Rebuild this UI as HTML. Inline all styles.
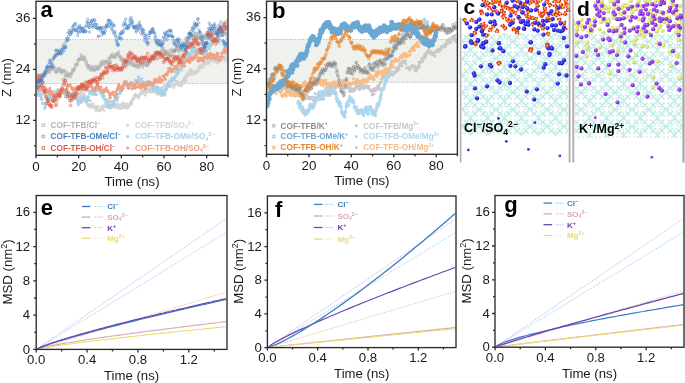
<!DOCTYPE html>
<html><head><meta charset="utf-8"><style>
html,body{margin:0;padding:0;background:#fff;}
svg{display:block;font-family:"Liberation Sans", sans-serif;will-change:transform;}
</style></head><body>
<svg width="685" height="383" viewBox="0 0 685 383">
<rect width="685" height="383" fill="#fff"/>
<defs>
<clipPath id="clip_a"><rect x="36.7" y="2.0" width="190.6" height="152.6"/></clipPath>
<clipPath id="clip_b"><rect x="267.2" y="1.9" width="189.5" height="151.7"/></clipPath>
</defs>
<rect x="36.0" y="39.6" width="192.0" height="43.9" fill="#eff1ec"/>
<path d="M36.0 39.6H228.0M36.0 83.5H228.0" stroke="#9a9a9a" stroke-width="0.8" stroke-dasharray="1 1.6" fill="none"/>
<g clip-path="url(#clip_a)">
<path d="M35.0 92.7a1.4 1.4 0 1 0 2.9 0a1.4 1.4 0 1 0 -2.9 0M35.5 91.8a1.4 1.4 0 1 0 2.9 0a1.4 1.4 0 1 0 -2.9 0M36.0 91.9a1.4 1.4 0 1 0 2.9 0a1.4 1.4 0 1 0 -2.9 0M36.5 92.5a1.4 1.4 0 1 0 2.9 0a1.4 1.4 0 1 0 -2.9 0M37.0 93.0a1.4 1.4 0 1 0 2.9 0a1.4 1.4 0 1 0 -2.9 0M37.5 91.3a1.4 1.4 0 1 0 2.9 0a1.4 1.4 0 1 0 -2.9 0M38.0 91.4a1.4 1.4 0 1 0 2.9 0a1.4 1.4 0 1 0 -2.9 0M38.5 92.6a1.4 1.4 0 1 0 2.9 0a1.4 1.4 0 1 0 -2.9 0M39.0 93.9a1.4 1.4 0 1 0 2.9 0a1.4 1.4 0 1 0 -2.9 0M39.5 92.6a1.4 1.4 0 1 0 2.9 0a1.4 1.4 0 1 0 -2.9 0M40.0 97.6a1.4 1.4 0 1 0 2.9 0a1.4 1.4 0 1 0 -2.9 0M40.5 94.5a1.4 1.4 0 1 0 2.9 0a1.4 1.4 0 1 0 -2.9 0M41.0 92.6a1.4 1.4 0 1 0 2.9 0a1.4 1.4 0 1 0 -2.9 0M41.5 94.2a1.4 1.4 0 1 0 2.9 0a1.4 1.4 0 1 0 -2.9 0M42.0 92.4a1.4 1.4 0 1 0 2.9 0a1.4 1.4 0 1 0 -2.9 0M42.5 92.8a1.4 1.4 0 1 0 2.9 0a1.4 1.4 0 1 0 -2.9 0M43.0 93.2a1.4 1.4 0 1 0 2.9 0a1.4 1.4 0 1 0 -2.9 0M43.5 93.1a1.4 1.4 0 1 0 2.9 0a1.4 1.4 0 1 0 -2.9 0M44.0 96.3a1.4 1.4 0 1 0 2.9 0a1.4 1.4 0 1 0 -2.9 0M44.5 92.6a1.4 1.4 0 1 0 2.9 0a1.4 1.4 0 1 0 -2.9 0M45.0 94.6a1.4 1.4 0 1 0 2.9 0a1.4 1.4 0 1 0 -2.9 0M45.5 95.0a1.4 1.4 0 1 0 2.9 0a1.4 1.4 0 1 0 -2.9 0M46.0 97.2a1.4 1.4 0 1 0 2.9 0a1.4 1.4 0 1 0 -2.9 0M46.5 93.0a1.4 1.4 0 1 0 2.9 0a1.4 1.4 0 1 0 -2.9 0M47.0 93.7a1.4 1.4 0 1 0 2.9 0a1.4 1.4 0 1 0 -2.9 0M47.5 93.7a1.4 1.4 0 1 0 2.9 0a1.4 1.4 0 1 0 -2.9 0M48.0 95.4a1.4 1.4 0 1 0 2.9 0a1.4 1.4 0 1 0 -2.9 0M48.5 94.4a1.4 1.4 0 1 0 2.9 0a1.4 1.4 0 1 0 -2.9 0M49.0 96.3a1.4 1.4 0 1 0 2.9 0a1.4 1.4 0 1 0 -2.9 0M49.5 94.5a1.4 1.4 0 1 0 2.9 0a1.4 1.4 0 1 0 -2.9 0M50.0 96.3a1.4 1.4 0 1 0 2.9 0a1.4 1.4 0 1 0 -2.9 0M50.5 97.1a1.4 1.4 0 1 0 2.9 0a1.4 1.4 0 1 0 -2.9 0M51.0 94.8a1.4 1.4 0 1 0 2.9 0a1.4 1.4 0 1 0 -2.9 0M51.5 96.6a1.4 1.4 0 1 0 2.9 0a1.4 1.4 0 1 0 -2.9 0M52.0 93.7a1.4 1.4 0 1 0 2.9 0a1.4 1.4 0 1 0 -2.9 0M52.5 91.4a1.4 1.4 0 1 0 2.9 0a1.4 1.4 0 1 0 -2.9 0M53.0 97.4a1.4 1.4 0 1 0 2.9 0a1.4 1.4 0 1 0 -2.9 0M53.5 95.5a1.4 1.4 0 1 0 2.9 0a1.4 1.4 0 1 0 -2.9 0M54.0 94.0a1.4 1.4 0 1 0 2.9 0a1.4 1.4 0 1 0 -2.9 0M54.5 96.3a1.4 1.4 0 1 0 2.9 0a1.4 1.4 0 1 0 -2.9 0M55.0 95.6a1.4 1.4 0 1 0 2.9 0a1.4 1.4 0 1 0 -2.9 0M55.5 90.9a1.4 1.4 0 1 0 2.9 0a1.4 1.4 0 1 0 -2.9 0M56.0 89.8a1.4 1.4 0 1 0 2.9 0a1.4 1.4 0 1 0 -2.9 0M56.5 89.7a1.4 1.4 0 1 0 2.9 0a1.4 1.4 0 1 0 -2.9 0M57.0 92.3a1.4 1.4 0 1 0 2.9 0a1.4 1.4 0 1 0 -2.9 0M57.5 89.8a1.4 1.4 0 1 0 2.9 0a1.4 1.4 0 1 0 -2.9 0M58.0 94.2a1.4 1.4 0 1 0 2.9 0a1.4 1.4 0 1 0 -2.9 0M58.5 91.3a1.4 1.4 0 1 0 2.9 0a1.4 1.4 0 1 0 -2.9 0M59.0 91.4a1.4 1.4 0 1 0 2.9 0a1.4 1.4 0 1 0 -2.9 0M59.5 89.8a1.4 1.4 0 1 0 2.9 0a1.4 1.4 0 1 0 -2.9 0M60.0 93.1a1.4 1.4 0 1 0 2.9 0a1.4 1.4 0 1 0 -2.9 0M60.5 92.1a1.4 1.4 0 1 0 2.9 0a1.4 1.4 0 1 0 -2.9 0M61.0 91.3a1.4 1.4 0 1 0 2.9 0a1.4 1.4 0 1 0 -2.9 0M61.5 91.3a1.4 1.4 0 1 0 2.9 0a1.4 1.4 0 1 0 -2.9 0M62.0 91.1a1.4 1.4 0 1 0 2.9 0a1.4 1.4 0 1 0 -2.9 0M62.5 90.5a1.4 1.4 0 1 0 2.9 0a1.4 1.4 0 1 0 -2.9 0M63.0 90.5a1.4 1.4 0 1 0 2.9 0a1.4 1.4 0 1 0 -2.9 0M63.5 92.7a1.4 1.4 0 1 0 2.9 0a1.4 1.4 0 1 0 -2.9 0M64.0 95.1a1.4 1.4 0 1 0 2.9 0a1.4 1.4 0 1 0 -2.9 0M64.5 93.4a1.4 1.4 0 1 0 2.9 0a1.4 1.4 0 1 0 -2.9 0M65.0 92.9a1.4 1.4 0 1 0 2.9 0a1.4 1.4 0 1 0 -2.9 0M65.5 92.5a1.4 1.4 0 1 0 2.9 0a1.4 1.4 0 1 0 -2.9 0M66.0 95.4a1.4 1.4 0 1 0 2.9 0a1.4 1.4 0 1 0 -2.9 0M66.5 92.8a1.4 1.4 0 1 0 2.9 0a1.4 1.4 0 1 0 -2.9 0M67.0 94.2a1.4 1.4 0 1 0 2.9 0a1.4 1.4 0 1 0 -2.9 0M67.5 93.5a1.4 1.4 0 1 0 2.9 0a1.4 1.4 0 1 0 -2.9 0M68.0 94.1a1.4 1.4 0 1 0 2.9 0a1.4 1.4 0 1 0 -2.9 0M68.5 95.1a1.4 1.4 0 1 0 2.9 0a1.4 1.4 0 1 0 -2.9 0M69.0 94.3a1.4 1.4 0 1 0 2.9 0a1.4 1.4 0 1 0 -2.9 0M69.5 93.4a1.4 1.4 0 1 0 2.9 0a1.4 1.4 0 1 0 -2.9 0M70.0 94.2a1.4 1.4 0 1 0 2.9 0a1.4 1.4 0 1 0 -2.9 0M70.5 93.1a1.4 1.4 0 1 0 2.9 0a1.4 1.4 0 1 0 -2.9 0M71.0 96.2a1.4 1.4 0 1 0 2.9 0a1.4 1.4 0 1 0 -2.9 0M71.5 95.7a1.4 1.4 0 1 0 2.9 0a1.4 1.4 0 1 0 -2.9 0M72.0 92.4a1.4 1.4 0 1 0 2.9 0a1.4 1.4 0 1 0 -2.9 0M72.5 90.9a1.4 1.4 0 1 0 2.9 0a1.4 1.4 0 1 0 -2.9 0M73.0 92.9a1.4 1.4 0 1 0 2.9 0a1.4 1.4 0 1 0 -2.9 0M73.5 96.7a1.4 1.4 0 1 0 2.9 0a1.4 1.4 0 1 0 -2.9 0M74.0 93.4a1.4 1.4 0 1 0 2.9 0a1.4 1.4 0 1 0 -2.9 0M74.5 95.5a1.4 1.4 0 1 0 2.9 0a1.4 1.4 0 1 0 -2.9 0M75.0 92.7a1.4 1.4 0 1 0 2.9 0a1.4 1.4 0 1 0 -2.9 0M75.5 93.4a1.4 1.4 0 1 0 2.9 0a1.4 1.4 0 1 0 -2.9 0M76.0 91.2a1.4 1.4 0 1 0 2.9 0a1.4 1.4 0 1 0 -2.9 0M76.5 94.1a1.4 1.4 0 1 0 2.9 0a1.4 1.4 0 1 0 -2.9 0M77.0 96.8a1.4 1.4 0 1 0 2.9 0a1.4 1.4 0 1 0 -2.9 0M77.5 96.7a1.4 1.4 0 1 0 2.9 0a1.4 1.4 0 1 0 -2.9 0M78.0 93.3a1.4 1.4 0 1 0 2.9 0a1.4 1.4 0 1 0 -2.9 0M78.5 98.4a1.4 1.4 0 1 0 2.9 0a1.4 1.4 0 1 0 -2.9 0M79.0 94.8a1.4 1.4 0 1 0 2.9 0a1.4 1.4 0 1 0 -2.9 0M79.5 92.3a1.4 1.4 0 1 0 2.9 0a1.4 1.4 0 1 0 -2.9 0M80.0 96.4a1.4 1.4 0 1 0 2.9 0a1.4 1.4 0 1 0 -2.9 0M80.5 96.9a1.4 1.4 0 1 0 2.9 0a1.4 1.4 0 1 0 -2.9 0M81.0 95.9a1.4 1.4 0 1 0 2.9 0a1.4 1.4 0 1 0 -2.9 0M81.5 96.6a1.4 1.4 0 1 0 2.9 0a1.4 1.4 0 1 0 -2.9 0M82.0 94.3a1.4 1.4 0 1 0 2.9 0a1.4 1.4 0 1 0 -2.9 0M82.5 93.7a1.4 1.4 0 1 0 2.9 0a1.4 1.4 0 1 0 -2.9 0M83.0 95.6a1.4 1.4 0 1 0 2.9 0a1.4 1.4 0 1 0 -2.9 0M83.5 97.0a1.4 1.4 0 1 0 2.9 0a1.4 1.4 0 1 0 -2.9 0M84.0 99.2a1.4 1.4 0 1 0 2.9 0a1.4 1.4 0 1 0 -2.9 0M84.5 101.3a1.4 1.4 0 1 0 2.9 0a1.4 1.4 0 1 0 -2.9 0M85.0 102.1a1.4 1.4 0 1 0 2.9 0a1.4 1.4 0 1 0 -2.9 0M85.5 100.4a1.4 1.4 0 1 0 2.9 0a1.4 1.4 0 1 0 -2.9 0M86.0 105.1a1.4 1.4 0 1 0 2.9 0a1.4 1.4 0 1 0 -2.9 0M86.5 105.2a1.4 1.4 0 1 0 2.9 0a1.4 1.4 0 1 0 -2.9 0M87.0 104.2a1.4 1.4 0 1 0 2.9 0a1.4 1.4 0 1 0 -2.9 0M87.5 105.8a1.4 1.4 0 1 0 2.9 0a1.4 1.4 0 1 0 -2.9 0M88.0 107.1a1.4 1.4 0 1 0 2.9 0a1.4 1.4 0 1 0 -2.9 0M88.5 105.7a1.4 1.4 0 1 0 2.9 0a1.4 1.4 0 1 0 -2.9 0M89.0 100.7a1.4 1.4 0 1 0 2.9 0a1.4 1.4 0 1 0 -2.9 0M89.5 104.4a1.4 1.4 0 1 0 2.9 0a1.4 1.4 0 1 0 -2.9 0M90.0 106.6a1.4 1.4 0 1 0 2.9 0a1.4 1.4 0 1 0 -2.9 0M90.5 104.2a1.4 1.4 0 1 0 2.9 0a1.4 1.4 0 1 0 -2.9 0M91.0 107.4a1.4 1.4 0 1 0 2.9 0a1.4 1.4 0 1 0 -2.9 0M91.5 104.0a1.4 1.4 0 1 0 2.9 0a1.4 1.4 0 1 0 -2.9 0M92.0 106.5a1.4 1.4 0 1 0 2.9 0a1.4 1.4 0 1 0 -2.9 0M92.5 106.8a1.4 1.4 0 1 0 2.9 0a1.4 1.4 0 1 0 -2.9 0M93.0 107.3a1.4 1.4 0 1 0 2.9 0a1.4 1.4 0 1 0 -2.9 0M93.5 108.3a1.4 1.4 0 1 0 2.9 0a1.4 1.4 0 1 0 -2.9 0M94.0 106.5a1.4 1.4 0 1 0 2.9 0a1.4 1.4 0 1 0 -2.9 0M94.5 110.4a1.4 1.4 0 1 0 2.9 0a1.4 1.4 0 1 0 -2.9 0M95.0 108.6a1.4 1.4 0 1 0 2.9 0a1.4 1.4 0 1 0 -2.9 0M95.5 107.8a1.4 1.4 0 1 0 2.9 0a1.4 1.4 0 1 0 -2.9 0M96.0 108.4a1.4 1.4 0 1 0 2.9 0a1.4 1.4 0 1 0 -2.9 0M96.5 106.2a1.4 1.4 0 1 0 2.9 0a1.4 1.4 0 1 0 -2.9 0M97.0 110.8a1.4 1.4 0 1 0 2.9 0a1.4 1.4 0 1 0 -2.9 0M97.5 110.1a1.4 1.4 0 1 0 2.9 0a1.4 1.4 0 1 0 -2.9 0M98.0 110.2a1.4 1.4 0 1 0 2.9 0a1.4 1.4 0 1 0 -2.9 0M98.5 111.1a1.4 1.4 0 1 0 2.9 0a1.4 1.4 0 1 0 -2.9 0M99.0 110.1a1.4 1.4 0 1 0 2.9 0a1.4 1.4 0 1 0 -2.9 0M99.5 106.6a1.4 1.4 0 1 0 2.9 0a1.4 1.4 0 1 0 -2.9 0M100.0 107.6a1.4 1.4 0 1 0 2.9 0a1.4 1.4 0 1 0 -2.9 0M100.5 109.0a1.4 1.4 0 1 0 2.9 0a1.4 1.4 0 1 0 -2.9 0M101.0 108.4a1.4 1.4 0 1 0 2.9 0a1.4 1.4 0 1 0 -2.9 0M101.5 107.2a1.4 1.4 0 1 0 2.9 0a1.4 1.4 0 1 0 -2.9 0M102.0 105.8a1.4 1.4 0 1 0 2.9 0a1.4 1.4 0 1 0 -2.9 0M102.5 110.4a1.4 1.4 0 1 0 2.9 0a1.4 1.4 0 1 0 -2.9 0M103.0 106.9a1.4 1.4 0 1 0 2.9 0a1.4 1.4 0 1 0 -2.9 0M103.5 105.5a1.4 1.4 0 1 0 2.9 0a1.4 1.4 0 1 0 -2.9 0M104.0 103.5a1.4 1.4 0 1 0 2.9 0a1.4 1.4 0 1 0 -2.9 0M104.5 106.3a1.4 1.4 0 1 0 2.9 0a1.4 1.4 0 1 0 -2.9 0M105.0 106.8a1.4 1.4 0 1 0 2.9 0a1.4 1.4 0 1 0 -2.9 0M105.5 102.7a1.4 1.4 0 1 0 2.9 0a1.4 1.4 0 1 0 -2.9 0M106.0 101.6a1.4 1.4 0 1 0 2.9 0a1.4 1.4 0 1 0 -2.9 0M106.5 99.9a1.4 1.4 0 1 0 2.9 0a1.4 1.4 0 1 0 -2.9 0M107.0 107.0a1.4 1.4 0 1 0 2.9 0a1.4 1.4 0 1 0 -2.9 0M107.5 101.3a1.4 1.4 0 1 0 2.9 0a1.4 1.4 0 1 0 -2.9 0M108.0 105.8a1.4 1.4 0 1 0 2.9 0a1.4 1.4 0 1 0 -2.9 0M108.5 105.5a1.4 1.4 0 1 0 2.9 0a1.4 1.4 0 1 0 -2.9 0M109.0 103.4a1.4 1.4 0 1 0 2.9 0a1.4 1.4 0 1 0 -2.9 0M109.5 103.2a1.4 1.4 0 1 0 2.9 0a1.4 1.4 0 1 0 -2.9 0M110.0 101.3a1.4 1.4 0 1 0 2.9 0a1.4 1.4 0 1 0 -2.9 0M110.5 103.5a1.4 1.4 0 1 0 2.9 0a1.4 1.4 0 1 0 -2.9 0M111.0 106.7a1.4 1.4 0 1 0 2.9 0a1.4 1.4 0 1 0 -2.9 0M111.5 106.5a1.4 1.4 0 1 0 2.9 0a1.4 1.4 0 1 0 -2.9 0M112.0 106.0a1.4 1.4 0 1 0 2.9 0a1.4 1.4 0 1 0 -2.9 0M112.5 105.5a1.4 1.4 0 1 0 2.9 0a1.4 1.4 0 1 0 -2.9 0M113.0 107.3a1.4 1.4 0 1 0 2.9 0a1.4 1.4 0 1 0 -2.9 0M113.5 106.9a1.4 1.4 0 1 0 2.9 0a1.4 1.4 0 1 0 -2.9 0M114.0 106.9a1.4 1.4 0 1 0 2.9 0a1.4 1.4 0 1 0 -2.9 0M114.5 107.9a1.4 1.4 0 1 0 2.9 0a1.4 1.4 0 1 0 -2.9 0M115.0 105.7a1.4 1.4 0 1 0 2.9 0a1.4 1.4 0 1 0 -2.9 0M115.5 104.7a1.4 1.4 0 1 0 2.9 0a1.4 1.4 0 1 0 -2.9 0M116.0 103.9a1.4 1.4 0 1 0 2.9 0a1.4 1.4 0 1 0 -2.9 0M116.5 106.1a1.4 1.4 0 1 0 2.9 0a1.4 1.4 0 1 0 -2.9 0M117.0 104.8a1.4 1.4 0 1 0 2.9 0a1.4 1.4 0 1 0 -2.9 0M117.5 108.4a1.4 1.4 0 1 0 2.9 0a1.4 1.4 0 1 0 -2.9 0M118.0 108.3a1.4 1.4 0 1 0 2.9 0a1.4 1.4 0 1 0 -2.9 0M118.5 105.5a1.4 1.4 0 1 0 2.9 0a1.4 1.4 0 1 0 -2.9 0M119.0 108.6a1.4 1.4 0 1 0 2.9 0a1.4 1.4 0 1 0 -2.9 0M119.5 108.5a1.4 1.4 0 1 0 2.9 0a1.4 1.4 0 1 0 -2.9 0M120.0 104.4a1.4 1.4 0 1 0 2.9 0a1.4 1.4 0 1 0 -2.9 0M120.5 104.8a1.4 1.4 0 1 0 2.9 0a1.4 1.4 0 1 0 -2.9 0M121.0 107.2a1.4 1.4 0 1 0 2.9 0a1.4 1.4 0 1 0 -2.9 0M121.5 102.8a1.4 1.4 0 1 0 2.9 0a1.4 1.4 0 1 0 -2.9 0M122.0 103.8a1.4 1.4 0 1 0 2.9 0a1.4 1.4 0 1 0 -2.9 0M122.5 106.9a1.4 1.4 0 1 0 2.9 0a1.4 1.4 0 1 0 -2.9 0M123.0 108.1a1.4 1.4 0 1 0 2.9 0a1.4 1.4 0 1 0 -2.9 0M123.5 105.8a1.4 1.4 0 1 0 2.9 0a1.4 1.4 0 1 0 -2.9 0M124.0 105.2a1.4 1.4 0 1 0 2.9 0a1.4 1.4 0 1 0 -2.9 0M124.5 104.3a1.4 1.4 0 1 0 2.9 0a1.4 1.4 0 1 0 -2.9 0M125.0 105.5a1.4 1.4 0 1 0 2.9 0a1.4 1.4 0 1 0 -2.9 0M125.5 104.1a1.4 1.4 0 1 0 2.9 0a1.4 1.4 0 1 0 -2.9 0M126.0 108.3a1.4 1.4 0 1 0 2.9 0a1.4 1.4 0 1 0 -2.9 0M126.5 107.2a1.4 1.4 0 1 0 2.9 0a1.4 1.4 0 1 0 -2.9 0M127.0 106.7a1.4 1.4 0 1 0 2.9 0a1.4 1.4 0 1 0 -2.9 0M127.5 104.6a1.4 1.4 0 1 0 2.9 0a1.4 1.4 0 1 0 -2.9 0M128.1 105.5a1.4 1.4 0 1 0 2.9 0a1.4 1.4 0 1 0 -2.9 0M128.6 104.1a1.4 1.4 0 1 0 2.9 0a1.4 1.4 0 1 0 -2.9 0M129.1 102.8a1.4 1.4 0 1 0 2.9 0a1.4 1.4 0 1 0 -2.9 0M129.6 101.1a1.4 1.4 0 1 0 2.9 0a1.4 1.4 0 1 0 -2.9 0M130.1 104.3a1.4 1.4 0 1 0 2.9 0a1.4 1.4 0 1 0 -2.9 0M130.6 102.1a1.4 1.4 0 1 0 2.9 0a1.4 1.4 0 1 0 -2.9 0M131.1 99.2a1.4 1.4 0 1 0 2.9 0a1.4 1.4 0 1 0 -2.9 0M131.6 98.5a1.4 1.4 0 1 0 2.9 0a1.4 1.4 0 1 0 -2.9 0M132.1 99.4a1.4 1.4 0 1 0 2.9 0a1.4 1.4 0 1 0 -2.9 0M132.6 97.7a1.4 1.4 0 1 0 2.9 0a1.4 1.4 0 1 0 -2.9 0M133.1 95.7a1.4 1.4 0 1 0 2.9 0a1.4 1.4 0 1 0 -2.9 0M133.6 95.2a1.4 1.4 0 1 0 2.9 0a1.4 1.4 0 1 0 -2.9 0M134.1 94.3a1.4 1.4 0 1 0 2.9 0a1.4 1.4 0 1 0 -2.9 0M134.6 95.4a1.4 1.4 0 1 0 2.9 0a1.4 1.4 0 1 0 -2.9 0M135.1 96.4a1.4 1.4 0 1 0 2.9 0a1.4 1.4 0 1 0 -2.9 0M135.6 96.2a1.4 1.4 0 1 0 2.9 0a1.4 1.4 0 1 0 -2.9 0M136.1 95.8a1.4 1.4 0 1 0 2.9 0a1.4 1.4 0 1 0 -2.9 0M136.6 97.4a1.4 1.4 0 1 0 2.9 0a1.4 1.4 0 1 0 -2.9 0M137.1 98.1a1.4 1.4 0 1 0 2.9 0a1.4 1.4 0 1 0 -2.9 0M137.6 96.5a1.4 1.4 0 1 0 2.9 0a1.4 1.4 0 1 0 -2.9 0M138.1 95.0a1.4 1.4 0 1 0 2.9 0a1.4 1.4 0 1 0 -2.9 0M138.6 93.9a1.4 1.4 0 1 0 2.9 0a1.4 1.4 0 1 0 -2.9 0M139.1 94.4a1.4 1.4 0 1 0 2.9 0a1.4 1.4 0 1 0 -2.9 0M139.6 93.0a1.4 1.4 0 1 0 2.9 0a1.4 1.4 0 1 0 -2.9 0M140.1 91.3a1.4 1.4 0 1 0 2.9 0a1.4 1.4 0 1 0 -2.9 0M140.6 91.1a1.4 1.4 0 1 0 2.9 0a1.4 1.4 0 1 0 -2.9 0M141.1 93.7a1.4 1.4 0 1 0 2.9 0a1.4 1.4 0 1 0 -2.9 0M141.6 91.7a1.4 1.4 0 1 0 2.9 0a1.4 1.4 0 1 0 -2.9 0M142.1 91.7a1.4 1.4 0 1 0 2.9 0a1.4 1.4 0 1 0 -2.9 0M142.6 90.6a1.4 1.4 0 1 0 2.9 0a1.4 1.4 0 1 0 -2.9 0M143.1 89.5a1.4 1.4 0 1 0 2.9 0a1.4 1.4 0 1 0 -2.9 0M143.6 95.2a1.4 1.4 0 1 0 2.9 0a1.4 1.4 0 1 0 -2.9 0M144.1 91.9a1.4 1.4 0 1 0 2.9 0a1.4 1.4 0 1 0 -2.9 0M144.6 92.8a1.4 1.4 0 1 0 2.9 0a1.4 1.4 0 1 0 -2.9 0M145.1 92.6a1.4 1.4 0 1 0 2.9 0a1.4 1.4 0 1 0 -2.9 0M145.6 92.4a1.4 1.4 0 1 0 2.9 0a1.4 1.4 0 1 0 -2.9 0M146.1 89.4a1.4 1.4 0 1 0 2.9 0a1.4 1.4 0 1 0 -2.9 0M146.6 90.1a1.4 1.4 0 1 0 2.9 0a1.4 1.4 0 1 0 -2.9 0M147.1 90.9a1.4 1.4 0 1 0 2.9 0a1.4 1.4 0 1 0 -2.9 0M147.6 88.9a1.4 1.4 0 1 0 2.9 0a1.4 1.4 0 1 0 -2.9 0M148.1 87.9a1.4 1.4 0 1 0 2.9 0a1.4 1.4 0 1 0 -2.9 0M148.6 92.2a1.4 1.4 0 1 0 2.9 0a1.4 1.4 0 1 0 -2.9 0M149.1 90.8a1.4 1.4 0 1 0 2.9 0a1.4 1.4 0 1 0 -2.9 0M149.6 89.4a1.4 1.4 0 1 0 2.9 0a1.4 1.4 0 1 0 -2.9 0M150.1 89.3a1.4 1.4 0 1 0 2.9 0a1.4 1.4 0 1 0 -2.9 0M150.6 92.0a1.4 1.4 0 1 0 2.9 0a1.4 1.4 0 1 0 -2.9 0M151.1 91.0a1.4 1.4 0 1 0 2.9 0a1.4 1.4 0 1 0 -2.9 0M151.6 88.7a1.4 1.4 0 1 0 2.9 0a1.4 1.4 0 1 0 -2.9 0M152.1 91.2a1.4 1.4 0 1 0 2.9 0a1.4 1.4 0 1 0 -2.9 0M152.6 87.3a1.4 1.4 0 1 0 2.9 0a1.4 1.4 0 1 0 -2.9 0M153.1 87.7a1.4 1.4 0 1 0 2.9 0a1.4 1.4 0 1 0 -2.9 0M153.6 90.8a1.4 1.4 0 1 0 2.9 0a1.4 1.4 0 1 0 -2.9 0M154.1 91.8a1.4 1.4 0 1 0 2.9 0a1.4 1.4 0 1 0 -2.9 0M154.6 93.5a1.4 1.4 0 1 0 2.9 0a1.4 1.4 0 1 0 -2.9 0M155.1 93.1a1.4 1.4 0 1 0 2.9 0a1.4 1.4 0 1 0 -2.9 0M155.6 93.9a1.4 1.4 0 1 0 2.9 0a1.4 1.4 0 1 0 -2.9 0M156.1 91.5a1.4 1.4 0 1 0 2.9 0a1.4 1.4 0 1 0 -2.9 0M156.6 89.3a1.4 1.4 0 1 0 2.9 0a1.4 1.4 0 1 0 -2.9 0M157.1 90.3a1.4 1.4 0 1 0 2.9 0a1.4 1.4 0 1 0 -2.9 0M157.6 94.3a1.4 1.4 0 1 0 2.9 0a1.4 1.4 0 1 0 -2.9 0M158.1 91.1a1.4 1.4 0 1 0 2.9 0a1.4 1.4 0 1 0 -2.9 0M158.6 91.6a1.4 1.4 0 1 0 2.9 0a1.4 1.4 0 1 0 -2.9 0M159.1 90.8a1.4 1.4 0 1 0 2.9 0a1.4 1.4 0 1 0 -2.9 0M159.6 90.5a1.4 1.4 0 1 0 2.9 0a1.4 1.4 0 1 0 -2.9 0M160.1 90.1a1.4 1.4 0 1 0 2.9 0a1.4 1.4 0 1 0 -2.9 0M160.6 87.6a1.4 1.4 0 1 0 2.9 0a1.4 1.4 0 1 0 -2.9 0M161.1 87.8a1.4 1.4 0 1 0 2.9 0a1.4 1.4 0 1 0 -2.9 0M161.6 88.8a1.4 1.4 0 1 0 2.9 0a1.4 1.4 0 1 0 -2.9 0M162.1 89.6a1.4 1.4 0 1 0 2.9 0a1.4 1.4 0 1 0 -2.9 0M162.6 88.5a1.4 1.4 0 1 0 2.9 0a1.4 1.4 0 1 0 -2.9 0M163.1 85.2a1.4 1.4 0 1 0 2.9 0a1.4 1.4 0 1 0 -2.9 0M163.6 87.3a1.4 1.4 0 1 0 2.9 0a1.4 1.4 0 1 0 -2.9 0M164.1 88.0a1.4 1.4 0 1 0 2.9 0a1.4 1.4 0 1 0 -2.9 0M164.6 85.6a1.4 1.4 0 1 0 2.9 0a1.4 1.4 0 1 0 -2.9 0M165.1 89.0a1.4 1.4 0 1 0 2.9 0a1.4 1.4 0 1 0 -2.9 0M165.6 87.1a1.4 1.4 0 1 0 2.9 0a1.4 1.4 0 1 0 -2.9 0M166.1 86.5a1.4 1.4 0 1 0 2.9 0a1.4 1.4 0 1 0 -2.9 0M166.6 82.6a1.4 1.4 0 1 0 2.9 0a1.4 1.4 0 1 0 -2.9 0M167.1 83.3a1.4 1.4 0 1 0 2.9 0a1.4 1.4 0 1 0 -2.9 0M167.6 81.5a1.4 1.4 0 1 0 2.9 0a1.4 1.4 0 1 0 -2.9 0M168.1 83.3a1.4 1.4 0 1 0 2.9 0a1.4 1.4 0 1 0 -2.9 0M168.6 86.9a1.4 1.4 0 1 0 2.9 0a1.4 1.4 0 1 0 -2.9 0M169.1 86.0a1.4 1.4 0 1 0 2.9 0a1.4 1.4 0 1 0 -2.9 0M169.6 85.1a1.4 1.4 0 1 0 2.9 0a1.4 1.4 0 1 0 -2.9 0M170.1 83.4a1.4 1.4 0 1 0 2.9 0a1.4 1.4 0 1 0 -2.9 0M170.6 84.6a1.4 1.4 0 1 0 2.9 0a1.4 1.4 0 1 0 -2.9 0M171.1 84.4a1.4 1.4 0 1 0 2.9 0a1.4 1.4 0 1 0 -2.9 0M171.6 84.3a1.4 1.4 0 1 0 2.9 0a1.4 1.4 0 1 0 -2.9 0M172.1 87.8a1.4 1.4 0 1 0 2.9 0a1.4 1.4 0 1 0 -2.9 0M172.6 86.7a1.4 1.4 0 1 0 2.9 0a1.4 1.4 0 1 0 -2.9 0M173.1 85.6a1.4 1.4 0 1 0 2.9 0a1.4 1.4 0 1 0 -2.9 0M173.6 83.8a1.4 1.4 0 1 0 2.9 0a1.4 1.4 0 1 0 -2.9 0M174.1 84.8a1.4 1.4 0 1 0 2.9 0a1.4 1.4 0 1 0 -2.9 0M174.6 81.2a1.4 1.4 0 1 0 2.9 0a1.4 1.4 0 1 0 -2.9 0M175.1 84.1a1.4 1.4 0 1 0 2.9 0a1.4 1.4 0 1 0 -2.9 0M175.6 81.4a1.4 1.4 0 1 0 2.9 0a1.4 1.4 0 1 0 -2.9 0M176.1 81.9a1.4 1.4 0 1 0 2.9 0a1.4 1.4 0 1 0 -2.9 0M176.6 82.3a1.4 1.4 0 1 0 2.9 0a1.4 1.4 0 1 0 -2.9 0M177.1 83.5a1.4 1.4 0 1 0 2.9 0a1.4 1.4 0 1 0 -2.9 0M177.6 85.9a1.4 1.4 0 1 0 2.9 0a1.4 1.4 0 1 0 -2.9 0M178.1 84.7a1.4 1.4 0 1 0 2.9 0a1.4 1.4 0 1 0 -2.9 0M178.6 83.6a1.4 1.4 0 1 0 2.9 0a1.4 1.4 0 1 0 -2.9 0M179.1 85.2a1.4 1.4 0 1 0 2.9 0a1.4 1.4 0 1 0 -2.9 0M179.6 82.9a1.4 1.4 0 1 0 2.9 0a1.4 1.4 0 1 0 -2.9 0M180.1 85.5a1.4 1.4 0 1 0 2.9 0a1.4 1.4 0 1 0 -2.9 0M180.6 84.8a1.4 1.4 0 1 0 2.9 0a1.4 1.4 0 1 0 -2.9 0M181.1 81.0a1.4 1.4 0 1 0 2.9 0a1.4 1.4 0 1 0 -2.9 0M181.6 82.6a1.4 1.4 0 1 0 2.9 0a1.4 1.4 0 1 0 -2.9 0M182.1 79.9a1.4 1.4 0 1 0 2.9 0a1.4 1.4 0 1 0 -2.9 0M182.6 79.1a1.4 1.4 0 1 0 2.9 0a1.4 1.4 0 1 0 -2.9 0M183.1 77.3a1.4 1.4 0 1 0 2.9 0a1.4 1.4 0 1 0 -2.9 0M183.6 81.5a1.4 1.4 0 1 0 2.9 0a1.4 1.4 0 1 0 -2.9 0M184.1 78.8a1.4 1.4 0 1 0 2.9 0a1.4 1.4 0 1 0 -2.9 0M184.6 80.5a1.4 1.4 0 1 0 2.9 0a1.4 1.4 0 1 0 -2.9 0M185.1 75.0a1.4 1.4 0 1 0 2.9 0a1.4 1.4 0 1 0 -2.9 0M185.6 76.3a1.4 1.4 0 1 0 2.9 0a1.4 1.4 0 1 0 -2.9 0M186.1 73.4a1.4 1.4 0 1 0 2.9 0a1.4 1.4 0 1 0 -2.9 0M186.6 74.2a1.4 1.4 0 1 0 2.9 0a1.4 1.4 0 1 0 -2.9 0M187.1 73.7a1.4 1.4 0 1 0 2.9 0a1.4 1.4 0 1 0 -2.9 0M187.6 70.6a1.4 1.4 0 1 0 2.9 0a1.4 1.4 0 1 0 -2.9 0M188.1 75.0a1.4 1.4 0 1 0 2.9 0a1.4 1.4 0 1 0 -2.9 0M188.6 73.4a1.4 1.4 0 1 0 2.9 0a1.4 1.4 0 1 0 -2.9 0M189.1 71.6a1.4 1.4 0 1 0 2.9 0a1.4 1.4 0 1 0 -2.9 0M189.6 69.3a1.4 1.4 0 1 0 2.9 0a1.4 1.4 0 1 0 -2.9 0M190.1 71.5a1.4 1.4 0 1 0 2.9 0a1.4 1.4 0 1 0 -2.9 0M190.6 74.3a1.4 1.4 0 1 0 2.9 0a1.4 1.4 0 1 0 -2.9 0M191.1 73.6a1.4 1.4 0 1 0 2.9 0a1.4 1.4 0 1 0 -2.9 0M191.6 72.9a1.4 1.4 0 1 0 2.9 0a1.4 1.4 0 1 0 -2.9 0M192.1 73.7a1.4 1.4 0 1 0 2.9 0a1.4 1.4 0 1 0 -2.9 0M192.6 71.6a1.4 1.4 0 1 0 2.9 0a1.4 1.4 0 1 0 -2.9 0M193.1 73.1a1.4 1.4 0 1 0 2.9 0a1.4 1.4 0 1 0 -2.9 0M193.6 73.9a1.4 1.4 0 1 0 2.9 0a1.4 1.4 0 1 0 -2.9 0M194.1 72.3a1.4 1.4 0 1 0 2.9 0a1.4 1.4 0 1 0 -2.9 0M194.6 72.5a1.4 1.4 0 1 0 2.9 0a1.4 1.4 0 1 0 -2.9 0M195.1 71.1a1.4 1.4 0 1 0 2.9 0a1.4 1.4 0 1 0 -2.9 0M195.6 72.1a1.4 1.4 0 1 0 2.9 0a1.4 1.4 0 1 0 -2.9 0M196.1 69.3a1.4 1.4 0 1 0 2.9 0a1.4 1.4 0 1 0 -2.9 0M196.6 71.0a1.4 1.4 0 1 0 2.9 0a1.4 1.4 0 1 0 -2.9 0M197.1 67.8a1.4 1.4 0 1 0 2.9 0a1.4 1.4 0 1 0 -2.9 0M197.6 67.5a1.4 1.4 0 1 0 2.9 0a1.4 1.4 0 1 0 -2.9 0M198.1 69.2a1.4 1.4 0 1 0 2.9 0a1.4 1.4 0 1 0 -2.9 0M198.6 65.8a1.4 1.4 0 1 0 2.9 0a1.4 1.4 0 1 0 -2.9 0M199.1 67.0a1.4 1.4 0 1 0 2.9 0a1.4 1.4 0 1 0 -2.9 0M199.6 67.2a1.4 1.4 0 1 0 2.9 0a1.4 1.4 0 1 0 -2.9 0M200.1 67.0a1.4 1.4 0 1 0 2.9 0a1.4 1.4 0 1 0 -2.9 0M200.6 67.0a1.4 1.4 0 1 0 2.9 0a1.4 1.4 0 1 0 -2.9 0M201.1 65.1a1.4 1.4 0 1 0 2.9 0a1.4 1.4 0 1 0 -2.9 0M201.6 67.5a1.4 1.4 0 1 0 2.9 0a1.4 1.4 0 1 0 -2.9 0M202.1 64.4a1.4 1.4 0 1 0 2.9 0a1.4 1.4 0 1 0 -2.9 0M202.6 63.0a1.4 1.4 0 1 0 2.9 0a1.4 1.4 0 1 0 -2.9 0M203.1 62.7a1.4 1.4 0 1 0 2.9 0a1.4 1.4 0 1 0 -2.9 0M203.6 64.6a1.4 1.4 0 1 0 2.9 0a1.4 1.4 0 1 0 -2.9 0M204.1 62.9a1.4 1.4 0 1 0 2.9 0a1.4 1.4 0 1 0 -2.9 0M204.6 64.4a1.4 1.4 0 1 0 2.9 0a1.4 1.4 0 1 0 -2.9 0M205.1 63.2a1.4 1.4 0 1 0 2.9 0a1.4 1.4 0 1 0 -2.9 0M205.6 60.5a1.4 1.4 0 1 0 2.9 0a1.4 1.4 0 1 0 -2.9 0M206.1 61.6a1.4 1.4 0 1 0 2.9 0a1.4 1.4 0 1 0 -2.9 0M206.6 60.5a1.4 1.4 0 1 0 2.9 0a1.4 1.4 0 1 0 -2.9 0M207.1 63.0a1.4 1.4 0 1 0 2.9 0a1.4 1.4 0 1 0 -2.9 0M207.6 63.5a1.4 1.4 0 1 0 2.9 0a1.4 1.4 0 1 0 -2.9 0M208.1 62.0a1.4 1.4 0 1 0 2.9 0a1.4 1.4 0 1 0 -2.9 0M208.6 58.8a1.4 1.4 0 1 0 2.9 0a1.4 1.4 0 1 0 -2.9 0M209.1 58.4a1.4 1.4 0 1 0 2.9 0a1.4 1.4 0 1 0 -2.9 0M209.6 55.2a1.4 1.4 0 1 0 2.9 0a1.4 1.4 0 1 0 -2.9 0M210.1 60.3a1.4 1.4 0 1 0 2.9 0a1.4 1.4 0 1 0 -2.9 0M210.6 60.3a1.4 1.4 0 1 0 2.9 0a1.4 1.4 0 1 0 -2.9 0M211.1 59.8a1.4 1.4 0 1 0 2.9 0a1.4 1.4 0 1 0 -2.9 0M211.6 56.9a1.4 1.4 0 1 0 2.9 0a1.4 1.4 0 1 0 -2.9 0M212.1 57.1a1.4 1.4 0 1 0 2.9 0a1.4 1.4 0 1 0 -2.9 0M212.6 61.5a1.4 1.4 0 1 0 2.9 0a1.4 1.4 0 1 0 -2.9 0M213.1 59.2a1.4 1.4 0 1 0 2.9 0a1.4 1.4 0 1 0 -2.9 0M213.6 60.4a1.4 1.4 0 1 0 2.9 0a1.4 1.4 0 1 0 -2.9 0M214.1 58.0a1.4 1.4 0 1 0 2.9 0a1.4 1.4 0 1 0 -2.9 0M214.6 59.7a1.4 1.4 0 1 0 2.9 0a1.4 1.4 0 1 0 -2.9 0M215.1 61.2a1.4 1.4 0 1 0 2.9 0a1.4 1.4 0 1 0 -2.9 0M215.6 63.3a1.4 1.4 0 1 0 2.9 0a1.4 1.4 0 1 0 -2.9 0M216.1 63.1a1.4 1.4 0 1 0 2.9 0a1.4 1.4 0 1 0 -2.9 0M216.6 61.2a1.4 1.4 0 1 0 2.9 0a1.4 1.4 0 1 0 -2.9 0M217.1 56.6a1.4 1.4 0 1 0 2.9 0a1.4 1.4 0 1 0 -2.9 0M217.6 61.5a1.4 1.4 0 1 0 2.9 0a1.4 1.4 0 1 0 -2.9 0M218.1 59.9a1.4 1.4 0 1 0 2.9 0a1.4 1.4 0 1 0 -2.9 0M218.6 61.4a1.4 1.4 0 1 0 2.9 0a1.4 1.4 0 1 0 -2.9 0M219.1 60.5a1.4 1.4 0 1 0 2.9 0a1.4 1.4 0 1 0 -2.9 0M219.6 58.2a1.4 1.4 0 1 0 2.9 0a1.4 1.4 0 1 0 -2.9 0M220.1 57.9a1.4 1.4 0 1 0 2.9 0a1.4 1.4 0 1 0 -2.9 0M220.6 59.0a1.4 1.4 0 1 0 2.9 0a1.4 1.4 0 1 0 -2.9 0M221.1 57.7a1.4 1.4 0 1 0 2.9 0a1.4 1.4 0 1 0 -2.9 0M221.6 59.8a1.4 1.4 0 1 0 2.9 0a1.4 1.4 0 1 0 -2.9 0M222.1 58.6a1.4 1.4 0 1 0 2.9 0a1.4 1.4 0 1 0 -2.9 0M222.6 57.1a1.4 1.4 0 1 0 2.9 0a1.4 1.4 0 1 0 -2.9 0M223.1 57.2a1.4 1.4 0 1 0 2.9 0a1.4 1.4 0 1 0 -2.9 0M223.6 59.0a1.4 1.4 0 1 0 2.9 0a1.4 1.4 0 1 0 -2.9 0M224.1 60.7a1.4 1.4 0 1 0 2.9 0a1.4 1.4 0 1 0 -2.9 0M224.6 55.5a1.4 1.4 0 1 0 2.9 0a1.4 1.4 0 1 0 -2.9 0M225.1 59.4a1.4 1.4 0 1 0 2.9 0a1.4 1.4 0 1 0 -2.9 0M225.6 57.7a1.4 1.4 0 1 0 2.9 0a1.4 1.4 0 1 0 -2.9 0" fill="#d4d4d4"/>
<path d="M35.0 92.6a1.5 1.5 0 1 0 3.0 0a1.5 1.5 0 1 0 -3.0 0M35.5 91.4a1.5 1.5 0 1 0 3.0 0a1.5 1.5 0 1 0 -3.0 0M35.9 95.3a1.5 1.5 0 1 0 3.0 0a1.5 1.5 0 1 0 -3.0 0M36.4 91.5a1.5 1.5 0 1 0 3.0 0a1.5 1.5 0 1 0 -3.0 0M36.8 91.9a1.5 1.5 0 1 0 3.0 0a1.5 1.5 0 1 0 -3.0 0M37.3 89.3a1.5 1.5 0 1 0 3.0 0a1.5 1.5 0 1 0 -3.0 0M37.7 91.8a1.5 1.5 0 1 0 3.0 0a1.5 1.5 0 1 0 -3.0 0M38.2 95.4a1.5 1.5 0 1 0 3.0 0a1.5 1.5 0 1 0 -3.0 0M38.6 95.8a1.5 1.5 0 1 0 3.0 0a1.5 1.5 0 1 0 -3.0 0M39.1 95.7a1.5 1.5 0 1 0 3.0 0a1.5 1.5 0 1 0 -3.0 0M39.5 98.4a1.5 1.5 0 1 0 3.0 0a1.5 1.5 0 1 0 -3.0 0M40.0 99.0a1.5 1.5 0 1 0 3.0 0a1.5 1.5 0 1 0 -3.0 0M40.4 99.5a1.5 1.5 0 1 0 3.0 0a1.5 1.5 0 1 0 -3.0 0M40.9 103.2a1.5 1.5 0 1 0 3.0 0a1.5 1.5 0 1 0 -3.0 0M41.3 103.2a1.5 1.5 0 1 0 3.0 0a1.5 1.5 0 1 0 -3.0 0M41.8 103.8a1.5 1.5 0 1 0 3.0 0a1.5 1.5 0 1 0 -3.0 0M42.2 103.4a1.5 1.5 0 1 0 3.0 0a1.5 1.5 0 1 0 -3.0 0M42.7 102.9a1.5 1.5 0 1 0 3.0 0a1.5 1.5 0 1 0 -3.0 0M43.1 108.4a1.5 1.5 0 1 0 3.0 0a1.5 1.5 0 1 0 -3.0 0M43.6 107.1a1.5 1.5 0 1 0 3.0 0a1.5 1.5 0 1 0 -3.0 0M44.0 104.0a1.5 1.5 0 1 0 3.0 0a1.5 1.5 0 1 0 -3.0 0M44.5 104.3a1.5 1.5 0 1 0 3.0 0a1.5 1.5 0 1 0 -3.0 0M44.9 103.5a1.5 1.5 0 1 0 3.0 0a1.5 1.5 0 1 0 -3.0 0M45.4 102.5a1.5 1.5 0 1 0 3.0 0a1.5 1.5 0 1 0 -3.0 0M45.8 99.2a1.5 1.5 0 1 0 3.0 0a1.5 1.5 0 1 0 -3.0 0M46.3 101.3a1.5 1.5 0 1 0 3.0 0a1.5 1.5 0 1 0 -3.0 0M46.7 95.5a1.5 1.5 0 1 0 3.0 0a1.5 1.5 0 1 0 -3.0 0M47.2 97.9a1.5 1.5 0 1 0 3.0 0a1.5 1.5 0 1 0 -3.0 0M47.6 97.0a1.5 1.5 0 1 0 3.0 0a1.5 1.5 0 1 0 -3.0 0M48.1 97.6a1.5 1.5 0 1 0 3.0 0a1.5 1.5 0 1 0 -3.0 0M48.5 94.6a1.5 1.5 0 1 0 3.0 0a1.5 1.5 0 1 0 -3.0 0M49.0 94.3a1.5 1.5 0 1 0 3.0 0a1.5 1.5 0 1 0 -3.0 0M49.4 97.9a1.5 1.5 0 1 0 3.0 0a1.5 1.5 0 1 0 -3.0 0M49.9 94.9a1.5 1.5 0 1 0 3.0 0a1.5 1.5 0 1 0 -3.0 0M50.3 100.0a1.5 1.5 0 1 0 3.0 0a1.5 1.5 0 1 0 -3.0 0M50.8 98.7a1.5 1.5 0 1 0 3.0 0a1.5 1.5 0 1 0 -3.0 0M51.2 97.6a1.5 1.5 0 1 0 3.0 0a1.5 1.5 0 1 0 -3.0 0M51.7 98.1a1.5 1.5 0 1 0 3.0 0a1.5 1.5 0 1 0 -3.0 0M52.1 98.2a1.5 1.5 0 1 0 3.0 0a1.5 1.5 0 1 0 -3.0 0M52.6 101.6a1.5 1.5 0 1 0 3.0 0a1.5 1.5 0 1 0 -3.0 0M53.0 99.7a1.5 1.5 0 1 0 3.0 0a1.5 1.5 0 1 0 -3.0 0M53.5 98.0a1.5 1.5 0 1 0 3.0 0a1.5 1.5 0 1 0 -3.0 0M53.9 97.8a1.5 1.5 0 1 0 3.0 0a1.5 1.5 0 1 0 -3.0 0M54.4 92.9a1.5 1.5 0 1 0 3.0 0a1.5 1.5 0 1 0 -3.0 0M54.8 92.2a1.5 1.5 0 1 0 3.0 0a1.5 1.5 0 1 0 -3.0 0M55.3 93.7a1.5 1.5 0 1 0 3.0 0a1.5 1.5 0 1 0 -3.0 0M55.7 94.0a1.5 1.5 0 1 0 3.0 0a1.5 1.5 0 1 0 -3.0 0M56.2 90.8a1.5 1.5 0 1 0 3.0 0a1.5 1.5 0 1 0 -3.0 0M56.6 90.9a1.5 1.5 0 1 0 3.0 0a1.5 1.5 0 1 0 -3.0 0M57.1 93.3a1.5 1.5 0 1 0 3.0 0a1.5 1.5 0 1 0 -3.0 0M57.5 89.8a1.5 1.5 0 1 0 3.0 0a1.5 1.5 0 1 0 -3.0 0M58.0 90.7a1.5 1.5 0 1 0 3.0 0a1.5 1.5 0 1 0 -3.0 0M58.4 89.7a1.5 1.5 0 1 0 3.0 0a1.5 1.5 0 1 0 -3.0 0M58.9 93.9a1.5 1.5 0 1 0 3.0 0a1.5 1.5 0 1 0 -3.0 0M59.3 94.5a1.5 1.5 0 1 0 3.0 0a1.5 1.5 0 1 0 -3.0 0M59.8 90.6a1.5 1.5 0 1 0 3.0 0a1.5 1.5 0 1 0 -3.0 0M60.2 92.0a1.5 1.5 0 1 0 3.0 0a1.5 1.5 0 1 0 -3.0 0M60.7 91.5a1.5 1.5 0 1 0 3.0 0a1.5 1.5 0 1 0 -3.0 0M61.1 91.6a1.5 1.5 0 1 0 3.0 0a1.5 1.5 0 1 0 -3.0 0M61.6 92.5a1.5 1.5 0 1 0 3.0 0a1.5 1.5 0 1 0 -3.0 0M62.0 89.6a1.5 1.5 0 1 0 3.0 0a1.5 1.5 0 1 0 -3.0 0M62.5 89.8a1.5 1.5 0 1 0 3.0 0a1.5 1.5 0 1 0 -3.0 0M62.9 93.8a1.5 1.5 0 1 0 3.0 0a1.5 1.5 0 1 0 -3.0 0M63.4 94.2a1.5 1.5 0 1 0 3.0 0a1.5 1.5 0 1 0 -3.0 0M63.8 96.7a1.5 1.5 0 1 0 3.0 0a1.5 1.5 0 1 0 -3.0 0M64.3 94.7a1.5 1.5 0 1 0 3.0 0a1.5 1.5 0 1 0 -3.0 0M64.7 93.9a1.5 1.5 0 1 0 3.0 0a1.5 1.5 0 1 0 -3.0 0M65.2 92.8a1.5 1.5 0 1 0 3.0 0a1.5 1.5 0 1 0 -3.0 0M65.6 97.0a1.5 1.5 0 1 0 3.0 0a1.5 1.5 0 1 0 -3.0 0M66.1 94.2a1.5 1.5 0 1 0 3.0 0a1.5 1.5 0 1 0 -3.0 0M66.5 95.1a1.5 1.5 0 1 0 3.0 0a1.5 1.5 0 1 0 -3.0 0M67.0 92.9a1.5 1.5 0 1 0 3.0 0a1.5 1.5 0 1 0 -3.0 0M67.4 96.6a1.5 1.5 0 1 0 3.0 0a1.5 1.5 0 1 0 -3.0 0M67.9 95.7a1.5 1.5 0 1 0 3.0 0a1.5 1.5 0 1 0 -3.0 0M68.3 96.1a1.5 1.5 0 1 0 3.0 0a1.5 1.5 0 1 0 -3.0 0M68.8 95.8a1.5 1.5 0 1 0 3.0 0a1.5 1.5 0 1 0 -3.0 0M69.2 96.7a1.5 1.5 0 1 0 3.0 0a1.5 1.5 0 1 0 -3.0 0M69.7 99.5a1.5 1.5 0 1 0 3.0 0a1.5 1.5 0 1 0 -3.0 0M70.1 97.5a1.5 1.5 0 1 0 3.0 0a1.5 1.5 0 1 0 -3.0 0M70.6 98.6a1.5 1.5 0 1 0 3.0 0a1.5 1.5 0 1 0 -3.0 0M71.0 95.7a1.5 1.5 0 1 0 3.0 0a1.5 1.5 0 1 0 -3.0 0M71.5 99.2a1.5 1.5 0 1 0 3.0 0a1.5 1.5 0 1 0 -3.0 0M71.9 98.5a1.5 1.5 0 1 0 3.0 0a1.5 1.5 0 1 0 -3.0 0M72.4 95.3a1.5 1.5 0 1 0 3.0 0a1.5 1.5 0 1 0 -3.0 0M72.8 93.6a1.5 1.5 0 1 0 3.0 0a1.5 1.5 0 1 0 -3.0 0M73.3 95.4a1.5 1.5 0 1 0 3.0 0a1.5 1.5 0 1 0 -3.0 0M73.7 99.0a1.5 1.5 0 1 0 3.0 0a1.5 1.5 0 1 0 -3.0 0M74.2 97.6a1.5 1.5 0 1 0 3.0 0a1.5 1.5 0 1 0 -3.0 0M74.6 98.6a1.5 1.5 0 1 0 3.0 0a1.5 1.5 0 1 0 -3.0 0M75.1 99.2a1.5 1.5 0 1 0 3.0 0a1.5 1.5 0 1 0 -3.0 0M75.5 98.5a1.5 1.5 0 1 0 3.0 0a1.5 1.5 0 1 0 -3.0 0M76.0 100.5a1.5 1.5 0 1 0 3.0 0a1.5 1.5 0 1 0 -3.0 0M76.4 103.2a1.5 1.5 0 1 0 3.0 0a1.5 1.5 0 1 0 -3.0 0M76.9 104.8a1.5 1.5 0 1 0 3.0 0a1.5 1.5 0 1 0 -3.0 0M77.3 102.4a1.5 1.5 0 1 0 3.0 0a1.5 1.5 0 1 0 -3.0 0M77.8 100.4a1.5 1.5 0 1 0 3.0 0a1.5 1.5 0 1 0 -3.0 0M78.2 99.6a1.5 1.5 0 1 0 3.0 0a1.5 1.5 0 1 0 -3.0 0M78.7 99.8a1.5 1.5 0 1 0 3.0 0a1.5 1.5 0 1 0 -3.0 0M79.1 102.0a1.5 1.5 0 1 0 3.0 0a1.5 1.5 0 1 0 -3.0 0M79.6 102.5a1.5 1.5 0 1 0 3.0 0a1.5 1.5 0 1 0 -3.0 0M80.0 102.0a1.5 1.5 0 1 0 3.0 0a1.5 1.5 0 1 0 -3.0 0M80.5 98.4a1.5 1.5 0 1 0 3.0 0a1.5 1.5 0 1 0 -3.0 0M80.9 99.0a1.5 1.5 0 1 0 3.0 0a1.5 1.5 0 1 0 -3.0 0M81.4 99.9a1.5 1.5 0 1 0 3.0 0a1.5 1.5 0 1 0 -3.0 0M81.8 99.0a1.5 1.5 0 1 0 3.0 0a1.5 1.5 0 1 0 -3.0 0M82.3 99.1a1.5 1.5 0 1 0 3.0 0a1.5 1.5 0 1 0 -3.0 0M82.7 96.6a1.5 1.5 0 1 0 3.0 0a1.5 1.5 0 1 0 -3.0 0M83.2 99.3a1.5 1.5 0 1 0 3.0 0a1.5 1.5 0 1 0 -3.0 0M83.6 99.0a1.5 1.5 0 1 0 3.0 0a1.5 1.5 0 1 0 -3.0 0M84.1 101.9a1.5 1.5 0 1 0 3.0 0a1.5 1.5 0 1 0 -3.0 0M84.5 99.5a1.5 1.5 0 1 0 3.0 0a1.5 1.5 0 1 0 -3.0 0M85.0 101.4a1.5 1.5 0 1 0 3.0 0a1.5 1.5 0 1 0 -3.0 0M85.4 100.3a1.5 1.5 0 1 0 3.0 0a1.5 1.5 0 1 0 -3.0 0M85.9 98.7a1.5 1.5 0 1 0 3.0 0a1.5 1.5 0 1 0 -3.0 0M86.3 96.8a1.5 1.5 0 1 0 3.0 0a1.5 1.5 0 1 0 -3.0 0M86.8 100.3a1.5 1.5 0 1 0 3.0 0a1.5 1.5 0 1 0 -3.0 0M87.2 96.9a1.5 1.5 0 1 0 3.0 0a1.5 1.5 0 1 0 -3.0 0M87.7 91.0a1.5 1.5 0 1 0 3.0 0a1.5 1.5 0 1 0 -3.0 0M88.1 93.8a1.5 1.5 0 1 0 3.0 0a1.5 1.5 0 1 0 -3.0 0M88.6 91.4a1.5 1.5 0 1 0 3.0 0a1.5 1.5 0 1 0 -3.0 0M89.0 92.8a1.5 1.5 0 1 0 3.0 0a1.5 1.5 0 1 0 -3.0 0M89.5 91.8a1.5 1.5 0 1 0 3.0 0a1.5 1.5 0 1 0 -3.0 0M89.9 94.0a1.5 1.5 0 1 0 3.0 0a1.5 1.5 0 1 0 -3.0 0M90.4 93.4a1.5 1.5 0 1 0 3.0 0a1.5 1.5 0 1 0 -3.0 0M90.8 93.2a1.5 1.5 0 1 0 3.0 0a1.5 1.5 0 1 0 -3.0 0M91.3 91.5a1.5 1.5 0 1 0 3.0 0a1.5 1.5 0 1 0 -3.0 0M91.7 91.4a1.5 1.5 0 1 0 3.0 0a1.5 1.5 0 1 0 -3.0 0M92.2 92.7a1.5 1.5 0 1 0 3.0 0a1.5 1.5 0 1 0 -3.0 0M92.6 94.7a1.5 1.5 0 1 0 3.0 0a1.5 1.5 0 1 0 -3.0 0M93.1 89.8a1.5 1.5 0 1 0 3.0 0a1.5 1.5 0 1 0 -3.0 0M93.5 87.2a1.5 1.5 0 1 0 3.0 0a1.5 1.5 0 1 0 -3.0 0M94.0 92.2a1.5 1.5 0 1 0 3.0 0a1.5 1.5 0 1 0 -3.0 0M94.4 94.4a1.5 1.5 0 1 0 3.0 0a1.5 1.5 0 1 0 -3.0 0M94.9 94.4a1.5 1.5 0 1 0 3.0 0a1.5 1.5 0 1 0 -3.0 0M95.3 90.0a1.5 1.5 0 1 0 3.0 0a1.5 1.5 0 1 0 -3.0 0M95.8 88.7a1.5 1.5 0 1 0 3.0 0a1.5 1.5 0 1 0 -3.0 0M96.2 88.5a1.5 1.5 0 1 0 3.0 0a1.5 1.5 0 1 0 -3.0 0M96.7 87.3a1.5 1.5 0 1 0 3.0 0a1.5 1.5 0 1 0 -3.0 0M97.1 90.8a1.5 1.5 0 1 0 3.0 0a1.5 1.5 0 1 0 -3.0 0M97.6 90.5a1.5 1.5 0 1 0 3.0 0a1.5 1.5 0 1 0 -3.0 0M98.0 91.0a1.5 1.5 0 1 0 3.0 0a1.5 1.5 0 1 0 -3.0 0M98.5 89.8a1.5 1.5 0 1 0 3.0 0a1.5 1.5 0 1 0 -3.0 0M98.9 93.1a1.5 1.5 0 1 0 3.0 0a1.5 1.5 0 1 0 -3.0 0M99.4 90.8a1.5 1.5 0 1 0 3.0 0a1.5 1.5 0 1 0 -3.0 0M99.8 94.0a1.5 1.5 0 1 0 3.0 0a1.5 1.5 0 1 0 -3.0 0M100.3 91.9a1.5 1.5 0 1 0 3.0 0a1.5 1.5 0 1 0 -3.0 0M100.7 94.4a1.5 1.5 0 1 0 3.0 0a1.5 1.5 0 1 0 -3.0 0M101.2 96.7a1.5 1.5 0 1 0 3.0 0a1.5 1.5 0 1 0 -3.0 0M101.6 96.1a1.5 1.5 0 1 0 3.0 0a1.5 1.5 0 1 0 -3.0 0M102.1 97.7a1.5 1.5 0 1 0 3.0 0a1.5 1.5 0 1 0 -3.0 0M102.5 99.0a1.5 1.5 0 1 0 3.0 0a1.5 1.5 0 1 0 -3.0 0M103.0 95.9a1.5 1.5 0 1 0 3.0 0a1.5 1.5 0 1 0 -3.0 0M103.4 99.9a1.5 1.5 0 1 0 3.0 0a1.5 1.5 0 1 0 -3.0 0M103.9 100.3a1.5 1.5 0 1 0 3.0 0a1.5 1.5 0 1 0 -3.0 0M104.3 99.5a1.5 1.5 0 1 0 3.0 0a1.5 1.5 0 1 0 -3.0 0M104.8 100.3a1.5 1.5 0 1 0 3.0 0a1.5 1.5 0 1 0 -3.0 0M105.2 102.4a1.5 1.5 0 1 0 3.0 0a1.5 1.5 0 1 0 -3.0 0M105.7 103.3a1.5 1.5 0 1 0 3.0 0a1.5 1.5 0 1 0 -3.0 0M106.1 105.9a1.5 1.5 0 1 0 3.0 0a1.5 1.5 0 1 0 -3.0 0M106.6 107.2a1.5 1.5 0 1 0 3.0 0a1.5 1.5 0 1 0 -3.0 0M107.0 102.0a1.5 1.5 0 1 0 3.0 0a1.5 1.5 0 1 0 -3.0 0M107.5 105.5a1.5 1.5 0 1 0 3.0 0a1.5 1.5 0 1 0 -3.0 0M107.9 106.2a1.5 1.5 0 1 0 3.0 0a1.5 1.5 0 1 0 -3.0 0M108.4 105.5a1.5 1.5 0 1 0 3.0 0a1.5 1.5 0 1 0 -3.0 0M108.8 107.9a1.5 1.5 0 1 0 3.0 0a1.5 1.5 0 1 0 -3.0 0M109.3 106.6a1.5 1.5 0 1 0 3.0 0a1.5 1.5 0 1 0 -3.0 0M109.7 105.6a1.5 1.5 0 1 0 3.0 0a1.5 1.5 0 1 0 -3.0 0M110.2 106.2a1.5 1.5 0 1 0 3.0 0a1.5 1.5 0 1 0 -3.0 0M110.6 105.0a1.5 1.5 0 1 0 3.0 0a1.5 1.5 0 1 0 -3.0 0M111.1 104.6a1.5 1.5 0 1 0 3.0 0a1.5 1.5 0 1 0 -3.0 0M111.5 102.1a1.5 1.5 0 1 0 3.0 0a1.5 1.5 0 1 0 -3.0 0M112.0 104.7a1.5 1.5 0 1 0 3.0 0a1.5 1.5 0 1 0 -3.0 0M112.4 101.8a1.5 1.5 0 1 0 3.0 0a1.5 1.5 0 1 0 -3.0 0M112.9 103.0a1.5 1.5 0 1 0 3.0 0a1.5 1.5 0 1 0 -3.0 0M113.3 99.5a1.5 1.5 0 1 0 3.0 0a1.5 1.5 0 1 0 -3.0 0M113.8 98.4a1.5 1.5 0 1 0 3.0 0a1.5 1.5 0 1 0 -3.0 0M114.2 97.0a1.5 1.5 0 1 0 3.0 0a1.5 1.5 0 1 0 -3.0 0M114.7 95.4a1.5 1.5 0 1 0 3.0 0a1.5 1.5 0 1 0 -3.0 0M115.1 97.4a1.5 1.5 0 1 0 3.0 0a1.5 1.5 0 1 0 -3.0 0M115.6 100.3a1.5 1.5 0 1 0 3.0 0a1.5 1.5 0 1 0 -3.0 0M116.0 99.0a1.5 1.5 0 1 0 3.0 0a1.5 1.5 0 1 0 -3.0 0M116.5 97.3a1.5 1.5 0 1 0 3.0 0a1.5 1.5 0 1 0 -3.0 0M116.9 93.9a1.5 1.5 0 1 0 3.0 0a1.5 1.5 0 1 0 -3.0 0M117.4 93.7a1.5 1.5 0 1 0 3.0 0a1.5 1.5 0 1 0 -3.0 0M117.8 90.2a1.5 1.5 0 1 0 3.0 0a1.5 1.5 0 1 0 -3.0 0M118.3 92.8a1.5 1.5 0 1 0 3.0 0a1.5 1.5 0 1 0 -3.0 0M118.7 93.3a1.5 1.5 0 1 0 3.0 0a1.5 1.5 0 1 0 -3.0 0M119.2 91.5a1.5 1.5 0 1 0 3.0 0a1.5 1.5 0 1 0 -3.0 0M119.6 88.2a1.5 1.5 0 1 0 3.0 0a1.5 1.5 0 1 0 -3.0 0M120.1 90.7a1.5 1.5 0 1 0 3.0 0a1.5 1.5 0 1 0 -3.0 0M120.5 90.1a1.5 1.5 0 1 0 3.0 0a1.5 1.5 0 1 0 -3.0 0M121.0 86.0a1.5 1.5 0 1 0 3.0 0a1.5 1.5 0 1 0 -3.0 0M121.4 89.0a1.5 1.5 0 1 0 3.0 0a1.5 1.5 0 1 0 -3.0 0M121.9 88.4a1.5 1.5 0 1 0 3.0 0a1.5 1.5 0 1 0 -3.0 0M122.3 87.7a1.5 1.5 0 1 0 3.0 0a1.5 1.5 0 1 0 -3.0 0M122.8 82.8a1.5 1.5 0 1 0 3.0 0a1.5 1.5 0 1 0 -3.0 0M123.2 84.1a1.5 1.5 0 1 0 3.0 0a1.5 1.5 0 1 0 -3.0 0M123.7 84.8a1.5 1.5 0 1 0 3.0 0a1.5 1.5 0 1 0 -3.0 0M124.1 83.0a1.5 1.5 0 1 0 3.0 0a1.5 1.5 0 1 0 -3.0 0M124.6 81.3a1.5 1.5 0 1 0 3.0 0a1.5 1.5 0 1 0 -3.0 0M125.0 81.3a1.5 1.5 0 1 0 3.0 0a1.5 1.5 0 1 0 -3.0 0M125.5 85.5a1.5 1.5 0 1 0 3.0 0a1.5 1.5 0 1 0 -3.0 0M125.9 84.7a1.5 1.5 0 1 0 3.0 0a1.5 1.5 0 1 0 -3.0 0M126.4 85.9a1.5 1.5 0 1 0 3.0 0a1.5 1.5 0 1 0 -3.0 0M126.8 85.6a1.5 1.5 0 1 0 3.0 0a1.5 1.5 0 1 0 -3.0 0M127.3 84.3a1.5 1.5 0 1 0 3.0 0a1.5 1.5 0 1 0 -3.0 0M127.7 86.6a1.5 1.5 0 1 0 3.0 0a1.5 1.5 0 1 0 -3.0 0M128.2 87.0a1.5 1.5 0 1 0 3.0 0a1.5 1.5 0 1 0 -3.0 0M128.6 85.2a1.5 1.5 0 1 0 3.0 0a1.5 1.5 0 1 0 -3.0 0M129.1 83.0a1.5 1.5 0 1 0 3.0 0a1.5 1.5 0 1 0 -3.0 0M129.5 83.0a1.5 1.5 0 1 0 3.0 0a1.5 1.5 0 1 0 -3.0 0M130.0 85.8a1.5 1.5 0 1 0 3.0 0a1.5 1.5 0 1 0 -3.0 0M130.4 85.3a1.5 1.5 0 1 0 3.0 0a1.5 1.5 0 1 0 -3.0 0M130.9 83.2a1.5 1.5 0 1 0 3.0 0a1.5 1.5 0 1 0 -3.0 0M131.3 84.3a1.5 1.5 0 1 0 3.0 0a1.5 1.5 0 1 0 -3.0 0M131.8 84.3a1.5 1.5 0 1 0 3.0 0a1.5 1.5 0 1 0 -3.0 0M132.2 83.5a1.5 1.5 0 1 0 3.0 0a1.5 1.5 0 1 0 -3.0 0M132.7 83.6a1.5 1.5 0 1 0 3.0 0a1.5 1.5 0 1 0 -3.0 0M133.1 83.4a1.5 1.5 0 1 0 3.0 0a1.5 1.5 0 1 0 -3.0 0M133.6 80.6a1.5 1.5 0 1 0 3.0 0a1.5 1.5 0 1 0 -3.0 0M134.0 83.1a1.5 1.5 0 1 0 3.0 0a1.5 1.5 0 1 0 -3.0 0M134.5 82.1a1.5 1.5 0 1 0 3.0 0a1.5 1.5 0 1 0 -3.0 0M134.9 80.5a1.5 1.5 0 1 0 3.0 0a1.5 1.5 0 1 0 -3.0 0M135.4 80.9a1.5 1.5 0 1 0 3.0 0a1.5 1.5 0 1 0 -3.0 0M135.8 83.0a1.5 1.5 0 1 0 3.0 0a1.5 1.5 0 1 0 -3.0 0M136.3 80.4a1.5 1.5 0 1 0 3.0 0a1.5 1.5 0 1 0 -3.0 0M136.7 76.8a1.5 1.5 0 1 0 3.0 0a1.5 1.5 0 1 0 -3.0 0M137.2 81.4a1.5 1.5 0 1 0 3.0 0a1.5 1.5 0 1 0 -3.0 0M137.6 78.7a1.5 1.5 0 1 0 3.0 0a1.5 1.5 0 1 0 -3.0 0M138.1 79.0a1.5 1.5 0 1 0 3.0 0a1.5 1.5 0 1 0 -3.0 0M138.5 83.2a1.5 1.5 0 1 0 3.0 0a1.5 1.5 0 1 0 -3.0 0M139.0 80.2a1.5 1.5 0 1 0 3.0 0a1.5 1.5 0 1 0 -3.0 0M139.4 81.7a1.5 1.5 0 1 0 3.0 0a1.5 1.5 0 1 0 -3.0 0M139.9 79.8a1.5 1.5 0 1 0 3.0 0a1.5 1.5 0 1 0 -3.0 0M140.3 78.8a1.5 1.5 0 1 0 3.0 0a1.5 1.5 0 1 0 -3.0 0M140.8 81.9a1.5 1.5 0 1 0 3.0 0a1.5 1.5 0 1 0 -3.0 0M141.2 81.6a1.5 1.5 0 1 0 3.0 0a1.5 1.5 0 1 0 -3.0 0M141.7 81.7a1.5 1.5 0 1 0 3.0 0a1.5 1.5 0 1 0 -3.0 0M142.1 82.1a1.5 1.5 0 1 0 3.0 0a1.5 1.5 0 1 0 -3.0 0M142.6 84.1a1.5 1.5 0 1 0 3.0 0a1.5 1.5 0 1 0 -3.0 0M143.0 85.4a1.5 1.5 0 1 0 3.0 0a1.5 1.5 0 1 0 -3.0 0M143.5 85.0a1.5 1.5 0 1 0 3.0 0a1.5 1.5 0 1 0 -3.0 0M143.9 82.1a1.5 1.5 0 1 0 3.0 0a1.5 1.5 0 1 0 -3.0 0M144.4 84.3a1.5 1.5 0 1 0 3.0 0a1.5 1.5 0 1 0 -3.0 0M144.8 88.2a1.5 1.5 0 1 0 3.0 0a1.5 1.5 0 1 0 -3.0 0M145.3 83.9a1.5 1.5 0 1 0 3.0 0a1.5 1.5 0 1 0 -3.0 0M145.7 82.8a1.5 1.5 0 1 0 3.0 0a1.5 1.5 0 1 0 -3.0 0M146.2 85.1a1.5 1.5 0 1 0 3.0 0a1.5 1.5 0 1 0 -3.0 0M146.6 85.8a1.5 1.5 0 1 0 3.0 0a1.5 1.5 0 1 0 -3.0 0M147.1 82.6a1.5 1.5 0 1 0 3.0 0a1.5 1.5 0 1 0 -3.0 0M147.5 81.2a1.5 1.5 0 1 0 3.0 0a1.5 1.5 0 1 0 -3.0 0M148.0 84.9a1.5 1.5 0 1 0 3.0 0a1.5 1.5 0 1 0 -3.0 0M148.4 82.7a1.5 1.5 0 1 0 3.0 0a1.5 1.5 0 1 0 -3.0 0M148.9 84.8a1.5 1.5 0 1 0 3.0 0a1.5 1.5 0 1 0 -3.0 0M149.3 85.2a1.5 1.5 0 1 0 3.0 0a1.5 1.5 0 1 0 -3.0 0M149.8 84.9a1.5 1.5 0 1 0 3.0 0a1.5 1.5 0 1 0 -3.0 0M150.2 83.1a1.5 1.5 0 1 0 3.0 0a1.5 1.5 0 1 0 -3.0 0M150.6 87.6a1.5 1.5 0 1 0 3.0 0a1.5 1.5 0 1 0 -3.0 0M151.1 88.1a1.5 1.5 0 1 0 3.0 0a1.5 1.5 0 1 0 -3.0 0M151.5 90.9a1.5 1.5 0 1 0 3.0 0a1.5 1.5 0 1 0 -3.0 0M152.0 90.4a1.5 1.5 0 1 0 3.0 0a1.5 1.5 0 1 0 -3.0 0M152.4 86.1a1.5 1.5 0 1 0 3.0 0a1.5 1.5 0 1 0 -3.0 0M152.9 87.0a1.5 1.5 0 1 0 3.0 0a1.5 1.5 0 1 0 -3.0 0M153.3 86.8a1.5 1.5 0 1 0 3.0 0a1.5 1.5 0 1 0 -3.0 0M153.8 89.9a1.5 1.5 0 1 0 3.0 0a1.5 1.5 0 1 0 -3.0 0M154.2 87.4a1.5 1.5 0 1 0 3.0 0a1.5 1.5 0 1 0 -3.0 0M154.7 87.8a1.5 1.5 0 1 0 3.0 0a1.5 1.5 0 1 0 -3.0 0M155.1 89.6a1.5 1.5 0 1 0 3.0 0a1.5 1.5 0 1 0 -3.0 0M155.6 88.9a1.5 1.5 0 1 0 3.0 0a1.5 1.5 0 1 0 -3.0 0M156.0 86.6a1.5 1.5 0 1 0 3.0 0a1.5 1.5 0 1 0 -3.0 0M156.5 91.6a1.5 1.5 0 1 0 3.0 0a1.5 1.5 0 1 0 -3.0 0M156.9 92.8a1.5 1.5 0 1 0 3.0 0a1.5 1.5 0 1 0 -3.0 0M157.4 89.5a1.5 1.5 0 1 0 3.0 0a1.5 1.5 0 1 0 -3.0 0M157.8 89.2a1.5 1.5 0 1 0 3.0 0a1.5 1.5 0 1 0 -3.0 0M158.3 88.5a1.5 1.5 0 1 0 3.0 0a1.5 1.5 0 1 0 -3.0 0M158.7 90.0a1.5 1.5 0 1 0 3.0 0a1.5 1.5 0 1 0 -3.0 0M159.2 91.9a1.5 1.5 0 1 0 3.0 0a1.5 1.5 0 1 0 -3.0 0M159.6 93.5a1.5 1.5 0 1 0 3.0 0a1.5 1.5 0 1 0 -3.0 0M160.1 95.6a1.5 1.5 0 1 0 3.0 0a1.5 1.5 0 1 0 -3.0 0M160.5 92.3a1.5 1.5 0 1 0 3.0 0a1.5 1.5 0 1 0 -3.0 0M161.0 91.3a1.5 1.5 0 1 0 3.0 0a1.5 1.5 0 1 0 -3.0 0M161.4 94.8a1.5 1.5 0 1 0 3.0 0a1.5 1.5 0 1 0 -3.0 0M161.9 92.3a1.5 1.5 0 1 0 3.0 0a1.5 1.5 0 1 0 -3.0 0M162.3 91.8a1.5 1.5 0 1 0 3.0 0a1.5 1.5 0 1 0 -3.0 0M162.8 91.8a1.5 1.5 0 1 0 3.0 0a1.5 1.5 0 1 0 -3.0 0M163.2 95.1a1.5 1.5 0 1 0 3.0 0a1.5 1.5 0 1 0 -3.0 0M163.7 94.0a1.5 1.5 0 1 0 3.0 0a1.5 1.5 0 1 0 -3.0 0M164.1 90.7a1.5 1.5 0 1 0 3.0 0a1.5 1.5 0 1 0 -3.0 0M164.6 90.2a1.5 1.5 0 1 0 3.0 0a1.5 1.5 0 1 0 -3.0 0M165.0 88.3a1.5 1.5 0 1 0 3.0 0a1.5 1.5 0 1 0 -3.0 0M165.5 84.4a1.5 1.5 0 1 0 3.0 0a1.5 1.5 0 1 0 -3.0 0M165.9 85.3a1.5 1.5 0 1 0 3.0 0a1.5 1.5 0 1 0 -3.0 0M166.4 85.7a1.5 1.5 0 1 0 3.0 0a1.5 1.5 0 1 0 -3.0 0M166.8 86.6a1.5 1.5 0 1 0 3.0 0a1.5 1.5 0 1 0 -3.0 0M167.3 84.9a1.5 1.5 0 1 0 3.0 0a1.5 1.5 0 1 0 -3.0 0M167.7 82.0a1.5 1.5 0 1 0 3.0 0a1.5 1.5 0 1 0 -3.0 0M168.2 85.6a1.5 1.5 0 1 0 3.0 0a1.5 1.5 0 1 0 -3.0 0M168.6 85.4a1.5 1.5 0 1 0 3.0 0a1.5 1.5 0 1 0 -3.0 0M169.1 81.1a1.5 1.5 0 1 0 3.0 0a1.5 1.5 0 1 0 -3.0 0M169.5 79.7a1.5 1.5 0 1 0 3.0 0a1.5 1.5 0 1 0 -3.0 0M170.0 78.4a1.5 1.5 0 1 0 3.0 0a1.5 1.5 0 1 0 -3.0 0M170.4 80.6a1.5 1.5 0 1 0 3.0 0a1.5 1.5 0 1 0 -3.0 0M170.9 80.4a1.5 1.5 0 1 0 3.0 0a1.5 1.5 0 1 0 -3.0 0M171.3 78.2a1.5 1.5 0 1 0 3.0 0a1.5 1.5 0 1 0 -3.0 0M171.8 79.9a1.5 1.5 0 1 0 3.0 0a1.5 1.5 0 1 0 -3.0 0M172.2 78.9a1.5 1.5 0 1 0 3.0 0a1.5 1.5 0 1 0 -3.0 0M172.7 79.3a1.5 1.5 0 1 0 3.0 0a1.5 1.5 0 1 0 -3.0 0M173.1 76.8a1.5 1.5 0 1 0 3.0 0a1.5 1.5 0 1 0 -3.0 0M173.6 76.7a1.5 1.5 0 1 0 3.0 0a1.5 1.5 0 1 0 -3.0 0M174.0 72.0a1.5 1.5 0 1 0 3.0 0a1.5 1.5 0 1 0 -3.0 0M174.5 75.4a1.5 1.5 0 1 0 3.0 0a1.5 1.5 0 1 0 -3.0 0M174.9 70.7a1.5 1.5 0 1 0 3.0 0a1.5 1.5 0 1 0 -3.0 0M175.4 70.8a1.5 1.5 0 1 0 3.0 0a1.5 1.5 0 1 0 -3.0 0M175.8 72.7a1.5 1.5 0 1 0 3.0 0a1.5 1.5 0 1 0 -3.0 0M176.3 74.2a1.5 1.5 0 1 0 3.0 0a1.5 1.5 0 1 0 -3.0 0M176.7 72.8a1.5 1.5 0 1 0 3.0 0a1.5 1.5 0 1 0 -3.0 0M177.2 71.5a1.5 1.5 0 1 0 3.0 0a1.5 1.5 0 1 0 -3.0 0M177.6 69.1a1.5 1.5 0 1 0 3.0 0a1.5 1.5 0 1 0 -3.0 0M178.1 67.2a1.5 1.5 0 1 0 3.0 0a1.5 1.5 0 1 0 -3.0 0M178.5 68.7a1.5 1.5 0 1 0 3.0 0a1.5 1.5 0 1 0 -3.0 0M179.0 68.9a1.5 1.5 0 1 0 3.0 0a1.5 1.5 0 1 0 -3.0 0M179.4 67.8a1.5 1.5 0 1 0 3.0 0a1.5 1.5 0 1 0 -3.0 0M179.9 70.1a1.5 1.5 0 1 0 3.0 0a1.5 1.5 0 1 0 -3.0 0M180.3 66.9a1.5 1.5 0 1 0 3.0 0a1.5 1.5 0 1 0 -3.0 0M180.8 67.2a1.5 1.5 0 1 0 3.0 0a1.5 1.5 0 1 0 -3.0 0M181.2 63.8a1.5 1.5 0 1 0 3.0 0a1.5 1.5 0 1 0 -3.0 0M181.7 63.4a1.5 1.5 0 1 0 3.0 0a1.5 1.5 0 1 0 -3.0 0M182.1 60.6a1.5 1.5 0 1 0 3.0 0a1.5 1.5 0 1 0 -3.0 0M182.6 61.4a1.5 1.5 0 1 0 3.0 0a1.5 1.5 0 1 0 -3.0 0M183.0 60.5a1.5 1.5 0 1 0 3.0 0a1.5 1.5 0 1 0 -3.0 0M183.5 60.6a1.5 1.5 0 1 0 3.0 0a1.5 1.5 0 1 0 -3.0 0M183.9 58.2a1.5 1.5 0 1 0 3.0 0a1.5 1.5 0 1 0 -3.0 0M184.4 58.0a1.5 1.5 0 1 0 3.0 0a1.5 1.5 0 1 0 -3.0 0M184.8 53.8a1.5 1.5 0 1 0 3.0 0a1.5 1.5 0 1 0 -3.0 0M185.3 53.3a1.5 1.5 0 1 0 3.0 0a1.5 1.5 0 1 0 -3.0 0M185.7 54.9a1.5 1.5 0 1 0 3.0 0a1.5 1.5 0 1 0 -3.0 0M186.2 54.1a1.5 1.5 0 1 0 3.0 0a1.5 1.5 0 1 0 -3.0 0M186.6 55.8a1.5 1.5 0 1 0 3.0 0a1.5 1.5 0 1 0 -3.0 0M187.1 53.9a1.5 1.5 0 1 0 3.0 0a1.5 1.5 0 1 0 -3.0 0M187.5 53.2a1.5 1.5 0 1 0 3.0 0a1.5 1.5 0 1 0 -3.0 0M188.0 54.0a1.5 1.5 0 1 0 3.0 0a1.5 1.5 0 1 0 -3.0 0M188.4 54.4a1.5 1.5 0 1 0 3.0 0a1.5 1.5 0 1 0 -3.0 0M188.9 54.2a1.5 1.5 0 1 0 3.0 0a1.5 1.5 0 1 0 -3.0 0M189.3 53.9a1.5 1.5 0 1 0 3.0 0a1.5 1.5 0 1 0 -3.0 0M189.8 50.7a1.5 1.5 0 1 0 3.0 0a1.5 1.5 0 1 0 -3.0 0M190.2 48.4a1.5 1.5 0 1 0 3.0 0a1.5 1.5 0 1 0 -3.0 0M190.7 49.6a1.5 1.5 0 1 0 3.0 0a1.5 1.5 0 1 0 -3.0 0M191.1 52.4a1.5 1.5 0 1 0 3.0 0a1.5 1.5 0 1 0 -3.0 0M191.6 52.9a1.5 1.5 0 1 0 3.0 0a1.5 1.5 0 1 0 -3.0 0M192.0 50.8a1.5 1.5 0 1 0 3.0 0a1.5 1.5 0 1 0 -3.0 0M192.5 48.7a1.5 1.5 0 1 0 3.0 0a1.5 1.5 0 1 0 -3.0 0M192.9 49.1a1.5 1.5 0 1 0 3.0 0a1.5 1.5 0 1 0 -3.0 0M193.4 46.4a1.5 1.5 0 1 0 3.0 0a1.5 1.5 0 1 0 -3.0 0M193.8 50.9a1.5 1.5 0 1 0 3.0 0a1.5 1.5 0 1 0 -3.0 0M194.3 50.2a1.5 1.5 0 1 0 3.0 0a1.5 1.5 0 1 0 -3.0 0M194.7 48.9a1.5 1.5 0 1 0 3.0 0a1.5 1.5 0 1 0 -3.0 0M195.2 49.4a1.5 1.5 0 1 0 3.0 0a1.5 1.5 0 1 0 -3.0 0M195.6 50.0a1.5 1.5 0 1 0 3.0 0a1.5 1.5 0 1 0 -3.0 0M196.1 51.7a1.5 1.5 0 1 0 3.0 0a1.5 1.5 0 1 0 -3.0 0M196.5 50.6a1.5 1.5 0 1 0 3.0 0a1.5 1.5 0 1 0 -3.0 0M197.0 50.0a1.5 1.5 0 1 0 3.0 0a1.5 1.5 0 1 0 -3.0 0M197.4 49.0a1.5 1.5 0 1 0 3.0 0a1.5 1.5 0 1 0 -3.0 0M197.9 52.0a1.5 1.5 0 1 0 3.0 0a1.5 1.5 0 1 0 -3.0 0M198.3 53.4a1.5 1.5 0 1 0 3.0 0a1.5 1.5 0 1 0 -3.0 0M198.8 48.7a1.5 1.5 0 1 0 3.0 0a1.5 1.5 0 1 0 -3.0 0M199.2 48.7a1.5 1.5 0 1 0 3.0 0a1.5 1.5 0 1 0 -3.0 0M199.7 50.1a1.5 1.5 0 1 0 3.0 0a1.5 1.5 0 1 0 -3.0 0M200.1 49.4a1.5 1.5 0 1 0 3.0 0a1.5 1.5 0 1 0 -3.0 0M200.6 50.1a1.5 1.5 0 1 0 3.0 0a1.5 1.5 0 1 0 -3.0 0M201.0 53.8a1.5 1.5 0 1 0 3.0 0a1.5 1.5 0 1 0 -3.0 0M201.5 52.4a1.5 1.5 0 1 0 3.0 0a1.5 1.5 0 1 0 -3.0 0M201.9 51.3a1.5 1.5 0 1 0 3.0 0a1.5 1.5 0 1 0 -3.0 0M202.4 51.2a1.5 1.5 0 1 0 3.0 0a1.5 1.5 0 1 0 -3.0 0M202.8 54.5a1.5 1.5 0 1 0 3.0 0a1.5 1.5 0 1 0 -3.0 0M203.3 51.7a1.5 1.5 0 1 0 3.0 0a1.5 1.5 0 1 0 -3.0 0M203.7 47.6a1.5 1.5 0 1 0 3.0 0a1.5 1.5 0 1 0 -3.0 0M204.2 47.0a1.5 1.5 0 1 0 3.0 0a1.5 1.5 0 1 0 -3.0 0M204.6 49.2a1.5 1.5 0 1 0 3.0 0a1.5 1.5 0 1 0 -3.0 0M205.1 51.4a1.5 1.5 0 1 0 3.0 0a1.5 1.5 0 1 0 -3.0 0M205.5 49.2a1.5 1.5 0 1 0 3.0 0a1.5 1.5 0 1 0 -3.0 0M206.0 47.9a1.5 1.5 0 1 0 3.0 0a1.5 1.5 0 1 0 -3.0 0M206.4 47.1a1.5 1.5 0 1 0 3.0 0a1.5 1.5 0 1 0 -3.0 0M206.9 46.3a1.5 1.5 0 1 0 3.0 0a1.5 1.5 0 1 0 -3.0 0M207.3 43.4a1.5 1.5 0 1 0 3.0 0a1.5 1.5 0 1 0 -3.0 0M207.8 48.5a1.5 1.5 0 1 0 3.0 0a1.5 1.5 0 1 0 -3.0 0M208.2 47.4a1.5 1.5 0 1 0 3.0 0a1.5 1.5 0 1 0 -3.0 0M208.7 46.5a1.5 1.5 0 1 0 3.0 0a1.5 1.5 0 1 0 -3.0 0M209.1 40.7a1.5 1.5 0 1 0 3.0 0a1.5 1.5 0 1 0 -3.0 0M209.6 44.7a1.5 1.5 0 1 0 3.0 0a1.5 1.5 0 1 0 -3.0 0M210.0 43.9a1.5 1.5 0 1 0 3.0 0a1.5 1.5 0 1 0 -3.0 0M210.5 44.4a1.5 1.5 0 1 0 3.0 0a1.5 1.5 0 1 0 -3.0 0M210.9 40.7a1.5 1.5 0 1 0 3.0 0a1.5 1.5 0 1 0 -3.0 0M211.4 39.9a1.5 1.5 0 1 0 3.0 0a1.5 1.5 0 1 0 -3.0 0M211.8 42.1a1.5 1.5 0 1 0 3.0 0a1.5 1.5 0 1 0 -3.0 0M212.3 41.7a1.5 1.5 0 1 0 3.0 0a1.5 1.5 0 1 0 -3.0 0M212.7 38.4a1.5 1.5 0 1 0 3.0 0a1.5 1.5 0 1 0 -3.0 0M213.2 38.3a1.5 1.5 0 1 0 3.0 0a1.5 1.5 0 1 0 -3.0 0M213.6 40.8a1.5 1.5 0 1 0 3.0 0a1.5 1.5 0 1 0 -3.0 0M214.1 39.4a1.5 1.5 0 1 0 3.0 0a1.5 1.5 0 1 0 -3.0 0M214.5 39.5a1.5 1.5 0 1 0 3.0 0a1.5 1.5 0 1 0 -3.0 0M215.0 41.3a1.5 1.5 0 1 0 3.0 0a1.5 1.5 0 1 0 -3.0 0M215.4 39.8a1.5 1.5 0 1 0 3.0 0a1.5 1.5 0 1 0 -3.0 0M215.9 38.2a1.5 1.5 0 1 0 3.0 0a1.5 1.5 0 1 0 -3.0 0M216.3 38.7a1.5 1.5 0 1 0 3.0 0a1.5 1.5 0 1 0 -3.0 0M216.8 36.5a1.5 1.5 0 1 0 3.0 0a1.5 1.5 0 1 0 -3.0 0M217.2 38.2a1.5 1.5 0 1 0 3.0 0a1.5 1.5 0 1 0 -3.0 0M217.7 42.1a1.5 1.5 0 1 0 3.0 0a1.5 1.5 0 1 0 -3.0 0M218.1 39.2a1.5 1.5 0 1 0 3.0 0a1.5 1.5 0 1 0 -3.0 0M218.6 36.1a1.5 1.5 0 1 0 3.0 0a1.5 1.5 0 1 0 -3.0 0M219.0 35.0a1.5 1.5 0 1 0 3.0 0a1.5 1.5 0 1 0 -3.0 0M219.5 32.2a1.5 1.5 0 1 0 3.0 0a1.5 1.5 0 1 0 -3.0 0M219.9 34.8a1.5 1.5 0 1 0 3.0 0a1.5 1.5 0 1 0 -3.0 0M220.4 35.6a1.5 1.5 0 1 0 3.0 0a1.5 1.5 0 1 0 -3.0 0M220.8 30.8a1.5 1.5 0 1 0 3.0 0a1.5 1.5 0 1 0 -3.0 0M221.3 34.0a1.5 1.5 0 1 0 3.0 0a1.5 1.5 0 1 0 -3.0 0M221.7 33.4a1.5 1.5 0 1 0 3.0 0a1.5 1.5 0 1 0 -3.0 0M222.2 29.1a1.5 1.5 0 1 0 3.0 0a1.5 1.5 0 1 0 -3.0 0M222.6 30.1a1.5 1.5 0 1 0 3.0 0a1.5 1.5 0 1 0 -3.0 0M223.1 26.9a1.5 1.5 0 1 0 3.0 0a1.5 1.5 0 1 0 -3.0 0M223.5 29.5a1.5 1.5 0 1 0 3.0 0a1.5 1.5 0 1 0 -3.0 0M224.0 26.5a1.5 1.5 0 1 0 3.0 0a1.5 1.5 0 1 0 -3.0 0M224.4 28.2a1.5 1.5 0 1 0 3.0 0a1.5 1.5 0 1 0 -3.0 0M224.9 25.7a1.5 1.5 0 1 0 3.0 0a1.5 1.5 0 1 0 -3.0 0M225.3 26.1a1.5 1.5 0 1 0 3.0 0a1.5 1.5 0 1 0 -3.0 0M225.8 26.3a1.5 1.5 0 1 0 3.0 0a1.5 1.5 0 1 0 -3.0 0M226.2 20.1a1.5 1.5 0 1 0 3.0 0a1.5 1.5 0 1 0 -3.0 0" fill="#a8d2e8"/>
<path d="M35.0 84.5a1.4 1.4 0 1 0 2.9 0a1.4 1.4 0 1 0 -2.9 0M35.5 87.4a1.4 1.4 0 1 0 2.9 0a1.4 1.4 0 1 0 -2.9 0M36.0 84.5a1.4 1.4 0 1 0 2.9 0a1.4 1.4 0 1 0 -2.9 0M36.5 88.2a1.4 1.4 0 1 0 2.9 0a1.4 1.4 0 1 0 -2.9 0M37.0 89.3a1.4 1.4 0 1 0 2.9 0a1.4 1.4 0 1 0 -2.9 0M37.5 88.1a1.4 1.4 0 1 0 2.9 0a1.4 1.4 0 1 0 -2.9 0M38.0 89.7a1.4 1.4 0 1 0 2.9 0a1.4 1.4 0 1 0 -2.9 0M38.5 86.5a1.4 1.4 0 1 0 2.9 0a1.4 1.4 0 1 0 -2.9 0M39.0 87.2a1.4 1.4 0 1 0 2.9 0a1.4 1.4 0 1 0 -2.9 0M39.5 87.4a1.4 1.4 0 1 0 2.9 0a1.4 1.4 0 1 0 -2.9 0M40.0 88.4a1.4 1.4 0 1 0 2.9 0a1.4 1.4 0 1 0 -2.9 0M40.5 88.3a1.4 1.4 0 1 0 2.9 0a1.4 1.4 0 1 0 -2.9 0M41.0 90.2a1.4 1.4 0 1 0 2.9 0a1.4 1.4 0 1 0 -2.9 0M41.5 89.2a1.4 1.4 0 1 0 2.9 0a1.4 1.4 0 1 0 -2.9 0M42.0 90.3a1.4 1.4 0 1 0 2.9 0a1.4 1.4 0 1 0 -2.9 0M42.5 89.5a1.4 1.4 0 1 0 2.9 0a1.4 1.4 0 1 0 -2.9 0M43.0 86.6a1.4 1.4 0 1 0 2.9 0a1.4 1.4 0 1 0 -2.9 0M43.5 91.3a1.4 1.4 0 1 0 2.9 0a1.4 1.4 0 1 0 -2.9 0M44.0 88.6a1.4 1.4 0 1 0 2.9 0a1.4 1.4 0 1 0 -2.9 0M44.5 89.0a1.4 1.4 0 1 0 2.9 0a1.4 1.4 0 1 0 -2.9 0M45.0 92.5a1.4 1.4 0 1 0 2.9 0a1.4 1.4 0 1 0 -2.9 0M45.5 90.8a1.4 1.4 0 1 0 2.9 0a1.4 1.4 0 1 0 -2.9 0M46.0 90.1a1.4 1.4 0 1 0 2.9 0a1.4 1.4 0 1 0 -2.9 0M46.5 91.5a1.4 1.4 0 1 0 2.9 0a1.4 1.4 0 1 0 -2.9 0M47.0 90.3a1.4 1.4 0 1 0 2.9 0a1.4 1.4 0 1 0 -2.9 0M47.5 91.1a1.4 1.4 0 1 0 2.9 0a1.4 1.4 0 1 0 -2.9 0M48.0 93.1a1.4 1.4 0 1 0 2.9 0a1.4 1.4 0 1 0 -2.9 0M48.5 88.4a1.4 1.4 0 1 0 2.9 0a1.4 1.4 0 1 0 -2.9 0M49.0 94.6a1.4 1.4 0 1 0 2.9 0a1.4 1.4 0 1 0 -2.9 0M49.5 91.1a1.4 1.4 0 1 0 2.9 0a1.4 1.4 0 1 0 -2.9 0M50.0 93.0a1.4 1.4 0 1 0 2.9 0a1.4 1.4 0 1 0 -2.9 0M50.5 91.8a1.4 1.4 0 1 0 2.9 0a1.4 1.4 0 1 0 -2.9 0M51.0 93.8a1.4 1.4 0 1 0 2.9 0a1.4 1.4 0 1 0 -2.9 0M51.5 95.4a1.4 1.4 0 1 0 2.9 0a1.4 1.4 0 1 0 -2.9 0M52.0 94.9a1.4 1.4 0 1 0 2.9 0a1.4 1.4 0 1 0 -2.9 0M52.5 94.8a1.4 1.4 0 1 0 2.9 0a1.4 1.4 0 1 0 -2.9 0M53.0 97.3a1.4 1.4 0 1 0 2.9 0a1.4 1.4 0 1 0 -2.9 0M53.5 95.4a1.4 1.4 0 1 0 2.9 0a1.4 1.4 0 1 0 -2.9 0M54.0 97.2a1.4 1.4 0 1 0 2.9 0a1.4 1.4 0 1 0 -2.9 0M54.5 94.5a1.4 1.4 0 1 0 2.9 0a1.4 1.4 0 1 0 -2.9 0M55.0 97.0a1.4 1.4 0 1 0 2.9 0a1.4 1.4 0 1 0 -2.9 0M55.5 96.0a1.4 1.4 0 1 0 2.9 0a1.4 1.4 0 1 0 -2.9 0M56.0 93.6a1.4 1.4 0 1 0 2.9 0a1.4 1.4 0 1 0 -2.9 0M56.5 91.1a1.4 1.4 0 1 0 2.9 0a1.4 1.4 0 1 0 -2.9 0M57.0 93.7a1.4 1.4 0 1 0 2.9 0a1.4 1.4 0 1 0 -2.9 0M57.5 92.1a1.4 1.4 0 1 0 2.9 0a1.4 1.4 0 1 0 -2.9 0M58.0 94.3a1.4 1.4 0 1 0 2.9 0a1.4 1.4 0 1 0 -2.9 0M58.5 96.7a1.4 1.4 0 1 0 2.9 0a1.4 1.4 0 1 0 -2.9 0M59.0 94.1a1.4 1.4 0 1 0 2.9 0a1.4 1.4 0 1 0 -2.9 0M59.5 92.6a1.4 1.4 0 1 0 2.9 0a1.4 1.4 0 1 0 -2.9 0M60.0 91.0a1.4 1.4 0 1 0 2.9 0a1.4 1.4 0 1 0 -2.9 0M60.5 89.6a1.4 1.4 0 1 0 2.9 0a1.4 1.4 0 1 0 -2.9 0M61.0 90.2a1.4 1.4 0 1 0 2.9 0a1.4 1.4 0 1 0 -2.9 0M61.5 90.9a1.4 1.4 0 1 0 2.9 0a1.4 1.4 0 1 0 -2.9 0M62.0 92.2a1.4 1.4 0 1 0 2.9 0a1.4 1.4 0 1 0 -2.9 0M62.5 91.1a1.4 1.4 0 1 0 2.9 0a1.4 1.4 0 1 0 -2.9 0M63.0 90.2a1.4 1.4 0 1 0 2.9 0a1.4 1.4 0 1 0 -2.9 0M63.5 90.7a1.4 1.4 0 1 0 2.9 0a1.4 1.4 0 1 0 -2.9 0M64.0 92.4a1.4 1.4 0 1 0 2.9 0a1.4 1.4 0 1 0 -2.9 0M64.5 89.5a1.4 1.4 0 1 0 2.9 0a1.4 1.4 0 1 0 -2.9 0M65.0 91.1a1.4 1.4 0 1 0 2.9 0a1.4 1.4 0 1 0 -2.9 0M65.5 88.6a1.4 1.4 0 1 0 2.9 0a1.4 1.4 0 1 0 -2.9 0M66.0 86.8a1.4 1.4 0 1 0 2.9 0a1.4 1.4 0 1 0 -2.9 0M66.5 85.5a1.4 1.4 0 1 0 2.9 0a1.4 1.4 0 1 0 -2.9 0M67.0 85.7a1.4 1.4 0 1 0 2.9 0a1.4 1.4 0 1 0 -2.9 0M67.5 84.8a1.4 1.4 0 1 0 2.9 0a1.4 1.4 0 1 0 -2.9 0M68.0 84.8a1.4 1.4 0 1 0 2.9 0a1.4 1.4 0 1 0 -2.9 0M68.5 85.2a1.4 1.4 0 1 0 2.9 0a1.4 1.4 0 1 0 -2.9 0M69.0 85.0a1.4 1.4 0 1 0 2.9 0a1.4 1.4 0 1 0 -2.9 0M69.5 87.3a1.4 1.4 0 1 0 2.9 0a1.4 1.4 0 1 0 -2.9 0M70.0 88.6a1.4 1.4 0 1 0 2.9 0a1.4 1.4 0 1 0 -2.9 0M70.5 89.3a1.4 1.4 0 1 0 2.9 0a1.4 1.4 0 1 0 -2.9 0M71.0 89.5a1.4 1.4 0 1 0 2.9 0a1.4 1.4 0 1 0 -2.9 0M71.5 87.8a1.4 1.4 0 1 0 2.9 0a1.4 1.4 0 1 0 -2.9 0M72.0 90.3a1.4 1.4 0 1 0 2.9 0a1.4 1.4 0 1 0 -2.9 0M72.5 88.5a1.4 1.4 0 1 0 2.9 0a1.4 1.4 0 1 0 -2.9 0M73.0 91.0a1.4 1.4 0 1 0 2.9 0a1.4 1.4 0 1 0 -2.9 0M73.5 89.8a1.4 1.4 0 1 0 2.9 0a1.4 1.4 0 1 0 -2.9 0M74.0 89.3a1.4 1.4 0 1 0 2.9 0a1.4 1.4 0 1 0 -2.9 0M74.5 89.7a1.4 1.4 0 1 0 2.9 0a1.4 1.4 0 1 0 -2.9 0M75.0 88.4a1.4 1.4 0 1 0 2.9 0a1.4 1.4 0 1 0 -2.9 0M75.5 86.7a1.4 1.4 0 1 0 2.9 0a1.4 1.4 0 1 0 -2.9 0M76.0 88.9a1.4 1.4 0 1 0 2.9 0a1.4 1.4 0 1 0 -2.9 0M76.5 89.0a1.4 1.4 0 1 0 2.9 0a1.4 1.4 0 1 0 -2.9 0M77.0 89.1a1.4 1.4 0 1 0 2.9 0a1.4 1.4 0 1 0 -2.9 0M77.5 89.0a1.4 1.4 0 1 0 2.9 0a1.4 1.4 0 1 0 -2.9 0M78.0 86.6a1.4 1.4 0 1 0 2.9 0a1.4 1.4 0 1 0 -2.9 0M78.5 85.9a1.4 1.4 0 1 0 2.9 0a1.4 1.4 0 1 0 -2.9 0M79.0 86.3a1.4 1.4 0 1 0 2.9 0a1.4 1.4 0 1 0 -2.9 0M79.5 85.5a1.4 1.4 0 1 0 2.9 0a1.4 1.4 0 1 0 -2.9 0M80.0 86.8a1.4 1.4 0 1 0 2.9 0a1.4 1.4 0 1 0 -2.9 0M80.5 84.0a1.4 1.4 0 1 0 2.9 0a1.4 1.4 0 1 0 -2.9 0M81.0 90.0a1.4 1.4 0 1 0 2.9 0a1.4 1.4 0 1 0 -2.9 0M81.5 89.8a1.4 1.4 0 1 0 2.9 0a1.4 1.4 0 1 0 -2.9 0M82.0 86.4a1.4 1.4 0 1 0 2.9 0a1.4 1.4 0 1 0 -2.9 0M82.5 84.3a1.4 1.4 0 1 0 2.9 0a1.4 1.4 0 1 0 -2.9 0M83.0 86.0a1.4 1.4 0 1 0 2.9 0a1.4 1.4 0 1 0 -2.9 0M83.5 83.0a1.4 1.4 0 1 0 2.9 0a1.4 1.4 0 1 0 -2.9 0M84.0 82.0a1.4 1.4 0 1 0 2.9 0a1.4 1.4 0 1 0 -2.9 0M84.5 82.8a1.4 1.4 0 1 0 2.9 0a1.4 1.4 0 1 0 -2.9 0M85.0 85.6a1.4 1.4 0 1 0 2.9 0a1.4 1.4 0 1 0 -2.9 0M85.5 81.9a1.4 1.4 0 1 0 2.9 0a1.4 1.4 0 1 0 -2.9 0M86.0 87.8a1.4 1.4 0 1 0 2.9 0a1.4 1.4 0 1 0 -2.9 0M86.5 86.6a1.4 1.4 0 1 0 2.9 0a1.4 1.4 0 1 0 -2.9 0M87.0 84.0a1.4 1.4 0 1 0 2.9 0a1.4 1.4 0 1 0 -2.9 0M87.5 86.4a1.4 1.4 0 1 0 2.9 0a1.4 1.4 0 1 0 -2.9 0M88.0 86.6a1.4 1.4 0 1 0 2.9 0a1.4 1.4 0 1 0 -2.9 0M88.5 86.8a1.4 1.4 0 1 0 2.9 0a1.4 1.4 0 1 0 -2.9 0M89.0 84.8a1.4 1.4 0 1 0 2.9 0a1.4 1.4 0 1 0 -2.9 0M89.5 85.3a1.4 1.4 0 1 0 2.9 0a1.4 1.4 0 1 0 -2.9 0M90.0 86.0a1.4 1.4 0 1 0 2.9 0a1.4 1.4 0 1 0 -2.9 0M90.5 89.6a1.4 1.4 0 1 0 2.9 0a1.4 1.4 0 1 0 -2.9 0M91.0 87.6a1.4 1.4 0 1 0 2.9 0a1.4 1.4 0 1 0 -2.9 0M91.5 89.2a1.4 1.4 0 1 0 2.9 0a1.4 1.4 0 1 0 -2.9 0M92.0 90.3a1.4 1.4 0 1 0 2.9 0a1.4 1.4 0 1 0 -2.9 0M92.5 91.1a1.4 1.4 0 1 0 2.9 0a1.4 1.4 0 1 0 -2.9 0M93.0 89.6a1.4 1.4 0 1 0 2.9 0a1.4 1.4 0 1 0 -2.9 0M93.5 90.0a1.4 1.4 0 1 0 2.9 0a1.4 1.4 0 1 0 -2.9 0M94.0 87.8a1.4 1.4 0 1 0 2.9 0a1.4 1.4 0 1 0 -2.9 0M94.5 88.8a1.4 1.4 0 1 0 2.9 0a1.4 1.4 0 1 0 -2.9 0M95.0 88.4a1.4 1.4 0 1 0 2.9 0a1.4 1.4 0 1 0 -2.9 0M95.5 85.4a1.4 1.4 0 1 0 2.9 0a1.4 1.4 0 1 0 -2.9 0M96.0 86.4a1.4 1.4 0 1 0 2.9 0a1.4 1.4 0 1 0 -2.9 0M96.5 86.2a1.4 1.4 0 1 0 2.9 0a1.4 1.4 0 1 0 -2.9 0M97.0 88.3a1.4 1.4 0 1 0 2.9 0a1.4 1.4 0 1 0 -2.9 0M97.5 89.2a1.4 1.4 0 1 0 2.9 0a1.4 1.4 0 1 0 -2.9 0M98.0 87.7a1.4 1.4 0 1 0 2.9 0a1.4 1.4 0 1 0 -2.9 0M98.5 89.9a1.4 1.4 0 1 0 2.9 0a1.4 1.4 0 1 0 -2.9 0M99.0 86.9a1.4 1.4 0 1 0 2.9 0a1.4 1.4 0 1 0 -2.9 0M99.5 87.2a1.4 1.4 0 1 0 2.9 0a1.4 1.4 0 1 0 -2.9 0M100.0 90.4a1.4 1.4 0 1 0 2.9 0a1.4 1.4 0 1 0 -2.9 0M100.5 90.0a1.4 1.4 0 1 0 2.9 0a1.4 1.4 0 1 0 -2.9 0M101.0 90.5a1.4 1.4 0 1 0 2.9 0a1.4 1.4 0 1 0 -2.9 0M101.5 91.8a1.4 1.4 0 1 0 2.9 0a1.4 1.4 0 1 0 -2.9 0M102.0 92.8a1.4 1.4 0 1 0 2.9 0a1.4 1.4 0 1 0 -2.9 0M102.5 90.9a1.4 1.4 0 1 0 2.9 0a1.4 1.4 0 1 0 -2.9 0M103.0 89.6a1.4 1.4 0 1 0 2.9 0a1.4 1.4 0 1 0 -2.9 0M103.5 91.6a1.4 1.4 0 1 0 2.9 0a1.4 1.4 0 1 0 -2.9 0M104.0 89.4a1.4 1.4 0 1 0 2.9 0a1.4 1.4 0 1 0 -2.9 0M104.5 90.0a1.4 1.4 0 1 0 2.9 0a1.4 1.4 0 1 0 -2.9 0M105.0 88.0a1.4 1.4 0 1 0 2.9 0a1.4 1.4 0 1 0 -2.9 0M105.5 90.0a1.4 1.4 0 1 0 2.9 0a1.4 1.4 0 1 0 -2.9 0M106.0 91.1a1.4 1.4 0 1 0 2.9 0a1.4 1.4 0 1 0 -2.9 0M106.5 90.8a1.4 1.4 0 1 0 2.9 0a1.4 1.4 0 1 0 -2.9 0M107.0 92.6a1.4 1.4 0 1 0 2.9 0a1.4 1.4 0 1 0 -2.9 0M107.5 92.6a1.4 1.4 0 1 0 2.9 0a1.4 1.4 0 1 0 -2.9 0M108.0 95.5a1.4 1.4 0 1 0 2.9 0a1.4 1.4 0 1 0 -2.9 0M108.5 98.1a1.4 1.4 0 1 0 2.9 0a1.4 1.4 0 1 0 -2.9 0M109.0 97.7a1.4 1.4 0 1 0 2.9 0a1.4 1.4 0 1 0 -2.9 0M109.5 94.7a1.4 1.4 0 1 0 2.9 0a1.4 1.4 0 1 0 -2.9 0M110.0 93.1a1.4 1.4 0 1 0 2.9 0a1.4 1.4 0 1 0 -2.9 0M110.5 94.1a1.4 1.4 0 1 0 2.9 0a1.4 1.4 0 1 0 -2.9 0M111.0 93.2a1.4 1.4 0 1 0 2.9 0a1.4 1.4 0 1 0 -2.9 0M111.5 92.3a1.4 1.4 0 1 0 2.9 0a1.4 1.4 0 1 0 -2.9 0M112.0 92.1a1.4 1.4 0 1 0 2.9 0a1.4 1.4 0 1 0 -2.9 0M112.5 94.9a1.4 1.4 0 1 0 2.9 0a1.4 1.4 0 1 0 -2.9 0M113.0 95.3a1.4 1.4 0 1 0 2.9 0a1.4 1.4 0 1 0 -2.9 0M113.5 96.9a1.4 1.4 0 1 0 2.9 0a1.4 1.4 0 1 0 -2.9 0M114.0 97.2a1.4 1.4 0 1 0 2.9 0a1.4 1.4 0 1 0 -2.9 0M114.5 92.1a1.4 1.4 0 1 0 2.9 0a1.4 1.4 0 1 0 -2.9 0M115.0 94.5a1.4 1.4 0 1 0 2.9 0a1.4 1.4 0 1 0 -2.9 0M115.5 89.7a1.4 1.4 0 1 0 2.9 0a1.4 1.4 0 1 0 -2.9 0M116.0 89.2a1.4 1.4 0 1 0 2.9 0a1.4 1.4 0 1 0 -2.9 0M116.5 87.6a1.4 1.4 0 1 0 2.9 0a1.4 1.4 0 1 0 -2.9 0M117.0 85.4a1.4 1.4 0 1 0 2.9 0a1.4 1.4 0 1 0 -2.9 0M117.5 84.7a1.4 1.4 0 1 0 2.9 0a1.4 1.4 0 1 0 -2.9 0M118.0 87.8a1.4 1.4 0 1 0 2.9 0a1.4 1.4 0 1 0 -2.9 0M118.5 87.9a1.4 1.4 0 1 0 2.9 0a1.4 1.4 0 1 0 -2.9 0M119.0 86.6a1.4 1.4 0 1 0 2.9 0a1.4 1.4 0 1 0 -2.9 0M119.5 87.5a1.4 1.4 0 1 0 2.9 0a1.4 1.4 0 1 0 -2.9 0M120.0 90.7a1.4 1.4 0 1 0 2.9 0a1.4 1.4 0 1 0 -2.9 0M120.5 88.0a1.4 1.4 0 1 0 2.9 0a1.4 1.4 0 1 0 -2.9 0M121.0 88.4a1.4 1.4 0 1 0 2.9 0a1.4 1.4 0 1 0 -2.9 0M121.5 87.2a1.4 1.4 0 1 0 2.9 0a1.4 1.4 0 1 0 -2.9 0M122.0 84.8a1.4 1.4 0 1 0 2.9 0a1.4 1.4 0 1 0 -2.9 0M122.5 83.9a1.4 1.4 0 1 0 2.9 0a1.4 1.4 0 1 0 -2.9 0M123.0 81.8a1.4 1.4 0 1 0 2.9 0a1.4 1.4 0 1 0 -2.9 0M123.5 84.1a1.4 1.4 0 1 0 2.9 0a1.4 1.4 0 1 0 -2.9 0M124.0 84.2a1.4 1.4 0 1 0 2.9 0a1.4 1.4 0 1 0 -2.9 0M124.5 84.8a1.4 1.4 0 1 0 2.9 0a1.4 1.4 0 1 0 -2.9 0M125.0 83.0a1.4 1.4 0 1 0 2.9 0a1.4 1.4 0 1 0 -2.9 0M125.5 85.8a1.4 1.4 0 1 0 2.9 0a1.4 1.4 0 1 0 -2.9 0M126.0 85.9a1.4 1.4 0 1 0 2.9 0a1.4 1.4 0 1 0 -2.9 0M126.5 87.9a1.4 1.4 0 1 0 2.9 0a1.4 1.4 0 1 0 -2.9 0M127.0 84.8a1.4 1.4 0 1 0 2.9 0a1.4 1.4 0 1 0 -2.9 0M127.5 88.6a1.4 1.4 0 1 0 2.9 0a1.4 1.4 0 1 0 -2.9 0M128.1 84.6a1.4 1.4 0 1 0 2.9 0a1.4 1.4 0 1 0 -2.9 0M128.6 83.3a1.4 1.4 0 1 0 2.9 0a1.4 1.4 0 1 0 -2.9 0M129.1 83.0a1.4 1.4 0 1 0 2.9 0a1.4 1.4 0 1 0 -2.9 0M129.6 84.5a1.4 1.4 0 1 0 2.9 0a1.4 1.4 0 1 0 -2.9 0M130.1 82.9a1.4 1.4 0 1 0 2.9 0a1.4 1.4 0 1 0 -2.9 0M130.6 89.1a1.4 1.4 0 1 0 2.9 0a1.4 1.4 0 1 0 -2.9 0M131.1 85.2a1.4 1.4 0 1 0 2.9 0a1.4 1.4 0 1 0 -2.9 0M131.6 87.4a1.4 1.4 0 1 0 2.9 0a1.4 1.4 0 1 0 -2.9 0M132.1 86.7a1.4 1.4 0 1 0 2.9 0a1.4 1.4 0 1 0 -2.9 0M132.6 86.6a1.4 1.4 0 1 0 2.9 0a1.4 1.4 0 1 0 -2.9 0M133.1 87.9a1.4 1.4 0 1 0 2.9 0a1.4 1.4 0 1 0 -2.9 0M133.6 88.2a1.4 1.4 0 1 0 2.9 0a1.4 1.4 0 1 0 -2.9 0M134.1 84.5a1.4 1.4 0 1 0 2.9 0a1.4 1.4 0 1 0 -2.9 0M134.6 87.4a1.4 1.4 0 1 0 2.9 0a1.4 1.4 0 1 0 -2.9 0M135.1 86.9a1.4 1.4 0 1 0 2.9 0a1.4 1.4 0 1 0 -2.9 0M135.6 82.0a1.4 1.4 0 1 0 2.9 0a1.4 1.4 0 1 0 -2.9 0M136.1 83.0a1.4 1.4 0 1 0 2.9 0a1.4 1.4 0 1 0 -2.9 0M136.6 86.8a1.4 1.4 0 1 0 2.9 0a1.4 1.4 0 1 0 -2.9 0M137.1 86.5a1.4 1.4 0 1 0 2.9 0a1.4 1.4 0 1 0 -2.9 0M137.6 87.2a1.4 1.4 0 1 0 2.9 0a1.4 1.4 0 1 0 -2.9 0M138.1 86.4a1.4 1.4 0 1 0 2.9 0a1.4 1.4 0 1 0 -2.9 0M138.6 84.8a1.4 1.4 0 1 0 2.9 0a1.4 1.4 0 1 0 -2.9 0M139.1 87.4a1.4 1.4 0 1 0 2.9 0a1.4 1.4 0 1 0 -2.9 0M139.6 88.4a1.4 1.4 0 1 0 2.9 0a1.4 1.4 0 1 0 -2.9 0M140.1 84.6a1.4 1.4 0 1 0 2.9 0a1.4 1.4 0 1 0 -2.9 0M140.6 85.1a1.4 1.4 0 1 0 2.9 0a1.4 1.4 0 1 0 -2.9 0M141.1 83.4a1.4 1.4 0 1 0 2.9 0a1.4 1.4 0 1 0 -2.9 0M141.6 86.0a1.4 1.4 0 1 0 2.9 0a1.4 1.4 0 1 0 -2.9 0M142.1 86.9a1.4 1.4 0 1 0 2.9 0a1.4 1.4 0 1 0 -2.9 0M142.6 84.4a1.4 1.4 0 1 0 2.9 0a1.4 1.4 0 1 0 -2.9 0M143.1 84.1a1.4 1.4 0 1 0 2.9 0a1.4 1.4 0 1 0 -2.9 0M143.6 89.2a1.4 1.4 0 1 0 2.9 0a1.4 1.4 0 1 0 -2.9 0M144.1 89.4a1.4 1.4 0 1 0 2.9 0a1.4 1.4 0 1 0 -2.9 0M144.6 86.1a1.4 1.4 0 1 0 2.9 0a1.4 1.4 0 1 0 -2.9 0M145.1 85.7a1.4 1.4 0 1 0 2.9 0a1.4 1.4 0 1 0 -2.9 0M145.6 85.2a1.4 1.4 0 1 0 2.9 0a1.4 1.4 0 1 0 -2.9 0M146.1 82.3a1.4 1.4 0 1 0 2.9 0a1.4 1.4 0 1 0 -2.9 0M146.6 83.1a1.4 1.4 0 1 0 2.9 0a1.4 1.4 0 1 0 -2.9 0M147.1 84.4a1.4 1.4 0 1 0 2.9 0a1.4 1.4 0 1 0 -2.9 0M147.6 82.0a1.4 1.4 0 1 0 2.9 0a1.4 1.4 0 1 0 -2.9 0M148.1 83.7a1.4 1.4 0 1 0 2.9 0a1.4 1.4 0 1 0 -2.9 0M148.6 83.8a1.4 1.4 0 1 0 2.9 0a1.4 1.4 0 1 0 -2.9 0M149.1 83.1a1.4 1.4 0 1 0 2.9 0a1.4 1.4 0 1 0 -2.9 0M149.6 83.0a1.4 1.4 0 1 0 2.9 0a1.4 1.4 0 1 0 -2.9 0M150.1 84.3a1.4 1.4 0 1 0 2.9 0a1.4 1.4 0 1 0 -2.9 0M150.6 83.8a1.4 1.4 0 1 0 2.9 0a1.4 1.4 0 1 0 -2.9 0M151.1 84.6a1.4 1.4 0 1 0 2.9 0a1.4 1.4 0 1 0 -2.9 0M151.6 85.3a1.4 1.4 0 1 0 2.9 0a1.4 1.4 0 1 0 -2.9 0M152.1 83.3a1.4 1.4 0 1 0 2.9 0a1.4 1.4 0 1 0 -2.9 0M152.6 81.4a1.4 1.4 0 1 0 2.9 0a1.4 1.4 0 1 0 -2.9 0M153.1 79.4a1.4 1.4 0 1 0 2.9 0a1.4 1.4 0 1 0 -2.9 0M153.6 83.1a1.4 1.4 0 1 0 2.9 0a1.4 1.4 0 1 0 -2.9 0M154.1 83.0a1.4 1.4 0 1 0 2.9 0a1.4 1.4 0 1 0 -2.9 0M154.6 79.6a1.4 1.4 0 1 0 2.9 0a1.4 1.4 0 1 0 -2.9 0M155.1 82.0a1.4 1.4 0 1 0 2.9 0a1.4 1.4 0 1 0 -2.9 0M155.6 79.4a1.4 1.4 0 1 0 2.9 0a1.4 1.4 0 1 0 -2.9 0M156.1 81.6a1.4 1.4 0 1 0 2.9 0a1.4 1.4 0 1 0 -2.9 0M156.6 79.7a1.4 1.4 0 1 0 2.9 0a1.4 1.4 0 1 0 -2.9 0M157.1 79.9a1.4 1.4 0 1 0 2.9 0a1.4 1.4 0 1 0 -2.9 0M157.6 81.9a1.4 1.4 0 1 0 2.9 0a1.4 1.4 0 1 0 -2.9 0M158.1 77.3a1.4 1.4 0 1 0 2.9 0a1.4 1.4 0 1 0 -2.9 0M158.6 79.8a1.4 1.4 0 1 0 2.9 0a1.4 1.4 0 1 0 -2.9 0M159.1 82.0a1.4 1.4 0 1 0 2.9 0a1.4 1.4 0 1 0 -2.9 0M159.6 81.5a1.4 1.4 0 1 0 2.9 0a1.4 1.4 0 1 0 -2.9 0M160.1 79.7a1.4 1.4 0 1 0 2.9 0a1.4 1.4 0 1 0 -2.9 0M160.6 81.2a1.4 1.4 0 1 0 2.9 0a1.4 1.4 0 1 0 -2.9 0M161.1 80.5a1.4 1.4 0 1 0 2.9 0a1.4 1.4 0 1 0 -2.9 0M161.6 75.9a1.4 1.4 0 1 0 2.9 0a1.4 1.4 0 1 0 -2.9 0M162.1 76.8a1.4 1.4 0 1 0 2.9 0a1.4 1.4 0 1 0 -2.9 0M162.6 77.3a1.4 1.4 0 1 0 2.9 0a1.4 1.4 0 1 0 -2.9 0M163.1 78.2a1.4 1.4 0 1 0 2.9 0a1.4 1.4 0 1 0 -2.9 0M163.6 75.1a1.4 1.4 0 1 0 2.9 0a1.4 1.4 0 1 0 -2.9 0M164.1 79.6a1.4 1.4 0 1 0 2.9 0a1.4 1.4 0 1 0 -2.9 0M164.6 74.0a1.4 1.4 0 1 0 2.9 0a1.4 1.4 0 1 0 -2.9 0M165.1 73.7a1.4 1.4 0 1 0 2.9 0a1.4 1.4 0 1 0 -2.9 0M165.6 75.0a1.4 1.4 0 1 0 2.9 0a1.4 1.4 0 1 0 -2.9 0M166.1 74.3a1.4 1.4 0 1 0 2.9 0a1.4 1.4 0 1 0 -2.9 0M166.6 71.8a1.4 1.4 0 1 0 2.9 0a1.4 1.4 0 1 0 -2.9 0M167.1 68.4a1.4 1.4 0 1 0 2.9 0a1.4 1.4 0 1 0 -2.9 0M167.6 71.3a1.4 1.4 0 1 0 2.9 0a1.4 1.4 0 1 0 -2.9 0M168.1 70.0a1.4 1.4 0 1 0 2.9 0a1.4 1.4 0 1 0 -2.9 0M168.6 69.0a1.4 1.4 0 1 0 2.9 0a1.4 1.4 0 1 0 -2.9 0M169.1 68.1a1.4 1.4 0 1 0 2.9 0a1.4 1.4 0 1 0 -2.9 0M169.6 71.7a1.4 1.4 0 1 0 2.9 0a1.4 1.4 0 1 0 -2.9 0M170.1 70.9a1.4 1.4 0 1 0 2.9 0a1.4 1.4 0 1 0 -2.9 0M170.6 71.6a1.4 1.4 0 1 0 2.9 0a1.4 1.4 0 1 0 -2.9 0M171.1 71.4a1.4 1.4 0 1 0 2.9 0a1.4 1.4 0 1 0 -2.9 0M171.6 70.0a1.4 1.4 0 1 0 2.9 0a1.4 1.4 0 1 0 -2.9 0M172.1 69.1a1.4 1.4 0 1 0 2.9 0a1.4 1.4 0 1 0 -2.9 0M172.6 68.3a1.4 1.4 0 1 0 2.9 0a1.4 1.4 0 1 0 -2.9 0M173.1 66.4a1.4 1.4 0 1 0 2.9 0a1.4 1.4 0 1 0 -2.9 0M173.6 68.4a1.4 1.4 0 1 0 2.9 0a1.4 1.4 0 1 0 -2.9 0M174.1 68.3a1.4 1.4 0 1 0 2.9 0a1.4 1.4 0 1 0 -2.9 0M174.6 66.6a1.4 1.4 0 1 0 2.9 0a1.4 1.4 0 1 0 -2.9 0M175.1 69.0a1.4 1.4 0 1 0 2.9 0a1.4 1.4 0 1 0 -2.9 0M175.6 65.9a1.4 1.4 0 1 0 2.9 0a1.4 1.4 0 1 0 -2.9 0M176.1 69.0a1.4 1.4 0 1 0 2.9 0a1.4 1.4 0 1 0 -2.9 0M176.6 64.1a1.4 1.4 0 1 0 2.9 0a1.4 1.4 0 1 0 -2.9 0M177.1 62.8a1.4 1.4 0 1 0 2.9 0a1.4 1.4 0 1 0 -2.9 0M177.6 61.2a1.4 1.4 0 1 0 2.9 0a1.4 1.4 0 1 0 -2.9 0M178.1 62.6a1.4 1.4 0 1 0 2.9 0a1.4 1.4 0 1 0 -2.9 0M178.6 64.5a1.4 1.4 0 1 0 2.9 0a1.4 1.4 0 1 0 -2.9 0M179.1 63.6a1.4 1.4 0 1 0 2.9 0a1.4 1.4 0 1 0 -2.9 0M179.6 63.2a1.4 1.4 0 1 0 2.9 0a1.4 1.4 0 1 0 -2.9 0M180.1 63.5a1.4 1.4 0 1 0 2.9 0a1.4 1.4 0 1 0 -2.9 0M180.6 63.3a1.4 1.4 0 1 0 2.9 0a1.4 1.4 0 1 0 -2.9 0M181.1 65.6a1.4 1.4 0 1 0 2.9 0a1.4 1.4 0 1 0 -2.9 0M181.6 65.7a1.4 1.4 0 1 0 2.9 0a1.4 1.4 0 1 0 -2.9 0M182.1 64.9a1.4 1.4 0 1 0 2.9 0a1.4 1.4 0 1 0 -2.9 0M182.6 63.6a1.4 1.4 0 1 0 2.9 0a1.4 1.4 0 1 0 -2.9 0M183.1 66.2a1.4 1.4 0 1 0 2.9 0a1.4 1.4 0 1 0 -2.9 0M183.6 62.5a1.4 1.4 0 1 0 2.9 0a1.4 1.4 0 1 0 -2.9 0M184.1 61.4a1.4 1.4 0 1 0 2.9 0a1.4 1.4 0 1 0 -2.9 0M184.6 61.1a1.4 1.4 0 1 0 2.9 0a1.4 1.4 0 1 0 -2.9 0M185.1 59.4a1.4 1.4 0 1 0 2.9 0a1.4 1.4 0 1 0 -2.9 0M185.6 60.0a1.4 1.4 0 1 0 2.9 0a1.4 1.4 0 1 0 -2.9 0M186.1 60.1a1.4 1.4 0 1 0 2.9 0a1.4 1.4 0 1 0 -2.9 0M186.6 60.6a1.4 1.4 0 1 0 2.9 0a1.4 1.4 0 1 0 -2.9 0M187.1 61.9a1.4 1.4 0 1 0 2.9 0a1.4 1.4 0 1 0 -2.9 0M187.6 59.0a1.4 1.4 0 1 0 2.9 0a1.4 1.4 0 1 0 -2.9 0M188.1 57.6a1.4 1.4 0 1 0 2.9 0a1.4 1.4 0 1 0 -2.9 0M188.6 62.4a1.4 1.4 0 1 0 2.9 0a1.4 1.4 0 1 0 -2.9 0M189.1 60.1a1.4 1.4 0 1 0 2.9 0a1.4 1.4 0 1 0 -2.9 0M189.6 59.0a1.4 1.4 0 1 0 2.9 0a1.4 1.4 0 1 0 -2.9 0M190.1 57.8a1.4 1.4 0 1 0 2.9 0a1.4 1.4 0 1 0 -2.9 0M190.6 56.7a1.4 1.4 0 1 0 2.9 0a1.4 1.4 0 1 0 -2.9 0M191.1 60.0a1.4 1.4 0 1 0 2.9 0a1.4 1.4 0 1 0 -2.9 0M191.6 57.8a1.4 1.4 0 1 0 2.9 0a1.4 1.4 0 1 0 -2.9 0M192.1 57.9a1.4 1.4 0 1 0 2.9 0a1.4 1.4 0 1 0 -2.9 0M192.6 57.6a1.4 1.4 0 1 0 2.9 0a1.4 1.4 0 1 0 -2.9 0M193.1 58.6a1.4 1.4 0 1 0 2.9 0a1.4 1.4 0 1 0 -2.9 0M193.6 55.8a1.4 1.4 0 1 0 2.9 0a1.4 1.4 0 1 0 -2.9 0M194.1 57.1a1.4 1.4 0 1 0 2.9 0a1.4 1.4 0 1 0 -2.9 0M194.6 52.2a1.4 1.4 0 1 0 2.9 0a1.4 1.4 0 1 0 -2.9 0M195.1 54.4a1.4 1.4 0 1 0 2.9 0a1.4 1.4 0 1 0 -2.9 0M195.6 54.5a1.4 1.4 0 1 0 2.9 0a1.4 1.4 0 1 0 -2.9 0M196.1 60.4a1.4 1.4 0 1 0 2.9 0a1.4 1.4 0 1 0 -2.9 0M196.6 57.6a1.4 1.4 0 1 0 2.9 0a1.4 1.4 0 1 0 -2.9 0M197.1 61.4a1.4 1.4 0 1 0 2.9 0a1.4 1.4 0 1 0 -2.9 0M197.6 61.2a1.4 1.4 0 1 0 2.9 0a1.4 1.4 0 1 0 -2.9 0M198.1 58.3a1.4 1.4 0 1 0 2.9 0a1.4 1.4 0 1 0 -2.9 0M198.6 59.2a1.4 1.4 0 1 0 2.9 0a1.4 1.4 0 1 0 -2.9 0M199.1 58.0a1.4 1.4 0 1 0 2.9 0a1.4 1.4 0 1 0 -2.9 0M199.6 60.1a1.4 1.4 0 1 0 2.9 0a1.4 1.4 0 1 0 -2.9 0M200.1 58.4a1.4 1.4 0 1 0 2.9 0a1.4 1.4 0 1 0 -2.9 0M200.6 60.3a1.4 1.4 0 1 0 2.9 0a1.4 1.4 0 1 0 -2.9 0M201.1 60.7a1.4 1.4 0 1 0 2.9 0a1.4 1.4 0 1 0 -2.9 0M201.6 59.9a1.4 1.4 0 1 0 2.9 0a1.4 1.4 0 1 0 -2.9 0M202.1 61.2a1.4 1.4 0 1 0 2.9 0a1.4 1.4 0 1 0 -2.9 0M202.6 56.9a1.4 1.4 0 1 0 2.9 0a1.4 1.4 0 1 0 -2.9 0M203.1 58.1a1.4 1.4 0 1 0 2.9 0a1.4 1.4 0 1 0 -2.9 0M203.6 57.3a1.4 1.4 0 1 0 2.9 0a1.4 1.4 0 1 0 -2.9 0M204.1 58.3a1.4 1.4 0 1 0 2.9 0a1.4 1.4 0 1 0 -2.9 0M204.6 58.4a1.4 1.4 0 1 0 2.9 0a1.4 1.4 0 1 0 -2.9 0M205.1 57.4a1.4 1.4 0 1 0 2.9 0a1.4 1.4 0 1 0 -2.9 0M205.6 54.7a1.4 1.4 0 1 0 2.9 0a1.4 1.4 0 1 0 -2.9 0M206.1 56.3a1.4 1.4 0 1 0 2.9 0a1.4 1.4 0 1 0 -2.9 0M206.6 57.6a1.4 1.4 0 1 0 2.9 0a1.4 1.4 0 1 0 -2.9 0M207.1 55.1a1.4 1.4 0 1 0 2.9 0a1.4 1.4 0 1 0 -2.9 0M207.6 57.6a1.4 1.4 0 1 0 2.9 0a1.4 1.4 0 1 0 -2.9 0M208.1 56.5a1.4 1.4 0 1 0 2.9 0a1.4 1.4 0 1 0 -2.9 0M208.6 53.3a1.4 1.4 0 1 0 2.9 0a1.4 1.4 0 1 0 -2.9 0M209.1 55.0a1.4 1.4 0 1 0 2.9 0a1.4 1.4 0 1 0 -2.9 0M209.6 54.3a1.4 1.4 0 1 0 2.9 0a1.4 1.4 0 1 0 -2.9 0M210.1 58.5a1.4 1.4 0 1 0 2.9 0a1.4 1.4 0 1 0 -2.9 0M210.6 55.1a1.4 1.4 0 1 0 2.9 0a1.4 1.4 0 1 0 -2.9 0M211.1 54.4a1.4 1.4 0 1 0 2.9 0a1.4 1.4 0 1 0 -2.9 0M211.6 56.9a1.4 1.4 0 1 0 2.9 0a1.4 1.4 0 1 0 -2.9 0M212.1 54.7a1.4 1.4 0 1 0 2.9 0a1.4 1.4 0 1 0 -2.9 0M212.6 57.3a1.4 1.4 0 1 0 2.9 0a1.4 1.4 0 1 0 -2.9 0M213.1 55.2a1.4 1.4 0 1 0 2.9 0a1.4 1.4 0 1 0 -2.9 0M213.6 58.5a1.4 1.4 0 1 0 2.9 0a1.4 1.4 0 1 0 -2.9 0M214.1 56.2a1.4 1.4 0 1 0 2.9 0a1.4 1.4 0 1 0 -2.9 0M214.6 59.2a1.4 1.4 0 1 0 2.9 0a1.4 1.4 0 1 0 -2.9 0M215.1 56.1a1.4 1.4 0 1 0 2.9 0a1.4 1.4 0 1 0 -2.9 0M215.6 53.3a1.4 1.4 0 1 0 2.9 0a1.4 1.4 0 1 0 -2.9 0M216.1 56.8a1.4 1.4 0 1 0 2.9 0a1.4 1.4 0 1 0 -2.9 0M216.6 54.1a1.4 1.4 0 1 0 2.9 0a1.4 1.4 0 1 0 -2.9 0M217.1 57.4a1.4 1.4 0 1 0 2.9 0a1.4 1.4 0 1 0 -2.9 0M217.6 60.3a1.4 1.4 0 1 0 2.9 0a1.4 1.4 0 1 0 -2.9 0M218.1 57.7a1.4 1.4 0 1 0 2.9 0a1.4 1.4 0 1 0 -2.9 0M218.6 60.3a1.4 1.4 0 1 0 2.9 0a1.4 1.4 0 1 0 -2.9 0M219.1 57.7a1.4 1.4 0 1 0 2.9 0a1.4 1.4 0 1 0 -2.9 0M219.6 56.6a1.4 1.4 0 1 0 2.9 0a1.4 1.4 0 1 0 -2.9 0M220.1 53.5a1.4 1.4 0 1 0 2.9 0a1.4 1.4 0 1 0 -2.9 0M220.6 53.1a1.4 1.4 0 1 0 2.9 0a1.4 1.4 0 1 0 -2.9 0M221.1 56.6a1.4 1.4 0 1 0 2.9 0a1.4 1.4 0 1 0 -2.9 0M221.6 51.9a1.4 1.4 0 1 0 2.9 0a1.4 1.4 0 1 0 -2.9 0M222.1 52.8a1.4 1.4 0 1 0 2.9 0a1.4 1.4 0 1 0 -2.9 0M222.6 49.6a1.4 1.4 0 1 0 2.9 0a1.4 1.4 0 1 0 -2.9 0M223.1 48.8a1.4 1.4 0 1 0 2.9 0a1.4 1.4 0 1 0 -2.9 0M223.6 52.2a1.4 1.4 0 1 0 2.9 0a1.4 1.4 0 1 0 -2.9 0M224.1 52.2a1.4 1.4 0 1 0 2.9 0a1.4 1.4 0 1 0 -2.9 0M224.6 50.5a1.4 1.4 0 1 0 2.9 0a1.4 1.4 0 1 0 -2.9 0M225.1 52.6a1.4 1.4 0 1 0 2.9 0a1.4 1.4 0 1 0 -2.9 0M225.6 50.4a1.4 1.4 0 1 0 2.9 0a1.4 1.4 0 1 0 -2.9 0M226.1 48.9a1.4 1.4 0 1 0 2.9 0a1.4 1.4 0 1 0 -2.9 0M226.6 48.6a1.4 1.4 0 1 0 2.9 0a1.4 1.4 0 1 0 -2.9 0" fill="#f0a183"/>
<path d="M35.5 78.7h2.1v2.1h-2.1zM36.0 77.8h2.1v2.1h-2.1zM36.5 80.5h2.1v2.1h-2.1zM37.0 79.8h2.1v2.1h-2.1zM37.5 78.3h2.1v2.1h-2.1zM38.0 76.2h2.1v2.1h-2.1zM38.5 75.7h2.1v2.1h-2.1zM39.0 77.9h2.1v2.1h-2.1zM39.5 77.6h2.1v2.1h-2.1zM40.0 73.6h2.1v2.1h-2.1zM40.5 74.6h2.1v2.1h-2.1zM41.0 75.9h2.1v2.1h-2.1zM41.5 74.8h2.1v2.1h-2.1zM42.0 74.3h2.1v2.1h-2.1zM42.5 72.7h2.1v2.1h-2.1zM43.0 71.2h2.1v2.1h-2.1zM43.5 74.0h2.1v2.1h-2.1zM44.0 71.8h2.1v2.1h-2.1zM44.5 74.2h2.1v2.1h-2.1zM45.0 72.8h2.1v2.1h-2.1zM45.5 70.7h2.1v2.1h-2.1zM46.0 70.0h2.1v2.1h-2.1zM46.5 71.4h2.1v2.1h-2.1zM47.0 69.2h2.1v2.1h-2.1zM47.5 70.6h2.1v2.1h-2.1zM48.0 71.0h2.1v2.1h-2.1zM48.5 71.0h2.1v2.1h-2.1zM49.0 68.2h2.1v2.1h-2.1zM49.5 68.6h2.1v2.1h-2.1zM50.0 67.5h2.1v2.1h-2.1zM50.5 66.4h2.1v2.1h-2.1zM51.0 68.4h2.1v2.1h-2.1zM51.5 67.0h2.1v2.1h-2.1zM52.0 67.3h2.1v2.1h-2.1zM52.5 67.4h2.1v2.1h-2.1zM53.0 66.5h2.1v2.1h-2.1zM53.5 66.3h2.1v2.1h-2.1zM54.0 69.4h2.1v2.1h-2.1zM54.5 71.2h2.1v2.1h-2.1zM55.0 70.1h2.1v2.1h-2.1zM55.5 70.9h2.1v2.1h-2.1zM56.0 70.2h2.1v2.1h-2.1zM56.5 67.8h2.1v2.1h-2.1zM57.0 69.9h2.1v2.1h-2.1zM57.5 68.6h2.1v2.1h-2.1zM58.0 68.3h2.1v2.1h-2.1zM58.5 67.2h2.1v2.1h-2.1zM59.0 68.2h2.1v2.1h-2.1zM59.5 71.2h2.1v2.1h-2.1zM60.0 70.0h2.1v2.1h-2.1zM60.5 71.9h2.1v2.1h-2.1zM61.0 70.6h2.1v2.1h-2.1zM61.5 69.5h2.1v2.1h-2.1zM62.0 70.2h2.1v2.1h-2.1zM62.5 69.6h2.1v2.1h-2.1zM63.0 70.7h2.1v2.1h-2.1zM63.5 69.8h2.1v2.1h-2.1zM64.0 74.3h2.1v2.1h-2.1zM64.5 75.4h2.1v2.1h-2.1zM65.0 72.5h2.1v2.1h-2.1zM65.5 71.1h2.1v2.1h-2.1zM66.0 73.3h2.1v2.1h-2.1zM66.5 74.5h2.1v2.1h-2.1zM67.0 75.2h2.1v2.1h-2.1zM67.5 74.5h2.1v2.1h-2.1zM68.0 74.0h2.1v2.1h-2.1zM68.5 72.9h2.1v2.1h-2.1zM69.0 73.3h2.1v2.1h-2.1zM69.5 76.0h2.1v2.1h-2.1zM70.0 72.3h2.1v2.1h-2.1zM70.5 73.5h2.1v2.1h-2.1zM71.0 71.4h2.1v2.1h-2.1zM71.5 68.5h2.1v2.1h-2.1zM72.0 70.0h2.1v2.1h-2.1zM72.5 69.2h2.1v2.1h-2.1zM73.0 68.0h2.1v2.1h-2.1zM73.5 68.3h2.1v2.1h-2.1zM74.0 65.5h2.1v2.1h-2.1zM74.5 63.4h2.1v2.1h-2.1zM75.0 63.9h2.1v2.1h-2.1zM75.5 64.0h2.1v2.1h-2.1zM76.0 63.3h2.1v2.1h-2.1zM76.5 62.3h2.1v2.1h-2.1zM77.0 59.0h2.1v2.1h-2.1zM77.5 59.4h2.1v2.1h-2.1zM78.0 58.4h2.1v2.1h-2.1zM78.5 58.6h2.1v2.1h-2.1zM79.0 57.7h2.1v2.1h-2.1zM79.5 57.1h2.1v2.1h-2.1zM80.0 53.6h2.1v2.1h-2.1zM80.5 55.8h2.1v2.1h-2.1zM81.0 56.2h2.1v2.1h-2.1zM81.5 58.2h2.1v2.1h-2.1zM82.0 55.9h2.1v2.1h-2.1zM82.5 58.6h2.1v2.1h-2.1zM83.0 58.5h2.1v2.1h-2.1zM83.5 56.1h2.1v2.1h-2.1zM84.0 57.6h2.1v2.1h-2.1zM84.5 60.5h2.1v2.1h-2.1zM85.0 60.3h2.1v2.1h-2.1zM85.5 62.6h2.1v2.1h-2.1zM86.0 63.4h2.1v2.1h-2.1zM86.5 66.8h2.1v2.1h-2.1zM87.0 64.6h2.1v2.1h-2.1zM87.5 66.0h2.1v2.1h-2.1zM88.0 64.5h2.1v2.1h-2.1zM88.5 67.0h2.1v2.1h-2.1zM89.0 65.5h2.1v2.1h-2.1zM89.5 69.0h2.1v2.1h-2.1zM90.0 68.4h2.1v2.1h-2.1zM90.5 67.5h2.1v2.1h-2.1zM91.0 66.2h2.1v2.1h-2.1zM91.5 67.5h2.1v2.1h-2.1zM92.0 68.9h2.1v2.1h-2.1zM92.5 65.6h2.1v2.1h-2.1zM93.0 69.2h2.1v2.1h-2.1zM93.5 68.5h2.1v2.1h-2.1zM94.0 68.7h2.1v2.1h-2.1zM94.5 68.2h2.1v2.1h-2.1zM95.0 65.4h2.1v2.1h-2.1zM95.5 66.6h2.1v2.1h-2.1zM96.0 68.3h2.1v2.1h-2.1zM96.5 66.1h2.1v2.1h-2.1zM97.0 67.8h2.1v2.1h-2.1zM97.5 67.0h2.1v2.1h-2.1zM98.0 66.9h2.1v2.1h-2.1zM98.5 64.9h2.1v2.1h-2.1zM99.0 65.5h2.1v2.1h-2.1zM99.5 61.6h2.1v2.1h-2.1zM100.0 64.1h2.1v2.1h-2.1zM100.5 63.0h2.1v2.1h-2.1zM101.0 60.8h2.1v2.1h-2.1zM101.5 62.7h2.1v2.1h-2.1zM102.0 60.1h2.1v2.1h-2.1zM102.5 62.7h2.1v2.1h-2.1zM103.0 60.8h2.1v2.1h-2.1zM103.5 62.5h2.1v2.1h-2.1zM104.0 60.8h2.1v2.1h-2.1zM104.5 60.4h2.1v2.1h-2.1zM105.0 61.5h2.1v2.1h-2.1zM105.5 59.9h2.1v2.1h-2.1zM106.0 60.5h2.1v2.1h-2.1zM106.5 62.1h2.1v2.1h-2.1zM107.0 61.2h2.1v2.1h-2.1zM107.5 61.6h2.1v2.1h-2.1zM108.0 56.9h2.1v2.1h-2.1zM108.5 57.2h2.1v2.1h-2.1zM109.0 57.9h2.1v2.1h-2.1zM109.5 55.5h2.1v2.1h-2.1zM110.0 54.9h2.1v2.1h-2.1zM110.5 54.6h2.1v2.1h-2.1zM111.0 54.4h2.1v2.1h-2.1zM111.5 52.9h2.1v2.1h-2.1zM112.0 55.9h2.1v2.1h-2.1zM112.5 55.9h2.1v2.1h-2.1zM113.0 54.3h2.1v2.1h-2.1zM113.5 56.0h2.1v2.1h-2.1zM114.0 56.6h2.1v2.1h-2.1zM114.5 55.2h2.1v2.1h-2.1zM115.0 53.8h2.1v2.1h-2.1zM115.5 53.0h2.1v2.1h-2.1zM116.0 53.8h2.1v2.1h-2.1zM116.5 52.5h2.1v2.1h-2.1zM117.0 53.0h2.1v2.1h-2.1zM117.5 50.8h2.1v2.1h-2.1zM118.0 54.4h2.1v2.1h-2.1zM118.5 56.1h2.1v2.1h-2.1zM119.0 55.4h2.1v2.1h-2.1zM119.5 56.2h2.1v2.1h-2.1zM120.0 59.2h2.1v2.1h-2.1zM120.5 58.3h2.1v2.1h-2.1zM121.0 57.8h2.1v2.1h-2.1zM121.5 57.4h2.1v2.1h-2.1zM122.0 62.1h2.1v2.1h-2.1zM122.5 62.4h2.1v2.1h-2.1zM123.0 59.6h2.1v2.1h-2.1zM123.5 59.3h2.1v2.1h-2.1zM124.0 59.8h2.1v2.1h-2.1zM124.5 60.0h2.1v2.1h-2.1zM125.0 63.6h2.1v2.1h-2.1zM125.5 62.3h2.1v2.1h-2.1zM126.0 64.3h2.1v2.1h-2.1zM126.5 63.3h2.1v2.1h-2.1zM127.0 61.2h2.1v2.1h-2.1zM127.5 60.5h2.1v2.1h-2.1zM128.0 60.2h2.1v2.1h-2.1zM128.4 61.3h2.1v2.1h-2.1zM128.9 60.8h2.1v2.1h-2.1zM129.4 63.1h2.1v2.1h-2.1zM129.9 61.6h2.1v2.1h-2.1zM130.4 62.7h2.1v2.1h-2.1zM130.9 62.2h2.1v2.1h-2.1zM131.4 60.7h2.1v2.1h-2.1zM131.9 64.2h2.1v2.1h-2.1zM132.4 64.2h2.1v2.1h-2.1zM132.9 64.0h2.1v2.1h-2.1zM133.4 64.7h2.1v2.1h-2.1zM133.9 64.0h2.1v2.1h-2.1zM134.4 61.4h2.1v2.1h-2.1zM134.9 64.0h2.1v2.1h-2.1zM135.4 65.8h2.1v2.1h-2.1zM135.9 65.7h2.1v2.1h-2.1zM136.4 64.0h2.1v2.1h-2.1zM136.9 64.6h2.1v2.1h-2.1zM137.4 66.5h2.1v2.1h-2.1zM137.9 64.9h2.1v2.1h-2.1zM138.4 64.3h2.1v2.1h-2.1zM138.9 61.0h2.1v2.1h-2.1zM139.4 63.5h2.1v2.1h-2.1zM139.9 62.7h2.1v2.1h-2.1zM140.4 62.3h2.1v2.1h-2.1zM140.9 63.6h2.1v2.1h-2.1zM141.4 66.2h2.1v2.1h-2.1zM141.9 64.3h2.1v2.1h-2.1zM142.4 62.9h2.1v2.1h-2.1zM142.9 61.8h2.1v2.1h-2.1zM143.4 61.7h2.1v2.1h-2.1zM143.9 63.8h2.1v2.1h-2.1zM144.4 62.5h2.1v2.1h-2.1zM144.9 61.8h2.1v2.1h-2.1zM145.4 63.9h2.1v2.1h-2.1zM145.9 64.8h2.1v2.1h-2.1zM146.4 64.4h2.1v2.1h-2.1zM146.9 63.1h2.1v2.1h-2.1zM147.4 62.7h2.1v2.1h-2.1zM147.9 61.6h2.1v2.1h-2.1zM148.4 61.4h2.1v2.1h-2.1zM148.9 58.6h2.1v2.1h-2.1zM149.4 58.8h2.1v2.1h-2.1zM149.9 60.2h2.1v2.1h-2.1zM150.4 57.9h2.1v2.1h-2.1zM150.9 56.1h2.1v2.1h-2.1zM151.4 56.0h2.1v2.1h-2.1zM151.9 57.5h2.1v2.1h-2.1zM152.4 55.2h2.1v2.1h-2.1zM152.9 54.4h2.1v2.1h-2.1zM153.4 54.0h2.1v2.1h-2.1zM153.9 51.7h2.1v2.1h-2.1zM154.4 56.0h2.1v2.1h-2.1zM154.9 53.6h2.1v2.1h-2.1zM155.4 54.1h2.1v2.1h-2.1zM155.9 53.4h2.1v2.1h-2.1zM156.4 50.6h2.1v2.1h-2.1zM156.9 52.2h2.1v2.1h-2.1zM157.4 51.8h2.1v2.1h-2.1zM157.9 53.5h2.1v2.1h-2.1zM158.4 51.3h2.1v2.1h-2.1zM158.9 54.6h2.1v2.1h-2.1zM159.4 51.5h2.1v2.1h-2.1zM159.9 53.3h2.1v2.1h-2.1zM160.4 50.4h2.1v2.1h-2.1zM160.9 47.2h2.1v2.1h-2.1zM161.4 49.5h2.1v2.1h-2.1zM161.9 47.7h2.1v2.1h-2.1zM162.4 47.4h2.1v2.1h-2.1zM162.9 51.6h2.1v2.1h-2.1zM163.4 49.6h2.1v2.1h-2.1zM163.9 50.9h2.1v2.1h-2.1zM164.4 50.0h2.1v2.1h-2.1zM164.9 52.1h2.1v2.1h-2.1zM165.4 51.4h2.1v2.1h-2.1zM165.9 51.1h2.1v2.1h-2.1zM166.4 51.8h2.1v2.1h-2.1zM166.9 53.7h2.1v2.1h-2.1zM167.4 52.7h2.1v2.1h-2.1zM167.9 49.6h2.1v2.1h-2.1zM168.4 52.8h2.1v2.1h-2.1zM168.9 54.2h2.1v2.1h-2.1zM169.4 54.3h2.1v2.1h-2.1zM169.9 52.9h2.1v2.1h-2.1zM170.4 49.5h2.1v2.1h-2.1zM170.9 48.1h2.1v2.1h-2.1zM171.4 49.9h2.1v2.1h-2.1zM171.9 50.5h2.1v2.1h-2.1zM172.4 50.2h2.1v2.1h-2.1zM172.9 50.9h2.1v2.1h-2.1zM173.4 49.3h2.1v2.1h-2.1zM173.9 49.0h2.1v2.1h-2.1zM174.4 49.3h2.1v2.1h-2.1zM174.9 47.9h2.1v2.1h-2.1zM175.4 48.8h2.1v2.1h-2.1zM175.9 47.4h2.1v2.1h-2.1zM176.4 45.8h2.1v2.1h-2.1zM176.9 47.3h2.1v2.1h-2.1zM177.4 49.7h2.1v2.1h-2.1zM177.9 51.3h2.1v2.1h-2.1zM178.4 48.2h2.1v2.1h-2.1zM178.9 48.9h2.1v2.1h-2.1zM179.4 46.6h2.1v2.1h-2.1zM179.9 46.5h2.1v2.1h-2.1zM180.4 44.2h2.1v2.1h-2.1zM180.9 44.0h2.1v2.1h-2.1zM181.4 44.9h2.1v2.1h-2.1zM181.9 41.8h2.1v2.1h-2.1zM182.4 43.6h2.1v2.1h-2.1zM182.9 43.1h2.1v2.1h-2.1zM183.4 42.5h2.1v2.1h-2.1zM183.9 42.8h2.1v2.1h-2.1zM184.4 41.5h2.1v2.1h-2.1zM184.9 38.1h2.1v2.1h-2.1zM185.4 36.8h2.1v2.1h-2.1zM185.9 37.1h2.1v2.1h-2.1zM186.4 38.3h2.1v2.1h-2.1zM186.9 38.2h2.1v2.1h-2.1zM187.4 37.3h2.1v2.1h-2.1zM187.9 37.5h2.1v2.1h-2.1zM188.4 35.8h2.1v2.1h-2.1zM188.9 33.1h2.1v2.1h-2.1zM189.4 34.1h2.1v2.1h-2.1zM189.9 35.0h2.1v2.1h-2.1zM190.4 35.9h2.1v2.1h-2.1zM190.9 34.4h2.1v2.1h-2.1zM191.4 38.2h2.1v2.1h-2.1zM191.9 34.6h2.1v2.1h-2.1zM192.4 34.1h2.1v2.1h-2.1zM192.9 35.6h2.1v2.1h-2.1zM193.4 36.6h2.1v2.1h-2.1zM193.9 36.1h2.1v2.1h-2.1zM194.4 33.8h2.1v2.1h-2.1zM194.9 32.9h2.1v2.1h-2.1zM195.4 32.1h2.1v2.1h-2.1zM195.9 33.9h2.1v2.1h-2.1zM196.4 35.7h2.1v2.1h-2.1zM196.9 37.2h2.1v2.1h-2.1zM197.4 34.2h2.1v2.1h-2.1zM197.9 36.8h2.1v2.1h-2.1zM198.4 36.1h2.1v2.1h-2.1zM198.9 35.6h2.1v2.1h-2.1zM199.4 37.8h2.1v2.1h-2.1zM199.9 36.0h2.1v2.1h-2.1zM200.4 38.6h2.1v2.1h-2.1zM200.9 34.2h2.1v2.1h-2.1zM201.4 38.5h2.1v2.1h-2.1zM201.9 33.9h2.1v2.1h-2.1zM202.4 36.1h2.1v2.1h-2.1zM202.9 35.5h2.1v2.1h-2.1zM203.4 37.0h2.1v2.1h-2.1zM203.9 37.1h2.1v2.1h-2.1zM204.4 35.6h2.1v2.1h-2.1zM204.9 33.4h2.1v2.1h-2.1zM205.4 33.0h2.1v2.1h-2.1zM205.9 35.2h2.1v2.1h-2.1zM206.4 33.2h2.1v2.1h-2.1zM206.9 34.9h2.1v2.1h-2.1zM207.4 34.0h2.1v2.1h-2.1zM207.9 37.2h2.1v2.1h-2.1zM208.4 36.2h2.1v2.1h-2.1zM208.9 36.4h2.1v2.1h-2.1zM209.4 36.4h2.1v2.1h-2.1zM209.9 35.8h2.1v2.1h-2.1zM210.4 34.9h2.1v2.1h-2.1zM210.9 32.9h2.1v2.1h-2.1zM211.4 32.6h2.1v2.1h-2.1zM211.9 33.0h2.1v2.1h-2.1zM212.4 33.7h2.1v2.1h-2.1zM212.9 32.7h2.1v2.1h-2.1zM213.4 31.7h2.1v2.1h-2.1zM213.9 29.4h2.1v2.1h-2.1zM214.4 29.6h2.1v2.1h-2.1zM214.9 30.9h2.1v2.1h-2.1zM215.4 31.3h2.1v2.1h-2.1zM215.9 32.6h2.1v2.1h-2.1zM216.4 33.6h2.1v2.1h-2.1zM216.9 32.6h2.1v2.1h-2.1zM217.4 29.9h2.1v2.1h-2.1zM217.9 31.4h2.1v2.1h-2.1zM218.4 31.1h2.1v2.1h-2.1zM218.9 33.6h2.1v2.1h-2.1zM219.4 33.7h2.1v2.1h-2.1zM219.9 32.2h2.1v2.1h-2.1zM220.4 32.4h2.1v2.1h-2.1zM220.9 33.8h2.1v2.1h-2.1zM221.4 31.9h2.1v2.1h-2.1zM221.9 31.4h2.1v2.1h-2.1zM222.4 31.0h2.1v2.1h-2.1zM222.9 30.2h2.1v2.1h-2.1zM223.4 33.3h2.1v2.1h-2.1zM223.9 32.3h2.1v2.1h-2.1zM224.4 32.1h2.1v2.1h-2.1zM224.9 32.6h2.1v2.1h-2.1zM225.4 33.4h2.1v2.1h-2.1zM225.9 32.3h2.1v2.1h-2.1z" fill="none" stroke="#b2b2b2" stroke-width="0.60"/>
<path d="M35.4 78.8h2.3v2.3h-2.3zM35.9 78.6h2.3v2.3h-2.3zM36.4 74.3h2.3v2.3h-2.3zM37.0 74.3h2.3v2.3h-2.3zM37.5 80.2h2.3v2.3h-2.3zM38.1 75.8h2.3v2.3h-2.3zM38.6 77.9h2.3v2.3h-2.3zM39.2 79.2h2.3v2.3h-2.3zM39.7 79.2h2.3v2.3h-2.3zM40.3 84.0h2.3v2.3h-2.3zM40.8 84.7h2.3v2.3h-2.3zM41.4 81.4h2.3v2.3h-2.3zM41.9 81.5h2.3v2.3h-2.3zM42.5 87.3h2.3v2.3h-2.3zM43.0 89.8h2.3v2.3h-2.3zM43.6 91.6h2.3v2.3h-2.3zM44.1 89.9h2.3v2.3h-2.3zM44.7 95.6h2.3v2.3h-2.3zM45.2 97.2h2.3v2.3h-2.3zM45.8 102.5h2.3v2.3h-2.3zM46.3 100.0h2.3v2.3h-2.3zM46.9 98.1h2.3v2.3h-2.3zM47.4 99.7h2.3v2.3h-2.3zM48.0 102.5h2.3v2.3h-2.3zM48.5 103.9h2.3v2.3h-2.3zM49.1 104.1h2.3v2.3h-2.3zM49.6 105.3h2.3v2.3h-2.3zM50.2 104.2h2.3v2.3h-2.3zM50.7 106.1h2.3v2.3h-2.3zM51.3 99.7h2.3v2.3h-2.3zM51.8 99.3h2.3v2.3h-2.3zM52.4 100.3h2.3v2.3h-2.3zM52.9 94.9h2.3v2.3h-2.3zM53.5 96.8h2.3v2.3h-2.3zM54.0 98.7h2.3v2.3h-2.3zM54.6 104.2h2.3v2.3h-2.3zM55.1 103.3h2.3v2.3h-2.3zM55.7 99.6h2.3v2.3h-2.3zM56.2 94.2h2.3v2.3h-2.3zM56.8 96.7h2.3v2.3h-2.3zM57.3 92.9h2.3v2.3h-2.3zM57.9 94.4h2.3v2.3h-2.3zM58.4 93.4h2.3v2.3h-2.3zM59.0 95.0h2.3v2.3h-2.3zM59.5 90.0h2.3v2.3h-2.3zM60.1 90.9h2.3v2.3h-2.3zM60.6 87.8h2.3v2.3h-2.3zM61.2 87.8h2.3v2.3h-2.3zM61.7 84.7h2.3v2.3h-2.3zM62.3 78.6h2.3v2.3h-2.3zM62.8 82.7h2.3v2.3h-2.3zM63.4 81.1h2.3v2.3h-2.3zM63.9 79.4h2.3v2.3h-2.3zM64.5 79.6h2.3v2.3h-2.3zM65.0 83.7h2.3v2.3h-2.3zM65.6 89.5h2.3v2.3h-2.3zM66.1 93.1h2.3v2.3h-2.3zM66.7 95.6h2.3v2.3h-2.3zM67.2 91.2h2.3v2.3h-2.3zM67.8 93.7h2.3v2.3h-2.3zM68.3 97.0h2.3v2.3h-2.3zM68.9 99.6h2.3v2.3h-2.3zM69.4 104.2h2.3v2.3h-2.3zM70.0 99.6h2.3v2.3h-2.3zM70.5 95.9h2.3v2.3h-2.3zM71.1 94.4h2.3v2.3h-2.3zM71.6 93.5h2.3v2.3h-2.3zM72.2 96.9h2.3v2.3h-2.3zM72.7 95.4h2.3v2.3h-2.3zM73.3 92.8h2.3v2.3h-2.3zM73.8 95.4h2.3v2.3h-2.3zM74.4 95.4h2.3v2.3h-2.3zM74.9 92.0h2.3v2.3h-2.3zM75.5 92.7h2.3v2.3h-2.3zM76.0 88.3h2.3v2.3h-2.3zM76.6 87.2h2.3v2.3h-2.3zM77.1 86.8h2.3v2.3h-2.3zM77.7 87.6h2.3v2.3h-2.3zM78.2 85.5h2.3v2.3h-2.3zM78.8 87.8h2.3v2.3h-2.3zM79.3 86.2h2.3v2.3h-2.3zM79.9 86.9h2.3v2.3h-2.3zM80.4 83.4h2.3v2.3h-2.3zM81.0 84.9h2.3v2.3h-2.3zM81.5 83.3h2.3v2.3h-2.3zM82.1 85.7h2.3v2.3h-2.3zM82.6 84.0h2.3v2.3h-2.3zM83.2 85.5h2.3v2.3h-2.3zM83.7 87.7h2.3v2.3h-2.3zM84.3 86.1h2.3v2.3h-2.3zM84.8 89.0h2.3v2.3h-2.3zM85.4 87.9h2.3v2.3h-2.3zM85.9 87.2h2.3v2.3h-2.3zM86.5 81.1h2.3v2.3h-2.3zM87.0 84.2h2.3v2.3h-2.3zM87.6 80.9h2.3v2.3h-2.3zM88.1 80.7h2.3v2.3h-2.3zM88.7 79.9h2.3v2.3h-2.3zM89.2 79.9h2.3v2.3h-2.3zM89.8 81.4h2.3v2.3h-2.3zM90.3 81.7h2.3v2.3h-2.3zM90.9 80.4h2.3v2.3h-2.3zM91.4 78.7h2.3v2.3h-2.3zM92.0 79.0h2.3v2.3h-2.3zM92.5 78.5h2.3v2.3h-2.3zM93.1 78.2h2.3v2.3h-2.3zM93.6 79.5h2.3v2.3h-2.3zM94.2 79.6h2.3v2.3h-2.3zM94.7 76.3h2.3v2.3h-2.3zM95.3 81.3h2.3v2.3h-2.3zM95.8 78.3h2.3v2.3h-2.3zM96.4 82.9h2.3v2.3h-2.3zM96.9 80.3h2.3v2.3h-2.3zM97.5 76.5h2.3v2.3h-2.3zM98.0 76.9h2.3v2.3h-2.3zM98.6 78.1h2.3v2.3h-2.3zM99.1 77.3h2.3v2.3h-2.3zM99.7 74.3h2.3v2.3h-2.3zM100.2 73.2h2.3v2.3h-2.3zM100.8 73.3h2.3v2.3h-2.3zM101.3 76.7h2.3v2.3h-2.3zM101.9 72.8h2.3v2.3h-2.3zM102.4 70.5h2.3v2.3h-2.3zM103.0 72.2h2.3v2.3h-2.3zM103.5 71.1h2.3v2.3h-2.3zM104.1 71.4h2.3v2.3h-2.3zM104.6 66.1h2.3v2.3h-2.3zM105.2 67.3h2.3v2.3h-2.3zM105.7 71.9h2.3v2.3h-2.3zM106.3 70.4h2.3v2.3h-2.3zM106.8 69.1h2.3v2.3h-2.3zM107.4 65.2h2.3v2.3h-2.3zM107.9 66.5h2.3v2.3h-2.3zM108.5 64.2h2.3v2.3h-2.3zM109.0 61.3h2.3v2.3h-2.3zM109.6 65.6h2.3v2.3h-2.3zM110.1 65.5h2.3v2.3h-2.3zM110.7 66.7h2.3v2.3h-2.3zM111.2 65.8h2.3v2.3h-2.3zM111.8 69.6h2.3v2.3h-2.3zM112.3 66.1h2.3v2.3h-2.3zM112.9 64.5h2.3v2.3h-2.3zM113.4 68.7h2.3v2.3h-2.3zM114.0 68.0h2.3v2.3h-2.3zM114.5 68.5h2.3v2.3h-2.3zM115.1 64.0h2.3v2.3h-2.3zM115.6 67.3h2.3v2.3h-2.3zM116.2 65.8h2.3v2.3h-2.3zM116.7 67.0h2.3v2.3h-2.3zM117.3 69.1h2.3v2.3h-2.3zM117.8 67.6h2.3v2.3h-2.3zM118.4 67.3h2.3v2.3h-2.3zM118.9 67.9h2.3v2.3h-2.3zM119.5 67.2h2.3v2.3h-2.3zM120.0 68.7h2.3v2.3h-2.3zM120.6 68.7h2.3v2.3h-2.3zM121.1 66.6h2.3v2.3h-2.3zM121.7 66.1h2.3v2.3h-2.3zM122.2 64.3h2.3v2.3h-2.3zM122.8 61.3h2.3v2.3h-2.3zM123.3 59.1h2.3v2.3h-2.3zM123.9 65.5h2.3v2.3h-2.3zM124.4 60.7h2.3v2.3h-2.3zM125.0 60.9h2.3v2.3h-2.3zM125.5 59.3h2.3v2.3h-2.3zM126.1 58.3h2.3v2.3h-2.3zM126.6 54.0h2.3v2.3h-2.3zM127.2 56.0h2.3v2.3h-2.3zM127.7 53.6h2.3v2.3h-2.3zM128.3 55.7h2.3v2.3h-2.3zM128.8 51.1h2.3v2.3h-2.3zM129.4 52.1h2.3v2.3h-2.3zM129.9 57.7h2.3v2.3h-2.3zM130.5 52.9h2.3v2.3h-2.3zM131.0 56.8h2.3v2.3h-2.3zM131.6 57.6h2.3v2.3h-2.3zM132.1 53.9h2.3v2.3h-2.3zM132.7 57.0h2.3v2.3h-2.3zM133.2 55.9h2.3v2.3h-2.3zM133.8 56.3h2.3v2.3h-2.3zM134.3 55.6h2.3v2.3h-2.3zM134.9 56.9h2.3v2.3h-2.3zM135.4 58.7h2.3v2.3h-2.3zM136.0 60.0h2.3v2.3h-2.3zM136.5 59.0h2.3v2.3h-2.3zM137.1 57.9h2.3v2.3h-2.3zM137.6 60.4h2.3v2.3h-2.3zM138.2 56.9h2.3v2.3h-2.3zM138.7 58.6h2.3v2.3h-2.3zM139.3 61.7h2.3v2.3h-2.3zM139.8 57.5h2.3v2.3h-2.3zM140.4 58.0h2.3v2.3h-2.3zM140.9 56.0h2.3v2.3h-2.3zM141.5 60.7h2.3v2.3h-2.3zM142.0 56.5h2.3v2.3h-2.3zM142.6 57.0h2.3v2.3h-2.3zM143.1 58.6h2.3v2.3h-2.3zM143.7 57.2h2.3v2.3h-2.3zM144.2 55.9h2.3v2.3h-2.3zM144.8 56.6h2.3v2.3h-2.3zM145.3 59.2h2.3v2.3h-2.3zM145.9 56.0h2.3v2.3h-2.3zM146.4 52.3h2.3v2.3h-2.3zM147.0 58.7h2.3v2.3h-2.3zM147.5 60.3h2.3v2.3h-2.3zM148.1 58.4h2.3v2.3h-2.3zM148.6 59.7h2.3v2.3h-2.3zM149.2 58.2h2.3v2.3h-2.3zM149.8 57.7h2.3v2.3h-2.3zM150.3 55.0h2.3v2.3h-2.3zM150.9 56.3h2.3v2.3h-2.3zM151.4 55.8h2.3v2.3h-2.3zM152.0 57.4h2.3v2.3h-2.3zM152.5 56.6h2.3v2.3h-2.3zM153.1 57.9h2.3v2.3h-2.3zM153.6 54.2h2.3v2.3h-2.3zM154.2 54.1h2.3v2.3h-2.3zM154.7 51.7h2.3v2.3h-2.3zM155.3 51.7h2.3v2.3h-2.3zM155.8 51.5h2.3v2.3h-2.3zM156.4 57.2h2.3v2.3h-2.3zM156.9 51.8h2.3v2.3h-2.3zM157.5 52.5h2.3v2.3h-2.3zM158.0 53.0h2.3v2.3h-2.3zM158.6 51.5h2.3v2.3h-2.3zM159.1 52.3h2.3v2.3h-2.3zM159.7 55.8h2.3v2.3h-2.3zM160.2 53.4h2.3v2.3h-2.3zM160.8 53.7h2.3v2.3h-2.3zM161.3 55.7h2.3v2.3h-2.3zM161.9 54.4h2.3v2.3h-2.3zM162.4 61.0h2.3v2.3h-2.3zM163.0 57.0h2.3v2.3h-2.3zM163.5 59.9h2.3v2.3h-2.3zM164.1 53.2h2.3v2.3h-2.3zM164.6 57.6h2.3v2.3h-2.3zM165.2 57.9h2.3v2.3h-2.3zM165.7 57.5h2.3v2.3h-2.3zM166.3 57.9h2.3v2.3h-2.3zM166.8 57.4h2.3v2.3h-2.3zM167.4 55.9h2.3v2.3h-2.3zM167.9 58.8h2.3v2.3h-2.3zM168.5 60.1h2.3v2.3h-2.3zM169.0 60.7h2.3v2.3h-2.3zM169.6 61.0h2.3v2.3h-2.3zM170.1 63.3h2.3v2.3h-2.3zM170.7 62.1h2.3v2.3h-2.3zM171.2 55.4h2.3v2.3h-2.3zM171.8 60.3h2.3v2.3h-2.3zM172.3 58.7h2.3v2.3h-2.3zM172.9 56.6h2.3v2.3h-2.3zM173.4 54.9h2.3v2.3h-2.3zM174.0 59.2h2.3v2.3h-2.3zM174.5 57.7h2.3v2.3h-2.3zM175.1 56.9h2.3v2.3h-2.3zM175.6 55.7h2.3v2.3h-2.3zM176.2 56.5h2.3v2.3h-2.3zM176.7 57.8h2.3v2.3h-2.3zM177.3 55.5h2.3v2.3h-2.3zM177.8 61.2h2.3v2.3h-2.3zM178.4 58.6h2.3v2.3h-2.3zM178.9 60.5h2.3v2.3h-2.3zM179.5 57.8h2.3v2.3h-2.3zM180.0 59.2h2.3v2.3h-2.3zM180.6 61.1h2.3v2.3h-2.3zM181.1 54.6h2.3v2.3h-2.3zM181.7 56.5h2.3v2.3h-2.3zM182.2 55.5h2.3v2.3h-2.3zM182.8 53.3h2.3v2.3h-2.3zM183.3 54.7h2.3v2.3h-2.3zM183.9 52.2h2.3v2.3h-2.3zM184.4 49.2h2.3v2.3h-2.3zM185.0 47.9h2.3v2.3h-2.3zM185.5 51.0h2.3v2.3h-2.3zM186.1 46.3h2.3v2.3h-2.3zM186.6 43.6h2.3v2.3h-2.3zM187.2 45.0h2.3v2.3h-2.3zM187.7 45.8h2.3v2.3h-2.3zM188.3 45.9h2.3v2.3h-2.3zM188.8 42.1h2.3v2.3h-2.3zM189.4 43.6h2.3v2.3h-2.3zM189.9 42.4h2.3v2.3h-2.3zM190.5 44.1h2.3v2.3h-2.3zM191.0 43.0h2.3v2.3h-2.3zM191.6 45.2h2.3v2.3h-2.3zM192.1 41.9h2.3v2.3h-2.3zM192.7 39.3h2.3v2.3h-2.3zM193.2 42.0h2.3v2.3h-2.3zM193.8 38.1h2.3v2.3h-2.3zM194.3 39.9h2.3v2.3h-2.3zM194.9 36.7h2.3v2.3h-2.3zM195.4 39.3h2.3v2.3h-2.3zM196.0 41.0h2.3v2.3h-2.3zM196.5 43.0h2.3v2.3h-2.3zM197.1 43.5h2.3v2.3h-2.3zM197.6 42.4h2.3v2.3h-2.3zM198.2 48.9h2.3v2.3h-2.3zM198.7 51.2h2.3v2.3h-2.3zM199.3 48.1h2.3v2.3h-2.3zM199.8 47.8h2.3v2.3h-2.3zM200.4 50.0h2.3v2.3h-2.3zM200.9 52.3h2.3v2.3h-2.3zM201.5 49.3h2.3v2.3h-2.3zM202.0 45.3h2.3v2.3h-2.3zM202.6 48.1h2.3v2.3h-2.3zM203.1 44.7h2.3v2.3h-2.3zM203.7 45.5h2.3v2.3h-2.3zM204.2 42.7h2.3v2.3h-2.3zM204.8 41.5h2.3v2.3h-2.3zM205.3 42.0h2.3v2.3h-2.3zM205.9 35.1h2.3v2.3h-2.3zM206.4 31.2h2.3v2.3h-2.3zM207.0 31.1h2.3v2.3h-2.3zM207.5 34.1h2.3v2.3h-2.3zM208.1 32.6h2.3v2.3h-2.3zM208.6 35.4h2.3v2.3h-2.3zM209.2 32.2h2.3v2.3h-2.3zM209.7 33.5h2.3v2.3h-2.3zM210.3 36.3h2.3v2.3h-2.3zM210.8 34.1h2.3v2.3h-2.3zM211.4 38.9h2.3v2.3h-2.3zM211.9 40.4h2.3v2.3h-2.3zM212.5 40.1h2.3v2.3h-2.3zM213.0 37.8h2.3v2.3h-2.3zM213.6 39.2h2.3v2.3h-2.3zM214.1 37.7h2.3v2.3h-2.3zM214.7 42.9h2.3v2.3h-2.3zM215.2 39.0h2.3v2.3h-2.3zM215.8 40.5h2.3v2.3h-2.3zM216.3 38.7h2.3v2.3h-2.3zM216.9 33.0h2.3v2.3h-2.3zM217.4 28.5h2.3v2.3h-2.3zM218.0 27.2h2.3v2.3h-2.3zM218.5 28.2h2.3v2.3h-2.3zM219.1 27.3h2.3v2.3h-2.3zM219.6 28.2h2.3v2.3h-2.3zM220.2 26.2h2.3v2.3h-2.3zM220.7 30.3h2.3v2.3h-2.3zM221.3 30.3h2.3v2.3h-2.3zM221.8 26.9h2.3v2.3h-2.3zM222.4 23.2h2.3v2.3h-2.3zM222.9 24.8h2.3v2.3h-2.3zM223.5 23.0h2.3v2.3h-2.3zM224.0 21.0h2.3v2.3h-2.3zM224.6 25.8h2.3v2.3h-2.3zM225.1 27.7h2.3v2.3h-2.3zM225.7 28.3h2.3v2.3h-2.3z" fill="none" stroke="#dc5a45" stroke-width="0.55"/>
<path d="M35.4 88.7a1.1 1.1 0 1 0 2.3 0a1.1 1.1 0 1 0 -2.3 0M35.8 82.9a1.1 1.1 0 1 0 2.3 0a1.1 1.1 0 1 0 -2.3 0M36.2 86.6a1.1 1.1 0 1 0 2.3 0a1.1 1.1 0 1 0 -2.3 0M36.6 87.5a1.1 1.1 0 1 0 2.3 0a1.1 1.1 0 1 0 -2.3 0M37.0 80.9a1.1 1.1 0 1 0 2.3 0a1.1 1.1 0 1 0 -2.3 0M37.5 86.2a1.1 1.1 0 1 0 2.3 0a1.1 1.1 0 1 0 -2.3 0M37.9 82.9a1.1 1.1 0 1 0 2.3 0a1.1 1.1 0 1 0 -2.3 0M38.3 81.1a1.1 1.1 0 1 0 2.3 0a1.1 1.1 0 1 0 -2.3 0M38.7 82.2a1.1 1.1 0 1 0 2.3 0a1.1 1.1 0 1 0 -2.3 0M39.1 79.6a1.1 1.1 0 1 0 2.3 0a1.1 1.1 0 1 0 -2.3 0M39.6 83.3a1.1 1.1 0 1 0 2.3 0a1.1 1.1 0 1 0 -2.3 0M40.0 75.8a1.1 1.1 0 1 0 2.3 0a1.1 1.1 0 1 0 -2.3 0M40.4 81.1a1.1 1.1 0 1 0 2.3 0a1.1 1.1 0 1 0 -2.3 0M40.8 78.9a1.1 1.1 0 1 0 2.3 0a1.1 1.1 0 1 0 -2.3 0M41.2 79.5a1.1 1.1 0 1 0 2.3 0a1.1 1.1 0 1 0 -2.3 0M41.7 76.0a1.1 1.1 0 1 0 2.3 0a1.1 1.1 0 1 0 -2.3 0M42.1 75.9a1.1 1.1 0 1 0 2.3 0a1.1 1.1 0 1 0 -2.3 0M42.5 76.5a1.1 1.1 0 1 0 2.3 0a1.1 1.1 0 1 0 -2.3 0M42.9 74.3a1.1 1.1 0 1 0 2.3 0a1.1 1.1 0 1 0 -2.3 0M43.3 74.1a1.1 1.1 0 1 0 2.3 0a1.1 1.1 0 1 0 -2.3 0M43.8 73.2a1.1 1.1 0 1 0 2.3 0a1.1 1.1 0 1 0 -2.3 0M44.2 71.6a1.1 1.1 0 1 0 2.3 0a1.1 1.1 0 1 0 -2.3 0M44.6 70.4a1.1 1.1 0 1 0 2.3 0a1.1 1.1 0 1 0 -2.3 0M45.0 67.8a1.1 1.1 0 1 0 2.3 0a1.1 1.1 0 1 0 -2.3 0M45.4 70.6a1.1 1.1 0 1 0 2.3 0a1.1 1.1 0 1 0 -2.3 0M45.9 67.1a1.1 1.1 0 1 0 2.3 0a1.1 1.1 0 1 0 -2.3 0M46.3 66.9a1.1 1.1 0 1 0 2.3 0a1.1 1.1 0 1 0 -2.3 0M46.7 66.8a1.1 1.1 0 1 0 2.3 0a1.1 1.1 0 1 0 -2.3 0M47.1 64.7a1.1 1.1 0 1 0 2.3 0a1.1 1.1 0 1 0 -2.3 0M47.5 68.6a1.1 1.1 0 1 0 2.3 0a1.1 1.1 0 1 0 -2.3 0M48.0 67.0a1.1 1.1 0 1 0 2.3 0a1.1 1.1 0 1 0 -2.3 0M48.4 60.5a1.1 1.1 0 1 0 2.3 0a1.1 1.1 0 1 0 -2.3 0M48.8 62.3a1.1 1.1 0 1 0 2.3 0a1.1 1.1 0 1 0 -2.3 0M49.2 63.2a1.1 1.1 0 1 0 2.3 0a1.1 1.1 0 1 0 -2.3 0M49.6 59.8a1.1 1.1 0 1 0 2.3 0a1.1 1.1 0 1 0 -2.3 0M50.1 66.8a1.1 1.1 0 1 0 2.3 0a1.1 1.1 0 1 0 -2.3 0M50.5 65.9a1.1 1.1 0 1 0 2.3 0a1.1 1.1 0 1 0 -2.3 0M50.9 62.9a1.1 1.1 0 1 0 2.3 0a1.1 1.1 0 1 0 -2.3 0M51.3 67.2a1.1 1.1 0 1 0 2.3 0a1.1 1.1 0 1 0 -2.3 0M51.7 65.2a1.1 1.1 0 1 0 2.3 0a1.1 1.1 0 1 0 -2.3 0M52.2 59.3a1.1 1.1 0 1 0 2.3 0a1.1 1.1 0 1 0 -2.3 0M52.6 58.5a1.1 1.1 0 1 0 2.3 0a1.1 1.1 0 1 0 -2.3 0M53.0 56.9a1.1 1.1 0 1 0 2.3 0a1.1 1.1 0 1 0 -2.3 0M53.4 56.6a1.1 1.1 0 1 0 2.3 0a1.1 1.1 0 1 0 -2.3 0M53.8 56.7a1.1 1.1 0 1 0 2.3 0a1.1 1.1 0 1 0 -2.3 0M54.3 54.0a1.1 1.1 0 1 0 2.3 0a1.1 1.1 0 1 0 -2.3 0M54.7 50.4a1.1 1.1 0 1 0 2.3 0a1.1 1.1 0 1 0 -2.3 0M55.1 50.2a1.1 1.1 0 1 0 2.3 0a1.1 1.1 0 1 0 -2.3 0M55.5 54.6a1.1 1.1 0 1 0 2.3 0a1.1 1.1 0 1 0 -2.3 0M55.9 55.2a1.1 1.1 0 1 0 2.3 0a1.1 1.1 0 1 0 -2.3 0M56.4 50.7a1.1 1.1 0 1 0 2.3 0a1.1 1.1 0 1 0 -2.3 0M56.8 53.3a1.1 1.1 0 1 0 2.3 0a1.1 1.1 0 1 0 -2.3 0M57.2 53.8a1.1 1.1 0 1 0 2.3 0a1.1 1.1 0 1 0 -2.3 0M57.6 53.0a1.1 1.1 0 1 0 2.3 0a1.1 1.1 0 1 0 -2.3 0M58.0 51.1a1.1 1.1 0 1 0 2.3 0a1.1 1.1 0 1 0 -2.3 0M58.5 50.7a1.1 1.1 0 1 0 2.3 0a1.1 1.1 0 1 0 -2.3 0M58.9 53.6a1.1 1.1 0 1 0 2.3 0a1.1 1.1 0 1 0 -2.3 0M59.3 54.0a1.1 1.1 0 1 0 2.3 0a1.1 1.1 0 1 0 -2.3 0M59.7 52.8a1.1 1.1 0 1 0 2.3 0a1.1 1.1 0 1 0 -2.3 0M60.1 49.5a1.1 1.1 0 1 0 2.3 0a1.1 1.1 0 1 0 -2.3 0M60.6 51.0a1.1 1.1 0 1 0 2.3 0a1.1 1.1 0 1 0 -2.3 0M61.0 53.3a1.1 1.1 0 1 0 2.3 0a1.1 1.1 0 1 0 -2.3 0M61.4 49.4a1.1 1.1 0 1 0 2.3 0a1.1 1.1 0 1 0 -2.3 0M61.8 45.8a1.1 1.1 0 1 0 2.3 0a1.1 1.1 0 1 0 -2.3 0M62.2 47.9a1.1 1.1 0 1 0 2.3 0a1.1 1.1 0 1 0 -2.3 0M62.7 51.0a1.1 1.1 0 1 0 2.3 0a1.1 1.1 0 1 0 -2.3 0M63.1 47.5a1.1 1.1 0 1 0 2.3 0a1.1 1.1 0 1 0 -2.3 0M63.5 43.9a1.1 1.1 0 1 0 2.3 0a1.1 1.1 0 1 0 -2.3 0M63.9 47.6a1.1 1.1 0 1 0 2.3 0a1.1 1.1 0 1 0 -2.3 0M64.3 48.1a1.1 1.1 0 1 0 2.3 0a1.1 1.1 0 1 0 -2.3 0M64.8 46.4a1.1 1.1 0 1 0 2.3 0a1.1 1.1 0 1 0 -2.3 0M65.2 40.7a1.1 1.1 0 1 0 2.3 0a1.1 1.1 0 1 0 -2.3 0M65.6 38.3a1.1 1.1 0 1 0 2.3 0a1.1 1.1 0 1 0 -2.3 0M66.0 41.0a1.1 1.1 0 1 0 2.3 0a1.1 1.1 0 1 0 -2.3 0M66.4 38.7a1.1 1.1 0 1 0 2.3 0a1.1 1.1 0 1 0 -2.3 0M66.9 32.9a1.1 1.1 0 1 0 2.3 0a1.1 1.1 0 1 0 -2.3 0M67.3 36.4a1.1 1.1 0 1 0 2.3 0a1.1 1.1 0 1 0 -2.3 0M67.7 39.5a1.1 1.1 0 1 0 2.3 0a1.1 1.1 0 1 0 -2.3 0M68.1 30.3a1.1 1.1 0 1 0 2.3 0a1.1 1.1 0 1 0 -2.3 0M68.5 32.3a1.1 1.1 0 1 0 2.3 0a1.1 1.1 0 1 0 -2.3 0M69.0 34.3a1.1 1.1 0 1 0 2.3 0a1.1 1.1 0 1 0 -2.3 0M69.4 34.3a1.1 1.1 0 1 0 2.3 0a1.1 1.1 0 1 0 -2.3 0M69.8 32.7a1.1 1.1 0 1 0 2.3 0a1.1 1.1 0 1 0 -2.3 0M70.2 30.5a1.1 1.1 0 1 0 2.3 0a1.1 1.1 0 1 0 -2.3 0M70.6 32.8a1.1 1.1 0 1 0 2.3 0a1.1 1.1 0 1 0 -2.3 0M71.1 30.7a1.1 1.1 0 1 0 2.3 0a1.1 1.1 0 1 0 -2.3 0M71.5 27.4a1.1 1.1 0 1 0 2.3 0a1.1 1.1 0 1 0 -2.3 0M71.9 26.5a1.1 1.1 0 1 0 2.3 0a1.1 1.1 0 1 0 -2.3 0M72.3 29.8a1.1 1.1 0 1 0 2.3 0a1.1 1.1 0 1 0 -2.3 0M72.7 25.0a1.1 1.1 0 1 0 2.3 0a1.1 1.1 0 1 0 -2.3 0M73.2 29.2a1.1 1.1 0 1 0 2.3 0a1.1 1.1 0 1 0 -2.3 0M73.6 24.3a1.1 1.1 0 1 0 2.3 0a1.1 1.1 0 1 0 -2.3 0M74.0 30.5a1.1 1.1 0 1 0 2.3 0a1.1 1.1 0 1 0 -2.3 0M74.4 23.2a1.1 1.1 0 1 0 2.3 0a1.1 1.1 0 1 0 -2.3 0M74.8 30.2a1.1 1.1 0 1 0 2.3 0a1.1 1.1 0 1 0 -2.3 0M75.3 30.4a1.1 1.1 0 1 0 2.3 0a1.1 1.1 0 1 0 -2.3 0M75.7 29.4a1.1 1.1 0 1 0 2.3 0a1.1 1.1 0 1 0 -2.3 0M76.1 26.6a1.1 1.1 0 1 0 2.3 0a1.1 1.1 0 1 0 -2.3 0M76.5 35.5a1.1 1.1 0 1 0 2.3 0a1.1 1.1 0 1 0 -2.3 0M76.9 32.6a1.1 1.1 0 1 0 2.3 0a1.1 1.1 0 1 0 -2.3 0M77.4 31.9a1.1 1.1 0 1 0 2.3 0a1.1 1.1 0 1 0 -2.3 0M77.8 27.8a1.1 1.1 0 1 0 2.3 0a1.1 1.1 0 1 0 -2.3 0M78.2 28.5a1.1 1.1 0 1 0 2.3 0a1.1 1.1 0 1 0 -2.3 0M78.6 25.3a1.1 1.1 0 1 0 2.3 0a1.1 1.1 0 1 0 -2.3 0M79.0 27.1a1.1 1.1 0 1 0 2.3 0a1.1 1.1 0 1 0 -2.3 0M79.5 31.2a1.1 1.1 0 1 0 2.3 0a1.1 1.1 0 1 0 -2.3 0M79.9 28.7a1.1 1.1 0 1 0 2.3 0a1.1 1.1 0 1 0 -2.3 0M80.3 32.2a1.1 1.1 0 1 0 2.3 0a1.1 1.1 0 1 0 -2.3 0M80.7 28.0a1.1 1.1 0 1 0 2.3 0a1.1 1.1 0 1 0 -2.3 0M81.1 30.9a1.1 1.1 0 1 0 2.3 0a1.1 1.1 0 1 0 -2.3 0M81.6 29.0a1.1 1.1 0 1 0 2.3 0a1.1 1.1 0 1 0 -2.3 0M82.0 28.4a1.1 1.1 0 1 0 2.3 0a1.1 1.1 0 1 0 -2.3 0M82.4 31.6a1.1 1.1 0 1 0 2.3 0a1.1 1.1 0 1 0 -2.3 0M82.8 32.0a1.1 1.1 0 1 0 2.3 0a1.1 1.1 0 1 0 -2.3 0M83.2 30.4a1.1 1.1 0 1 0 2.3 0a1.1 1.1 0 1 0 -2.3 0M83.7 31.5a1.1 1.1 0 1 0 2.3 0a1.1 1.1 0 1 0 -2.3 0M84.1 26.6a1.1 1.1 0 1 0 2.3 0a1.1 1.1 0 1 0 -2.3 0M84.5 31.4a1.1 1.1 0 1 0 2.3 0a1.1 1.1 0 1 0 -2.3 0M84.9 31.4a1.1 1.1 0 1 0 2.3 0a1.1 1.1 0 1 0 -2.3 0M85.3 25.5a1.1 1.1 0 1 0 2.3 0a1.1 1.1 0 1 0 -2.3 0M85.8 22.1a1.1 1.1 0 1 0 2.3 0a1.1 1.1 0 1 0 -2.3 0M86.2 22.3a1.1 1.1 0 1 0 2.3 0a1.1 1.1 0 1 0 -2.3 0M86.6 19.2a1.1 1.1 0 1 0 2.3 0a1.1 1.1 0 1 0 -2.3 0M87.0 25.9a1.1 1.1 0 1 0 2.3 0a1.1 1.1 0 1 0 -2.3 0M87.4 23.8a1.1 1.1 0 1 0 2.3 0a1.1 1.1 0 1 0 -2.3 0M87.9 27.5a1.1 1.1 0 1 0 2.3 0a1.1 1.1 0 1 0 -2.3 0M88.3 32.0a1.1 1.1 0 1 0 2.3 0a1.1 1.1 0 1 0 -2.3 0M88.7 27.4a1.1 1.1 0 1 0 2.3 0a1.1 1.1 0 1 0 -2.3 0M89.1 23.4a1.1 1.1 0 1 0 2.3 0a1.1 1.1 0 1 0 -2.3 0M89.5 23.2a1.1 1.1 0 1 0 2.3 0a1.1 1.1 0 1 0 -2.3 0M90.0 20.9a1.1 1.1 0 1 0 2.3 0a1.1 1.1 0 1 0 -2.3 0M90.4 21.4a1.1 1.1 0 1 0 2.3 0a1.1 1.1 0 1 0 -2.3 0M90.8 25.4a1.1 1.1 0 1 0 2.3 0a1.1 1.1 0 1 0 -2.3 0M91.2 19.8a1.1 1.1 0 1 0 2.3 0a1.1 1.1 0 1 0 -2.3 0M91.6 27.1a1.1 1.1 0 1 0 2.3 0a1.1 1.1 0 1 0 -2.3 0M92.1 25.6a1.1 1.1 0 1 0 2.3 0a1.1 1.1 0 1 0 -2.3 0M92.5 22.6a1.1 1.1 0 1 0 2.3 0a1.1 1.1 0 1 0 -2.3 0M92.9 19.8a1.1 1.1 0 1 0 2.3 0a1.1 1.1 0 1 0 -2.3 0M93.3 26.7a1.1 1.1 0 1 0 2.3 0a1.1 1.1 0 1 0 -2.3 0M93.7 20.4a1.1 1.1 0 1 0 2.3 0a1.1 1.1 0 1 0 -2.3 0M94.2 24.3a1.1 1.1 0 1 0 2.3 0a1.1 1.1 0 1 0 -2.3 0M94.6 24.2a1.1 1.1 0 1 0 2.3 0a1.1 1.1 0 1 0 -2.3 0M95.0 27.4a1.1 1.1 0 1 0 2.3 0a1.1 1.1 0 1 0 -2.3 0M95.4 28.1a1.1 1.1 0 1 0 2.3 0a1.1 1.1 0 1 0 -2.3 0M95.8 24.8a1.1 1.1 0 1 0 2.3 0a1.1 1.1 0 1 0 -2.3 0M96.3 28.2a1.1 1.1 0 1 0 2.3 0a1.1 1.1 0 1 0 -2.3 0M96.7 28.4a1.1 1.1 0 1 0 2.3 0a1.1 1.1 0 1 0 -2.3 0M97.1 36.6a1.1 1.1 0 1 0 2.3 0a1.1 1.1 0 1 0 -2.3 0M97.5 36.2a1.1 1.1 0 1 0 2.3 0a1.1 1.1 0 1 0 -2.3 0M97.9 28.6a1.1 1.1 0 1 0 2.3 0a1.1 1.1 0 1 0 -2.3 0M98.4 28.0a1.1 1.1 0 1 0 2.3 0a1.1 1.1 0 1 0 -2.3 0M98.8 27.1a1.1 1.1 0 1 0 2.3 0a1.1 1.1 0 1 0 -2.3 0M99.2 31.2a1.1 1.1 0 1 0 2.3 0a1.1 1.1 0 1 0 -2.3 0M99.6 27.9a1.1 1.1 0 1 0 2.3 0a1.1 1.1 0 1 0 -2.3 0M100.0 28.5a1.1 1.1 0 1 0 2.3 0a1.1 1.1 0 1 0 -2.3 0M100.5 35.2a1.1 1.1 0 1 0 2.3 0a1.1 1.1 0 1 0 -2.3 0M100.9 30.1a1.1 1.1 0 1 0 2.3 0a1.1 1.1 0 1 0 -2.3 0M101.3 32.2a1.1 1.1 0 1 0 2.3 0a1.1 1.1 0 1 0 -2.3 0M101.7 27.2a1.1 1.1 0 1 0 2.3 0a1.1 1.1 0 1 0 -2.3 0M102.1 33.0a1.1 1.1 0 1 0 2.3 0a1.1 1.1 0 1 0 -2.3 0M102.6 32.7a1.1 1.1 0 1 0 2.3 0a1.1 1.1 0 1 0 -2.3 0M103.0 32.1a1.1 1.1 0 1 0 2.3 0a1.1 1.1 0 1 0 -2.3 0M103.4 33.6a1.1 1.1 0 1 0 2.3 0a1.1 1.1 0 1 0 -2.3 0M103.8 28.2a1.1 1.1 0 1 0 2.3 0a1.1 1.1 0 1 0 -2.3 0M104.2 30.9a1.1 1.1 0 1 0 2.3 0a1.1 1.1 0 1 0 -2.3 0M104.7 27.0a1.1 1.1 0 1 0 2.3 0a1.1 1.1 0 1 0 -2.3 0M105.1 25.3a1.1 1.1 0 1 0 2.3 0a1.1 1.1 0 1 0 -2.3 0M105.5 25.0a1.1 1.1 0 1 0 2.3 0a1.1 1.1 0 1 0 -2.3 0M105.9 27.0a1.1 1.1 0 1 0 2.3 0a1.1 1.1 0 1 0 -2.3 0M106.3 26.3a1.1 1.1 0 1 0 2.3 0a1.1 1.1 0 1 0 -2.3 0M106.8 23.0a1.1 1.1 0 1 0 2.3 0a1.1 1.1 0 1 0 -2.3 0M107.2 20.7a1.1 1.1 0 1 0 2.3 0a1.1 1.1 0 1 0 -2.3 0M107.6 20.1a1.1 1.1 0 1 0 2.3 0a1.1 1.1 0 1 0 -2.3 0M108.0 20.5a1.1 1.1 0 1 0 2.3 0a1.1 1.1 0 1 0 -2.3 0M108.4 24.4a1.1 1.1 0 1 0 2.3 0a1.1 1.1 0 1 0 -2.3 0M108.9 25.8a1.1 1.1 0 1 0 2.3 0a1.1 1.1 0 1 0 -2.3 0M109.3 23.2a1.1 1.1 0 1 0 2.3 0a1.1 1.1 0 1 0 -2.3 0M109.7 21.2a1.1 1.1 0 1 0 2.3 0a1.1 1.1 0 1 0 -2.3 0M110.1 27.7a1.1 1.1 0 1 0 2.3 0a1.1 1.1 0 1 0 -2.3 0M110.5 29.3a1.1 1.1 0 1 0 2.3 0a1.1 1.1 0 1 0 -2.3 0M111.0 23.8a1.1 1.1 0 1 0 2.3 0a1.1 1.1 0 1 0 -2.3 0M111.4 24.1a1.1 1.1 0 1 0 2.3 0a1.1 1.1 0 1 0 -2.3 0M111.8 30.6a1.1 1.1 0 1 0 2.3 0a1.1 1.1 0 1 0 -2.3 0M112.2 33.0a1.1 1.1 0 1 0 2.3 0a1.1 1.1 0 1 0 -2.3 0M112.6 26.2a1.1 1.1 0 1 0 2.3 0a1.1 1.1 0 1 0 -2.3 0M113.1 25.4a1.1 1.1 0 1 0 2.3 0a1.1 1.1 0 1 0 -2.3 0M113.5 33.2a1.1 1.1 0 1 0 2.3 0a1.1 1.1 0 1 0 -2.3 0M113.9 31.7a1.1 1.1 0 1 0 2.3 0a1.1 1.1 0 1 0 -2.3 0M114.3 35.4a1.1 1.1 0 1 0 2.3 0a1.1 1.1 0 1 0 -2.3 0M114.7 37.0a1.1 1.1 0 1 0 2.3 0a1.1 1.1 0 1 0 -2.3 0M115.2 41.3a1.1 1.1 0 1 0 2.3 0a1.1 1.1 0 1 0 -2.3 0M115.6 39.9a1.1 1.1 0 1 0 2.3 0a1.1 1.1 0 1 0 -2.3 0M116.0 43.2a1.1 1.1 0 1 0 2.3 0a1.1 1.1 0 1 0 -2.3 0M116.4 45.5a1.1 1.1 0 1 0 2.3 0a1.1 1.1 0 1 0 -2.3 0M116.8 44.0a1.1 1.1 0 1 0 2.3 0a1.1 1.1 0 1 0 -2.3 0M117.3 45.0a1.1 1.1 0 1 0 2.3 0a1.1 1.1 0 1 0 -2.3 0M117.7 37.8a1.1 1.1 0 1 0 2.3 0a1.1 1.1 0 1 0 -2.3 0M118.1 38.0a1.1 1.1 0 1 0 2.3 0a1.1 1.1 0 1 0 -2.3 0M118.5 33.9a1.1 1.1 0 1 0 2.3 0a1.1 1.1 0 1 0 -2.3 0M118.9 35.8a1.1 1.1 0 1 0 2.3 0a1.1 1.1 0 1 0 -2.3 0M119.4 38.9a1.1 1.1 0 1 0 2.3 0a1.1 1.1 0 1 0 -2.3 0M119.8 32.7a1.1 1.1 0 1 0 2.3 0a1.1 1.1 0 1 0 -2.3 0M120.2 33.5a1.1 1.1 0 1 0 2.3 0a1.1 1.1 0 1 0 -2.3 0M120.6 38.6a1.1 1.1 0 1 0 2.3 0a1.1 1.1 0 1 0 -2.3 0M121.0 31.2a1.1 1.1 0 1 0 2.3 0a1.1 1.1 0 1 0 -2.3 0M121.5 33.2a1.1 1.1 0 1 0 2.3 0a1.1 1.1 0 1 0 -2.3 0M121.9 25.7a1.1 1.1 0 1 0 2.3 0a1.1 1.1 0 1 0 -2.3 0M122.3 31.9a1.1 1.1 0 1 0 2.3 0a1.1 1.1 0 1 0 -2.3 0M122.7 23.5a1.1 1.1 0 1 0 2.3 0a1.1 1.1 0 1 0 -2.3 0M123.1 29.1a1.1 1.1 0 1 0 2.3 0a1.1 1.1 0 1 0 -2.3 0M123.6 21.5a1.1 1.1 0 1 0 2.3 0a1.1 1.1 0 1 0 -2.3 0M124.0 24.8a1.1 1.1 0 1 0 2.3 0a1.1 1.1 0 1 0 -2.3 0M124.4 23.8a1.1 1.1 0 1 0 2.3 0a1.1 1.1 0 1 0 -2.3 0M124.8 19.1a1.1 1.1 0 1 0 2.3 0a1.1 1.1 0 1 0 -2.3 0M125.2 28.5a1.1 1.1 0 1 0 2.3 0a1.1 1.1 0 1 0 -2.3 0M125.7 26.0a1.1 1.1 0 1 0 2.3 0a1.1 1.1 0 1 0 -2.3 0M126.1 27.8a1.1 1.1 0 1 0 2.3 0a1.1 1.1 0 1 0 -2.3 0M126.5 28.2a1.1 1.1 0 1 0 2.3 0a1.1 1.1 0 1 0 -2.3 0M126.9 28.5a1.1 1.1 0 1 0 2.3 0a1.1 1.1 0 1 0 -2.3 0M127.3 25.8a1.1 1.1 0 1 0 2.3 0a1.1 1.1 0 1 0 -2.3 0M127.8 25.5a1.1 1.1 0 1 0 2.3 0a1.1 1.1 0 1 0 -2.3 0M128.2 27.3a1.1 1.1 0 1 0 2.3 0a1.1 1.1 0 1 0 -2.3 0M128.6 21.5a1.1 1.1 0 1 0 2.3 0a1.1 1.1 0 1 0 -2.3 0M129.0 19.2a1.1 1.1 0 1 0 2.3 0a1.1 1.1 0 1 0 -2.3 0M129.4 23.9a1.1 1.1 0 1 0 2.3 0a1.1 1.1 0 1 0 -2.3 0M129.9 17.4a1.1 1.1 0 1 0 2.3 0a1.1 1.1 0 1 0 -2.3 0M130.3 23.7a1.1 1.1 0 1 0 2.3 0a1.1 1.1 0 1 0 -2.3 0M130.7 20.1a1.1 1.1 0 1 0 2.3 0a1.1 1.1 0 1 0 -2.3 0M131.1 21.3a1.1 1.1 0 1 0 2.3 0a1.1 1.1 0 1 0 -2.3 0M131.5 22.6a1.1 1.1 0 1 0 2.3 0a1.1 1.1 0 1 0 -2.3 0M132.0 26.3a1.1 1.1 0 1 0 2.3 0a1.1 1.1 0 1 0 -2.3 0M132.4 26.9a1.1 1.1 0 1 0 2.3 0a1.1 1.1 0 1 0 -2.3 0M132.8 28.0a1.1 1.1 0 1 0 2.3 0a1.1 1.1 0 1 0 -2.3 0M133.2 26.1a1.1 1.1 0 1 0 2.3 0a1.1 1.1 0 1 0 -2.3 0M133.6 27.5a1.1 1.1 0 1 0 2.3 0a1.1 1.1 0 1 0 -2.3 0M134.1 27.4a1.1 1.1 0 1 0 2.3 0a1.1 1.1 0 1 0 -2.3 0M134.5 28.3a1.1 1.1 0 1 0 2.3 0a1.1 1.1 0 1 0 -2.3 0M134.9 32.0a1.1 1.1 0 1 0 2.3 0a1.1 1.1 0 1 0 -2.3 0M135.3 30.7a1.1 1.1 0 1 0 2.3 0a1.1 1.1 0 1 0 -2.3 0M135.7 25.3a1.1 1.1 0 1 0 2.3 0a1.1 1.1 0 1 0 -2.3 0M136.2 26.6a1.1 1.1 0 1 0 2.3 0a1.1 1.1 0 1 0 -2.3 0M136.6 27.6a1.1 1.1 0 1 0 2.3 0a1.1 1.1 0 1 0 -2.3 0M137.0 29.8a1.1 1.1 0 1 0 2.3 0a1.1 1.1 0 1 0 -2.3 0M137.4 28.7a1.1 1.1 0 1 0 2.3 0a1.1 1.1 0 1 0 -2.3 0M137.8 24.5a1.1 1.1 0 1 0 2.3 0a1.1 1.1 0 1 0 -2.3 0M138.3 22.1a1.1 1.1 0 1 0 2.3 0a1.1 1.1 0 1 0 -2.3 0M138.7 25.4a1.1 1.1 0 1 0 2.3 0a1.1 1.1 0 1 0 -2.3 0M139.1 25.4a1.1 1.1 0 1 0 2.3 0a1.1 1.1 0 1 0 -2.3 0M139.5 32.4a1.1 1.1 0 1 0 2.3 0a1.1 1.1 0 1 0 -2.3 0M139.9 27.5a1.1 1.1 0 1 0 2.3 0a1.1 1.1 0 1 0 -2.3 0M140.3 28.7a1.1 1.1 0 1 0 2.3 0a1.1 1.1 0 1 0 -2.3 0M140.8 34.4a1.1 1.1 0 1 0 2.3 0a1.1 1.1 0 1 0 -2.3 0M141.2 29.9a1.1 1.1 0 1 0 2.3 0a1.1 1.1 0 1 0 -2.3 0M141.6 32.8a1.1 1.1 0 1 0 2.3 0a1.1 1.1 0 1 0 -2.3 0M142.0 31.1a1.1 1.1 0 1 0 2.3 0a1.1 1.1 0 1 0 -2.3 0M142.4 29.9a1.1 1.1 0 1 0 2.3 0a1.1 1.1 0 1 0 -2.3 0M142.9 33.5a1.1 1.1 0 1 0 2.3 0a1.1 1.1 0 1 0 -2.3 0M143.3 37.5a1.1 1.1 0 1 0 2.3 0a1.1 1.1 0 1 0 -2.3 0M143.7 40.8a1.1 1.1 0 1 0 2.3 0a1.1 1.1 0 1 0 -2.3 0M144.1 35.5a1.1 1.1 0 1 0 2.3 0a1.1 1.1 0 1 0 -2.3 0M144.5 38.1a1.1 1.1 0 1 0 2.3 0a1.1 1.1 0 1 0 -2.3 0M145.0 35.1a1.1 1.1 0 1 0 2.3 0a1.1 1.1 0 1 0 -2.3 0M145.4 39.1a1.1 1.1 0 1 0 2.3 0a1.1 1.1 0 1 0 -2.3 0M145.8 42.8a1.1 1.1 0 1 0 2.3 0a1.1 1.1 0 1 0 -2.3 0M146.2 42.1a1.1 1.1 0 1 0 2.3 0a1.1 1.1 0 1 0 -2.3 0M146.6 44.6a1.1 1.1 0 1 0 2.3 0a1.1 1.1 0 1 0 -2.3 0M147.1 42.7a1.1 1.1 0 1 0 2.3 0a1.1 1.1 0 1 0 -2.3 0M147.5 35.5a1.1 1.1 0 1 0 2.3 0a1.1 1.1 0 1 0 -2.3 0M147.9 37.6a1.1 1.1 0 1 0 2.3 0a1.1 1.1 0 1 0 -2.3 0M148.3 33.9a1.1 1.1 0 1 0 2.3 0a1.1 1.1 0 1 0 -2.3 0M148.7 32.2a1.1 1.1 0 1 0 2.3 0a1.1 1.1 0 1 0 -2.3 0M149.2 31.2a1.1 1.1 0 1 0 2.3 0a1.1 1.1 0 1 0 -2.3 0M149.6 32.2a1.1 1.1 0 1 0 2.3 0a1.1 1.1 0 1 0 -2.3 0M150.0 32.7a1.1 1.1 0 1 0 2.3 0a1.1 1.1 0 1 0 -2.3 0M150.4 32.5a1.1 1.1 0 1 0 2.3 0a1.1 1.1 0 1 0 -2.3 0M150.8 29.5a1.1 1.1 0 1 0 2.3 0a1.1 1.1 0 1 0 -2.3 0M151.3 28.7a1.1 1.1 0 1 0 2.3 0a1.1 1.1 0 1 0 -2.3 0M151.7 28.8a1.1 1.1 0 1 0 2.3 0a1.1 1.1 0 1 0 -2.3 0M152.1 30.4a1.1 1.1 0 1 0 2.3 0a1.1 1.1 0 1 0 -2.3 0M152.5 31.8a1.1 1.1 0 1 0 2.3 0a1.1 1.1 0 1 0 -2.3 0M152.9 32.6a1.1 1.1 0 1 0 2.3 0a1.1 1.1 0 1 0 -2.3 0M153.4 33.4a1.1 1.1 0 1 0 2.3 0a1.1 1.1 0 1 0 -2.3 0M153.8 37.5a1.1 1.1 0 1 0 2.3 0a1.1 1.1 0 1 0 -2.3 0M154.2 39.9a1.1 1.1 0 1 0 2.3 0a1.1 1.1 0 1 0 -2.3 0M154.6 36.2a1.1 1.1 0 1 0 2.3 0a1.1 1.1 0 1 0 -2.3 0M155.0 42.1a1.1 1.1 0 1 0 2.3 0a1.1 1.1 0 1 0 -2.3 0M155.5 42.8a1.1 1.1 0 1 0 2.3 0a1.1 1.1 0 1 0 -2.3 0M155.9 40.3a1.1 1.1 0 1 0 2.3 0a1.1 1.1 0 1 0 -2.3 0M156.3 43.0a1.1 1.1 0 1 0 2.3 0a1.1 1.1 0 1 0 -2.3 0M156.7 44.9a1.1 1.1 0 1 0 2.3 0a1.1 1.1 0 1 0 -2.3 0M157.1 40.1a1.1 1.1 0 1 0 2.3 0a1.1 1.1 0 1 0 -2.3 0M157.6 44.5a1.1 1.1 0 1 0 2.3 0a1.1 1.1 0 1 0 -2.3 0M158.0 42.4a1.1 1.1 0 1 0 2.3 0a1.1 1.1 0 1 0 -2.3 0M158.4 41.8a1.1 1.1 0 1 0 2.3 0a1.1 1.1 0 1 0 -2.3 0M158.8 45.2a1.1 1.1 0 1 0 2.3 0a1.1 1.1 0 1 0 -2.3 0M159.2 44.6a1.1 1.1 0 1 0 2.3 0a1.1 1.1 0 1 0 -2.3 0M159.7 41.0a1.1 1.1 0 1 0 2.3 0a1.1 1.1 0 1 0 -2.3 0M160.1 45.3a1.1 1.1 0 1 0 2.3 0a1.1 1.1 0 1 0 -2.3 0M160.5 45.9a1.1 1.1 0 1 0 2.3 0a1.1 1.1 0 1 0 -2.3 0M160.9 44.2a1.1 1.1 0 1 0 2.3 0a1.1 1.1 0 1 0 -2.3 0M161.3 44.3a1.1 1.1 0 1 0 2.3 0a1.1 1.1 0 1 0 -2.3 0M161.8 43.2a1.1 1.1 0 1 0 2.3 0a1.1 1.1 0 1 0 -2.3 0M162.2 37.4a1.1 1.1 0 1 0 2.3 0a1.1 1.1 0 1 0 -2.3 0M162.6 41.2a1.1 1.1 0 1 0 2.3 0a1.1 1.1 0 1 0 -2.3 0M163.0 37.2a1.1 1.1 0 1 0 2.3 0a1.1 1.1 0 1 0 -2.3 0M163.4 32.9a1.1 1.1 0 1 0 2.3 0a1.1 1.1 0 1 0 -2.3 0M163.9 33.9a1.1 1.1 0 1 0 2.3 0a1.1 1.1 0 1 0 -2.3 0M164.3 34.5a1.1 1.1 0 1 0 2.3 0a1.1 1.1 0 1 0 -2.3 0M164.7 38.6a1.1 1.1 0 1 0 2.3 0a1.1 1.1 0 1 0 -2.3 0M165.1 35.2a1.1 1.1 0 1 0 2.3 0a1.1 1.1 0 1 0 -2.3 0M165.5 32.1a1.1 1.1 0 1 0 2.3 0a1.1 1.1 0 1 0 -2.3 0M166.0 39.6a1.1 1.1 0 1 0 2.3 0a1.1 1.1 0 1 0 -2.3 0M166.4 32.3a1.1 1.1 0 1 0 2.3 0a1.1 1.1 0 1 0 -2.3 0M166.8 35.9a1.1 1.1 0 1 0 2.3 0a1.1 1.1 0 1 0 -2.3 0M167.2 35.8a1.1 1.1 0 1 0 2.3 0a1.1 1.1 0 1 0 -2.3 0M167.6 30.6a1.1 1.1 0 1 0 2.3 0a1.1 1.1 0 1 0 -2.3 0M168.1 35.8a1.1 1.1 0 1 0 2.3 0a1.1 1.1 0 1 0 -2.3 0M168.5 35.4a1.1 1.1 0 1 0 2.3 0a1.1 1.1 0 1 0 -2.3 0M168.9 30.8a1.1 1.1 0 1 0 2.3 0a1.1 1.1 0 1 0 -2.3 0M169.3 30.3a1.1 1.1 0 1 0 2.3 0a1.1 1.1 0 1 0 -2.3 0M169.7 30.7a1.1 1.1 0 1 0 2.3 0a1.1 1.1 0 1 0 -2.3 0M170.2 32.6a1.1 1.1 0 1 0 2.3 0a1.1 1.1 0 1 0 -2.3 0M170.6 36.1a1.1 1.1 0 1 0 2.3 0a1.1 1.1 0 1 0 -2.3 0M171.0 36.2a1.1 1.1 0 1 0 2.3 0a1.1 1.1 0 1 0 -2.3 0M171.4 36.6a1.1 1.1 0 1 0 2.3 0a1.1 1.1 0 1 0 -2.3 0M171.8 37.0a1.1 1.1 0 1 0 2.3 0a1.1 1.1 0 1 0 -2.3 0M172.3 40.5a1.1 1.1 0 1 0 2.3 0a1.1 1.1 0 1 0 -2.3 0M172.7 43.1a1.1 1.1 0 1 0 2.3 0a1.1 1.1 0 1 0 -2.3 0M173.1 44.2a1.1 1.1 0 1 0 2.3 0a1.1 1.1 0 1 0 -2.3 0M173.5 50.9a1.1 1.1 0 1 0 2.3 0a1.1 1.1 0 1 0 -2.3 0M173.9 41.9a1.1 1.1 0 1 0 2.3 0a1.1 1.1 0 1 0 -2.3 0M174.4 45.5a1.1 1.1 0 1 0 2.3 0a1.1 1.1 0 1 0 -2.3 0M174.8 40.1a1.1 1.1 0 1 0 2.3 0a1.1 1.1 0 1 0 -2.3 0M175.2 44.0a1.1 1.1 0 1 0 2.3 0a1.1 1.1 0 1 0 -2.3 0M175.6 46.1a1.1 1.1 0 1 0 2.3 0a1.1 1.1 0 1 0 -2.3 0M176.0 39.3a1.1 1.1 0 1 0 2.3 0a1.1 1.1 0 1 0 -2.3 0M176.5 40.0a1.1 1.1 0 1 0 2.3 0a1.1 1.1 0 1 0 -2.3 0M176.9 42.8a1.1 1.1 0 1 0 2.3 0a1.1 1.1 0 1 0 -2.3 0M177.3 41.9a1.1 1.1 0 1 0 2.3 0a1.1 1.1 0 1 0 -2.3 0M177.7 38.8a1.1 1.1 0 1 0 2.3 0a1.1 1.1 0 1 0 -2.3 0M178.1 40.6a1.1 1.1 0 1 0 2.3 0a1.1 1.1 0 1 0 -2.3 0M178.6 45.5a1.1 1.1 0 1 0 2.3 0a1.1 1.1 0 1 0 -2.3 0M179.0 45.9a1.1 1.1 0 1 0 2.3 0a1.1 1.1 0 1 0 -2.3 0M179.4 43.8a1.1 1.1 0 1 0 2.3 0a1.1 1.1 0 1 0 -2.3 0M179.8 47.0a1.1 1.1 0 1 0 2.3 0a1.1 1.1 0 1 0 -2.3 0M180.2 49.0a1.1 1.1 0 1 0 2.3 0a1.1 1.1 0 1 0 -2.3 0M180.7 45.3a1.1 1.1 0 1 0 2.3 0a1.1 1.1 0 1 0 -2.3 0M181.1 47.3a1.1 1.1 0 1 0 2.3 0a1.1 1.1 0 1 0 -2.3 0M181.5 50.6a1.1 1.1 0 1 0 2.3 0a1.1 1.1 0 1 0 -2.3 0M181.9 45.6a1.1 1.1 0 1 0 2.3 0a1.1 1.1 0 1 0 -2.3 0M182.3 44.1a1.1 1.1 0 1 0 2.3 0a1.1 1.1 0 1 0 -2.3 0M182.8 47.0a1.1 1.1 0 1 0 2.3 0a1.1 1.1 0 1 0 -2.3 0M183.2 47.2a1.1 1.1 0 1 0 2.3 0a1.1 1.1 0 1 0 -2.3 0M183.6 45.5a1.1 1.1 0 1 0 2.3 0a1.1 1.1 0 1 0 -2.3 0M184.0 49.5a1.1 1.1 0 1 0 2.3 0a1.1 1.1 0 1 0 -2.3 0M184.4 50.4a1.1 1.1 0 1 0 2.3 0a1.1 1.1 0 1 0 -2.3 0M184.9 45.7a1.1 1.1 0 1 0 2.3 0a1.1 1.1 0 1 0 -2.3 0M185.3 46.6a1.1 1.1 0 1 0 2.3 0a1.1 1.1 0 1 0 -2.3 0M185.7 42.0a1.1 1.1 0 1 0 2.3 0a1.1 1.1 0 1 0 -2.3 0M186.1 47.2a1.1 1.1 0 1 0 2.3 0a1.1 1.1 0 1 0 -2.3 0M186.5 41.1a1.1 1.1 0 1 0 2.3 0a1.1 1.1 0 1 0 -2.3 0M187.0 37.9a1.1 1.1 0 1 0 2.3 0a1.1 1.1 0 1 0 -2.3 0M187.4 34.1a1.1 1.1 0 1 0 2.3 0a1.1 1.1 0 1 0 -2.3 0M187.8 36.6a1.1 1.1 0 1 0 2.3 0a1.1 1.1 0 1 0 -2.3 0M188.2 33.2a1.1 1.1 0 1 0 2.3 0a1.1 1.1 0 1 0 -2.3 0M188.6 33.2a1.1 1.1 0 1 0 2.3 0a1.1 1.1 0 1 0 -2.3 0M189.1 33.7a1.1 1.1 0 1 0 2.3 0a1.1 1.1 0 1 0 -2.3 0M189.5 34.0a1.1 1.1 0 1 0 2.3 0a1.1 1.1 0 1 0 -2.3 0M189.9 31.5a1.1 1.1 0 1 0 2.3 0a1.1 1.1 0 1 0 -2.3 0M190.3 36.2a1.1 1.1 0 1 0 2.3 0a1.1 1.1 0 1 0 -2.3 0M190.7 34.7a1.1 1.1 0 1 0 2.3 0a1.1 1.1 0 1 0 -2.3 0M191.2 27.9a1.1 1.1 0 1 0 2.3 0a1.1 1.1 0 1 0 -2.3 0M191.6 30.0a1.1 1.1 0 1 0 2.3 0a1.1 1.1 0 1 0 -2.3 0M192.0 28.1a1.1 1.1 0 1 0 2.3 0a1.1 1.1 0 1 0 -2.3 0M192.4 31.8a1.1 1.1 0 1 0 2.3 0a1.1 1.1 0 1 0 -2.3 0M192.8 25.5a1.1 1.1 0 1 0 2.3 0a1.1 1.1 0 1 0 -2.3 0M193.3 22.8a1.1 1.1 0 1 0 2.3 0a1.1 1.1 0 1 0 -2.3 0M193.7 28.1a1.1 1.1 0 1 0 2.3 0a1.1 1.1 0 1 0 -2.3 0M194.1 24.8a1.1 1.1 0 1 0 2.3 0a1.1 1.1 0 1 0 -2.3 0M194.5 23.7a1.1 1.1 0 1 0 2.3 0a1.1 1.1 0 1 0 -2.3 0M194.9 26.2a1.1 1.1 0 1 0 2.3 0a1.1 1.1 0 1 0 -2.3 0M195.4 24.2a1.1 1.1 0 1 0 2.3 0a1.1 1.1 0 1 0 -2.3 0M195.8 25.0a1.1 1.1 0 1 0 2.3 0a1.1 1.1 0 1 0 -2.3 0M196.2 25.5a1.1 1.1 0 1 0 2.3 0a1.1 1.1 0 1 0 -2.3 0M196.6 19.3a1.1 1.1 0 1 0 2.3 0a1.1 1.1 0 1 0 -2.3 0M197.0 18.7a1.1 1.1 0 1 0 2.3 0a1.1 1.1 0 1 0 -2.3 0M197.5 22.7a1.1 1.1 0 1 0 2.3 0a1.1 1.1 0 1 0 -2.3 0M197.9 29.8a1.1 1.1 0 1 0 2.3 0a1.1 1.1 0 1 0 -2.3 0M198.3 32.1a1.1 1.1 0 1 0 2.3 0a1.1 1.1 0 1 0 -2.3 0M198.7 32.0a1.1 1.1 0 1 0 2.3 0a1.1 1.1 0 1 0 -2.3 0M199.1 32.8a1.1 1.1 0 1 0 2.3 0a1.1 1.1 0 1 0 -2.3 0M199.6 38.3a1.1 1.1 0 1 0 2.3 0a1.1 1.1 0 1 0 -2.3 0M200.0 36.2a1.1 1.1 0 1 0 2.3 0a1.1 1.1 0 1 0 -2.3 0M200.4 43.7a1.1 1.1 0 1 0 2.3 0a1.1 1.1 0 1 0 -2.3 0M200.8 41.4a1.1 1.1 0 1 0 2.3 0a1.1 1.1 0 1 0 -2.3 0M201.2 39.6a1.1 1.1 0 1 0 2.3 0a1.1 1.1 0 1 0 -2.3 0M201.7 37.4a1.1 1.1 0 1 0 2.3 0a1.1 1.1 0 1 0 -2.3 0M202.1 42.5a1.1 1.1 0 1 0 2.3 0a1.1 1.1 0 1 0 -2.3 0M202.5 44.1a1.1 1.1 0 1 0 2.3 0a1.1 1.1 0 1 0 -2.3 0M202.9 47.4a1.1 1.1 0 1 0 2.3 0a1.1 1.1 0 1 0 -2.3 0M203.3 47.8a1.1 1.1 0 1 0 2.3 0a1.1 1.1 0 1 0 -2.3 0M203.8 50.9a1.1 1.1 0 1 0 2.3 0a1.1 1.1 0 1 0 -2.3 0M204.2 44.0a1.1 1.1 0 1 0 2.3 0a1.1 1.1 0 1 0 -2.3 0M204.6 46.3a1.1 1.1 0 1 0 2.3 0a1.1 1.1 0 1 0 -2.3 0M205.0 43.3a1.1 1.1 0 1 0 2.3 0a1.1 1.1 0 1 0 -2.3 0M205.4 43.5a1.1 1.1 0 1 0 2.3 0a1.1 1.1 0 1 0 -2.3 0M205.9 43.2a1.1 1.1 0 1 0 2.3 0a1.1 1.1 0 1 0 -2.3 0M206.3 33.9a1.1 1.1 0 1 0 2.3 0a1.1 1.1 0 1 0 -2.3 0M206.7 39.0a1.1 1.1 0 1 0 2.3 0a1.1 1.1 0 1 0 -2.3 0M207.1 35.4a1.1 1.1 0 1 0 2.3 0a1.1 1.1 0 1 0 -2.3 0M207.5 28.5a1.1 1.1 0 1 0 2.3 0a1.1 1.1 0 1 0 -2.3 0M208.0 23.2a1.1 1.1 0 1 0 2.3 0a1.1 1.1 0 1 0 -2.3 0M208.4 28.8a1.1 1.1 0 1 0 2.3 0a1.1 1.1 0 1 0 -2.3 0M208.8 30.4a1.1 1.1 0 1 0 2.3 0a1.1 1.1 0 1 0 -2.3 0M209.2 25.0a1.1 1.1 0 1 0 2.3 0a1.1 1.1 0 1 0 -2.3 0M209.6 29.2a1.1 1.1 0 1 0 2.3 0a1.1 1.1 0 1 0 -2.3 0M210.1 26.4a1.1 1.1 0 1 0 2.3 0a1.1 1.1 0 1 0 -2.3 0M210.5 30.1a1.1 1.1 0 1 0 2.3 0a1.1 1.1 0 1 0 -2.3 0M210.9 28.1a1.1 1.1 0 1 0 2.3 0a1.1 1.1 0 1 0 -2.3 0M211.3 30.8a1.1 1.1 0 1 0 2.3 0a1.1 1.1 0 1 0 -2.3 0M211.7 28.9a1.1 1.1 0 1 0 2.3 0a1.1 1.1 0 1 0 -2.3 0M212.2 26.2a1.1 1.1 0 1 0 2.3 0a1.1 1.1 0 1 0 -2.3 0M212.6 24.8a1.1 1.1 0 1 0 2.3 0a1.1 1.1 0 1 0 -2.3 0M213.0 27.4a1.1 1.1 0 1 0 2.3 0a1.1 1.1 0 1 0 -2.3 0M213.4 23.6a1.1 1.1 0 1 0 2.3 0a1.1 1.1 0 1 0 -2.3 0M213.8 28.3a1.1 1.1 0 1 0 2.3 0a1.1 1.1 0 1 0 -2.3 0M214.3 26.3a1.1 1.1 0 1 0 2.3 0a1.1 1.1 0 1 0 -2.3 0M214.7 33.1a1.1 1.1 0 1 0 2.3 0a1.1 1.1 0 1 0 -2.3 0M215.1 33.4a1.1 1.1 0 1 0 2.3 0a1.1 1.1 0 1 0 -2.3 0M215.5 31.5a1.1 1.1 0 1 0 2.3 0a1.1 1.1 0 1 0 -2.3 0M215.9 35.5a1.1 1.1 0 1 0 2.3 0a1.1 1.1 0 1 0 -2.3 0M216.4 36.2a1.1 1.1 0 1 0 2.3 0a1.1 1.1 0 1 0 -2.3 0M216.8 30.7a1.1 1.1 0 1 0 2.3 0a1.1 1.1 0 1 0 -2.3 0M217.2 32.9a1.1 1.1 0 1 0 2.3 0a1.1 1.1 0 1 0 -2.3 0M217.6 29.2a1.1 1.1 0 1 0 2.3 0a1.1 1.1 0 1 0 -2.3 0M218.0 25.0a1.1 1.1 0 1 0 2.3 0a1.1 1.1 0 1 0 -2.3 0M218.5 32.2a1.1 1.1 0 1 0 2.3 0a1.1 1.1 0 1 0 -2.3 0M218.9 26.4a1.1 1.1 0 1 0 2.3 0a1.1 1.1 0 1 0 -2.3 0M219.3 27.5a1.1 1.1 0 1 0 2.3 0a1.1 1.1 0 1 0 -2.3 0M219.7 21.9a1.1 1.1 0 1 0 2.3 0a1.1 1.1 0 1 0 -2.3 0M220.1 28.7a1.1 1.1 0 1 0 2.3 0a1.1 1.1 0 1 0 -2.3 0M220.6 31.3a1.1 1.1 0 1 0 2.3 0a1.1 1.1 0 1 0 -2.3 0M221.0 31.6a1.1 1.1 0 1 0 2.3 0a1.1 1.1 0 1 0 -2.3 0M221.4 35.8a1.1 1.1 0 1 0 2.3 0a1.1 1.1 0 1 0 -2.3 0M221.8 40.9a1.1 1.1 0 1 0 2.3 0a1.1 1.1 0 1 0 -2.3 0M222.2 41.1a1.1 1.1 0 1 0 2.3 0a1.1 1.1 0 1 0 -2.3 0M222.7 43.9a1.1 1.1 0 1 0 2.3 0a1.1 1.1 0 1 0 -2.3 0M223.1 42.4a1.1 1.1 0 1 0 2.3 0a1.1 1.1 0 1 0 -2.3 0M223.5 45.0a1.1 1.1 0 1 0 2.3 0a1.1 1.1 0 1 0 -2.3 0M223.9 42.8a1.1 1.1 0 1 0 2.3 0a1.1 1.1 0 1 0 -2.3 0M224.3 46.5a1.1 1.1 0 1 0 2.3 0a1.1 1.1 0 1 0 -2.3 0M224.8 44.2a1.1 1.1 0 1 0 2.3 0a1.1 1.1 0 1 0 -2.3 0M225.2 44.5a1.1 1.1 0 1 0 2.3 0a1.1 1.1 0 1 0 -2.3 0M225.6 37.9a1.1 1.1 0 1 0 2.3 0a1.1 1.1 0 1 0 -2.3 0M226.0 42.1a1.1 1.1 0 1 0 2.3 0a1.1 1.1 0 1 0 -2.3 0M226.4 45.8a1.1 1.1 0 1 0 2.3 0a1.1 1.1 0 1 0 -2.3 0" fill="none" stroke="#4683c6" stroke-width="0.55"/>
</g>
<rect x="36.0" y="1.3" width="192.0" height="154.0" fill="none" stroke="#2a2a2a" stroke-width="1.35"/>
<path d="M36.0 18.3h-3M36.0 69.3h-3M36.0 120.3h-3M36.0 43.8h-2M36.0 94.8h-2M36.0 145.8h-2" stroke="#2a2a2a" stroke-width="1.3" fill="none"/>
<text x="30.4" y="22.1" font-size="13.4" fill="#1a1a1a" text-anchor="end" font-weight="normal" >36</text>
<text x="30.4" y="73.1" font-size="13.4" fill="#1a1a1a" text-anchor="end" font-weight="normal" >24</text>
<text x="30.4" y="124.1" font-size="13.4" fill="#1a1a1a" text-anchor="end" font-weight="normal" >12</text>
<path d="M36.0 155.3v3M78.7 155.3v3M121.3 155.3v3M164.0 155.3v3M206.7 155.3v3M57.3 155.3v2M100.0 155.3v2M142.7 155.3v2M185.3 155.3v2M228.0 155.3v2" stroke="#2a2a2a" stroke-width="1.3" fill="none"/>
<text x="36.0" y="170.7" font-size="13.4" fill="#1a1a1a" text-anchor="middle" font-weight="normal" >0</text>
<text x="78.7" y="170.7" font-size="13.4" fill="#1a1a1a" text-anchor="middle" font-weight="normal" >20</text>
<text x="121.3" y="170.7" font-size="13.4" fill="#1a1a1a" text-anchor="middle" font-weight="normal" >40</text>
<text x="164.0" y="170.7" font-size="13.4" fill="#1a1a1a" text-anchor="middle" font-weight="normal" >60</text>
<text x="206.7" y="170.7" font-size="13.4" fill="#1a1a1a" text-anchor="middle" font-weight="normal" >80</text>
<text x="132.0" y="186.1" font-size="13.2" fill="#1a1a1a" text-anchor="middle" font-weight="normal" >Time (ns)</text>
<text x="10.6" y="77.5" font-size="13.2" fill="#1a1a1a" text-anchor="middle" font-weight="normal" transform="rotate(-90 10.6 77.5)">Z (nm)</text>
<text x="40.5" y="16.6" font-size="22.0" fill="#000" text-anchor="start" font-weight="bold" >a</text>
<rect x="42.0" y="123.9" width="2.6" height="2.6" fill="none" stroke="#b2b2b2" stroke-width="0.8"/>
<circle cx="127.7" cy="125.2" r="1.5" fill="#d4d4d4"/>
<text x="50.6" y="128.0" font-size="8.2" font-weight="bold" fill="#b2b2b2">COF-TFB/Cl<tspan dy="-3.3" font-size="5.2">&#8722;</tspan></text>
<text x="134.9" y="128.0" font-size="8.2" font-weight="bold" fill="#d4d4d4">COF-TFB/SO<tspan dy="1.2" font-size="5">4</tspan><tspan dy="-4.2" font-size="5.5">2&#8722;</tspan></text>
<circle cx="43.3" cy="136.5" r="1.4" fill="none" stroke="#4683c6" stroke-width="0.8"/>
<circle cx="127.7" cy="136.5" r="1.5" fill="#a8d2e8"/>
<text x="50.6" y="139.3" font-size="8.2" font-weight="bold" fill="#4683c6">COF-TFB-OMe/Cl<tspan dy="-3.3" font-size="5.2">&#8722;</tspan></text>
<text x="134.9" y="139.3" font-size="8.2" font-weight="bold" fill="#a8d2e8">COF-TFB-OMe/SO<tspan dy="1.2" font-size="5">4</tspan><tspan dy="-4.2" font-size="5.5">2&#8722;</tspan></text>
<rect x="42.0" y="146.7" width="2.6" height="2.6" fill="none" stroke="#dc5a45" stroke-width="0.8"/>
<circle cx="127.7" cy="148.0" r="1.5" fill="#f0a183"/>
<text x="50.6" y="150.8" font-size="8.2" font-weight="bold" fill="#dc5a45">COF-TFB-OH/Cl<tspan dy="-3.3" font-size="5.2">&#8722;</tspan></text>
<text x="134.9" y="150.8" font-size="8.2" font-weight="bold" fill="#f0a183">COF-TFB-OH/SO<tspan dy="1.2" font-size="5">4</tspan><tspan dy="-4.2" font-size="5.5">2&#8722;</tspan></text>
<rect x="266.5" y="39.5" width="190.9" height="42.8" fill="#eff1ec"/>
<path d="M266.5 39.5H457.4M266.5 82.3H457.4" stroke="#9a9a9a" stroke-width="0.8" stroke-dasharray="1 1.6" fill="none"/>
<g clip-path="url(#clip_b)">
<path d="M265.6 90.6a1.4 1.4 0 1 0 2.9 0a1.4 1.4 0 1 0 -2.9 0M266.1 89.1a1.4 1.4 0 1 0 2.9 0a1.4 1.4 0 1 0 -2.9 0M266.6 86.5a1.4 1.4 0 1 0 2.9 0a1.4 1.4 0 1 0 -2.9 0M267.1 88.1a1.4 1.4 0 1 0 2.9 0a1.4 1.4 0 1 0 -2.9 0M267.6 85.2a1.4 1.4 0 1 0 2.9 0a1.4 1.4 0 1 0 -2.9 0M268.1 85.2a1.4 1.4 0 1 0 2.9 0a1.4 1.4 0 1 0 -2.9 0M268.6 89.2a1.4 1.4 0 1 0 2.9 0a1.4 1.4 0 1 0 -2.9 0M269.1 87.4a1.4 1.4 0 1 0 2.9 0a1.4 1.4 0 1 0 -2.9 0M269.6 92.5a1.4 1.4 0 1 0 2.9 0a1.4 1.4 0 1 0 -2.9 0M270.1 91.1a1.4 1.4 0 1 0 2.9 0a1.4 1.4 0 1 0 -2.9 0M270.6 90.2a1.4 1.4 0 1 0 2.9 0a1.4 1.4 0 1 0 -2.9 0M271.1 87.7a1.4 1.4 0 1 0 2.9 0a1.4 1.4 0 1 0 -2.9 0M271.6 87.4a1.4 1.4 0 1 0 2.9 0a1.4 1.4 0 1 0 -2.9 0M272.1 89.6a1.4 1.4 0 1 0 2.9 0a1.4 1.4 0 1 0 -2.9 0M272.6 87.3a1.4 1.4 0 1 0 2.9 0a1.4 1.4 0 1 0 -2.9 0M273.1 88.6a1.4 1.4 0 1 0 2.9 0a1.4 1.4 0 1 0 -2.9 0M273.6 86.0a1.4 1.4 0 1 0 2.9 0a1.4 1.4 0 1 0 -2.9 0M274.1 85.4a1.4 1.4 0 1 0 2.9 0a1.4 1.4 0 1 0 -2.9 0M274.6 91.5a1.4 1.4 0 1 0 2.9 0a1.4 1.4 0 1 0 -2.9 0M275.1 90.0a1.4 1.4 0 1 0 2.9 0a1.4 1.4 0 1 0 -2.9 0M275.6 87.2a1.4 1.4 0 1 0 2.9 0a1.4 1.4 0 1 0 -2.9 0M276.1 86.5a1.4 1.4 0 1 0 2.9 0a1.4 1.4 0 1 0 -2.9 0M276.6 89.4a1.4 1.4 0 1 0 2.9 0a1.4 1.4 0 1 0 -2.9 0M277.1 85.9a1.4 1.4 0 1 0 2.9 0a1.4 1.4 0 1 0 -2.9 0M277.6 86.0a1.4 1.4 0 1 0 2.9 0a1.4 1.4 0 1 0 -2.9 0M278.1 85.8a1.4 1.4 0 1 0 2.9 0a1.4 1.4 0 1 0 -2.9 0M278.6 89.8a1.4 1.4 0 1 0 2.9 0a1.4 1.4 0 1 0 -2.9 0M279.1 86.2a1.4 1.4 0 1 0 2.9 0a1.4 1.4 0 1 0 -2.9 0M279.6 89.0a1.4 1.4 0 1 0 2.9 0a1.4 1.4 0 1 0 -2.9 0M280.1 86.9a1.4 1.4 0 1 0 2.9 0a1.4 1.4 0 1 0 -2.9 0M280.6 90.3a1.4 1.4 0 1 0 2.9 0a1.4 1.4 0 1 0 -2.9 0M281.1 89.3a1.4 1.4 0 1 0 2.9 0a1.4 1.4 0 1 0 -2.9 0M281.6 86.4a1.4 1.4 0 1 0 2.9 0a1.4 1.4 0 1 0 -2.9 0M282.1 86.2a1.4 1.4 0 1 0 2.9 0a1.4 1.4 0 1 0 -2.9 0M282.6 88.0a1.4 1.4 0 1 0 2.9 0a1.4 1.4 0 1 0 -2.9 0M283.1 86.4a1.4 1.4 0 1 0 2.9 0a1.4 1.4 0 1 0 -2.9 0M283.6 85.4a1.4 1.4 0 1 0 2.9 0a1.4 1.4 0 1 0 -2.9 0M284.1 88.9a1.4 1.4 0 1 0 2.9 0a1.4 1.4 0 1 0 -2.9 0M284.6 87.2a1.4 1.4 0 1 0 2.9 0a1.4 1.4 0 1 0 -2.9 0M285.1 87.5a1.4 1.4 0 1 0 2.9 0a1.4 1.4 0 1 0 -2.9 0M285.6 88.8a1.4 1.4 0 1 0 2.9 0a1.4 1.4 0 1 0 -2.9 0M286.1 90.0a1.4 1.4 0 1 0 2.9 0a1.4 1.4 0 1 0 -2.9 0M286.6 89.4a1.4 1.4 0 1 0 2.9 0a1.4 1.4 0 1 0 -2.9 0M287.1 89.0a1.4 1.4 0 1 0 2.9 0a1.4 1.4 0 1 0 -2.9 0M287.6 89.0a1.4 1.4 0 1 0 2.9 0a1.4 1.4 0 1 0 -2.9 0M288.1 89.9a1.4 1.4 0 1 0 2.9 0a1.4 1.4 0 1 0 -2.9 0M288.6 89.0a1.4 1.4 0 1 0 2.9 0a1.4 1.4 0 1 0 -2.9 0M289.1 86.6a1.4 1.4 0 1 0 2.9 0a1.4 1.4 0 1 0 -2.9 0M289.6 88.5a1.4 1.4 0 1 0 2.9 0a1.4 1.4 0 1 0 -2.9 0M290.1 90.6a1.4 1.4 0 1 0 2.9 0a1.4 1.4 0 1 0 -2.9 0M290.6 91.2a1.4 1.4 0 1 0 2.9 0a1.4 1.4 0 1 0 -2.9 0M291.1 90.1a1.4 1.4 0 1 0 2.9 0a1.4 1.4 0 1 0 -2.9 0M291.6 87.0a1.4 1.4 0 1 0 2.9 0a1.4 1.4 0 1 0 -2.9 0M292.1 86.5a1.4 1.4 0 1 0 2.9 0a1.4 1.4 0 1 0 -2.9 0M292.6 89.4a1.4 1.4 0 1 0 2.9 0a1.4 1.4 0 1 0 -2.9 0M293.1 88.5a1.4 1.4 0 1 0 2.9 0a1.4 1.4 0 1 0 -2.9 0M293.6 89.0a1.4 1.4 0 1 0 2.9 0a1.4 1.4 0 1 0 -2.9 0M294.1 90.5a1.4 1.4 0 1 0 2.9 0a1.4 1.4 0 1 0 -2.9 0M294.6 90.5a1.4 1.4 0 1 0 2.9 0a1.4 1.4 0 1 0 -2.9 0M295.1 88.9a1.4 1.4 0 1 0 2.9 0a1.4 1.4 0 1 0 -2.9 0M295.6 93.1a1.4 1.4 0 1 0 2.9 0a1.4 1.4 0 1 0 -2.9 0M296.1 95.7a1.4 1.4 0 1 0 2.9 0a1.4 1.4 0 1 0 -2.9 0M296.6 94.9a1.4 1.4 0 1 0 2.9 0a1.4 1.4 0 1 0 -2.9 0M297.1 95.5a1.4 1.4 0 1 0 2.9 0a1.4 1.4 0 1 0 -2.9 0M297.6 94.8a1.4 1.4 0 1 0 2.9 0a1.4 1.4 0 1 0 -2.9 0M298.1 96.5a1.4 1.4 0 1 0 2.9 0a1.4 1.4 0 1 0 -2.9 0M298.6 95.5a1.4 1.4 0 1 0 2.9 0a1.4 1.4 0 1 0 -2.9 0M299.1 93.3a1.4 1.4 0 1 0 2.9 0a1.4 1.4 0 1 0 -2.9 0M299.6 93.0a1.4 1.4 0 1 0 2.9 0a1.4 1.4 0 1 0 -2.9 0M300.1 93.8a1.4 1.4 0 1 0 2.9 0a1.4 1.4 0 1 0 -2.9 0M300.6 93.2a1.4 1.4 0 1 0 2.9 0a1.4 1.4 0 1 0 -2.9 0M301.1 94.5a1.4 1.4 0 1 0 2.9 0a1.4 1.4 0 1 0 -2.9 0M301.6 94.2a1.4 1.4 0 1 0 2.9 0a1.4 1.4 0 1 0 -2.9 0M302.1 96.6a1.4 1.4 0 1 0 2.9 0a1.4 1.4 0 1 0 -2.9 0M302.6 97.7a1.4 1.4 0 1 0 2.9 0a1.4 1.4 0 1 0 -2.9 0M303.1 96.9a1.4 1.4 0 1 0 2.9 0a1.4 1.4 0 1 0 -2.9 0M303.6 94.7a1.4 1.4 0 1 0 2.9 0a1.4 1.4 0 1 0 -2.9 0M304.1 98.9a1.4 1.4 0 1 0 2.9 0a1.4 1.4 0 1 0 -2.9 0M304.6 94.2a1.4 1.4 0 1 0 2.9 0a1.4 1.4 0 1 0 -2.9 0M305.1 94.5a1.4 1.4 0 1 0 2.9 0a1.4 1.4 0 1 0 -2.9 0M305.6 92.2a1.4 1.4 0 1 0 2.9 0a1.4 1.4 0 1 0 -2.9 0M306.1 96.5a1.4 1.4 0 1 0 2.9 0a1.4 1.4 0 1 0 -2.9 0M306.6 97.3a1.4 1.4 0 1 0 2.9 0a1.4 1.4 0 1 0 -2.9 0M307.1 98.9a1.4 1.4 0 1 0 2.9 0a1.4 1.4 0 1 0 -2.9 0M307.6 98.5a1.4 1.4 0 1 0 2.9 0a1.4 1.4 0 1 0 -2.9 0M308.1 97.5a1.4 1.4 0 1 0 2.9 0a1.4 1.4 0 1 0 -2.9 0M308.6 97.1a1.4 1.4 0 1 0 2.9 0a1.4 1.4 0 1 0 -2.9 0M309.1 98.9a1.4 1.4 0 1 0 2.9 0a1.4 1.4 0 1 0 -2.9 0M309.6 97.5a1.4 1.4 0 1 0 2.9 0a1.4 1.4 0 1 0 -2.9 0M310.1 97.7a1.4 1.4 0 1 0 2.9 0a1.4 1.4 0 1 0 -2.9 0M310.6 97.3a1.4 1.4 0 1 0 2.9 0a1.4 1.4 0 1 0 -2.9 0M311.1 97.1a1.4 1.4 0 1 0 2.9 0a1.4 1.4 0 1 0 -2.9 0M311.6 100.6a1.4 1.4 0 1 0 2.9 0a1.4 1.4 0 1 0 -2.9 0M312.1 100.9a1.4 1.4 0 1 0 2.9 0a1.4 1.4 0 1 0 -2.9 0M312.6 99.8a1.4 1.4 0 1 0 2.9 0a1.4 1.4 0 1 0 -2.9 0M313.1 97.8a1.4 1.4 0 1 0 2.9 0a1.4 1.4 0 1 0 -2.9 0M313.6 93.8a1.4 1.4 0 1 0 2.9 0a1.4 1.4 0 1 0 -2.9 0M314.1 98.0a1.4 1.4 0 1 0 2.9 0a1.4 1.4 0 1 0 -2.9 0M314.6 98.3a1.4 1.4 0 1 0 2.9 0a1.4 1.4 0 1 0 -2.9 0M315.1 97.2a1.4 1.4 0 1 0 2.9 0a1.4 1.4 0 1 0 -2.9 0M315.6 98.2a1.4 1.4 0 1 0 2.9 0a1.4 1.4 0 1 0 -2.9 0M316.1 98.2a1.4 1.4 0 1 0 2.9 0a1.4 1.4 0 1 0 -2.9 0M316.6 95.6a1.4 1.4 0 1 0 2.9 0a1.4 1.4 0 1 0 -2.9 0M317.1 97.5a1.4 1.4 0 1 0 2.9 0a1.4 1.4 0 1 0 -2.9 0M317.6 98.7a1.4 1.4 0 1 0 2.9 0a1.4 1.4 0 1 0 -2.9 0M318.1 98.1a1.4 1.4 0 1 0 2.9 0a1.4 1.4 0 1 0 -2.9 0M318.6 94.3a1.4 1.4 0 1 0 2.9 0a1.4 1.4 0 1 0 -2.9 0M319.1 96.9a1.4 1.4 0 1 0 2.9 0a1.4 1.4 0 1 0 -2.9 0M319.6 97.9a1.4 1.4 0 1 0 2.9 0a1.4 1.4 0 1 0 -2.9 0M320.1 99.3a1.4 1.4 0 1 0 2.9 0a1.4 1.4 0 1 0 -2.9 0M320.6 98.3a1.4 1.4 0 1 0 2.9 0a1.4 1.4 0 1 0 -2.9 0M321.1 95.9a1.4 1.4 0 1 0 2.9 0a1.4 1.4 0 1 0 -2.9 0M321.6 98.7a1.4 1.4 0 1 0 2.9 0a1.4 1.4 0 1 0 -2.9 0M322.1 99.3a1.4 1.4 0 1 0 2.9 0a1.4 1.4 0 1 0 -2.9 0M322.6 95.6a1.4 1.4 0 1 0 2.9 0a1.4 1.4 0 1 0 -2.9 0M323.1 92.4a1.4 1.4 0 1 0 2.9 0a1.4 1.4 0 1 0 -2.9 0M323.6 92.1a1.4 1.4 0 1 0 2.9 0a1.4 1.4 0 1 0 -2.9 0M324.1 93.7a1.4 1.4 0 1 0 2.9 0a1.4 1.4 0 1 0 -2.9 0M324.6 92.7a1.4 1.4 0 1 0 2.9 0a1.4 1.4 0 1 0 -2.9 0M325.1 94.5a1.4 1.4 0 1 0 2.9 0a1.4 1.4 0 1 0 -2.9 0M325.6 92.7a1.4 1.4 0 1 0 2.9 0a1.4 1.4 0 1 0 -2.9 0M326.1 92.5a1.4 1.4 0 1 0 2.9 0a1.4 1.4 0 1 0 -2.9 0M326.6 95.7a1.4 1.4 0 1 0 2.9 0a1.4 1.4 0 1 0 -2.9 0M327.1 94.5a1.4 1.4 0 1 0 2.9 0a1.4 1.4 0 1 0 -2.9 0M327.6 91.1a1.4 1.4 0 1 0 2.9 0a1.4 1.4 0 1 0 -2.9 0M328.1 93.1a1.4 1.4 0 1 0 2.9 0a1.4 1.4 0 1 0 -2.9 0M328.6 95.3a1.4 1.4 0 1 0 2.9 0a1.4 1.4 0 1 0 -2.9 0M329.1 92.2a1.4 1.4 0 1 0 2.9 0a1.4 1.4 0 1 0 -2.9 0M329.6 93.6a1.4 1.4 0 1 0 2.9 0a1.4 1.4 0 1 0 -2.9 0M330.1 92.5a1.4 1.4 0 1 0 2.9 0a1.4 1.4 0 1 0 -2.9 0M330.6 92.4a1.4 1.4 0 1 0 2.9 0a1.4 1.4 0 1 0 -2.9 0M331.1 91.4a1.4 1.4 0 1 0 2.9 0a1.4 1.4 0 1 0 -2.9 0M331.6 88.7a1.4 1.4 0 1 0 2.9 0a1.4 1.4 0 1 0 -2.9 0M332.1 86.4a1.4 1.4 0 1 0 2.9 0a1.4 1.4 0 1 0 -2.9 0M332.6 89.7a1.4 1.4 0 1 0 2.9 0a1.4 1.4 0 1 0 -2.9 0M333.1 86.8a1.4 1.4 0 1 0 2.9 0a1.4 1.4 0 1 0 -2.9 0M333.6 88.2a1.4 1.4 0 1 0 2.9 0a1.4 1.4 0 1 0 -2.9 0M334.1 87.7a1.4 1.4 0 1 0 2.9 0a1.4 1.4 0 1 0 -2.9 0M334.6 84.9a1.4 1.4 0 1 0 2.9 0a1.4 1.4 0 1 0 -2.9 0M335.1 85.0a1.4 1.4 0 1 0 2.9 0a1.4 1.4 0 1 0 -2.9 0M335.6 85.7a1.4 1.4 0 1 0 2.9 0a1.4 1.4 0 1 0 -2.9 0M336.1 84.1a1.4 1.4 0 1 0 2.9 0a1.4 1.4 0 1 0 -2.9 0M336.6 84.0a1.4 1.4 0 1 0 2.9 0a1.4 1.4 0 1 0 -2.9 0M337.1 85.4a1.4 1.4 0 1 0 2.9 0a1.4 1.4 0 1 0 -2.9 0M337.6 83.4a1.4 1.4 0 1 0 2.9 0a1.4 1.4 0 1 0 -2.9 0M338.1 83.3a1.4 1.4 0 1 0 2.9 0a1.4 1.4 0 1 0 -2.9 0M338.6 82.9a1.4 1.4 0 1 0 2.9 0a1.4 1.4 0 1 0 -2.9 0M339.1 80.6a1.4 1.4 0 1 0 2.9 0a1.4 1.4 0 1 0 -2.9 0M339.6 82.4a1.4 1.4 0 1 0 2.9 0a1.4 1.4 0 1 0 -2.9 0M340.1 81.2a1.4 1.4 0 1 0 2.9 0a1.4 1.4 0 1 0 -2.9 0M340.6 83.8a1.4 1.4 0 1 0 2.9 0a1.4 1.4 0 1 0 -2.9 0M341.1 86.6a1.4 1.4 0 1 0 2.9 0a1.4 1.4 0 1 0 -2.9 0M341.6 81.9a1.4 1.4 0 1 0 2.9 0a1.4 1.4 0 1 0 -2.9 0M342.1 84.7a1.4 1.4 0 1 0 2.9 0a1.4 1.4 0 1 0 -2.9 0M342.6 82.4a1.4 1.4 0 1 0 2.9 0a1.4 1.4 0 1 0 -2.9 0M343.1 83.6a1.4 1.4 0 1 0 2.9 0a1.4 1.4 0 1 0 -2.9 0M343.6 82.8a1.4 1.4 0 1 0 2.9 0a1.4 1.4 0 1 0 -2.9 0M344.1 81.2a1.4 1.4 0 1 0 2.9 0a1.4 1.4 0 1 0 -2.9 0M344.6 85.8a1.4 1.4 0 1 0 2.9 0a1.4 1.4 0 1 0 -2.9 0M345.1 83.5a1.4 1.4 0 1 0 2.9 0a1.4 1.4 0 1 0 -2.9 0M345.6 83.3a1.4 1.4 0 1 0 2.9 0a1.4 1.4 0 1 0 -2.9 0M346.1 85.9a1.4 1.4 0 1 0 2.9 0a1.4 1.4 0 1 0 -2.9 0M346.6 87.7a1.4 1.4 0 1 0 2.9 0a1.4 1.4 0 1 0 -2.9 0M347.1 87.7a1.4 1.4 0 1 0 2.9 0a1.4 1.4 0 1 0 -2.9 0M347.6 90.9a1.4 1.4 0 1 0 2.9 0a1.4 1.4 0 1 0 -2.9 0M348.1 87.1a1.4 1.4 0 1 0 2.9 0a1.4 1.4 0 1 0 -2.9 0M348.6 88.7a1.4 1.4 0 1 0 2.9 0a1.4 1.4 0 1 0 -2.9 0M349.1 91.8a1.4 1.4 0 1 0 2.9 0a1.4 1.4 0 1 0 -2.9 0M349.6 91.0a1.4 1.4 0 1 0 2.9 0a1.4 1.4 0 1 0 -2.9 0M350.1 88.5a1.4 1.4 0 1 0 2.9 0a1.4 1.4 0 1 0 -2.9 0M350.6 89.4a1.4 1.4 0 1 0 2.9 0a1.4 1.4 0 1 0 -2.9 0M351.1 90.7a1.4 1.4 0 1 0 2.9 0a1.4 1.4 0 1 0 -2.9 0M351.6 91.3a1.4 1.4 0 1 0 2.9 0a1.4 1.4 0 1 0 -2.9 0M352.1 91.0a1.4 1.4 0 1 0 2.9 0a1.4 1.4 0 1 0 -2.9 0M352.6 89.6a1.4 1.4 0 1 0 2.9 0a1.4 1.4 0 1 0 -2.9 0M353.1 88.7a1.4 1.4 0 1 0 2.9 0a1.4 1.4 0 1 0 -2.9 0M353.6 90.2a1.4 1.4 0 1 0 2.9 0a1.4 1.4 0 1 0 -2.9 0M354.1 87.8a1.4 1.4 0 1 0 2.9 0a1.4 1.4 0 1 0 -2.9 0M354.6 86.2a1.4 1.4 0 1 0 2.9 0a1.4 1.4 0 1 0 -2.9 0M355.1 87.2a1.4 1.4 0 1 0 2.9 0a1.4 1.4 0 1 0 -2.9 0M355.6 87.1a1.4 1.4 0 1 0 2.9 0a1.4 1.4 0 1 0 -2.9 0M356.1 86.1a1.4 1.4 0 1 0 2.9 0a1.4 1.4 0 1 0 -2.9 0M356.6 87.7a1.4 1.4 0 1 0 2.9 0a1.4 1.4 0 1 0 -2.9 0M357.1 87.3a1.4 1.4 0 1 0 2.9 0a1.4 1.4 0 1 0 -2.9 0M357.6 89.2a1.4 1.4 0 1 0 2.9 0a1.4 1.4 0 1 0 -2.9 0M358.1 89.8a1.4 1.4 0 1 0 2.9 0a1.4 1.4 0 1 0 -2.9 0M358.6 85.1a1.4 1.4 0 1 0 2.9 0a1.4 1.4 0 1 0 -2.9 0M359.1 87.1a1.4 1.4 0 1 0 2.9 0a1.4 1.4 0 1 0 -2.9 0M359.6 88.3a1.4 1.4 0 1 0 2.9 0a1.4 1.4 0 1 0 -2.9 0M360.1 84.6a1.4 1.4 0 1 0 2.9 0a1.4 1.4 0 1 0 -2.9 0M360.6 87.8a1.4 1.4 0 1 0 2.9 0a1.4 1.4 0 1 0 -2.9 0M361.1 86.8a1.4 1.4 0 1 0 2.9 0a1.4 1.4 0 1 0 -2.9 0M361.6 84.8a1.4 1.4 0 1 0 2.9 0a1.4 1.4 0 1 0 -2.9 0M362.1 88.8a1.4 1.4 0 1 0 2.9 0a1.4 1.4 0 1 0 -2.9 0M362.6 87.4a1.4 1.4 0 1 0 2.9 0a1.4 1.4 0 1 0 -2.9 0M363.1 87.8a1.4 1.4 0 1 0 2.9 0a1.4 1.4 0 1 0 -2.9 0M363.6 87.0a1.4 1.4 0 1 0 2.9 0a1.4 1.4 0 1 0 -2.9 0M364.1 86.9a1.4 1.4 0 1 0 2.9 0a1.4 1.4 0 1 0 -2.9 0M364.6 85.4a1.4 1.4 0 1 0 2.9 0a1.4 1.4 0 1 0 -2.9 0M365.1 87.4a1.4 1.4 0 1 0 2.9 0a1.4 1.4 0 1 0 -2.9 0M365.6 87.8a1.4 1.4 0 1 0 2.9 0a1.4 1.4 0 1 0 -2.9 0M366.1 86.1a1.4 1.4 0 1 0 2.9 0a1.4 1.4 0 1 0 -2.9 0M366.6 87.7a1.4 1.4 0 1 0 2.9 0a1.4 1.4 0 1 0 -2.9 0M367.1 87.8a1.4 1.4 0 1 0 2.9 0a1.4 1.4 0 1 0 -2.9 0M367.6 86.8a1.4 1.4 0 1 0 2.9 0a1.4 1.4 0 1 0 -2.9 0M368.1 89.1a1.4 1.4 0 1 0 2.9 0a1.4 1.4 0 1 0 -2.9 0M368.6 89.9a1.4 1.4 0 1 0 2.9 0a1.4 1.4 0 1 0 -2.9 0M369.1 90.8a1.4 1.4 0 1 0 2.9 0a1.4 1.4 0 1 0 -2.9 0M369.6 91.0a1.4 1.4 0 1 0 2.9 0a1.4 1.4 0 1 0 -2.9 0M370.1 91.8a1.4 1.4 0 1 0 2.9 0a1.4 1.4 0 1 0 -2.9 0M370.6 95.0a1.4 1.4 0 1 0 2.9 0a1.4 1.4 0 1 0 -2.9 0M371.1 90.7a1.4 1.4 0 1 0 2.9 0a1.4 1.4 0 1 0 -2.9 0M371.6 89.1a1.4 1.4 0 1 0 2.9 0a1.4 1.4 0 1 0 -2.9 0M372.1 91.3a1.4 1.4 0 1 0 2.9 0a1.4 1.4 0 1 0 -2.9 0M372.6 94.1a1.4 1.4 0 1 0 2.9 0a1.4 1.4 0 1 0 -2.9 0M373.1 88.8a1.4 1.4 0 1 0 2.9 0a1.4 1.4 0 1 0 -2.9 0M373.6 89.9a1.4 1.4 0 1 0 2.9 0a1.4 1.4 0 1 0 -2.9 0M374.1 90.7a1.4 1.4 0 1 0 2.9 0a1.4 1.4 0 1 0 -2.9 0M374.6 88.1a1.4 1.4 0 1 0 2.9 0a1.4 1.4 0 1 0 -2.9 0M375.1 87.9a1.4 1.4 0 1 0 2.9 0a1.4 1.4 0 1 0 -2.9 0M375.6 88.4a1.4 1.4 0 1 0 2.9 0a1.4 1.4 0 1 0 -2.9 0M376.1 85.9a1.4 1.4 0 1 0 2.9 0a1.4 1.4 0 1 0 -2.9 0M376.6 88.8a1.4 1.4 0 1 0 2.9 0a1.4 1.4 0 1 0 -2.9 0M377.1 89.6a1.4 1.4 0 1 0 2.9 0a1.4 1.4 0 1 0 -2.9 0M377.6 85.2a1.4 1.4 0 1 0 2.9 0a1.4 1.4 0 1 0 -2.9 0M378.1 88.0a1.4 1.4 0 1 0 2.9 0a1.4 1.4 0 1 0 -2.9 0M378.6 82.7a1.4 1.4 0 1 0 2.9 0a1.4 1.4 0 1 0 -2.9 0M379.1 83.3a1.4 1.4 0 1 0 2.9 0a1.4 1.4 0 1 0 -2.9 0M379.6 82.2a1.4 1.4 0 1 0 2.9 0a1.4 1.4 0 1 0 -2.9 0M380.1 79.2a1.4 1.4 0 1 0 2.9 0a1.4 1.4 0 1 0 -2.9 0M380.6 78.8a1.4 1.4 0 1 0 2.9 0a1.4 1.4 0 1 0 -2.9 0M381.1 77.7a1.4 1.4 0 1 0 2.9 0a1.4 1.4 0 1 0 -2.9 0M381.6 76.5a1.4 1.4 0 1 0 2.9 0a1.4 1.4 0 1 0 -2.9 0M382.1 75.0a1.4 1.4 0 1 0 2.9 0a1.4 1.4 0 1 0 -2.9 0M382.6 78.0a1.4 1.4 0 1 0 2.9 0a1.4 1.4 0 1 0 -2.9 0M383.1 77.3a1.4 1.4 0 1 0 2.9 0a1.4 1.4 0 1 0 -2.9 0M383.6 75.6a1.4 1.4 0 1 0 2.9 0a1.4 1.4 0 1 0 -2.9 0M384.1 72.9a1.4 1.4 0 1 0 2.9 0a1.4 1.4 0 1 0 -2.9 0M384.6 75.1a1.4 1.4 0 1 0 2.9 0a1.4 1.4 0 1 0 -2.9 0M385.1 74.2a1.4 1.4 0 1 0 2.9 0a1.4 1.4 0 1 0 -2.9 0M385.6 74.5a1.4 1.4 0 1 0 2.9 0a1.4 1.4 0 1 0 -2.9 0M386.1 77.4a1.4 1.4 0 1 0 2.9 0a1.4 1.4 0 1 0 -2.9 0M386.6 78.0a1.4 1.4 0 1 0 2.9 0a1.4 1.4 0 1 0 -2.9 0M387.1 76.6a1.4 1.4 0 1 0 2.9 0a1.4 1.4 0 1 0 -2.9 0M387.6 75.3a1.4 1.4 0 1 0 2.9 0a1.4 1.4 0 1 0 -2.9 0M388.1 72.1a1.4 1.4 0 1 0 2.9 0a1.4 1.4 0 1 0 -2.9 0M388.6 72.1a1.4 1.4 0 1 0 2.9 0a1.4 1.4 0 1 0 -2.9 0M389.1 72.5a1.4 1.4 0 1 0 2.9 0a1.4 1.4 0 1 0 -2.9 0M389.6 74.5a1.4 1.4 0 1 0 2.9 0a1.4 1.4 0 1 0 -2.9 0M390.1 74.4a1.4 1.4 0 1 0 2.9 0a1.4 1.4 0 1 0 -2.9 0M390.6 74.7a1.4 1.4 0 1 0 2.9 0a1.4 1.4 0 1 0 -2.9 0M391.1 75.2a1.4 1.4 0 1 0 2.9 0a1.4 1.4 0 1 0 -2.9 0M391.6 74.2a1.4 1.4 0 1 0 2.9 0a1.4 1.4 0 1 0 -2.9 0M392.1 71.6a1.4 1.4 0 1 0 2.9 0a1.4 1.4 0 1 0 -2.9 0M392.6 74.1a1.4 1.4 0 1 0 2.9 0a1.4 1.4 0 1 0 -2.9 0M393.1 73.5a1.4 1.4 0 1 0 2.9 0a1.4 1.4 0 1 0 -2.9 0M393.6 72.3a1.4 1.4 0 1 0 2.9 0a1.4 1.4 0 1 0 -2.9 0M394.1 72.1a1.4 1.4 0 1 0 2.9 0a1.4 1.4 0 1 0 -2.9 0M394.6 68.4a1.4 1.4 0 1 0 2.9 0a1.4 1.4 0 1 0 -2.9 0M395.1 69.5a1.4 1.4 0 1 0 2.9 0a1.4 1.4 0 1 0 -2.9 0M395.6 68.5a1.4 1.4 0 1 0 2.9 0a1.4 1.4 0 1 0 -2.9 0M396.1 71.1a1.4 1.4 0 1 0 2.9 0a1.4 1.4 0 1 0 -2.9 0M396.6 69.4a1.4 1.4 0 1 0 2.9 0a1.4 1.4 0 1 0 -2.9 0M397.1 66.9a1.4 1.4 0 1 0 2.9 0a1.4 1.4 0 1 0 -2.9 0M397.6 69.2a1.4 1.4 0 1 0 2.9 0a1.4 1.4 0 1 0 -2.9 0M398.1 65.2a1.4 1.4 0 1 0 2.9 0a1.4 1.4 0 1 0 -2.9 0M398.6 63.0a1.4 1.4 0 1 0 2.9 0a1.4 1.4 0 1 0 -2.9 0M399.1 65.6a1.4 1.4 0 1 0 2.9 0a1.4 1.4 0 1 0 -2.9 0M399.6 62.8a1.4 1.4 0 1 0 2.9 0a1.4 1.4 0 1 0 -2.9 0M400.1 65.0a1.4 1.4 0 1 0 2.9 0a1.4 1.4 0 1 0 -2.9 0M400.6 66.0a1.4 1.4 0 1 0 2.9 0a1.4 1.4 0 1 0 -2.9 0M401.1 63.0a1.4 1.4 0 1 0 2.9 0a1.4 1.4 0 1 0 -2.9 0M401.6 60.9a1.4 1.4 0 1 0 2.9 0a1.4 1.4 0 1 0 -2.9 0M402.1 60.9a1.4 1.4 0 1 0 2.9 0a1.4 1.4 0 1 0 -2.9 0M402.6 60.7a1.4 1.4 0 1 0 2.9 0a1.4 1.4 0 1 0 -2.9 0M403.1 62.2a1.4 1.4 0 1 0 2.9 0a1.4 1.4 0 1 0 -2.9 0M403.6 60.9a1.4 1.4 0 1 0 2.9 0a1.4 1.4 0 1 0 -2.9 0M404.1 60.9a1.4 1.4 0 1 0 2.9 0a1.4 1.4 0 1 0 -2.9 0M404.6 64.0a1.4 1.4 0 1 0 2.9 0a1.4 1.4 0 1 0 -2.9 0M405.1 67.9a1.4 1.4 0 1 0 2.9 0a1.4 1.4 0 1 0 -2.9 0M405.6 68.2a1.4 1.4 0 1 0 2.9 0a1.4 1.4 0 1 0 -2.9 0M406.1 67.6a1.4 1.4 0 1 0 2.9 0a1.4 1.4 0 1 0 -2.9 0M406.6 67.5a1.4 1.4 0 1 0 2.9 0a1.4 1.4 0 1 0 -2.9 0M407.1 68.4a1.4 1.4 0 1 0 2.9 0a1.4 1.4 0 1 0 -2.9 0M407.6 68.9a1.4 1.4 0 1 0 2.9 0a1.4 1.4 0 1 0 -2.9 0M408.1 70.1a1.4 1.4 0 1 0 2.9 0a1.4 1.4 0 1 0 -2.9 0M408.6 69.8a1.4 1.4 0 1 0 2.9 0a1.4 1.4 0 1 0 -2.9 0M409.1 67.8a1.4 1.4 0 1 0 2.9 0a1.4 1.4 0 1 0 -2.9 0M409.6 66.7a1.4 1.4 0 1 0 2.9 0a1.4 1.4 0 1 0 -2.9 0M410.1 65.9a1.4 1.4 0 1 0 2.9 0a1.4 1.4 0 1 0 -2.9 0M410.6 66.6a1.4 1.4 0 1 0 2.9 0a1.4 1.4 0 1 0 -2.9 0M411.1 65.4a1.4 1.4 0 1 0 2.9 0a1.4 1.4 0 1 0 -2.9 0M411.6 65.6a1.4 1.4 0 1 0 2.9 0a1.4 1.4 0 1 0 -2.9 0M412.1 65.8a1.4 1.4 0 1 0 2.9 0a1.4 1.4 0 1 0 -2.9 0M412.6 67.4a1.4 1.4 0 1 0 2.9 0a1.4 1.4 0 1 0 -2.9 0M413.1 66.2a1.4 1.4 0 1 0 2.9 0a1.4 1.4 0 1 0 -2.9 0M413.6 70.2a1.4 1.4 0 1 0 2.9 0a1.4 1.4 0 1 0 -2.9 0M414.1 67.8a1.4 1.4 0 1 0 2.9 0a1.4 1.4 0 1 0 -2.9 0M414.6 71.4a1.4 1.4 0 1 0 2.9 0a1.4 1.4 0 1 0 -2.9 0M415.1 70.8a1.4 1.4 0 1 0 2.9 0a1.4 1.4 0 1 0 -2.9 0M415.6 69.0a1.4 1.4 0 1 0 2.9 0a1.4 1.4 0 1 0 -2.9 0M416.1 67.9a1.4 1.4 0 1 0 2.9 0a1.4 1.4 0 1 0 -2.9 0M416.6 66.2a1.4 1.4 0 1 0 2.9 0a1.4 1.4 0 1 0 -2.9 0M417.1 62.1a1.4 1.4 0 1 0 2.9 0a1.4 1.4 0 1 0 -2.9 0M417.6 64.8a1.4 1.4 0 1 0 2.9 0a1.4 1.4 0 1 0 -2.9 0M418.1 66.9a1.4 1.4 0 1 0 2.9 0a1.4 1.4 0 1 0 -2.9 0M418.6 63.2a1.4 1.4 0 1 0 2.9 0a1.4 1.4 0 1 0 -2.9 0M419.1 62.7a1.4 1.4 0 1 0 2.9 0a1.4 1.4 0 1 0 -2.9 0M419.6 61.7a1.4 1.4 0 1 0 2.9 0a1.4 1.4 0 1 0 -2.9 0M420.1 58.4a1.4 1.4 0 1 0 2.9 0a1.4 1.4 0 1 0 -2.9 0M420.6 61.4a1.4 1.4 0 1 0 2.9 0a1.4 1.4 0 1 0 -2.9 0M421.1 61.7a1.4 1.4 0 1 0 2.9 0a1.4 1.4 0 1 0 -2.9 0M421.6 58.1a1.4 1.4 0 1 0 2.9 0a1.4 1.4 0 1 0 -2.9 0M422.1 59.0a1.4 1.4 0 1 0 2.9 0a1.4 1.4 0 1 0 -2.9 0M422.6 57.0a1.4 1.4 0 1 0 2.9 0a1.4 1.4 0 1 0 -2.9 0M423.1 54.5a1.4 1.4 0 1 0 2.9 0a1.4 1.4 0 1 0 -2.9 0M423.6 57.8a1.4 1.4 0 1 0 2.9 0a1.4 1.4 0 1 0 -2.9 0M424.1 53.7a1.4 1.4 0 1 0 2.9 0a1.4 1.4 0 1 0 -2.9 0M424.6 55.7a1.4 1.4 0 1 0 2.9 0a1.4 1.4 0 1 0 -2.9 0M425.1 54.2a1.4 1.4 0 1 0 2.9 0a1.4 1.4 0 1 0 -2.9 0M425.6 52.1a1.4 1.4 0 1 0 2.9 0a1.4 1.4 0 1 0 -2.9 0M426.1 50.9a1.4 1.4 0 1 0 2.9 0a1.4 1.4 0 1 0 -2.9 0M426.6 51.3a1.4 1.4 0 1 0 2.9 0a1.4 1.4 0 1 0 -2.9 0M427.1 49.4a1.4 1.4 0 1 0 2.9 0a1.4 1.4 0 1 0 -2.9 0M427.6 51.0a1.4 1.4 0 1 0 2.9 0a1.4 1.4 0 1 0 -2.9 0M428.1 52.5a1.4 1.4 0 1 0 2.9 0a1.4 1.4 0 1 0 -2.9 0M428.6 54.0a1.4 1.4 0 1 0 2.9 0a1.4 1.4 0 1 0 -2.9 0M429.1 51.9a1.4 1.4 0 1 0 2.9 0a1.4 1.4 0 1 0 -2.9 0M429.6 51.8a1.4 1.4 0 1 0 2.9 0a1.4 1.4 0 1 0 -2.9 0M430.1 53.5a1.4 1.4 0 1 0 2.9 0a1.4 1.4 0 1 0 -2.9 0M430.6 54.6a1.4 1.4 0 1 0 2.9 0a1.4 1.4 0 1 0 -2.9 0M431.1 54.8a1.4 1.4 0 1 0 2.9 0a1.4 1.4 0 1 0 -2.9 0M431.6 52.9a1.4 1.4 0 1 0 2.9 0a1.4 1.4 0 1 0 -2.9 0M432.1 54.7a1.4 1.4 0 1 0 2.9 0a1.4 1.4 0 1 0 -2.9 0M432.6 53.8a1.4 1.4 0 1 0 2.9 0a1.4 1.4 0 1 0 -2.9 0M433.1 53.2a1.4 1.4 0 1 0 2.9 0a1.4 1.4 0 1 0 -2.9 0M433.6 56.4a1.4 1.4 0 1 0 2.9 0a1.4 1.4 0 1 0 -2.9 0M434.1 52.1a1.4 1.4 0 1 0 2.9 0a1.4 1.4 0 1 0 -2.9 0M434.6 51.4a1.4 1.4 0 1 0 2.9 0a1.4 1.4 0 1 0 -2.9 0M435.1 50.4a1.4 1.4 0 1 0 2.9 0a1.4 1.4 0 1 0 -2.9 0M435.6 51.5a1.4 1.4 0 1 0 2.9 0a1.4 1.4 0 1 0 -2.9 0M436.1 50.3a1.4 1.4 0 1 0 2.9 0a1.4 1.4 0 1 0 -2.9 0M436.6 49.3a1.4 1.4 0 1 0 2.9 0a1.4 1.4 0 1 0 -2.9 0M437.1 49.7a1.4 1.4 0 1 0 2.9 0a1.4 1.4 0 1 0 -2.9 0M437.6 51.5a1.4 1.4 0 1 0 2.9 0a1.4 1.4 0 1 0 -2.9 0M438.1 51.1a1.4 1.4 0 1 0 2.9 0a1.4 1.4 0 1 0 -2.9 0M438.6 49.4a1.4 1.4 0 1 0 2.9 0a1.4 1.4 0 1 0 -2.9 0M439.1 49.9a1.4 1.4 0 1 0 2.9 0a1.4 1.4 0 1 0 -2.9 0M439.6 46.9a1.4 1.4 0 1 0 2.9 0a1.4 1.4 0 1 0 -2.9 0M440.1 47.8a1.4 1.4 0 1 0 2.9 0a1.4 1.4 0 1 0 -2.9 0M440.6 48.0a1.4 1.4 0 1 0 2.9 0a1.4 1.4 0 1 0 -2.9 0M441.1 46.2a1.4 1.4 0 1 0 2.9 0a1.4 1.4 0 1 0 -2.9 0M441.6 45.7a1.4 1.4 0 1 0 2.9 0a1.4 1.4 0 1 0 -2.9 0M442.1 46.2a1.4 1.4 0 1 0 2.9 0a1.4 1.4 0 1 0 -2.9 0M442.6 46.2a1.4 1.4 0 1 0 2.9 0a1.4 1.4 0 1 0 -2.9 0M443.1 46.8a1.4 1.4 0 1 0 2.9 0a1.4 1.4 0 1 0 -2.9 0M443.6 44.4a1.4 1.4 0 1 0 2.9 0a1.4 1.4 0 1 0 -2.9 0M444.1 47.1a1.4 1.4 0 1 0 2.9 0a1.4 1.4 0 1 0 -2.9 0M444.6 43.5a1.4 1.4 0 1 0 2.9 0a1.4 1.4 0 1 0 -2.9 0M445.1 44.6a1.4 1.4 0 1 0 2.9 0a1.4 1.4 0 1 0 -2.9 0M445.6 40.8a1.4 1.4 0 1 0 2.9 0a1.4 1.4 0 1 0 -2.9 0M446.1 40.4a1.4 1.4 0 1 0 2.9 0a1.4 1.4 0 1 0 -2.9 0M446.6 42.6a1.4 1.4 0 1 0 2.9 0a1.4 1.4 0 1 0 -2.9 0M447.1 42.0a1.4 1.4 0 1 0 2.9 0a1.4 1.4 0 1 0 -2.9 0M447.6 43.0a1.4 1.4 0 1 0 2.9 0a1.4 1.4 0 1 0 -2.9 0M448.1 39.0a1.4 1.4 0 1 0 2.9 0a1.4 1.4 0 1 0 -2.9 0M448.6 41.9a1.4 1.4 0 1 0 2.9 0a1.4 1.4 0 1 0 -2.9 0M449.1 40.2a1.4 1.4 0 1 0 2.9 0a1.4 1.4 0 1 0 -2.9 0M449.6 42.2a1.4 1.4 0 1 0 2.9 0a1.4 1.4 0 1 0 -2.9 0M450.1 38.8a1.4 1.4 0 1 0 2.9 0a1.4 1.4 0 1 0 -2.9 0M450.6 38.2a1.4 1.4 0 1 0 2.9 0a1.4 1.4 0 1 0 -2.9 0M451.1 36.8a1.4 1.4 0 1 0 2.9 0a1.4 1.4 0 1 0 -2.9 0M451.6 38.1a1.4 1.4 0 1 0 2.9 0a1.4 1.4 0 1 0 -2.9 0M452.1 39.9a1.4 1.4 0 1 0 2.9 0a1.4 1.4 0 1 0 -2.9 0M452.6 36.2a1.4 1.4 0 1 0 2.9 0a1.4 1.4 0 1 0 -2.9 0M453.1 37.8a1.4 1.4 0 1 0 2.9 0a1.4 1.4 0 1 0 -2.9 0M453.6 35.4a1.4 1.4 0 1 0 2.9 0a1.4 1.4 0 1 0 -2.9 0M454.1 39.3a1.4 1.4 0 1 0 2.9 0a1.4 1.4 0 1 0 -2.9 0M454.6 41.8a1.4 1.4 0 1 0 2.9 0a1.4 1.4 0 1 0 -2.9 0M455.1 39.4a1.4 1.4 0 1 0 2.9 0a1.4 1.4 0 1 0 -2.9 0M455.6 41.3a1.4 1.4 0 1 0 2.9 0a1.4 1.4 0 1 0 -2.9 0" fill="#c8c8c8"/>
<path d="M296.4 103.1a1.6 1.6 0 1 0 3.1 0a1.6 1.6 0 1 0 -3.1 0M296.9 101.5a1.6 1.6 0 1 0 3.1 0a1.6 1.6 0 1 0 -3.1 0M297.3 103.9a1.6 1.6 0 1 0 3.1 0a1.6 1.6 0 1 0 -3.1 0M297.8 106.9a1.6 1.6 0 1 0 3.1 0a1.6 1.6 0 1 0 -3.1 0M298.2 105.3a1.6 1.6 0 1 0 3.1 0a1.6 1.6 0 1 0 -3.1 0M298.7 104.7a1.6 1.6 0 1 0 3.1 0a1.6 1.6 0 1 0 -3.1 0M299.1 103.8a1.6 1.6 0 1 0 3.1 0a1.6 1.6 0 1 0 -3.1 0M299.6 109.1a1.6 1.6 0 1 0 3.1 0a1.6 1.6 0 1 0 -3.1 0M300.0 107.2a1.6 1.6 0 1 0 3.1 0a1.6 1.6 0 1 0 -3.1 0M300.5 110.9a1.6 1.6 0 1 0 3.1 0a1.6 1.6 0 1 0 -3.1 0M300.9 110.8a1.6 1.6 0 1 0 3.1 0a1.6 1.6 0 1 0 -3.1 0M301.4 107.8a1.6 1.6 0 1 0 3.1 0a1.6 1.6 0 1 0 -3.1 0M301.8 112.6a1.6 1.6 0 1 0 3.1 0a1.6 1.6 0 1 0 -3.1 0M302.3 110.9a1.6 1.6 0 1 0 3.1 0a1.6 1.6 0 1 0 -3.1 0M302.7 113.3a1.6 1.6 0 1 0 3.1 0a1.6 1.6 0 1 0 -3.1 0M303.2 113.6a1.6 1.6 0 1 0 3.1 0a1.6 1.6 0 1 0 -3.1 0M303.6 114.7a1.6 1.6 0 1 0 3.1 0a1.6 1.6 0 1 0 -3.1 0M304.1 112.6a1.6 1.6 0 1 0 3.1 0a1.6 1.6 0 1 0 -3.1 0M304.5 111.9a1.6 1.6 0 1 0 3.1 0a1.6 1.6 0 1 0 -3.1 0M305.0 113.7a1.6 1.6 0 1 0 3.1 0a1.6 1.6 0 1 0 -3.1 0M305.4 110.8a1.6 1.6 0 1 0 3.1 0a1.6 1.6 0 1 0 -3.1 0M305.9 110.5a1.6 1.6 0 1 0 3.1 0a1.6 1.6 0 1 0 -3.1 0M306.3 110.9a1.6 1.6 0 1 0 3.1 0a1.6 1.6 0 1 0 -3.1 0M306.8 111.8a1.6 1.6 0 1 0 3.1 0a1.6 1.6 0 1 0 -3.1 0M307.2 109.9a1.6 1.6 0 1 0 3.1 0a1.6 1.6 0 1 0 -3.1 0M307.7 108.8a1.6 1.6 0 1 0 3.1 0a1.6 1.6 0 1 0 -3.1 0M308.1 106.2a1.6 1.6 0 1 0 3.1 0a1.6 1.6 0 1 0 -3.1 0M308.6 104.6a1.6 1.6 0 1 0 3.1 0a1.6 1.6 0 1 0 -3.1 0M309.0 106.5a1.6 1.6 0 1 0 3.1 0a1.6 1.6 0 1 0 -3.1 0M309.5 106.2a1.6 1.6 0 1 0 3.1 0a1.6 1.6 0 1 0 -3.1 0M309.9 107.7a1.6 1.6 0 1 0 3.1 0a1.6 1.6 0 1 0 -3.1 0M310.4 107.5a1.6 1.6 0 1 0 3.1 0a1.6 1.6 0 1 0 -3.1 0M310.8 105.9a1.6 1.6 0 1 0 3.1 0a1.6 1.6 0 1 0 -3.1 0M311.3 107.9a1.6 1.6 0 1 0 3.1 0a1.6 1.6 0 1 0 -3.1 0M311.7 104.8a1.6 1.6 0 1 0 3.1 0a1.6 1.6 0 1 0 -3.1 0M312.2 106.8a1.6 1.6 0 1 0 3.1 0a1.6 1.6 0 1 0 -3.1 0M312.6 104.4a1.6 1.6 0 1 0 3.1 0a1.6 1.6 0 1 0 -3.1 0M313.1 104.5a1.6 1.6 0 1 0 3.1 0a1.6 1.6 0 1 0 -3.1 0M313.5 102.2a1.6 1.6 0 1 0 3.1 0a1.6 1.6 0 1 0 -3.1 0M314.0 101.5a1.6 1.6 0 1 0 3.1 0a1.6 1.6 0 1 0 -3.1 0M314.4 98.1a1.6 1.6 0 1 0 3.1 0a1.6 1.6 0 1 0 -3.1 0M314.9 100.3a1.6 1.6 0 1 0 3.1 0a1.6 1.6 0 1 0 -3.1 0M315.3 98.0a1.6 1.6 0 1 0 3.1 0a1.6 1.6 0 1 0 -3.1 0M315.8 98.6a1.6 1.6 0 1 0 3.1 0a1.6 1.6 0 1 0 -3.1 0M316.2 96.7a1.6 1.6 0 1 0 3.1 0a1.6 1.6 0 1 0 -3.1 0M316.7 94.6a1.6 1.6 0 1 0 3.1 0a1.6 1.6 0 1 0 -3.1 0M317.1 94.6a1.6 1.6 0 1 0 3.1 0a1.6 1.6 0 1 0 -3.1 0M317.6 92.3a1.6 1.6 0 1 0 3.1 0a1.6 1.6 0 1 0 -3.1 0M318.0 98.9a1.6 1.6 0 1 0 3.1 0a1.6 1.6 0 1 0 -3.1 0M318.5 99.1a1.6 1.6 0 1 0 3.1 0a1.6 1.6 0 1 0 -3.1 0M318.9 95.1a1.6 1.6 0 1 0 3.1 0a1.6 1.6 0 1 0 -3.1 0M319.4 97.1a1.6 1.6 0 1 0 3.1 0a1.6 1.6 0 1 0 -3.1 0M319.8 94.9a1.6 1.6 0 1 0 3.1 0a1.6 1.6 0 1 0 -3.1 0M320.3 94.5a1.6 1.6 0 1 0 3.1 0a1.6 1.6 0 1 0 -3.1 0M320.7 91.5a1.6 1.6 0 1 0 3.1 0a1.6 1.6 0 1 0 -3.1 0M321.2 95.5a1.6 1.6 0 1 0 3.1 0a1.6 1.6 0 1 0 -3.1 0M321.6 92.6a1.6 1.6 0 1 0 3.1 0a1.6 1.6 0 1 0 -3.1 0M322.1 94.7a1.6 1.6 0 1 0 3.1 0a1.6 1.6 0 1 0 -3.1 0M322.5 92.2a1.6 1.6 0 1 0 3.1 0a1.6 1.6 0 1 0 -3.1 0M323.0 95.7a1.6 1.6 0 1 0 3.1 0a1.6 1.6 0 1 0 -3.1 0M323.4 92.4a1.6 1.6 0 1 0 3.1 0a1.6 1.6 0 1 0 -3.1 0M323.9 90.7a1.6 1.6 0 1 0 3.1 0a1.6 1.6 0 1 0 -3.1 0M324.3 88.8a1.6 1.6 0 1 0 3.1 0a1.6 1.6 0 1 0 -3.1 0M324.8 90.6a1.6 1.6 0 1 0 3.1 0a1.6 1.6 0 1 0 -3.1 0M325.2 87.6a1.6 1.6 0 1 0 3.1 0a1.6 1.6 0 1 0 -3.1 0M325.7 90.8a1.6 1.6 0 1 0 3.1 0a1.6 1.6 0 1 0 -3.1 0M326.1 88.9a1.6 1.6 0 1 0 3.1 0a1.6 1.6 0 1 0 -3.1 0M326.6 88.8a1.6 1.6 0 1 0 3.1 0a1.6 1.6 0 1 0 -3.1 0M327.0 87.8a1.6 1.6 0 1 0 3.1 0a1.6 1.6 0 1 0 -3.1 0M327.5 88.6a1.6 1.6 0 1 0 3.1 0a1.6 1.6 0 1 0 -3.1 0M327.9 87.0a1.6 1.6 0 1 0 3.1 0a1.6 1.6 0 1 0 -3.1 0M328.4 86.1a1.6 1.6 0 1 0 3.1 0a1.6 1.6 0 1 0 -3.1 0M328.8 85.0a1.6 1.6 0 1 0 3.1 0a1.6 1.6 0 1 0 -3.1 0M329.3 87.6a1.6 1.6 0 1 0 3.1 0a1.6 1.6 0 1 0 -3.1 0M329.7 91.5a1.6 1.6 0 1 0 3.1 0a1.6 1.6 0 1 0 -3.1 0M330.2 91.3a1.6 1.6 0 1 0 3.1 0a1.6 1.6 0 1 0 -3.1 0M330.6 87.7a1.6 1.6 0 1 0 3.1 0a1.6 1.6 0 1 0 -3.1 0M331.1 87.3a1.6 1.6 0 1 0 3.1 0a1.6 1.6 0 1 0 -3.1 0M331.5 92.3a1.6 1.6 0 1 0 3.1 0a1.6 1.6 0 1 0 -3.1 0M332.0 93.3a1.6 1.6 0 1 0 3.1 0a1.6 1.6 0 1 0 -3.1 0M332.4 89.9a1.6 1.6 0 1 0 3.1 0a1.6 1.6 0 1 0 -3.1 0M332.9 92.9a1.6 1.6 0 1 0 3.1 0a1.6 1.6 0 1 0 -3.1 0M333.3 92.3a1.6 1.6 0 1 0 3.1 0a1.6 1.6 0 1 0 -3.1 0M333.8 93.2a1.6 1.6 0 1 0 3.1 0a1.6 1.6 0 1 0 -3.1 0M334.2 92.5a1.6 1.6 0 1 0 3.1 0a1.6 1.6 0 1 0 -3.1 0M334.7 95.3a1.6 1.6 0 1 0 3.1 0a1.6 1.6 0 1 0 -3.1 0M335.1 98.7a1.6 1.6 0 1 0 3.1 0a1.6 1.6 0 1 0 -3.1 0M335.6 100.9a1.6 1.6 0 1 0 3.1 0a1.6 1.6 0 1 0 -3.1 0M336.0 99.4a1.6 1.6 0 1 0 3.1 0a1.6 1.6 0 1 0 -3.1 0M336.5 101.6a1.6 1.6 0 1 0 3.1 0a1.6 1.6 0 1 0 -3.1 0M336.9 102.4a1.6 1.6 0 1 0 3.1 0a1.6 1.6 0 1 0 -3.1 0M337.4 101.8a1.6 1.6 0 1 0 3.1 0a1.6 1.6 0 1 0 -3.1 0M337.8 105.6a1.6 1.6 0 1 0 3.1 0a1.6 1.6 0 1 0 -3.1 0M338.3 102.7a1.6 1.6 0 1 0 3.1 0a1.6 1.6 0 1 0 -3.1 0M338.7 103.6a1.6 1.6 0 1 0 3.1 0a1.6 1.6 0 1 0 -3.1 0M339.2 106.2a1.6 1.6 0 1 0 3.1 0a1.6 1.6 0 1 0 -3.1 0M339.6 107.6a1.6 1.6 0 1 0 3.1 0a1.6 1.6 0 1 0 -3.1 0M340.1 111.7a1.6 1.6 0 1 0 3.1 0a1.6 1.6 0 1 0 -3.1 0M340.5 111.8a1.6 1.6 0 1 0 3.1 0a1.6 1.6 0 1 0 -3.1 0M341.0 114.1a1.6 1.6 0 1 0 3.1 0a1.6 1.6 0 1 0 -3.1 0M341.4 114.0a1.6 1.6 0 1 0 3.1 0a1.6 1.6 0 1 0 -3.1 0M341.9 115.3a1.6 1.6 0 1 0 3.1 0a1.6 1.6 0 1 0 -3.1 0M342.3 115.1a1.6 1.6 0 1 0 3.1 0a1.6 1.6 0 1 0 -3.1 0M342.8 114.8a1.6 1.6 0 1 0 3.1 0a1.6 1.6 0 1 0 -3.1 0M343.2 116.8a1.6 1.6 0 1 0 3.1 0a1.6 1.6 0 1 0 -3.1 0M343.7 112.3a1.6 1.6 0 1 0 3.1 0a1.6 1.6 0 1 0 -3.1 0M344.1 111.3a1.6 1.6 0 1 0 3.1 0a1.6 1.6 0 1 0 -3.1 0M344.6 107.0a1.6 1.6 0 1 0 3.1 0a1.6 1.6 0 1 0 -3.1 0M345.0 104.7a1.6 1.6 0 1 0 3.1 0a1.6 1.6 0 1 0 -3.1 0M345.5 103.0a1.6 1.6 0 1 0 3.1 0a1.6 1.6 0 1 0 -3.1 0M345.9 102.7a1.6 1.6 0 1 0 3.1 0a1.6 1.6 0 1 0 -3.1 0M346.4 102.0a1.6 1.6 0 1 0 3.1 0a1.6 1.6 0 1 0 -3.1 0M346.8 105.2a1.6 1.6 0 1 0 3.1 0a1.6 1.6 0 1 0 -3.1 0M347.3 100.9a1.6 1.6 0 1 0 3.1 0a1.6 1.6 0 1 0 -3.1 0M347.7 99.2a1.6 1.6 0 1 0 3.1 0a1.6 1.6 0 1 0 -3.1 0M348.2 96.9a1.6 1.6 0 1 0 3.1 0a1.6 1.6 0 1 0 -3.1 0M348.6 100.3a1.6 1.6 0 1 0 3.1 0a1.6 1.6 0 1 0 -3.1 0M349.1 100.8a1.6 1.6 0 1 0 3.1 0a1.6 1.6 0 1 0 -3.1 0M349.5 101.4a1.6 1.6 0 1 0 3.1 0a1.6 1.6 0 1 0 -3.1 0M350.0 98.8a1.6 1.6 0 1 0 3.1 0a1.6 1.6 0 1 0 -3.1 0M350.4 99.3a1.6 1.6 0 1 0 3.1 0a1.6 1.6 0 1 0 -3.1 0M350.9 101.0a1.6 1.6 0 1 0 3.1 0a1.6 1.6 0 1 0 -3.1 0M351.3 101.1a1.6 1.6 0 1 0 3.1 0a1.6 1.6 0 1 0 -3.1 0M351.8 101.4a1.6 1.6 0 1 0 3.1 0a1.6 1.6 0 1 0 -3.1 0M352.2 102.8a1.6 1.6 0 1 0 3.1 0a1.6 1.6 0 1 0 -3.1 0M352.7 107.0a1.6 1.6 0 1 0 3.1 0a1.6 1.6 0 1 0 -3.1 0M353.1 106.8a1.6 1.6 0 1 0 3.1 0a1.6 1.6 0 1 0 -3.1 0M353.6 107.5a1.6 1.6 0 1 0 3.1 0a1.6 1.6 0 1 0 -3.1 0M354.0 108.8a1.6 1.6 0 1 0 3.1 0a1.6 1.6 0 1 0 -3.1 0M354.5 110.1a1.6 1.6 0 1 0 3.1 0a1.6 1.6 0 1 0 -3.1 0M354.9 107.4a1.6 1.6 0 1 0 3.1 0a1.6 1.6 0 1 0 -3.1 0M355.4 111.8a1.6 1.6 0 1 0 3.1 0a1.6 1.6 0 1 0 -3.1 0M355.8 111.3a1.6 1.6 0 1 0 3.1 0a1.6 1.6 0 1 0 -3.1 0M356.3 113.6a1.6 1.6 0 1 0 3.1 0a1.6 1.6 0 1 0 -3.1 0M356.7 110.4a1.6 1.6 0 1 0 3.1 0a1.6 1.6 0 1 0 -3.1 0M357.2 111.7a1.6 1.6 0 1 0 3.1 0a1.6 1.6 0 1 0 -3.1 0M357.6 111.4a1.6 1.6 0 1 0 3.1 0a1.6 1.6 0 1 0 -3.1 0M358.1 112.7a1.6 1.6 0 1 0 3.1 0a1.6 1.6 0 1 0 -3.1 0M358.5 110.8a1.6 1.6 0 1 0 3.1 0a1.6 1.6 0 1 0 -3.1 0M359.0 111.5a1.6 1.6 0 1 0 3.1 0a1.6 1.6 0 1 0 -3.1 0M359.4 112.4a1.6 1.6 0 1 0 3.1 0a1.6 1.6 0 1 0 -3.1 0M359.9 110.5a1.6 1.6 0 1 0 3.1 0a1.6 1.6 0 1 0 -3.1 0M360.3 110.0a1.6 1.6 0 1 0 3.1 0a1.6 1.6 0 1 0 -3.1 0M360.8 110.4a1.6 1.6 0 1 0 3.1 0a1.6 1.6 0 1 0 -3.1 0M361.2 113.0a1.6 1.6 0 1 0 3.1 0a1.6 1.6 0 1 0 -3.1 0M361.7 110.7a1.6 1.6 0 1 0 3.1 0a1.6 1.6 0 1 0 -3.1 0M362.1 114.9a1.6 1.6 0 1 0 3.1 0a1.6 1.6 0 1 0 -3.1 0M362.6 112.3a1.6 1.6 0 1 0 3.1 0a1.6 1.6 0 1 0 -3.1 0M363.0 110.7a1.6 1.6 0 1 0 3.1 0a1.6 1.6 0 1 0 -3.1 0M363.5 112.1a1.6 1.6 0 1 0 3.1 0a1.6 1.6 0 1 0 -3.1 0M363.9 108.7a1.6 1.6 0 1 0 3.1 0a1.6 1.6 0 1 0 -3.1 0M364.4 108.1a1.6 1.6 0 1 0 3.1 0a1.6 1.6 0 1 0 -3.1 0M364.8 107.6a1.6 1.6 0 1 0 3.1 0a1.6 1.6 0 1 0 -3.1 0M365.3 108.6a1.6 1.6 0 1 0 3.1 0a1.6 1.6 0 1 0 -3.1 0M365.7 111.2a1.6 1.6 0 1 0 3.1 0a1.6 1.6 0 1 0 -3.1 0M366.2 113.3a1.6 1.6 0 1 0 3.1 0a1.6 1.6 0 1 0 -3.1 0M366.6 114.0a1.6 1.6 0 1 0 3.1 0a1.6 1.6 0 1 0 -3.1 0M367.1 107.5a1.6 1.6 0 1 0 3.1 0a1.6 1.6 0 1 0 -3.1 0M367.5 109.0a1.6 1.6 0 1 0 3.1 0a1.6 1.6 0 1 0 -3.1 0M368.0 109.3a1.6 1.6 0 1 0 3.1 0a1.6 1.6 0 1 0 -3.1 0M368.4 109.4a1.6 1.6 0 1 0 3.1 0a1.6 1.6 0 1 0 -3.1 0M368.9 106.8a1.6 1.6 0 1 0 3.1 0a1.6 1.6 0 1 0 -3.1 0M369.3 108.5a1.6 1.6 0 1 0 3.1 0a1.6 1.6 0 1 0 -3.1 0M369.8 111.1a1.6 1.6 0 1 0 3.1 0a1.6 1.6 0 1 0 -3.1 0M370.2 113.3a1.6 1.6 0 1 0 3.1 0a1.6 1.6 0 1 0 -3.1 0M370.7 110.1a1.6 1.6 0 1 0 3.1 0a1.6 1.6 0 1 0 -3.1 0M371.1 110.6a1.6 1.6 0 1 0 3.1 0a1.6 1.6 0 1 0 -3.1 0M371.6 113.9a1.6 1.6 0 1 0 3.1 0a1.6 1.6 0 1 0 -3.1 0M372.0 113.6a1.6 1.6 0 1 0 3.1 0a1.6 1.6 0 1 0 -3.1 0M372.5 114.7a1.6 1.6 0 1 0 3.1 0a1.6 1.6 0 1 0 -3.1 0M372.9 113.6a1.6 1.6 0 1 0 3.1 0a1.6 1.6 0 1 0 -3.1 0M373.4 111.9a1.6 1.6 0 1 0 3.1 0a1.6 1.6 0 1 0 -3.1 0M373.8 115.2a1.6 1.6 0 1 0 3.1 0a1.6 1.6 0 1 0 -3.1 0M374.3 111.0a1.6 1.6 0 1 0 3.1 0a1.6 1.6 0 1 0 -3.1 0M374.7 110.1a1.6 1.6 0 1 0 3.1 0a1.6 1.6 0 1 0 -3.1 0M375.2 107.1a1.6 1.6 0 1 0 3.1 0a1.6 1.6 0 1 0 -3.1 0M375.6 104.3a1.6 1.6 0 1 0 3.1 0a1.6 1.6 0 1 0 -3.1 0M376.1 106.6a1.6 1.6 0 1 0 3.1 0a1.6 1.6 0 1 0 -3.1 0M376.5 105.6a1.6 1.6 0 1 0 3.1 0a1.6 1.6 0 1 0 -3.1 0M377.0 104.0a1.6 1.6 0 1 0 3.1 0a1.6 1.6 0 1 0 -3.1 0M377.4 104.9a1.6 1.6 0 1 0 3.1 0a1.6 1.6 0 1 0 -3.1 0M377.9 101.7a1.6 1.6 0 1 0 3.1 0a1.6 1.6 0 1 0 -3.1 0M378.3 100.0a1.6 1.6 0 1 0 3.1 0a1.6 1.6 0 1 0 -3.1 0M378.8 96.8a1.6 1.6 0 1 0 3.1 0a1.6 1.6 0 1 0 -3.1 0M379.2 97.9a1.6 1.6 0 1 0 3.1 0a1.6 1.6 0 1 0 -3.1 0M379.7 94.1a1.6 1.6 0 1 0 3.1 0a1.6 1.6 0 1 0 -3.1 0M380.1 90.2a1.6 1.6 0 1 0 3.1 0a1.6 1.6 0 1 0 -3.1 0M380.6 90.0a1.6 1.6 0 1 0 3.1 0a1.6 1.6 0 1 0 -3.1 0M381.0 89.1a1.6 1.6 0 1 0 3.1 0a1.6 1.6 0 1 0 -3.1 0M381.5 88.9a1.6 1.6 0 1 0 3.1 0a1.6 1.6 0 1 0 -3.1 0M381.9 88.3a1.6 1.6 0 1 0 3.1 0a1.6 1.6 0 1 0 -3.1 0M382.4 87.9a1.6 1.6 0 1 0 3.1 0a1.6 1.6 0 1 0 -3.1 0M382.8 85.3a1.6 1.6 0 1 0 3.1 0a1.6 1.6 0 1 0 -3.1 0M383.3 82.2a1.6 1.6 0 1 0 3.1 0a1.6 1.6 0 1 0 -3.1 0M383.7 81.5a1.6 1.6 0 1 0 3.1 0a1.6 1.6 0 1 0 -3.1 0M384.2 82.6a1.6 1.6 0 1 0 3.1 0a1.6 1.6 0 1 0 -3.1 0M384.6 80.1a1.6 1.6 0 1 0 3.1 0a1.6 1.6 0 1 0 -3.1 0M385.1 79.7a1.6 1.6 0 1 0 3.1 0a1.6 1.6 0 1 0 -3.1 0M385.5 76.8a1.6 1.6 0 1 0 3.1 0a1.6 1.6 0 1 0 -3.1 0M386.0 77.5a1.6 1.6 0 1 0 3.1 0a1.6 1.6 0 1 0 -3.1 0M386.4 76.6a1.6 1.6 0 1 0 3.1 0a1.6 1.6 0 1 0 -3.1 0M386.9 73.3a1.6 1.6 0 1 0 3.1 0a1.6 1.6 0 1 0 -3.1 0M387.3 75.9a1.6 1.6 0 1 0 3.1 0a1.6 1.6 0 1 0 -3.1 0M387.8 71.4a1.6 1.6 0 1 0 3.1 0a1.6 1.6 0 1 0 -3.1 0M388.2 70.7a1.6 1.6 0 1 0 3.1 0a1.6 1.6 0 1 0 -3.1 0M388.7 69.2a1.6 1.6 0 1 0 3.1 0a1.6 1.6 0 1 0 -3.1 0M389.1 66.4a1.6 1.6 0 1 0 3.1 0a1.6 1.6 0 1 0 -3.1 0M389.6 63.9a1.6 1.6 0 1 0 3.1 0a1.6 1.6 0 1 0 -3.1 0M390.0 61.0a1.6 1.6 0 1 0 3.1 0a1.6 1.6 0 1 0 -3.1 0M390.5 54.9a1.6 1.6 0 1 0 3.1 0a1.6 1.6 0 1 0 -3.1 0M390.9 54.9a1.6 1.6 0 1 0 3.1 0a1.6 1.6 0 1 0 -3.1 0M391.4 52.1a1.6 1.6 0 1 0 3.1 0a1.6 1.6 0 1 0 -3.1 0M391.8 47.5a1.6 1.6 0 1 0 3.1 0a1.6 1.6 0 1 0 -3.1 0M392.3 43.6a1.6 1.6 0 1 0 3.1 0a1.6 1.6 0 1 0 -3.1 0M392.7 43.9a1.6 1.6 0 1 0 3.1 0a1.6 1.6 0 1 0 -3.1 0M393.2 42.0a1.6 1.6 0 1 0 3.1 0a1.6 1.6 0 1 0 -3.1 0M393.6 40.4a1.6 1.6 0 1 0 3.1 0a1.6 1.6 0 1 0 -3.1 0M394.1 40.8a1.6 1.6 0 1 0 3.1 0a1.6 1.6 0 1 0 -3.1 0M394.5 40.3a1.6 1.6 0 1 0 3.1 0a1.6 1.6 0 1 0 -3.1 0M395.0 44.3a1.6 1.6 0 1 0 3.1 0a1.6 1.6 0 1 0 -3.1 0M395.4 41.7a1.6 1.6 0 1 0 3.1 0a1.6 1.6 0 1 0 -3.1 0M395.9 44.1a1.6 1.6 0 1 0 3.1 0a1.6 1.6 0 1 0 -3.1 0M396.3 43.8a1.6 1.6 0 1 0 3.1 0a1.6 1.6 0 1 0 -3.1 0M396.8 44.2a1.6 1.6 0 1 0 3.1 0a1.6 1.6 0 1 0 -3.1 0M397.2 42.1a1.6 1.6 0 1 0 3.1 0a1.6 1.6 0 1 0 -3.1 0M397.7 39.7a1.6 1.6 0 1 0 3.1 0a1.6 1.6 0 1 0 -3.1 0M398.1 42.5a1.6 1.6 0 1 0 3.1 0a1.6 1.6 0 1 0 -3.1 0M398.6 41.7a1.6 1.6 0 1 0 3.1 0a1.6 1.6 0 1 0 -3.1 0M399.0 41.6a1.6 1.6 0 1 0 3.1 0a1.6 1.6 0 1 0 -3.1 0M399.5 38.5a1.6 1.6 0 1 0 3.1 0a1.6 1.6 0 1 0 -3.1 0M399.9 40.8a1.6 1.6 0 1 0 3.1 0a1.6 1.6 0 1 0 -3.1 0M400.4 39.7a1.6 1.6 0 1 0 3.1 0a1.6 1.6 0 1 0 -3.1 0M400.8 34.4a1.6 1.6 0 1 0 3.1 0a1.6 1.6 0 1 0 -3.1 0M401.3 35.6a1.6 1.6 0 1 0 3.1 0a1.6 1.6 0 1 0 -3.1 0M401.7 32.7a1.6 1.6 0 1 0 3.1 0a1.6 1.6 0 1 0 -3.1 0M402.2 38.0a1.6 1.6 0 1 0 3.1 0a1.6 1.6 0 1 0 -3.1 0M402.6 35.9a1.6 1.6 0 1 0 3.1 0a1.6 1.6 0 1 0 -3.1 0M403.1 36.1a1.6 1.6 0 1 0 3.1 0a1.6 1.6 0 1 0 -3.1 0M403.5 34.5a1.6 1.6 0 1 0 3.1 0a1.6 1.6 0 1 0 -3.1 0M404.0 32.0a1.6 1.6 0 1 0 3.1 0a1.6 1.6 0 1 0 -3.1 0M404.4 34.6a1.6 1.6 0 1 0 3.1 0a1.6 1.6 0 1 0 -3.1 0M404.9 33.2a1.6 1.6 0 1 0 3.1 0a1.6 1.6 0 1 0 -3.1 0M405.3 29.1a1.6 1.6 0 1 0 3.1 0a1.6 1.6 0 1 0 -3.1 0M405.8 28.1a1.6 1.6 0 1 0 3.1 0a1.6 1.6 0 1 0 -3.1 0M406.2 30.3a1.6 1.6 0 1 0 3.1 0a1.6 1.6 0 1 0 -3.1 0M406.7 30.1a1.6 1.6 0 1 0 3.1 0a1.6 1.6 0 1 0 -3.1 0M407.1 29.2a1.6 1.6 0 1 0 3.1 0a1.6 1.6 0 1 0 -3.1 0M407.6 26.4a1.6 1.6 0 1 0 3.1 0a1.6 1.6 0 1 0 -3.1 0M408.0 26.1a1.6 1.6 0 1 0 3.1 0a1.6 1.6 0 1 0 -3.1 0M408.5 26.9a1.6 1.6 0 1 0 3.1 0a1.6 1.6 0 1 0 -3.1 0M408.9 30.8a1.6 1.6 0 1 0 3.1 0a1.6 1.6 0 1 0 -3.1 0M409.4 28.5a1.6 1.6 0 1 0 3.1 0a1.6 1.6 0 1 0 -3.1 0M409.8 30.2a1.6 1.6 0 1 0 3.1 0a1.6 1.6 0 1 0 -3.1 0M410.3 32.8a1.6 1.6 0 1 0 3.1 0a1.6 1.6 0 1 0 -3.1 0M410.7 31.6a1.6 1.6 0 1 0 3.1 0a1.6 1.6 0 1 0 -3.1 0M411.2 29.2a1.6 1.6 0 1 0 3.1 0a1.6 1.6 0 1 0 -3.1 0M411.6 29.5a1.6 1.6 0 1 0 3.1 0a1.6 1.6 0 1 0 -3.1 0M412.1 29.4a1.6 1.6 0 1 0 3.1 0a1.6 1.6 0 1 0 -3.1 0M412.5 29.9a1.6 1.6 0 1 0 3.1 0a1.6 1.6 0 1 0 -3.1 0M413.0 25.5a1.6 1.6 0 1 0 3.1 0a1.6 1.6 0 1 0 -3.1 0M413.4 25.5a1.6 1.6 0 1 0 3.1 0a1.6 1.6 0 1 0 -3.1 0M413.9 23.8a1.6 1.6 0 1 0 3.1 0a1.6 1.6 0 1 0 -3.1 0M414.3 23.9a1.6 1.6 0 1 0 3.1 0a1.6 1.6 0 1 0 -3.1 0M414.8 25.7a1.6 1.6 0 1 0 3.1 0a1.6 1.6 0 1 0 -3.1 0M415.2 25.7a1.6 1.6 0 1 0 3.1 0a1.6 1.6 0 1 0 -3.1 0M415.7 26.7a1.6 1.6 0 1 0 3.1 0a1.6 1.6 0 1 0 -3.1 0M416.1 25.3a1.6 1.6 0 1 0 3.1 0a1.6 1.6 0 1 0 -3.1 0M416.6 22.5a1.6 1.6 0 1 0 3.1 0a1.6 1.6 0 1 0 -3.1 0M417.0 27.0a1.6 1.6 0 1 0 3.1 0a1.6 1.6 0 1 0 -3.1 0M417.5 21.9a1.6 1.6 0 1 0 3.1 0a1.6 1.6 0 1 0 -3.1 0M417.9 23.9a1.6 1.6 0 1 0 3.1 0a1.6 1.6 0 1 0 -3.1 0M418.4 26.9a1.6 1.6 0 1 0 3.1 0a1.6 1.6 0 1 0 -3.1 0M418.8 27.8a1.6 1.6 0 1 0 3.1 0a1.6 1.6 0 1 0 -3.1 0M419.3 23.3a1.6 1.6 0 1 0 3.1 0a1.6 1.6 0 1 0 -3.1 0M419.7 26.9a1.6 1.6 0 1 0 3.1 0a1.6 1.6 0 1 0 -3.1 0M420.2 26.5a1.6 1.6 0 1 0 3.1 0a1.6 1.6 0 1 0 -3.1 0M420.6 26.4a1.6 1.6 0 1 0 3.1 0a1.6 1.6 0 1 0 -3.1 0M421.1 27.3a1.6 1.6 0 1 0 3.1 0a1.6 1.6 0 1 0 -3.1 0M421.5 26.2a1.6 1.6 0 1 0 3.1 0a1.6 1.6 0 1 0 -3.1 0M422.0 25.2a1.6 1.6 0 1 0 3.1 0a1.6 1.6 0 1 0 -3.1 0M422.4 20.1a1.6 1.6 0 1 0 3.1 0a1.6 1.6 0 1 0 -3.1 0M422.9 19.4a1.6 1.6 0 1 0 3.1 0a1.6 1.6 0 1 0 -3.1 0M423.3 21.9a1.6 1.6 0 1 0 3.1 0a1.6 1.6 0 1 0 -3.1 0M423.8 24.7a1.6 1.6 0 1 0 3.1 0a1.6 1.6 0 1 0 -3.1 0M424.2 25.4a1.6 1.6 0 1 0 3.1 0a1.6 1.6 0 1 0 -3.1 0M424.7 24.0a1.6 1.6 0 1 0 3.1 0a1.6 1.6 0 1 0 -3.1 0M425.1 27.3a1.6 1.6 0 1 0 3.1 0a1.6 1.6 0 1 0 -3.1 0M425.6 25.1a1.6 1.6 0 1 0 3.1 0a1.6 1.6 0 1 0 -3.1 0M426.0 21.9a1.6 1.6 0 1 0 3.1 0a1.6 1.6 0 1 0 -3.1 0" fill="#aed6ec"/>
<path d="M265.6 92.7a1.4 1.4 0 1 0 2.9 0a1.4 1.4 0 1 0 -2.9 0M266.1 94.9a1.4 1.4 0 1 0 2.9 0a1.4 1.4 0 1 0 -2.9 0M266.6 91.5a1.4 1.4 0 1 0 2.9 0a1.4 1.4 0 1 0 -2.9 0M267.1 92.0a1.4 1.4 0 1 0 2.9 0a1.4 1.4 0 1 0 -2.9 0M267.6 92.6a1.4 1.4 0 1 0 2.9 0a1.4 1.4 0 1 0 -2.9 0M268.1 90.2a1.4 1.4 0 1 0 2.9 0a1.4 1.4 0 1 0 -2.9 0M268.6 92.3a1.4 1.4 0 1 0 2.9 0a1.4 1.4 0 1 0 -2.9 0M269.1 92.2a1.4 1.4 0 1 0 2.9 0a1.4 1.4 0 1 0 -2.9 0M269.6 90.5a1.4 1.4 0 1 0 2.9 0a1.4 1.4 0 1 0 -2.9 0M270.1 93.1a1.4 1.4 0 1 0 2.9 0a1.4 1.4 0 1 0 -2.9 0M270.6 93.1a1.4 1.4 0 1 0 2.9 0a1.4 1.4 0 1 0 -2.9 0M271.1 90.7a1.4 1.4 0 1 0 2.9 0a1.4 1.4 0 1 0 -2.9 0M271.6 90.6a1.4 1.4 0 1 0 2.9 0a1.4 1.4 0 1 0 -2.9 0M272.1 92.4a1.4 1.4 0 1 0 2.9 0a1.4 1.4 0 1 0 -2.9 0M272.6 89.4a1.4 1.4 0 1 0 2.9 0a1.4 1.4 0 1 0 -2.9 0M273.1 89.4a1.4 1.4 0 1 0 2.9 0a1.4 1.4 0 1 0 -2.9 0M273.6 88.5a1.4 1.4 0 1 0 2.9 0a1.4 1.4 0 1 0 -2.9 0M274.1 89.0a1.4 1.4 0 1 0 2.9 0a1.4 1.4 0 1 0 -2.9 0M274.6 93.8a1.4 1.4 0 1 0 2.9 0a1.4 1.4 0 1 0 -2.9 0M275.1 90.7a1.4 1.4 0 1 0 2.9 0a1.4 1.4 0 1 0 -2.9 0M275.6 87.1a1.4 1.4 0 1 0 2.9 0a1.4 1.4 0 1 0 -2.9 0M276.1 89.6a1.4 1.4 0 1 0 2.9 0a1.4 1.4 0 1 0 -2.9 0M276.6 87.7a1.4 1.4 0 1 0 2.9 0a1.4 1.4 0 1 0 -2.9 0M277.1 90.1a1.4 1.4 0 1 0 2.9 0a1.4 1.4 0 1 0 -2.9 0M277.6 91.0a1.4 1.4 0 1 0 2.9 0a1.4 1.4 0 1 0 -2.9 0M278.1 91.6a1.4 1.4 0 1 0 2.9 0a1.4 1.4 0 1 0 -2.9 0M278.6 91.8a1.4 1.4 0 1 0 2.9 0a1.4 1.4 0 1 0 -2.9 0M279.1 92.6a1.4 1.4 0 1 0 2.9 0a1.4 1.4 0 1 0 -2.9 0M279.6 92.0a1.4 1.4 0 1 0 2.9 0a1.4 1.4 0 1 0 -2.9 0M280.1 95.3a1.4 1.4 0 1 0 2.9 0a1.4 1.4 0 1 0 -2.9 0M280.6 96.2a1.4 1.4 0 1 0 2.9 0a1.4 1.4 0 1 0 -2.9 0M281.1 96.3a1.4 1.4 0 1 0 2.9 0a1.4 1.4 0 1 0 -2.9 0M281.6 96.0a1.4 1.4 0 1 0 2.9 0a1.4 1.4 0 1 0 -2.9 0M282.1 96.0a1.4 1.4 0 1 0 2.9 0a1.4 1.4 0 1 0 -2.9 0M282.6 93.6a1.4 1.4 0 1 0 2.9 0a1.4 1.4 0 1 0 -2.9 0M283.1 95.0a1.4 1.4 0 1 0 2.9 0a1.4 1.4 0 1 0 -2.9 0M283.6 93.7a1.4 1.4 0 1 0 2.9 0a1.4 1.4 0 1 0 -2.9 0M284.1 95.1a1.4 1.4 0 1 0 2.9 0a1.4 1.4 0 1 0 -2.9 0M284.6 90.9a1.4 1.4 0 1 0 2.9 0a1.4 1.4 0 1 0 -2.9 0M285.1 96.3a1.4 1.4 0 1 0 2.9 0a1.4 1.4 0 1 0 -2.9 0M285.6 91.7a1.4 1.4 0 1 0 2.9 0a1.4 1.4 0 1 0 -2.9 0M286.1 92.9a1.4 1.4 0 1 0 2.9 0a1.4 1.4 0 1 0 -2.9 0M286.6 91.1a1.4 1.4 0 1 0 2.9 0a1.4 1.4 0 1 0 -2.9 0M287.1 92.9a1.4 1.4 0 1 0 2.9 0a1.4 1.4 0 1 0 -2.9 0M287.6 90.7a1.4 1.4 0 1 0 2.9 0a1.4 1.4 0 1 0 -2.9 0M288.1 94.5a1.4 1.4 0 1 0 2.9 0a1.4 1.4 0 1 0 -2.9 0M288.6 92.8a1.4 1.4 0 1 0 2.9 0a1.4 1.4 0 1 0 -2.9 0M289.1 95.7a1.4 1.4 0 1 0 2.9 0a1.4 1.4 0 1 0 -2.9 0M289.6 91.4a1.4 1.4 0 1 0 2.9 0a1.4 1.4 0 1 0 -2.9 0M290.1 92.8a1.4 1.4 0 1 0 2.9 0a1.4 1.4 0 1 0 -2.9 0M290.6 90.6a1.4 1.4 0 1 0 2.9 0a1.4 1.4 0 1 0 -2.9 0M291.1 95.4a1.4 1.4 0 1 0 2.9 0a1.4 1.4 0 1 0 -2.9 0M291.6 92.8a1.4 1.4 0 1 0 2.9 0a1.4 1.4 0 1 0 -2.9 0M292.1 94.5a1.4 1.4 0 1 0 2.9 0a1.4 1.4 0 1 0 -2.9 0M292.6 94.1a1.4 1.4 0 1 0 2.9 0a1.4 1.4 0 1 0 -2.9 0M293.1 96.0a1.4 1.4 0 1 0 2.9 0a1.4 1.4 0 1 0 -2.9 0M293.6 94.8a1.4 1.4 0 1 0 2.9 0a1.4 1.4 0 1 0 -2.9 0M294.1 96.1a1.4 1.4 0 1 0 2.9 0a1.4 1.4 0 1 0 -2.9 0M294.6 92.9a1.4 1.4 0 1 0 2.9 0a1.4 1.4 0 1 0 -2.9 0M295.1 90.5a1.4 1.4 0 1 0 2.9 0a1.4 1.4 0 1 0 -2.9 0M295.6 93.8a1.4 1.4 0 1 0 2.9 0a1.4 1.4 0 1 0 -2.9 0M296.1 92.4a1.4 1.4 0 1 0 2.9 0a1.4 1.4 0 1 0 -2.9 0M296.6 91.9a1.4 1.4 0 1 0 2.9 0a1.4 1.4 0 1 0 -2.9 0M297.1 90.1a1.4 1.4 0 1 0 2.9 0a1.4 1.4 0 1 0 -2.9 0M297.6 88.0a1.4 1.4 0 1 0 2.9 0a1.4 1.4 0 1 0 -2.9 0M298.1 86.9a1.4 1.4 0 1 0 2.9 0a1.4 1.4 0 1 0 -2.9 0M298.6 85.5a1.4 1.4 0 1 0 2.9 0a1.4 1.4 0 1 0 -2.9 0M299.1 87.3a1.4 1.4 0 1 0 2.9 0a1.4 1.4 0 1 0 -2.9 0M299.6 88.8a1.4 1.4 0 1 0 2.9 0a1.4 1.4 0 1 0 -2.9 0M300.1 85.9a1.4 1.4 0 1 0 2.9 0a1.4 1.4 0 1 0 -2.9 0M300.6 86.8a1.4 1.4 0 1 0 2.9 0a1.4 1.4 0 1 0 -2.9 0M301.1 85.3a1.4 1.4 0 1 0 2.9 0a1.4 1.4 0 1 0 -2.9 0M301.6 84.0a1.4 1.4 0 1 0 2.9 0a1.4 1.4 0 1 0 -2.9 0M302.1 83.3a1.4 1.4 0 1 0 2.9 0a1.4 1.4 0 1 0 -2.9 0M302.6 86.4a1.4 1.4 0 1 0 2.9 0a1.4 1.4 0 1 0 -2.9 0M303.1 83.1a1.4 1.4 0 1 0 2.9 0a1.4 1.4 0 1 0 -2.9 0M303.6 81.8a1.4 1.4 0 1 0 2.9 0a1.4 1.4 0 1 0 -2.9 0M304.1 83.2a1.4 1.4 0 1 0 2.9 0a1.4 1.4 0 1 0 -2.9 0M304.6 85.5a1.4 1.4 0 1 0 2.9 0a1.4 1.4 0 1 0 -2.9 0M305.1 86.9a1.4 1.4 0 1 0 2.9 0a1.4 1.4 0 1 0 -2.9 0M305.6 84.2a1.4 1.4 0 1 0 2.9 0a1.4 1.4 0 1 0 -2.9 0M306.1 87.0a1.4 1.4 0 1 0 2.9 0a1.4 1.4 0 1 0 -2.9 0M306.6 84.4a1.4 1.4 0 1 0 2.9 0a1.4 1.4 0 1 0 -2.9 0M307.1 84.5a1.4 1.4 0 1 0 2.9 0a1.4 1.4 0 1 0 -2.9 0M307.6 87.9a1.4 1.4 0 1 0 2.9 0a1.4 1.4 0 1 0 -2.9 0M308.1 84.2a1.4 1.4 0 1 0 2.9 0a1.4 1.4 0 1 0 -2.9 0M308.6 83.5a1.4 1.4 0 1 0 2.9 0a1.4 1.4 0 1 0 -2.9 0M309.1 85.4a1.4 1.4 0 1 0 2.9 0a1.4 1.4 0 1 0 -2.9 0M309.6 85.0a1.4 1.4 0 1 0 2.9 0a1.4 1.4 0 1 0 -2.9 0M310.1 87.5a1.4 1.4 0 1 0 2.9 0a1.4 1.4 0 1 0 -2.9 0M310.6 82.3a1.4 1.4 0 1 0 2.9 0a1.4 1.4 0 1 0 -2.9 0M311.1 82.7a1.4 1.4 0 1 0 2.9 0a1.4 1.4 0 1 0 -2.9 0M311.6 82.7a1.4 1.4 0 1 0 2.9 0a1.4 1.4 0 1 0 -2.9 0M312.1 78.3a1.4 1.4 0 1 0 2.9 0a1.4 1.4 0 1 0 -2.9 0M312.6 82.8a1.4 1.4 0 1 0 2.9 0a1.4 1.4 0 1 0 -2.9 0M313.1 82.8a1.4 1.4 0 1 0 2.9 0a1.4 1.4 0 1 0 -2.9 0M313.6 80.8a1.4 1.4 0 1 0 2.9 0a1.4 1.4 0 1 0 -2.9 0M314.1 82.5a1.4 1.4 0 1 0 2.9 0a1.4 1.4 0 1 0 -2.9 0M314.6 85.0a1.4 1.4 0 1 0 2.9 0a1.4 1.4 0 1 0 -2.9 0M315.1 81.8a1.4 1.4 0 1 0 2.9 0a1.4 1.4 0 1 0 -2.9 0M315.6 84.8a1.4 1.4 0 1 0 2.9 0a1.4 1.4 0 1 0 -2.9 0M316.1 81.7a1.4 1.4 0 1 0 2.9 0a1.4 1.4 0 1 0 -2.9 0M316.6 80.9a1.4 1.4 0 1 0 2.9 0a1.4 1.4 0 1 0 -2.9 0M317.1 81.7a1.4 1.4 0 1 0 2.9 0a1.4 1.4 0 1 0 -2.9 0M317.6 78.9a1.4 1.4 0 1 0 2.9 0a1.4 1.4 0 1 0 -2.9 0M318.1 81.9a1.4 1.4 0 1 0 2.9 0a1.4 1.4 0 1 0 -2.9 0M318.6 82.7a1.4 1.4 0 1 0 2.9 0a1.4 1.4 0 1 0 -2.9 0M319.1 84.5a1.4 1.4 0 1 0 2.9 0a1.4 1.4 0 1 0 -2.9 0M319.6 80.8a1.4 1.4 0 1 0 2.9 0a1.4 1.4 0 1 0 -2.9 0M320.1 81.6a1.4 1.4 0 1 0 2.9 0a1.4 1.4 0 1 0 -2.9 0M320.6 80.2a1.4 1.4 0 1 0 2.9 0a1.4 1.4 0 1 0 -2.9 0M321.1 85.2a1.4 1.4 0 1 0 2.9 0a1.4 1.4 0 1 0 -2.9 0M321.6 86.1a1.4 1.4 0 1 0 2.9 0a1.4 1.4 0 1 0 -2.9 0M322.1 83.7a1.4 1.4 0 1 0 2.9 0a1.4 1.4 0 1 0 -2.9 0M322.6 81.4a1.4 1.4 0 1 0 2.9 0a1.4 1.4 0 1 0 -2.9 0M323.1 83.5a1.4 1.4 0 1 0 2.9 0a1.4 1.4 0 1 0 -2.9 0M323.6 80.7a1.4 1.4 0 1 0 2.9 0a1.4 1.4 0 1 0 -2.9 0M324.1 81.4a1.4 1.4 0 1 0 2.9 0a1.4 1.4 0 1 0 -2.9 0M324.6 80.3a1.4 1.4 0 1 0 2.9 0a1.4 1.4 0 1 0 -2.9 0M325.1 85.2a1.4 1.4 0 1 0 2.9 0a1.4 1.4 0 1 0 -2.9 0M325.6 84.2a1.4 1.4 0 1 0 2.9 0a1.4 1.4 0 1 0 -2.9 0M326.1 83.3a1.4 1.4 0 1 0 2.9 0a1.4 1.4 0 1 0 -2.9 0M326.6 84.9a1.4 1.4 0 1 0 2.9 0a1.4 1.4 0 1 0 -2.9 0M327.1 85.2a1.4 1.4 0 1 0 2.9 0a1.4 1.4 0 1 0 -2.9 0M327.6 84.7a1.4 1.4 0 1 0 2.9 0a1.4 1.4 0 1 0 -2.9 0M328.1 85.4a1.4 1.4 0 1 0 2.9 0a1.4 1.4 0 1 0 -2.9 0M328.6 87.1a1.4 1.4 0 1 0 2.9 0a1.4 1.4 0 1 0 -2.9 0M329.1 83.5a1.4 1.4 0 1 0 2.9 0a1.4 1.4 0 1 0 -2.9 0M329.6 83.2a1.4 1.4 0 1 0 2.9 0a1.4 1.4 0 1 0 -2.9 0M330.1 84.4a1.4 1.4 0 1 0 2.9 0a1.4 1.4 0 1 0 -2.9 0M330.6 85.1a1.4 1.4 0 1 0 2.9 0a1.4 1.4 0 1 0 -2.9 0M331.1 85.0a1.4 1.4 0 1 0 2.9 0a1.4 1.4 0 1 0 -2.9 0M331.6 82.3a1.4 1.4 0 1 0 2.9 0a1.4 1.4 0 1 0 -2.9 0M332.1 85.4a1.4 1.4 0 1 0 2.9 0a1.4 1.4 0 1 0 -2.9 0M332.6 84.0a1.4 1.4 0 1 0 2.9 0a1.4 1.4 0 1 0 -2.9 0M333.1 82.0a1.4 1.4 0 1 0 2.9 0a1.4 1.4 0 1 0 -2.9 0M333.6 85.5a1.4 1.4 0 1 0 2.9 0a1.4 1.4 0 1 0 -2.9 0M334.1 83.7a1.4 1.4 0 1 0 2.9 0a1.4 1.4 0 1 0 -2.9 0M334.6 86.8a1.4 1.4 0 1 0 2.9 0a1.4 1.4 0 1 0 -2.9 0M335.1 87.4a1.4 1.4 0 1 0 2.9 0a1.4 1.4 0 1 0 -2.9 0M335.6 87.3a1.4 1.4 0 1 0 2.9 0a1.4 1.4 0 1 0 -2.9 0M336.1 85.1a1.4 1.4 0 1 0 2.9 0a1.4 1.4 0 1 0 -2.9 0M336.6 82.0a1.4 1.4 0 1 0 2.9 0a1.4 1.4 0 1 0 -2.9 0M337.1 84.2a1.4 1.4 0 1 0 2.9 0a1.4 1.4 0 1 0 -2.9 0M337.6 83.8a1.4 1.4 0 1 0 2.9 0a1.4 1.4 0 1 0 -2.9 0M338.1 83.6a1.4 1.4 0 1 0 2.9 0a1.4 1.4 0 1 0 -2.9 0M338.6 83.2a1.4 1.4 0 1 0 2.9 0a1.4 1.4 0 1 0 -2.9 0M339.1 81.5a1.4 1.4 0 1 0 2.9 0a1.4 1.4 0 1 0 -2.9 0M339.6 83.3a1.4 1.4 0 1 0 2.9 0a1.4 1.4 0 1 0 -2.9 0M340.1 81.7a1.4 1.4 0 1 0 2.9 0a1.4 1.4 0 1 0 -2.9 0M340.6 85.6a1.4 1.4 0 1 0 2.9 0a1.4 1.4 0 1 0 -2.9 0M341.1 82.5a1.4 1.4 0 1 0 2.9 0a1.4 1.4 0 1 0 -2.9 0M341.6 83.2a1.4 1.4 0 1 0 2.9 0a1.4 1.4 0 1 0 -2.9 0M342.1 80.2a1.4 1.4 0 1 0 2.9 0a1.4 1.4 0 1 0 -2.9 0M342.6 82.2a1.4 1.4 0 1 0 2.9 0a1.4 1.4 0 1 0 -2.9 0M343.1 84.9a1.4 1.4 0 1 0 2.9 0a1.4 1.4 0 1 0 -2.9 0M343.6 84.1a1.4 1.4 0 1 0 2.9 0a1.4 1.4 0 1 0 -2.9 0M344.1 80.8a1.4 1.4 0 1 0 2.9 0a1.4 1.4 0 1 0 -2.9 0M344.6 78.3a1.4 1.4 0 1 0 2.9 0a1.4 1.4 0 1 0 -2.9 0M345.1 79.1a1.4 1.4 0 1 0 2.9 0a1.4 1.4 0 1 0 -2.9 0M345.6 80.9a1.4 1.4 0 1 0 2.9 0a1.4 1.4 0 1 0 -2.9 0M346.1 85.0a1.4 1.4 0 1 0 2.9 0a1.4 1.4 0 1 0 -2.9 0M346.6 82.8a1.4 1.4 0 1 0 2.9 0a1.4 1.4 0 1 0 -2.9 0M347.1 84.7a1.4 1.4 0 1 0 2.9 0a1.4 1.4 0 1 0 -2.9 0M347.6 84.1a1.4 1.4 0 1 0 2.9 0a1.4 1.4 0 1 0 -2.9 0M348.1 83.5a1.4 1.4 0 1 0 2.9 0a1.4 1.4 0 1 0 -2.9 0M348.6 84.4a1.4 1.4 0 1 0 2.9 0a1.4 1.4 0 1 0 -2.9 0M349.1 84.0a1.4 1.4 0 1 0 2.9 0a1.4 1.4 0 1 0 -2.9 0M349.6 84.5a1.4 1.4 0 1 0 2.9 0a1.4 1.4 0 1 0 -2.9 0M350.1 84.7a1.4 1.4 0 1 0 2.9 0a1.4 1.4 0 1 0 -2.9 0M350.6 83.8a1.4 1.4 0 1 0 2.9 0a1.4 1.4 0 1 0 -2.9 0M351.1 83.2a1.4 1.4 0 1 0 2.9 0a1.4 1.4 0 1 0 -2.9 0M351.6 83.4a1.4 1.4 0 1 0 2.9 0a1.4 1.4 0 1 0 -2.9 0M352.1 78.8a1.4 1.4 0 1 0 2.9 0a1.4 1.4 0 1 0 -2.9 0M352.6 82.4a1.4 1.4 0 1 0 2.9 0a1.4 1.4 0 1 0 -2.9 0M353.1 83.1a1.4 1.4 0 1 0 2.9 0a1.4 1.4 0 1 0 -2.9 0M353.6 84.0a1.4 1.4 0 1 0 2.9 0a1.4 1.4 0 1 0 -2.9 0M354.1 82.0a1.4 1.4 0 1 0 2.9 0a1.4 1.4 0 1 0 -2.9 0M354.6 80.8a1.4 1.4 0 1 0 2.9 0a1.4 1.4 0 1 0 -2.9 0M355.1 82.7a1.4 1.4 0 1 0 2.9 0a1.4 1.4 0 1 0 -2.9 0M355.6 79.2a1.4 1.4 0 1 0 2.9 0a1.4 1.4 0 1 0 -2.9 0M356.1 81.0a1.4 1.4 0 1 0 2.9 0a1.4 1.4 0 1 0 -2.9 0M356.6 80.4a1.4 1.4 0 1 0 2.9 0a1.4 1.4 0 1 0 -2.9 0M357.1 84.5a1.4 1.4 0 1 0 2.9 0a1.4 1.4 0 1 0 -2.9 0M357.6 84.9a1.4 1.4 0 1 0 2.9 0a1.4 1.4 0 1 0 -2.9 0M358.1 81.8a1.4 1.4 0 1 0 2.9 0a1.4 1.4 0 1 0 -2.9 0M358.6 82.4a1.4 1.4 0 1 0 2.9 0a1.4 1.4 0 1 0 -2.9 0M359.1 81.2a1.4 1.4 0 1 0 2.9 0a1.4 1.4 0 1 0 -2.9 0M359.6 81.9a1.4 1.4 0 1 0 2.9 0a1.4 1.4 0 1 0 -2.9 0M360.1 81.7a1.4 1.4 0 1 0 2.9 0a1.4 1.4 0 1 0 -2.9 0M360.6 80.5a1.4 1.4 0 1 0 2.9 0a1.4 1.4 0 1 0 -2.9 0M361.1 79.9a1.4 1.4 0 1 0 2.9 0a1.4 1.4 0 1 0 -2.9 0M361.6 80.5a1.4 1.4 0 1 0 2.9 0a1.4 1.4 0 1 0 -2.9 0M362.1 83.0a1.4 1.4 0 1 0 2.9 0a1.4 1.4 0 1 0 -2.9 0M362.6 81.7a1.4 1.4 0 1 0 2.9 0a1.4 1.4 0 1 0 -2.9 0M363.1 79.1a1.4 1.4 0 1 0 2.9 0a1.4 1.4 0 1 0 -2.9 0M363.6 80.9a1.4 1.4 0 1 0 2.9 0a1.4 1.4 0 1 0 -2.9 0M364.1 80.2a1.4 1.4 0 1 0 2.9 0a1.4 1.4 0 1 0 -2.9 0M364.6 81.0a1.4 1.4 0 1 0 2.9 0a1.4 1.4 0 1 0 -2.9 0M365.1 82.3a1.4 1.4 0 1 0 2.9 0a1.4 1.4 0 1 0 -2.9 0M365.6 82.1a1.4 1.4 0 1 0 2.9 0a1.4 1.4 0 1 0 -2.9 0M366.1 80.6a1.4 1.4 0 1 0 2.9 0a1.4 1.4 0 1 0 -2.9 0M366.6 79.8a1.4 1.4 0 1 0 2.9 0a1.4 1.4 0 1 0 -2.9 0M367.1 77.5a1.4 1.4 0 1 0 2.9 0a1.4 1.4 0 1 0 -2.9 0M367.6 78.1a1.4 1.4 0 1 0 2.9 0a1.4 1.4 0 1 0 -2.9 0M368.1 78.5a1.4 1.4 0 1 0 2.9 0a1.4 1.4 0 1 0 -2.9 0M368.6 74.9a1.4 1.4 0 1 0 2.9 0a1.4 1.4 0 1 0 -2.9 0M369.1 78.2a1.4 1.4 0 1 0 2.9 0a1.4 1.4 0 1 0 -2.9 0M369.6 76.0a1.4 1.4 0 1 0 2.9 0a1.4 1.4 0 1 0 -2.9 0M370.1 78.7a1.4 1.4 0 1 0 2.9 0a1.4 1.4 0 1 0 -2.9 0M370.6 77.4a1.4 1.4 0 1 0 2.9 0a1.4 1.4 0 1 0 -2.9 0M371.1 79.0a1.4 1.4 0 1 0 2.9 0a1.4 1.4 0 1 0 -2.9 0M371.6 79.1a1.4 1.4 0 1 0 2.9 0a1.4 1.4 0 1 0 -2.9 0M372.1 78.9a1.4 1.4 0 1 0 2.9 0a1.4 1.4 0 1 0 -2.9 0M372.6 79.5a1.4 1.4 0 1 0 2.9 0a1.4 1.4 0 1 0 -2.9 0M373.1 76.5a1.4 1.4 0 1 0 2.9 0a1.4 1.4 0 1 0 -2.9 0M373.6 75.0a1.4 1.4 0 1 0 2.9 0a1.4 1.4 0 1 0 -2.9 0M374.1 75.8a1.4 1.4 0 1 0 2.9 0a1.4 1.4 0 1 0 -2.9 0M374.6 72.0a1.4 1.4 0 1 0 2.9 0a1.4 1.4 0 1 0 -2.9 0M375.1 73.9a1.4 1.4 0 1 0 2.9 0a1.4 1.4 0 1 0 -2.9 0M375.6 76.3a1.4 1.4 0 1 0 2.9 0a1.4 1.4 0 1 0 -2.9 0M376.1 72.2a1.4 1.4 0 1 0 2.9 0a1.4 1.4 0 1 0 -2.9 0M376.6 74.5a1.4 1.4 0 1 0 2.9 0a1.4 1.4 0 1 0 -2.9 0M377.1 71.2a1.4 1.4 0 1 0 2.9 0a1.4 1.4 0 1 0 -2.9 0M377.6 72.8a1.4 1.4 0 1 0 2.9 0a1.4 1.4 0 1 0 -2.9 0M378.1 73.6a1.4 1.4 0 1 0 2.9 0a1.4 1.4 0 1 0 -2.9 0M378.6 73.8a1.4 1.4 0 1 0 2.9 0a1.4 1.4 0 1 0 -2.9 0M379.1 72.8a1.4 1.4 0 1 0 2.9 0a1.4 1.4 0 1 0 -2.9 0M379.6 72.2a1.4 1.4 0 1 0 2.9 0a1.4 1.4 0 1 0 -2.9 0M380.1 72.6a1.4 1.4 0 1 0 2.9 0a1.4 1.4 0 1 0 -2.9 0M380.6 71.0a1.4 1.4 0 1 0 2.9 0a1.4 1.4 0 1 0 -2.9 0M381.1 76.4a1.4 1.4 0 1 0 2.9 0a1.4 1.4 0 1 0 -2.9 0M381.6 74.3a1.4 1.4 0 1 0 2.9 0a1.4 1.4 0 1 0 -2.9 0M382.1 71.2a1.4 1.4 0 1 0 2.9 0a1.4 1.4 0 1 0 -2.9 0M382.6 71.7a1.4 1.4 0 1 0 2.9 0a1.4 1.4 0 1 0 -2.9 0M383.1 70.7a1.4 1.4 0 1 0 2.9 0a1.4 1.4 0 1 0 -2.9 0M383.6 69.4a1.4 1.4 0 1 0 2.9 0a1.4 1.4 0 1 0 -2.9 0M384.1 71.9a1.4 1.4 0 1 0 2.9 0a1.4 1.4 0 1 0 -2.9 0M384.6 68.4a1.4 1.4 0 1 0 2.9 0a1.4 1.4 0 1 0 -2.9 0M385.1 70.4a1.4 1.4 0 1 0 2.9 0a1.4 1.4 0 1 0 -2.9 0M385.6 69.2a1.4 1.4 0 1 0 2.9 0a1.4 1.4 0 1 0 -2.9 0M386.1 72.5a1.4 1.4 0 1 0 2.9 0a1.4 1.4 0 1 0 -2.9 0M386.6 71.7a1.4 1.4 0 1 0 2.9 0a1.4 1.4 0 1 0 -2.9 0M387.1 69.1a1.4 1.4 0 1 0 2.9 0a1.4 1.4 0 1 0 -2.9 0M387.6 70.1a1.4 1.4 0 1 0 2.9 0a1.4 1.4 0 1 0 -2.9 0M388.1 70.2a1.4 1.4 0 1 0 2.9 0a1.4 1.4 0 1 0 -2.9 0M388.6 67.4a1.4 1.4 0 1 0 2.9 0a1.4 1.4 0 1 0 -2.9 0M389.1 64.5a1.4 1.4 0 1 0 2.9 0a1.4 1.4 0 1 0 -2.9 0M389.6 66.0a1.4 1.4 0 1 0 2.9 0a1.4 1.4 0 1 0 -2.9 0M390.1 63.2a1.4 1.4 0 1 0 2.9 0a1.4 1.4 0 1 0 -2.9 0M390.6 64.6a1.4 1.4 0 1 0 2.9 0a1.4 1.4 0 1 0 -2.9 0M391.1 62.3a1.4 1.4 0 1 0 2.9 0a1.4 1.4 0 1 0 -2.9 0M391.6 66.6a1.4 1.4 0 1 0 2.9 0a1.4 1.4 0 1 0 -2.9 0M392.1 67.1a1.4 1.4 0 1 0 2.9 0a1.4 1.4 0 1 0 -2.9 0M392.6 61.8a1.4 1.4 0 1 0 2.9 0a1.4 1.4 0 1 0 -2.9 0M393.1 60.8a1.4 1.4 0 1 0 2.9 0a1.4 1.4 0 1 0 -2.9 0M393.6 58.8a1.4 1.4 0 1 0 2.9 0a1.4 1.4 0 1 0 -2.9 0M394.1 59.3a1.4 1.4 0 1 0 2.9 0a1.4 1.4 0 1 0 -2.9 0M394.6 59.9a1.4 1.4 0 1 0 2.9 0a1.4 1.4 0 1 0 -2.9 0M395.1 59.7a1.4 1.4 0 1 0 2.9 0a1.4 1.4 0 1 0 -2.9 0M395.6 61.4a1.4 1.4 0 1 0 2.9 0a1.4 1.4 0 1 0 -2.9 0M396.1 60.6a1.4 1.4 0 1 0 2.9 0a1.4 1.4 0 1 0 -2.9 0M396.6 60.3a1.4 1.4 0 1 0 2.9 0a1.4 1.4 0 1 0 -2.9 0M397.1 60.1a1.4 1.4 0 1 0 2.9 0a1.4 1.4 0 1 0 -2.9 0M397.6 60.0a1.4 1.4 0 1 0 2.9 0a1.4 1.4 0 1 0 -2.9 0M398.1 58.4a1.4 1.4 0 1 0 2.9 0a1.4 1.4 0 1 0 -2.9 0M398.6 57.5a1.4 1.4 0 1 0 2.9 0a1.4 1.4 0 1 0 -2.9 0M399.1 57.8a1.4 1.4 0 1 0 2.9 0a1.4 1.4 0 1 0 -2.9 0M399.6 55.6a1.4 1.4 0 1 0 2.9 0a1.4 1.4 0 1 0 -2.9 0M400.1 57.3a1.4 1.4 0 1 0 2.9 0a1.4 1.4 0 1 0 -2.9 0M400.6 55.6a1.4 1.4 0 1 0 2.9 0a1.4 1.4 0 1 0 -2.9 0M401.1 57.5a1.4 1.4 0 1 0 2.9 0a1.4 1.4 0 1 0 -2.9 0M401.6 54.4a1.4 1.4 0 1 0 2.9 0a1.4 1.4 0 1 0 -2.9 0M402.1 55.0a1.4 1.4 0 1 0 2.9 0a1.4 1.4 0 1 0 -2.9 0M402.6 53.6a1.4 1.4 0 1 0 2.9 0a1.4 1.4 0 1 0 -2.9 0M403.1 56.3a1.4 1.4 0 1 0 2.9 0a1.4 1.4 0 1 0 -2.9 0M403.6 56.2a1.4 1.4 0 1 0 2.9 0a1.4 1.4 0 1 0 -2.9 0M404.1 53.1a1.4 1.4 0 1 0 2.9 0a1.4 1.4 0 1 0 -2.9 0M404.6 54.6a1.4 1.4 0 1 0 2.9 0a1.4 1.4 0 1 0 -2.9 0M405.1 56.9a1.4 1.4 0 1 0 2.9 0a1.4 1.4 0 1 0 -2.9 0M405.6 57.1a1.4 1.4 0 1 0 2.9 0a1.4 1.4 0 1 0 -2.9 0M406.1 56.0a1.4 1.4 0 1 0 2.9 0a1.4 1.4 0 1 0 -2.9 0M406.6 56.1a1.4 1.4 0 1 0 2.9 0a1.4 1.4 0 1 0 -2.9 0M407.1 55.4a1.4 1.4 0 1 0 2.9 0a1.4 1.4 0 1 0 -2.9 0M407.6 51.5a1.4 1.4 0 1 0 2.9 0a1.4 1.4 0 1 0 -2.9 0M408.1 55.2a1.4 1.4 0 1 0 2.9 0a1.4 1.4 0 1 0 -2.9 0M408.6 54.8a1.4 1.4 0 1 0 2.9 0a1.4 1.4 0 1 0 -2.9 0M409.1 51.0a1.4 1.4 0 1 0 2.9 0a1.4 1.4 0 1 0 -2.9 0M409.6 51.4a1.4 1.4 0 1 0 2.9 0a1.4 1.4 0 1 0 -2.9 0M410.1 48.8a1.4 1.4 0 1 0 2.9 0a1.4 1.4 0 1 0 -2.9 0M410.6 48.1a1.4 1.4 0 1 0 2.9 0a1.4 1.4 0 1 0 -2.9 0M411.1 49.7a1.4 1.4 0 1 0 2.9 0a1.4 1.4 0 1 0 -2.9 0M411.6 46.5a1.4 1.4 0 1 0 2.9 0a1.4 1.4 0 1 0 -2.9 0M412.1 48.7a1.4 1.4 0 1 0 2.9 0a1.4 1.4 0 1 0 -2.9 0M412.6 47.2a1.4 1.4 0 1 0 2.9 0a1.4 1.4 0 1 0 -2.9 0M413.1 50.2a1.4 1.4 0 1 0 2.9 0a1.4 1.4 0 1 0 -2.9 0M413.6 46.0a1.4 1.4 0 1 0 2.9 0a1.4 1.4 0 1 0 -2.9 0M414.1 44.8a1.4 1.4 0 1 0 2.9 0a1.4 1.4 0 1 0 -2.9 0M414.6 44.4a1.4 1.4 0 1 0 2.9 0a1.4 1.4 0 1 0 -2.9 0M415.1 45.9a1.4 1.4 0 1 0 2.9 0a1.4 1.4 0 1 0 -2.9 0M415.6 47.1a1.4 1.4 0 1 0 2.9 0a1.4 1.4 0 1 0 -2.9 0M416.1 42.6a1.4 1.4 0 1 0 2.9 0a1.4 1.4 0 1 0 -2.9 0M416.6 46.2a1.4 1.4 0 1 0 2.9 0a1.4 1.4 0 1 0 -2.9 0M417.1 46.2a1.4 1.4 0 1 0 2.9 0a1.4 1.4 0 1 0 -2.9 0M417.6 46.2a1.4 1.4 0 1 0 2.9 0a1.4 1.4 0 1 0 -2.9 0M418.1 40.9a1.4 1.4 0 1 0 2.9 0a1.4 1.4 0 1 0 -2.9 0M418.6 41.0a1.4 1.4 0 1 0 2.9 0a1.4 1.4 0 1 0 -2.9 0M419.1 43.0a1.4 1.4 0 1 0 2.9 0a1.4 1.4 0 1 0 -2.9 0M419.6 40.5a1.4 1.4 0 1 0 2.9 0a1.4 1.4 0 1 0 -2.9 0M420.1 41.0a1.4 1.4 0 1 0 2.9 0a1.4 1.4 0 1 0 -2.9 0M420.6 36.7a1.4 1.4 0 1 0 2.9 0a1.4 1.4 0 1 0 -2.9 0M421.1 40.5a1.4 1.4 0 1 0 2.9 0a1.4 1.4 0 1 0 -2.9 0M421.6 38.1a1.4 1.4 0 1 0 2.9 0a1.4 1.4 0 1 0 -2.9 0M422.1 40.3a1.4 1.4 0 1 0 2.9 0a1.4 1.4 0 1 0 -2.9 0M422.6 39.5a1.4 1.4 0 1 0 2.9 0a1.4 1.4 0 1 0 -2.9 0M423.1 34.1a1.4 1.4 0 1 0 2.9 0a1.4 1.4 0 1 0 -2.9 0M423.6 37.8a1.4 1.4 0 1 0 2.9 0a1.4 1.4 0 1 0 -2.9 0M424.1 36.8a1.4 1.4 0 1 0 2.9 0a1.4 1.4 0 1 0 -2.9 0M424.6 34.8a1.4 1.4 0 1 0 2.9 0a1.4 1.4 0 1 0 -2.9 0M425.1 34.1a1.4 1.4 0 1 0 2.9 0a1.4 1.4 0 1 0 -2.9 0M425.6 34.8a1.4 1.4 0 1 0 2.9 0a1.4 1.4 0 1 0 -2.9 0M426.1 34.1a1.4 1.4 0 1 0 2.9 0a1.4 1.4 0 1 0 -2.9 0M426.6 34.7a1.4 1.4 0 1 0 2.9 0a1.4 1.4 0 1 0 -2.9 0M427.1 35.1a1.4 1.4 0 1 0 2.9 0a1.4 1.4 0 1 0 -2.9 0M427.6 32.3a1.4 1.4 0 1 0 2.9 0a1.4 1.4 0 1 0 -2.9 0M428.1 33.0a1.4 1.4 0 1 0 2.9 0a1.4 1.4 0 1 0 -2.9 0M428.6 30.6a1.4 1.4 0 1 0 2.9 0a1.4 1.4 0 1 0 -2.9 0M429.1 32.4a1.4 1.4 0 1 0 2.9 0a1.4 1.4 0 1 0 -2.9 0M429.6 30.0a1.4 1.4 0 1 0 2.9 0a1.4 1.4 0 1 0 -2.9 0M430.1 27.7a1.4 1.4 0 1 0 2.9 0a1.4 1.4 0 1 0 -2.9 0M430.6 27.1a1.4 1.4 0 1 0 2.9 0a1.4 1.4 0 1 0 -2.9 0M431.1 23.8a1.4 1.4 0 1 0 2.9 0a1.4 1.4 0 1 0 -2.9 0M431.6 23.0a1.4 1.4 0 1 0 2.9 0a1.4 1.4 0 1 0 -2.9 0" fill="#f5bd88"/>
<path d="M265.8 84.1a1.2 1.2 0 1 0 2.4 0a1.2 1.2 0 1 0 -2.4 0M266.2 85.7a1.2 1.2 0 1 0 2.4 0a1.2 1.2 0 1 0 -2.4 0M266.7 83.4a1.2 1.2 0 1 0 2.4 0a1.2 1.2 0 1 0 -2.4 0M267.1 83.0a1.2 1.2 0 1 0 2.4 0a1.2 1.2 0 1 0 -2.4 0M267.6 80.0a1.2 1.2 0 1 0 2.4 0a1.2 1.2 0 1 0 -2.4 0M268.0 82.7a1.2 1.2 0 1 0 2.4 0a1.2 1.2 0 1 0 -2.4 0M268.5 82.7a1.2 1.2 0 1 0 2.4 0a1.2 1.2 0 1 0 -2.4 0M268.9 79.4a1.2 1.2 0 1 0 2.4 0a1.2 1.2 0 1 0 -2.4 0M269.4 79.4a1.2 1.2 0 1 0 2.4 0a1.2 1.2 0 1 0 -2.4 0M269.8 78.0a1.2 1.2 0 1 0 2.4 0a1.2 1.2 0 1 0 -2.4 0M270.3 75.2a1.2 1.2 0 1 0 2.4 0a1.2 1.2 0 1 0 -2.4 0M270.7 76.5a1.2 1.2 0 1 0 2.4 0a1.2 1.2 0 1 0 -2.4 0M271.2 74.0a1.2 1.2 0 1 0 2.4 0a1.2 1.2 0 1 0 -2.4 0M271.6 74.8a1.2 1.2 0 1 0 2.4 0a1.2 1.2 0 1 0 -2.4 0M272.1 79.2a1.2 1.2 0 1 0 2.4 0a1.2 1.2 0 1 0 -2.4 0M272.5 75.2a1.2 1.2 0 1 0 2.4 0a1.2 1.2 0 1 0 -2.4 0M273.0 73.8a1.2 1.2 0 1 0 2.4 0a1.2 1.2 0 1 0 -2.4 0M273.4 69.2a1.2 1.2 0 1 0 2.4 0a1.2 1.2 0 1 0 -2.4 0M273.9 68.2a1.2 1.2 0 1 0 2.4 0a1.2 1.2 0 1 0 -2.4 0M274.3 67.1a1.2 1.2 0 1 0 2.4 0a1.2 1.2 0 1 0 -2.4 0M274.8 68.8a1.2 1.2 0 1 0 2.4 0a1.2 1.2 0 1 0 -2.4 0M275.2 69.0a1.2 1.2 0 1 0 2.4 0a1.2 1.2 0 1 0 -2.4 0M275.7 69.6a1.2 1.2 0 1 0 2.4 0a1.2 1.2 0 1 0 -2.4 0M276.1 69.3a1.2 1.2 0 1 0 2.4 0a1.2 1.2 0 1 0 -2.4 0M276.6 69.6a1.2 1.2 0 1 0 2.4 0a1.2 1.2 0 1 0 -2.4 0M277.0 67.1a1.2 1.2 0 1 0 2.4 0a1.2 1.2 0 1 0 -2.4 0M277.5 69.0a1.2 1.2 0 1 0 2.4 0a1.2 1.2 0 1 0 -2.4 0M277.9 66.2a1.2 1.2 0 1 0 2.4 0a1.2 1.2 0 1 0 -2.4 0M278.4 66.9a1.2 1.2 0 1 0 2.4 0a1.2 1.2 0 1 0 -2.4 0M278.8 67.4a1.2 1.2 0 1 0 2.4 0a1.2 1.2 0 1 0 -2.4 0M279.3 67.3a1.2 1.2 0 1 0 2.4 0a1.2 1.2 0 1 0 -2.4 0M279.7 66.5a1.2 1.2 0 1 0 2.4 0a1.2 1.2 0 1 0 -2.4 0M280.2 71.3a1.2 1.2 0 1 0 2.4 0a1.2 1.2 0 1 0 -2.4 0M280.6 73.6a1.2 1.2 0 1 0 2.4 0a1.2 1.2 0 1 0 -2.4 0M281.1 74.7a1.2 1.2 0 1 0 2.4 0a1.2 1.2 0 1 0 -2.4 0M281.5 75.7a1.2 1.2 0 1 0 2.4 0a1.2 1.2 0 1 0 -2.4 0M282.0 80.6a1.2 1.2 0 1 0 2.4 0a1.2 1.2 0 1 0 -2.4 0M282.4 79.2a1.2 1.2 0 1 0 2.4 0a1.2 1.2 0 1 0 -2.4 0M282.9 81.9a1.2 1.2 0 1 0 2.4 0a1.2 1.2 0 1 0 -2.4 0M283.3 80.4a1.2 1.2 0 1 0 2.4 0a1.2 1.2 0 1 0 -2.4 0M283.8 81.9a1.2 1.2 0 1 0 2.4 0a1.2 1.2 0 1 0 -2.4 0M284.2 81.9a1.2 1.2 0 1 0 2.4 0a1.2 1.2 0 1 0 -2.4 0M284.7 79.7a1.2 1.2 0 1 0 2.4 0a1.2 1.2 0 1 0 -2.4 0M285.1 82.3a1.2 1.2 0 1 0 2.4 0a1.2 1.2 0 1 0 -2.4 0M285.6 83.5a1.2 1.2 0 1 0 2.4 0a1.2 1.2 0 1 0 -2.4 0M286.0 86.2a1.2 1.2 0 1 0 2.4 0a1.2 1.2 0 1 0 -2.4 0M286.5 81.0a1.2 1.2 0 1 0 2.4 0a1.2 1.2 0 1 0 -2.4 0M286.9 82.3a1.2 1.2 0 1 0 2.4 0a1.2 1.2 0 1 0 -2.4 0M287.4 86.1a1.2 1.2 0 1 0 2.4 0a1.2 1.2 0 1 0 -2.4 0M287.8 83.8a1.2 1.2 0 1 0 2.4 0a1.2 1.2 0 1 0 -2.4 0M288.3 87.0a1.2 1.2 0 1 0 2.4 0a1.2 1.2 0 1 0 -2.4 0M288.7 85.4a1.2 1.2 0 1 0 2.4 0a1.2 1.2 0 1 0 -2.4 0M289.2 86.5a1.2 1.2 0 1 0 2.4 0a1.2 1.2 0 1 0 -2.4 0M289.6 85.4a1.2 1.2 0 1 0 2.4 0a1.2 1.2 0 1 0 -2.4 0M290.1 86.9a1.2 1.2 0 1 0 2.4 0a1.2 1.2 0 1 0 -2.4 0M290.5 87.7a1.2 1.2 0 1 0 2.4 0a1.2 1.2 0 1 0 -2.4 0M291.0 87.6a1.2 1.2 0 1 0 2.4 0a1.2 1.2 0 1 0 -2.4 0M291.4 86.7a1.2 1.2 0 1 0 2.4 0a1.2 1.2 0 1 0 -2.4 0M291.9 88.8a1.2 1.2 0 1 0 2.4 0a1.2 1.2 0 1 0 -2.4 0M292.3 86.4a1.2 1.2 0 1 0 2.4 0a1.2 1.2 0 1 0 -2.4 0M292.8 86.1a1.2 1.2 0 1 0 2.4 0a1.2 1.2 0 1 0 -2.4 0M293.2 88.4a1.2 1.2 0 1 0 2.4 0a1.2 1.2 0 1 0 -2.4 0M293.7 87.4a1.2 1.2 0 1 0 2.4 0a1.2 1.2 0 1 0 -2.4 0M294.1 90.2a1.2 1.2 0 1 0 2.4 0a1.2 1.2 0 1 0 -2.4 0M294.6 89.5a1.2 1.2 0 1 0 2.4 0a1.2 1.2 0 1 0 -2.4 0M295.0 90.5a1.2 1.2 0 1 0 2.4 0a1.2 1.2 0 1 0 -2.4 0M295.5 87.4a1.2 1.2 0 1 0 2.4 0a1.2 1.2 0 1 0 -2.4 0M295.9 89.6a1.2 1.2 0 1 0 2.4 0a1.2 1.2 0 1 0 -2.4 0M296.4 88.3a1.2 1.2 0 1 0 2.4 0a1.2 1.2 0 1 0 -2.4 0M296.8 88.4a1.2 1.2 0 1 0 2.4 0a1.2 1.2 0 1 0 -2.4 0M297.3 91.1a1.2 1.2 0 1 0 2.4 0a1.2 1.2 0 1 0 -2.4 0M297.7 88.5a1.2 1.2 0 1 0 2.4 0a1.2 1.2 0 1 0 -2.4 0M298.2 88.6a1.2 1.2 0 1 0 2.4 0a1.2 1.2 0 1 0 -2.4 0M298.6 90.8a1.2 1.2 0 1 0 2.4 0a1.2 1.2 0 1 0 -2.4 0M299.1 86.5a1.2 1.2 0 1 0 2.4 0a1.2 1.2 0 1 0 -2.4 0M299.5 88.1a1.2 1.2 0 1 0 2.4 0a1.2 1.2 0 1 0 -2.4 0M300.0 91.7a1.2 1.2 0 1 0 2.4 0a1.2 1.2 0 1 0 -2.4 0M300.4 93.5a1.2 1.2 0 1 0 2.4 0a1.2 1.2 0 1 0 -2.4 0M300.9 95.9a1.2 1.2 0 1 0 2.4 0a1.2 1.2 0 1 0 -2.4 0M301.3 94.7a1.2 1.2 0 1 0 2.4 0a1.2 1.2 0 1 0 -2.4 0M301.8 95.2a1.2 1.2 0 1 0 2.4 0a1.2 1.2 0 1 0 -2.4 0M302.2 98.1a1.2 1.2 0 1 0 2.4 0a1.2 1.2 0 1 0 -2.4 0M302.7 98.0a1.2 1.2 0 1 0 2.4 0a1.2 1.2 0 1 0 -2.4 0M303.1 90.7a1.2 1.2 0 1 0 2.4 0a1.2 1.2 0 1 0 -2.4 0M303.6 90.4a1.2 1.2 0 1 0 2.4 0a1.2 1.2 0 1 0 -2.4 0M304.0 89.9a1.2 1.2 0 1 0 2.4 0a1.2 1.2 0 1 0 -2.4 0M304.5 89.7a1.2 1.2 0 1 0 2.4 0a1.2 1.2 0 1 0 -2.4 0M304.9 90.8a1.2 1.2 0 1 0 2.4 0a1.2 1.2 0 1 0 -2.4 0M305.4 86.6a1.2 1.2 0 1 0 2.4 0a1.2 1.2 0 1 0 -2.4 0M305.8 89.9a1.2 1.2 0 1 0 2.4 0a1.2 1.2 0 1 0 -2.4 0M306.3 88.1a1.2 1.2 0 1 0 2.4 0a1.2 1.2 0 1 0 -2.4 0M306.7 86.3a1.2 1.2 0 1 0 2.4 0a1.2 1.2 0 1 0 -2.4 0M307.2 91.3a1.2 1.2 0 1 0 2.4 0a1.2 1.2 0 1 0 -2.4 0M307.6 90.1a1.2 1.2 0 1 0 2.4 0a1.2 1.2 0 1 0 -2.4 0M308.1 88.5a1.2 1.2 0 1 0 2.4 0a1.2 1.2 0 1 0 -2.4 0M308.5 86.3a1.2 1.2 0 1 0 2.4 0a1.2 1.2 0 1 0 -2.4 0M309.0 82.2a1.2 1.2 0 1 0 2.4 0a1.2 1.2 0 1 0 -2.4 0M309.4 84.8a1.2 1.2 0 1 0 2.4 0a1.2 1.2 0 1 0 -2.4 0M309.9 88.8a1.2 1.2 0 1 0 2.4 0a1.2 1.2 0 1 0 -2.4 0M310.3 88.5a1.2 1.2 0 1 0 2.4 0a1.2 1.2 0 1 0 -2.4 0M310.8 83.0a1.2 1.2 0 1 0 2.4 0a1.2 1.2 0 1 0 -2.4 0M311.2 84.8a1.2 1.2 0 1 0 2.4 0a1.2 1.2 0 1 0 -2.4 0M311.7 84.1a1.2 1.2 0 1 0 2.4 0a1.2 1.2 0 1 0 -2.4 0M312.1 85.3a1.2 1.2 0 1 0 2.4 0a1.2 1.2 0 1 0 -2.4 0M312.6 84.1a1.2 1.2 0 1 0 2.4 0a1.2 1.2 0 1 0 -2.4 0M313.0 82.0a1.2 1.2 0 1 0 2.4 0a1.2 1.2 0 1 0 -2.4 0M313.5 83.9a1.2 1.2 0 1 0 2.4 0a1.2 1.2 0 1 0 -2.4 0M313.9 81.9a1.2 1.2 0 1 0 2.4 0a1.2 1.2 0 1 0 -2.4 0M314.4 78.6a1.2 1.2 0 1 0 2.4 0a1.2 1.2 0 1 0 -2.4 0M314.8 79.8a1.2 1.2 0 1 0 2.4 0a1.2 1.2 0 1 0 -2.4 0M315.3 82.7a1.2 1.2 0 1 0 2.4 0a1.2 1.2 0 1 0 -2.4 0M315.7 80.0a1.2 1.2 0 1 0 2.4 0a1.2 1.2 0 1 0 -2.4 0M316.2 82.7a1.2 1.2 0 1 0 2.4 0a1.2 1.2 0 1 0 -2.4 0M316.6 79.7a1.2 1.2 0 1 0 2.4 0a1.2 1.2 0 1 0 -2.4 0M317.1 80.4a1.2 1.2 0 1 0 2.4 0a1.2 1.2 0 1 0 -2.4 0M317.5 78.3a1.2 1.2 0 1 0 2.4 0a1.2 1.2 0 1 0 -2.4 0M318.0 76.7a1.2 1.2 0 1 0 2.4 0a1.2 1.2 0 1 0 -2.4 0M318.4 75.9a1.2 1.2 0 1 0 2.4 0a1.2 1.2 0 1 0 -2.4 0M318.9 73.6a1.2 1.2 0 1 0 2.4 0a1.2 1.2 0 1 0 -2.4 0M319.3 73.8a1.2 1.2 0 1 0 2.4 0a1.2 1.2 0 1 0 -2.4 0M319.8 71.1a1.2 1.2 0 1 0 2.4 0a1.2 1.2 0 1 0 -2.4 0M320.2 73.1a1.2 1.2 0 1 0 2.4 0a1.2 1.2 0 1 0 -2.4 0M320.7 72.0a1.2 1.2 0 1 0 2.4 0a1.2 1.2 0 1 0 -2.4 0M321.1 70.0a1.2 1.2 0 1 0 2.4 0a1.2 1.2 0 1 0 -2.4 0M321.6 69.0a1.2 1.2 0 1 0 2.4 0a1.2 1.2 0 1 0 -2.4 0M322.0 73.6a1.2 1.2 0 1 0 2.4 0a1.2 1.2 0 1 0 -2.4 0M322.5 70.8a1.2 1.2 0 1 0 2.4 0a1.2 1.2 0 1 0 -2.4 0M322.9 70.7a1.2 1.2 0 1 0 2.4 0a1.2 1.2 0 1 0 -2.4 0M323.4 69.6a1.2 1.2 0 1 0 2.4 0a1.2 1.2 0 1 0 -2.4 0M323.8 69.6a1.2 1.2 0 1 0 2.4 0a1.2 1.2 0 1 0 -2.4 0M324.3 65.0a1.2 1.2 0 1 0 2.4 0a1.2 1.2 0 1 0 -2.4 0M324.7 70.4a1.2 1.2 0 1 0 2.4 0a1.2 1.2 0 1 0 -2.4 0M325.2 67.6a1.2 1.2 0 1 0 2.4 0a1.2 1.2 0 1 0 -2.4 0M325.6 67.3a1.2 1.2 0 1 0 2.4 0a1.2 1.2 0 1 0 -2.4 0M326.1 65.5a1.2 1.2 0 1 0 2.4 0a1.2 1.2 0 1 0 -2.4 0M326.5 64.6a1.2 1.2 0 1 0 2.4 0a1.2 1.2 0 1 0 -2.4 0M327.0 63.0a1.2 1.2 0 1 0 2.4 0a1.2 1.2 0 1 0 -2.4 0M327.4 63.7a1.2 1.2 0 1 0 2.4 0a1.2 1.2 0 1 0 -2.4 0M327.9 64.7a1.2 1.2 0 1 0 2.4 0a1.2 1.2 0 1 0 -2.4 0M328.3 65.8a1.2 1.2 0 1 0 2.4 0a1.2 1.2 0 1 0 -2.4 0M328.8 63.0a1.2 1.2 0 1 0 2.4 0a1.2 1.2 0 1 0 -2.4 0M329.2 64.2a1.2 1.2 0 1 0 2.4 0a1.2 1.2 0 1 0 -2.4 0M329.7 63.9a1.2 1.2 0 1 0 2.4 0a1.2 1.2 0 1 0 -2.4 0M330.1 66.0a1.2 1.2 0 1 0 2.4 0a1.2 1.2 0 1 0 -2.4 0M330.6 64.5a1.2 1.2 0 1 0 2.4 0a1.2 1.2 0 1 0 -2.4 0M331.0 66.0a1.2 1.2 0 1 0 2.4 0a1.2 1.2 0 1 0 -2.4 0M331.5 66.5a1.2 1.2 0 1 0 2.4 0a1.2 1.2 0 1 0 -2.4 0M331.9 63.9a1.2 1.2 0 1 0 2.4 0a1.2 1.2 0 1 0 -2.4 0M332.4 61.8a1.2 1.2 0 1 0 2.4 0a1.2 1.2 0 1 0 -2.4 0M332.8 64.3a1.2 1.2 0 1 0 2.4 0a1.2 1.2 0 1 0 -2.4 0M333.3 64.6a1.2 1.2 0 1 0 2.4 0a1.2 1.2 0 1 0 -2.4 0M333.7 63.0a1.2 1.2 0 1 0 2.4 0a1.2 1.2 0 1 0 -2.4 0M334.2 63.2a1.2 1.2 0 1 0 2.4 0a1.2 1.2 0 1 0 -2.4 0M334.6 65.1a1.2 1.2 0 1 0 2.4 0a1.2 1.2 0 1 0 -2.4 0M335.1 68.5a1.2 1.2 0 1 0 2.4 0a1.2 1.2 0 1 0 -2.4 0M335.5 72.2a1.2 1.2 0 1 0 2.4 0a1.2 1.2 0 1 0 -2.4 0M336.0 71.1a1.2 1.2 0 1 0 2.4 0a1.2 1.2 0 1 0 -2.4 0M336.4 75.8a1.2 1.2 0 1 0 2.4 0a1.2 1.2 0 1 0 -2.4 0M336.9 75.2a1.2 1.2 0 1 0 2.4 0a1.2 1.2 0 1 0 -2.4 0M337.3 80.8a1.2 1.2 0 1 0 2.4 0a1.2 1.2 0 1 0 -2.4 0M337.8 78.7a1.2 1.2 0 1 0 2.4 0a1.2 1.2 0 1 0 -2.4 0M338.2 83.5a1.2 1.2 0 1 0 2.4 0a1.2 1.2 0 1 0 -2.4 0M338.7 87.3a1.2 1.2 0 1 0 2.4 0a1.2 1.2 0 1 0 -2.4 0M339.1 85.8a1.2 1.2 0 1 0 2.4 0a1.2 1.2 0 1 0 -2.4 0M339.6 90.5a1.2 1.2 0 1 0 2.4 0a1.2 1.2 0 1 0 -2.4 0M340.0 92.0a1.2 1.2 0 1 0 2.4 0a1.2 1.2 0 1 0 -2.4 0M340.5 90.8a1.2 1.2 0 1 0 2.4 0a1.2 1.2 0 1 0 -2.4 0M340.9 89.3a1.2 1.2 0 1 0 2.4 0a1.2 1.2 0 1 0 -2.4 0M341.4 92.4a1.2 1.2 0 1 0 2.4 0a1.2 1.2 0 1 0 -2.4 0M341.8 92.9a1.2 1.2 0 1 0 2.4 0a1.2 1.2 0 1 0 -2.4 0M342.3 95.8a1.2 1.2 0 1 0 2.4 0a1.2 1.2 0 1 0 -2.4 0M342.7 95.1a1.2 1.2 0 1 0 2.4 0a1.2 1.2 0 1 0 -2.4 0M343.2 92.6a1.2 1.2 0 1 0 2.4 0a1.2 1.2 0 1 0 -2.4 0M343.6 88.2a1.2 1.2 0 1 0 2.4 0a1.2 1.2 0 1 0 -2.4 0M344.1 85.5a1.2 1.2 0 1 0 2.4 0a1.2 1.2 0 1 0 -2.4 0M344.5 87.4a1.2 1.2 0 1 0 2.4 0a1.2 1.2 0 1 0 -2.4 0M345.0 80.1a1.2 1.2 0 1 0 2.4 0a1.2 1.2 0 1 0 -2.4 0M345.4 79.3a1.2 1.2 0 1 0 2.4 0a1.2 1.2 0 1 0 -2.4 0M345.9 72.8a1.2 1.2 0 1 0 2.4 0a1.2 1.2 0 1 0 -2.4 0M346.3 70.7a1.2 1.2 0 1 0 2.4 0a1.2 1.2 0 1 0 -2.4 0M346.8 72.6a1.2 1.2 0 1 0 2.4 0a1.2 1.2 0 1 0 -2.4 0M347.2 68.2a1.2 1.2 0 1 0 2.4 0a1.2 1.2 0 1 0 -2.4 0M347.7 68.8a1.2 1.2 0 1 0 2.4 0a1.2 1.2 0 1 0 -2.4 0M348.1 70.4a1.2 1.2 0 1 0 2.4 0a1.2 1.2 0 1 0 -2.4 0M348.6 68.9a1.2 1.2 0 1 0 2.4 0a1.2 1.2 0 1 0 -2.4 0M349.0 73.0a1.2 1.2 0 1 0 2.4 0a1.2 1.2 0 1 0 -2.4 0M349.5 72.7a1.2 1.2 0 1 0 2.4 0a1.2 1.2 0 1 0 -2.4 0M349.9 69.9a1.2 1.2 0 1 0 2.4 0a1.2 1.2 0 1 0 -2.4 0M350.4 68.7a1.2 1.2 0 1 0 2.4 0a1.2 1.2 0 1 0 -2.4 0M350.8 74.1a1.2 1.2 0 1 0 2.4 0a1.2 1.2 0 1 0 -2.4 0M351.3 73.4a1.2 1.2 0 1 0 2.4 0a1.2 1.2 0 1 0 -2.4 0M351.7 70.4a1.2 1.2 0 1 0 2.4 0a1.2 1.2 0 1 0 -2.4 0M352.2 67.2a1.2 1.2 0 1 0 2.4 0a1.2 1.2 0 1 0 -2.4 0M352.6 66.2a1.2 1.2 0 1 0 2.4 0a1.2 1.2 0 1 0 -2.4 0M353.1 69.6a1.2 1.2 0 1 0 2.4 0a1.2 1.2 0 1 0 -2.4 0M353.5 71.0a1.2 1.2 0 1 0 2.4 0a1.2 1.2 0 1 0 -2.4 0M354.0 69.5a1.2 1.2 0 1 0 2.4 0a1.2 1.2 0 1 0 -2.4 0M354.4 67.1a1.2 1.2 0 1 0 2.4 0a1.2 1.2 0 1 0 -2.4 0M354.9 62.4a1.2 1.2 0 1 0 2.4 0a1.2 1.2 0 1 0 -2.4 0M355.3 62.8a1.2 1.2 0 1 0 2.4 0a1.2 1.2 0 1 0 -2.4 0M355.8 68.0a1.2 1.2 0 1 0 2.4 0a1.2 1.2 0 1 0 -2.4 0M356.2 65.5a1.2 1.2 0 1 0 2.4 0a1.2 1.2 0 1 0 -2.4 0M356.7 65.5a1.2 1.2 0 1 0 2.4 0a1.2 1.2 0 1 0 -2.4 0M357.1 67.8a1.2 1.2 0 1 0 2.4 0a1.2 1.2 0 1 0 -2.4 0M357.6 67.5a1.2 1.2 0 1 0 2.4 0a1.2 1.2 0 1 0 -2.4 0M358.0 67.4a1.2 1.2 0 1 0 2.4 0a1.2 1.2 0 1 0 -2.4 0M358.5 70.0a1.2 1.2 0 1 0 2.4 0a1.2 1.2 0 1 0 -2.4 0M358.9 72.3a1.2 1.2 0 1 0 2.4 0a1.2 1.2 0 1 0 -2.4 0M359.4 69.0a1.2 1.2 0 1 0 2.4 0a1.2 1.2 0 1 0 -2.4 0M359.8 69.3a1.2 1.2 0 1 0 2.4 0a1.2 1.2 0 1 0 -2.4 0M360.3 70.6a1.2 1.2 0 1 0 2.4 0a1.2 1.2 0 1 0 -2.4 0M360.7 70.3a1.2 1.2 0 1 0 2.4 0a1.2 1.2 0 1 0 -2.4 0M361.2 70.5a1.2 1.2 0 1 0 2.4 0a1.2 1.2 0 1 0 -2.4 0M361.6 71.4a1.2 1.2 0 1 0 2.4 0a1.2 1.2 0 1 0 -2.4 0M362.1 73.2a1.2 1.2 0 1 0 2.4 0a1.2 1.2 0 1 0 -2.4 0M362.5 70.6a1.2 1.2 0 1 0 2.4 0a1.2 1.2 0 1 0 -2.4 0M363.0 69.1a1.2 1.2 0 1 0 2.4 0a1.2 1.2 0 1 0 -2.4 0M363.4 72.4a1.2 1.2 0 1 0 2.4 0a1.2 1.2 0 1 0 -2.4 0M363.9 67.6a1.2 1.2 0 1 0 2.4 0a1.2 1.2 0 1 0 -2.4 0M364.3 71.7a1.2 1.2 0 1 0 2.4 0a1.2 1.2 0 1 0 -2.4 0M364.8 71.0a1.2 1.2 0 1 0 2.4 0a1.2 1.2 0 1 0 -2.4 0M365.2 72.6a1.2 1.2 0 1 0 2.4 0a1.2 1.2 0 1 0 -2.4 0M365.7 70.6a1.2 1.2 0 1 0 2.4 0a1.2 1.2 0 1 0 -2.4 0M366.1 72.7a1.2 1.2 0 1 0 2.4 0a1.2 1.2 0 1 0 -2.4 0M366.6 73.2a1.2 1.2 0 1 0 2.4 0a1.2 1.2 0 1 0 -2.4 0M367.0 72.5a1.2 1.2 0 1 0 2.4 0a1.2 1.2 0 1 0 -2.4 0M367.5 66.5a1.2 1.2 0 1 0 2.4 0a1.2 1.2 0 1 0 -2.4 0M367.9 64.5a1.2 1.2 0 1 0 2.4 0a1.2 1.2 0 1 0 -2.4 0M368.4 63.9a1.2 1.2 0 1 0 2.4 0a1.2 1.2 0 1 0 -2.4 0M368.8 68.0a1.2 1.2 0 1 0 2.4 0a1.2 1.2 0 1 0 -2.4 0M369.3 69.5a1.2 1.2 0 1 0 2.4 0a1.2 1.2 0 1 0 -2.4 0M369.7 65.4a1.2 1.2 0 1 0 2.4 0a1.2 1.2 0 1 0 -2.4 0M370.2 68.0a1.2 1.2 0 1 0 2.4 0a1.2 1.2 0 1 0 -2.4 0M370.6 70.0a1.2 1.2 0 1 0 2.4 0a1.2 1.2 0 1 0 -2.4 0M371.1 67.3a1.2 1.2 0 1 0 2.4 0a1.2 1.2 0 1 0 -2.4 0M371.5 69.1a1.2 1.2 0 1 0 2.4 0a1.2 1.2 0 1 0 -2.4 0M372.0 70.2a1.2 1.2 0 1 0 2.4 0a1.2 1.2 0 1 0 -2.4 0M372.4 63.8a1.2 1.2 0 1 0 2.4 0a1.2 1.2 0 1 0 -2.4 0M372.9 67.5a1.2 1.2 0 1 0 2.4 0a1.2 1.2 0 1 0 -2.4 0M373.3 63.1a1.2 1.2 0 1 0 2.4 0a1.2 1.2 0 1 0 -2.4 0M373.8 66.8a1.2 1.2 0 1 0 2.4 0a1.2 1.2 0 1 0 -2.4 0M374.2 64.0a1.2 1.2 0 1 0 2.4 0a1.2 1.2 0 1 0 -2.4 0M374.7 64.6a1.2 1.2 0 1 0 2.4 0a1.2 1.2 0 1 0 -2.4 0M375.1 62.4a1.2 1.2 0 1 0 2.4 0a1.2 1.2 0 1 0 -2.4 0M375.6 65.5a1.2 1.2 0 1 0 2.4 0a1.2 1.2 0 1 0 -2.4 0M376.0 61.0a1.2 1.2 0 1 0 2.4 0a1.2 1.2 0 1 0 -2.4 0M376.5 63.8a1.2 1.2 0 1 0 2.4 0a1.2 1.2 0 1 0 -2.4 0M376.9 67.6a1.2 1.2 0 1 0 2.4 0a1.2 1.2 0 1 0 -2.4 0M377.4 63.5a1.2 1.2 0 1 0 2.4 0a1.2 1.2 0 1 0 -2.4 0M377.8 65.2a1.2 1.2 0 1 0 2.4 0a1.2 1.2 0 1 0 -2.4 0M378.3 61.4a1.2 1.2 0 1 0 2.4 0a1.2 1.2 0 1 0 -2.4 0M378.7 60.2a1.2 1.2 0 1 0 2.4 0a1.2 1.2 0 1 0 -2.4 0M379.2 62.0a1.2 1.2 0 1 0 2.4 0a1.2 1.2 0 1 0 -2.4 0M379.6 60.4a1.2 1.2 0 1 0 2.4 0a1.2 1.2 0 1 0 -2.4 0M380.1 62.2a1.2 1.2 0 1 0 2.4 0a1.2 1.2 0 1 0 -2.4 0M380.5 62.7a1.2 1.2 0 1 0 2.4 0a1.2 1.2 0 1 0 -2.4 0M381.0 64.8a1.2 1.2 0 1 0 2.4 0a1.2 1.2 0 1 0 -2.4 0M381.4 63.0a1.2 1.2 0 1 0 2.4 0a1.2 1.2 0 1 0 -2.4 0M381.9 65.6a1.2 1.2 0 1 0 2.4 0a1.2 1.2 0 1 0 -2.4 0M382.3 62.4a1.2 1.2 0 1 0 2.4 0a1.2 1.2 0 1 0 -2.4 0M382.8 59.6a1.2 1.2 0 1 0 2.4 0a1.2 1.2 0 1 0 -2.4 0M383.2 59.1a1.2 1.2 0 1 0 2.4 0a1.2 1.2 0 1 0 -2.4 0M383.7 64.9a1.2 1.2 0 1 0 2.4 0a1.2 1.2 0 1 0 -2.4 0M384.1 63.5a1.2 1.2 0 1 0 2.4 0a1.2 1.2 0 1 0 -2.4 0M384.6 59.5a1.2 1.2 0 1 0 2.4 0a1.2 1.2 0 1 0 -2.4 0M385.0 56.8a1.2 1.2 0 1 0 2.4 0a1.2 1.2 0 1 0 -2.4 0M385.5 59.2a1.2 1.2 0 1 0 2.4 0a1.2 1.2 0 1 0 -2.4 0M385.9 57.8a1.2 1.2 0 1 0 2.4 0a1.2 1.2 0 1 0 -2.4 0M386.4 54.5a1.2 1.2 0 1 0 2.4 0a1.2 1.2 0 1 0 -2.4 0M386.8 58.7a1.2 1.2 0 1 0 2.4 0a1.2 1.2 0 1 0 -2.4 0M387.3 56.4a1.2 1.2 0 1 0 2.4 0a1.2 1.2 0 1 0 -2.4 0M387.7 54.6a1.2 1.2 0 1 0 2.4 0a1.2 1.2 0 1 0 -2.4 0M388.2 57.2a1.2 1.2 0 1 0 2.4 0a1.2 1.2 0 1 0 -2.4 0M388.6 56.0a1.2 1.2 0 1 0 2.4 0a1.2 1.2 0 1 0 -2.4 0M389.1 55.3a1.2 1.2 0 1 0 2.4 0a1.2 1.2 0 1 0 -2.4 0M389.5 56.2a1.2 1.2 0 1 0 2.4 0a1.2 1.2 0 1 0 -2.4 0M390.0 55.6a1.2 1.2 0 1 0 2.4 0a1.2 1.2 0 1 0 -2.4 0M390.4 55.5a1.2 1.2 0 1 0 2.4 0a1.2 1.2 0 1 0 -2.4 0M390.9 55.9a1.2 1.2 0 1 0 2.4 0a1.2 1.2 0 1 0 -2.4 0M391.3 52.2a1.2 1.2 0 1 0 2.4 0a1.2 1.2 0 1 0 -2.4 0M391.8 50.9a1.2 1.2 0 1 0 2.4 0a1.2 1.2 0 1 0 -2.4 0M392.2 51.1a1.2 1.2 0 1 0 2.4 0a1.2 1.2 0 1 0 -2.4 0M392.7 47.4a1.2 1.2 0 1 0 2.4 0a1.2 1.2 0 1 0 -2.4 0M393.1 47.6a1.2 1.2 0 1 0 2.4 0a1.2 1.2 0 1 0 -2.4 0M393.6 45.9a1.2 1.2 0 1 0 2.4 0a1.2 1.2 0 1 0 -2.4 0M394.0 49.1a1.2 1.2 0 1 0 2.4 0a1.2 1.2 0 1 0 -2.4 0M394.5 47.7a1.2 1.2 0 1 0 2.4 0a1.2 1.2 0 1 0 -2.4 0M394.9 46.5a1.2 1.2 0 1 0 2.4 0a1.2 1.2 0 1 0 -2.4 0M395.4 48.7a1.2 1.2 0 1 0 2.4 0a1.2 1.2 0 1 0 -2.4 0M395.8 45.1a1.2 1.2 0 1 0 2.4 0a1.2 1.2 0 1 0 -2.4 0M396.3 44.3a1.2 1.2 0 1 0 2.4 0a1.2 1.2 0 1 0 -2.4 0M396.7 42.3a1.2 1.2 0 1 0 2.4 0a1.2 1.2 0 1 0 -2.4 0M397.2 42.0a1.2 1.2 0 1 0 2.4 0a1.2 1.2 0 1 0 -2.4 0M397.6 43.3a1.2 1.2 0 1 0 2.4 0a1.2 1.2 0 1 0 -2.4 0M398.1 40.7a1.2 1.2 0 1 0 2.4 0a1.2 1.2 0 1 0 -2.4 0M398.5 42.3a1.2 1.2 0 1 0 2.4 0a1.2 1.2 0 1 0 -2.4 0M399.0 43.8a1.2 1.2 0 1 0 2.4 0a1.2 1.2 0 1 0 -2.4 0M399.4 42.2a1.2 1.2 0 1 0 2.4 0a1.2 1.2 0 1 0 -2.4 0M399.9 43.2a1.2 1.2 0 1 0 2.4 0a1.2 1.2 0 1 0 -2.4 0M400.3 40.5a1.2 1.2 0 1 0 2.4 0a1.2 1.2 0 1 0 -2.4 0M400.8 38.7a1.2 1.2 0 1 0 2.4 0a1.2 1.2 0 1 0 -2.4 0M401.2 39.5a1.2 1.2 0 1 0 2.4 0a1.2 1.2 0 1 0 -2.4 0M401.7 37.9a1.2 1.2 0 1 0 2.4 0a1.2 1.2 0 1 0 -2.4 0M402.1 41.1a1.2 1.2 0 1 0 2.4 0a1.2 1.2 0 1 0 -2.4 0M402.6 43.0a1.2 1.2 0 1 0 2.4 0a1.2 1.2 0 1 0 -2.4 0M403.0 36.5a1.2 1.2 0 1 0 2.4 0a1.2 1.2 0 1 0 -2.4 0M403.5 38.9a1.2 1.2 0 1 0 2.4 0a1.2 1.2 0 1 0 -2.4 0M403.9 36.3a1.2 1.2 0 1 0 2.4 0a1.2 1.2 0 1 0 -2.4 0M404.4 38.6a1.2 1.2 0 1 0 2.4 0a1.2 1.2 0 1 0 -2.4 0M404.8 34.9a1.2 1.2 0 1 0 2.4 0a1.2 1.2 0 1 0 -2.4 0M405.3 36.5a1.2 1.2 0 1 0 2.4 0a1.2 1.2 0 1 0 -2.4 0M405.7 33.1a1.2 1.2 0 1 0 2.4 0a1.2 1.2 0 1 0 -2.4 0M406.2 34.4a1.2 1.2 0 1 0 2.4 0a1.2 1.2 0 1 0 -2.4 0M406.6 34.7a1.2 1.2 0 1 0 2.4 0a1.2 1.2 0 1 0 -2.4 0M407.1 31.4a1.2 1.2 0 1 0 2.4 0a1.2 1.2 0 1 0 -2.4 0M407.5 36.0a1.2 1.2 0 1 0 2.4 0a1.2 1.2 0 1 0 -2.4 0M408.0 34.2a1.2 1.2 0 1 0 2.4 0a1.2 1.2 0 1 0 -2.4 0M408.4 37.4a1.2 1.2 0 1 0 2.4 0a1.2 1.2 0 1 0 -2.4 0M408.9 36.5a1.2 1.2 0 1 0 2.4 0a1.2 1.2 0 1 0 -2.4 0M409.3 36.9a1.2 1.2 0 1 0 2.4 0a1.2 1.2 0 1 0 -2.4 0M409.8 36.6a1.2 1.2 0 1 0 2.4 0a1.2 1.2 0 1 0 -2.4 0M410.2 31.3a1.2 1.2 0 1 0 2.4 0a1.2 1.2 0 1 0 -2.4 0M410.7 34.1a1.2 1.2 0 1 0 2.4 0a1.2 1.2 0 1 0 -2.4 0M411.1 33.3a1.2 1.2 0 1 0 2.4 0a1.2 1.2 0 1 0 -2.4 0M411.6 31.8a1.2 1.2 0 1 0 2.4 0a1.2 1.2 0 1 0 -2.4 0M412.0 29.8a1.2 1.2 0 1 0 2.4 0a1.2 1.2 0 1 0 -2.4 0M412.5 32.7a1.2 1.2 0 1 0 2.4 0a1.2 1.2 0 1 0 -2.4 0M412.9 30.5a1.2 1.2 0 1 0 2.4 0a1.2 1.2 0 1 0 -2.4 0M413.4 29.2a1.2 1.2 0 1 0 2.4 0a1.2 1.2 0 1 0 -2.4 0M413.8 31.6a1.2 1.2 0 1 0 2.4 0a1.2 1.2 0 1 0 -2.4 0M414.3 29.4a1.2 1.2 0 1 0 2.4 0a1.2 1.2 0 1 0 -2.4 0M414.7 29.0a1.2 1.2 0 1 0 2.4 0a1.2 1.2 0 1 0 -2.4 0M415.2 31.2a1.2 1.2 0 1 0 2.4 0a1.2 1.2 0 1 0 -2.4 0M415.6 31.0a1.2 1.2 0 1 0 2.4 0a1.2 1.2 0 1 0 -2.4 0M416.1 26.9a1.2 1.2 0 1 0 2.4 0a1.2 1.2 0 1 0 -2.4 0M416.5 27.8a1.2 1.2 0 1 0 2.4 0a1.2 1.2 0 1 0 -2.4 0M417.0 23.4a1.2 1.2 0 1 0 2.4 0a1.2 1.2 0 1 0 -2.4 0M417.4 24.0a1.2 1.2 0 1 0 2.4 0a1.2 1.2 0 1 0 -2.4 0M417.9 22.8a1.2 1.2 0 1 0 2.4 0a1.2 1.2 0 1 0 -2.4 0M418.3 24.2a1.2 1.2 0 1 0 2.4 0a1.2 1.2 0 1 0 -2.4 0M418.8 28.4a1.2 1.2 0 1 0 2.4 0a1.2 1.2 0 1 0 -2.4 0M419.2 27.9a1.2 1.2 0 1 0 2.4 0a1.2 1.2 0 1 0 -2.4 0M419.7 23.4a1.2 1.2 0 1 0 2.4 0a1.2 1.2 0 1 0 -2.4 0M420.1 27.6a1.2 1.2 0 1 0 2.4 0a1.2 1.2 0 1 0 -2.4 0M420.6 25.7a1.2 1.2 0 1 0 2.4 0a1.2 1.2 0 1 0 -2.4 0M421.0 27.2a1.2 1.2 0 1 0 2.4 0a1.2 1.2 0 1 0 -2.4 0M421.5 28.0a1.2 1.2 0 1 0 2.4 0a1.2 1.2 0 1 0 -2.4 0M421.9 25.7a1.2 1.2 0 1 0 2.4 0a1.2 1.2 0 1 0 -2.4 0M422.4 30.5a1.2 1.2 0 1 0 2.4 0a1.2 1.2 0 1 0 -2.4 0M422.8 26.1a1.2 1.2 0 1 0 2.4 0a1.2 1.2 0 1 0 -2.4 0M423.3 28.5a1.2 1.2 0 1 0 2.4 0a1.2 1.2 0 1 0 -2.4 0M423.7 26.6a1.2 1.2 0 1 0 2.4 0a1.2 1.2 0 1 0 -2.4 0M424.2 31.8a1.2 1.2 0 1 0 2.4 0a1.2 1.2 0 1 0 -2.4 0M424.6 29.4a1.2 1.2 0 1 0 2.4 0a1.2 1.2 0 1 0 -2.4 0M425.1 28.5a1.2 1.2 0 1 0 2.4 0a1.2 1.2 0 1 0 -2.4 0M425.5 28.3a1.2 1.2 0 1 0 2.4 0a1.2 1.2 0 1 0 -2.4 0M426.0 32.4a1.2 1.2 0 1 0 2.4 0a1.2 1.2 0 1 0 -2.4 0M426.4 26.1a1.2 1.2 0 1 0 2.4 0a1.2 1.2 0 1 0 -2.4 0M426.9 26.5a1.2 1.2 0 1 0 2.4 0a1.2 1.2 0 1 0 -2.4 0M427.3 27.8a1.2 1.2 0 1 0 2.4 0a1.2 1.2 0 1 0 -2.4 0M427.8 30.0a1.2 1.2 0 1 0 2.4 0a1.2 1.2 0 1 0 -2.4 0M428.2 28.6a1.2 1.2 0 1 0 2.4 0a1.2 1.2 0 1 0 -2.4 0M428.7 32.9a1.2 1.2 0 1 0 2.4 0a1.2 1.2 0 1 0 -2.4 0M429.1 31.4a1.2 1.2 0 1 0 2.4 0a1.2 1.2 0 1 0 -2.4 0M429.6 31.9a1.2 1.2 0 1 0 2.4 0a1.2 1.2 0 1 0 -2.4 0M430.0 30.9a1.2 1.2 0 1 0 2.4 0a1.2 1.2 0 1 0 -2.4 0M430.5 30.1a1.2 1.2 0 1 0 2.4 0a1.2 1.2 0 1 0 -2.4 0M430.9 27.1a1.2 1.2 0 1 0 2.4 0a1.2 1.2 0 1 0 -2.4 0M431.4 26.4a1.2 1.2 0 1 0 2.4 0a1.2 1.2 0 1 0 -2.4 0M431.8 29.6a1.2 1.2 0 1 0 2.4 0a1.2 1.2 0 1 0 -2.4 0M432.3 31.0a1.2 1.2 0 1 0 2.4 0a1.2 1.2 0 1 0 -2.4 0M432.7 28.7a1.2 1.2 0 1 0 2.4 0a1.2 1.2 0 1 0 -2.4 0M433.2 31.6a1.2 1.2 0 1 0 2.4 0a1.2 1.2 0 1 0 -2.4 0M433.6 30.5a1.2 1.2 0 1 0 2.4 0a1.2 1.2 0 1 0 -2.4 0M434.1 27.3a1.2 1.2 0 1 0 2.4 0a1.2 1.2 0 1 0 -2.4 0M434.5 31.3a1.2 1.2 0 1 0 2.4 0a1.2 1.2 0 1 0 -2.4 0M435.0 27.3a1.2 1.2 0 1 0 2.4 0a1.2 1.2 0 1 0 -2.4 0M435.4 28.1a1.2 1.2 0 1 0 2.4 0a1.2 1.2 0 1 0 -2.4 0M435.9 27.8a1.2 1.2 0 1 0 2.4 0a1.2 1.2 0 1 0 -2.4 0M436.3 26.3a1.2 1.2 0 1 0 2.4 0a1.2 1.2 0 1 0 -2.4 0M436.8 29.6a1.2 1.2 0 1 0 2.4 0a1.2 1.2 0 1 0 -2.4 0M437.2 29.4a1.2 1.2 0 1 0 2.4 0a1.2 1.2 0 1 0 -2.4 0M437.7 28.5a1.2 1.2 0 1 0 2.4 0a1.2 1.2 0 1 0 -2.4 0M438.1 28.2a1.2 1.2 0 1 0 2.4 0a1.2 1.2 0 1 0 -2.4 0M438.6 29.4a1.2 1.2 0 1 0 2.4 0a1.2 1.2 0 1 0 -2.4 0M439.0 27.9a1.2 1.2 0 1 0 2.4 0a1.2 1.2 0 1 0 -2.4 0M439.5 30.4a1.2 1.2 0 1 0 2.4 0a1.2 1.2 0 1 0 -2.4 0M439.9 27.4a1.2 1.2 0 1 0 2.4 0a1.2 1.2 0 1 0 -2.4 0M440.4 27.0a1.2 1.2 0 1 0 2.4 0a1.2 1.2 0 1 0 -2.4 0M440.8 27.9a1.2 1.2 0 1 0 2.4 0a1.2 1.2 0 1 0 -2.4 0M441.3 24.7a1.2 1.2 0 1 0 2.4 0a1.2 1.2 0 1 0 -2.4 0M441.7 24.9a1.2 1.2 0 1 0 2.4 0a1.2 1.2 0 1 0 -2.4 0M442.2 29.9a1.2 1.2 0 1 0 2.4 0a1.2 1.2 0 1 0 -2.4 0M442.6 28.7a1.2 1.2 0 1 0 2.4 0a1.2 1.2 0 1 0 -2.4 0M443.1 28.0a1.2 1.2 0 1 0 2.4 0a1.2 1.2 0 1 0 -2.4 0M443.5 30.1a1.2 1.2 0 1 0 2.4 0a1.2 1.2 0 1 0 -2.4 0M444.0 28.3a1.2 1.2 0 1 0 2.4 0a1.2 1.2 0 1 0 -2.4 0M444.4 32.3a1.2 1.2 0 1 0 2.4 0a1.2 1.2 0 1 0 -2.4 0M444.9 30.7a1.2 1.2 0 1 0 2.4 0a1.2 1.2 0 1 0 -2.4 0M445.3 31.1a1.2 1.2 0 1 0 2.4 0a1.2 1.2 0 1 0 -2.4 0M445.8 33.4a1.2 1.2 0 1 0 2.4 0a1.2 1.2 0 1 0 -2.4 0M446.2 28.7a1.2 1.2 0 1 0 2.4 0a1.2 1.2 0 1 0 -2.4 0M446.7 32.5a1.2 1.2 0 1 0 2.4 0a1.2 1.2 0 1 0 -2.4 0M447.1 28.5a1.2 1.2 0 1 0 2.4 0a1.2 1.2 0 1 0 -2.4 0M447.6 29.3a1.2 1.2 0 1 0 2.4 0a1.2 1.2 0 1 0 -2.4 0M448.0 32.5a1.2 1.2 0 1 0 2.4 0a1.2 1.2 0 1 0 -2.4 0M448.5 29.6a1.2 1.2 0 1 0 2.4 0a1.2 1.2 0 1 0 -2.4 0M448.9 28.6a1.2 1.2 0 1 0 2.4 0a1.2 1.2 0 1 0 -2.4 0M449.4 31.9a1.2 1.2 0 1 0 2.4 0a1.2 1.2 0 1 0 -2.4 0M449.8 30.3a1.2 1.2 0 1 0 2.4 0a1.2 1.2 0 1 0 -2.4 0M450.3 28.2a1.2 1.2 0 1 0 2.4 0a1.2 1.2 0 1 0 -2.4 0M450.7 30.5a1.2 1.2 0 1 0 2.4 0a1.2 1.2 0 1 0 -2.4 0M451.2 29.4a1.2 1.2 0 1 0 2.4 0a1.2 1.2 0 1 0 -2.4 0M451.6 24.7a1.2 1.2 0 1 0 2.4 0a1.2 1.2 0 1 0 -2.4 0M452.1 29.7a1.2 1.2 0 1 0 2.4 0a1.2 1.2 0 1 0 -2.4 0M452.5 26.7a1.2 1.2 0 1 0 2.4 0a1.2 1.2 0 1 0 -2.4 0M453.0 27.1a1.2 1.2 0 1 0 2.4 0a1.2 1.2 0 1 0 -2.4 0M453.4 28.0a1.2 1.2 0 1 0 2.4 0a1.2 1.2 0 1 0 -2.4 0M453.9 26.4a1.2 1.2 0 1 0 2.4 0a1.2 1.2 0 1 0 -2.4 0M454.3 28.4a1.2 1.2 0 1 0 2.4 0a1.2 1.2 0 1 0 -2.4 0M454.8 23.2a1.2 1.2 0 1 0 2.4 0a1.2 1.2 0 1 0 -2.4 0M455.2 27.6a1.2 1.2 0 1 0 2.4 0a1.2 1.2 0 1 0 -2.4 0M455.7 27.9a1.2 1.2 0 1 0 2.4 0a1.2 1.2 0 1 0 -2.4 0" fill="none" stroke="#8c8c8c" stroke-width="0.60"/>
<path d="M264.7 106.2a2.3 2.3 0 1 0 4.6 0a2.3 2.3 0 1 0 -4.6 0M265.0 102.6a2.3 2.3 0 1 0 4.6 0a2.3 2.3 0 1 0 -4.6 0M265.3 105.0a2.3 2.3 0 1 0 4.6 0a2.3 2.3 0 1 0 -4.6 0M265.6 103.1a2.3 2.3 0 1 0 4.6 0a2.3 2.3 0 1 0 -4.6 0M265.9 102.5a2.3 2.3 0 1 0 4.6 0a2.3 2.3 0 1 0 -4.6 0M266.2 98.6a2.3 2.3 0 1 0 4.6 0a2.3 2.3 0 1 0 -4.6 0M266.5 97.4a2.3 2.3 0 1 0 4.6 0a2.3 2.3 0 1 0 -4.6 0M266.8 95.9a2.3 2.3 0 1 0 4.6 0a2.3 2.3 0 1 0 -4.6 0M267.1 98.9a2.3 2.3 0 1 0 4.6 0a2.3 2.3 0 1 0 -4.6 0M267.4 94.1a2.3 2.3 0 1 0 4.6 0a2.3 2.3 0 1 0 -4.6 0M267.7 94.4a2.3 2.3 0 1 0 4.6 0a2.3 2.3 0 1 0 -4.6 0M268.0 94.0a2.3 2.3 0 1 0 4.6 0a2.3 2.3 0 1 0 -4.6 0M268.3 93.4a2.3 2.3 0 1 0 4.6 0a2.3 2.3 0 1 0 -4.6 0M268.6 91.9a2.3 2.3 0 1 0 4.6 0a2.3 2.3 0 1 0 -4.6 0M268.9 90.5a2.3 2.3 0 1 0 4.6 0a2.3 2.3 0 1 0 -4.6 0M269.2 88.2a2.3 2.3 0 1 0 4.6 0a2.3 2.3 0 1 0 -4.6 0M269.5 90.8a2.3 2.3 0 1 0 4.6 0a2.3 2.3 0 1 0 -4.6 0M269.8 90.5a2.3 2.3 0 1 0 4.6 0a2.3 2.3 0 1 0 -4.6 0M270.1 87.9a2.3 2.3 0 1 0 4.6 0a2.3 2.3 0 1 0 -4.6 0M270.4 91.4a2.3 2.3 0 1 0 4.6 0a2.3 2.3 0 1 0 -4.6 0M270.7 88.0a2.3 2.3 0 1 0 4.6 0a2.3 2.3 0 1 0 -4.6 0M271.0 87.7a2.3 2.3 0 1 0 4.6 0a2.3 2.3 0 1 0 -4.6 0M271.3 86.7a2.3 2.3 0 1 0 4.6 0a2.3 2.3 0 1 0 -4.6 0M271.6 86.2a2.3 2.3 0 1 0 4.6 0a2.3 2.3 0 1 0 -4.6 0M271.9 87.0a2.3 2.3 0 1 0 4.6 0a2.3 2.3 0 1 0 -4.6 0M272.2 87.0a2.3 2.3 0 1 0 4.6 0a2.3 2.3 0 1 0 -4.6 0M272.5 89.1a2.3 2.3 0 1 0 4.6 0a2.3 2.3 0 1 0 -4.6 0M272.8 86.7a2.3 2.3 0 1 0 4.6 0a2.3 2.3 0 1 0 -4.6 0M273.1 89.0a2.3 2.3 0 1 0 4.6 0a2.3 2.3 0 1 0 -4.6 0M273.4 87.5a2.3 2.3 0 1 0 4.6 0a2.3 2.3 0 1 0 -4.6 0M273.7 88.5a2.3 2.3 0 1 0 4.6 0a2.3 2.3 0 1 0 -4.6 0M274.0 86.1a2.3 2.3 0 1 0 4.6 0a2.3 2.3 0 1 0 -4.6 0M274.3 88.9a2.3 2.3 0 1 0 4.6 0a2.3 2.3 0 1 0 -4.6 0M274.6 85.9a2.3 2.3 0 1 0 4.6 0a2.3 2.3 0 1 0 -4.6 0M274.9 88.1a2.3 2.3 0 1 0 4.6 0a2.3 2.3 0 1 0 -4.6 0M275.2 88.5a2.3 2.3 0 1 0 4.6 0a2.3 2.3 0 1 0 -4.6 0M275.5 84.4a2.3 2.3 0 1 0 4.6 0a2.3 2.3 0 1 0 -4.6 0M275.8 87.4a2.3 2.3 0 1 0 4.6 0a2.3 2.3 0 1 0 -4.6 0M276.1 86.2a2.3 2.3 0 1 0 4.6 0a2.3 2.3 0 1 0 -4.6 0M276.4 85.8a2.3 2.3 0 1 0 4.6 0a2.3 2.3 0 1 0 -4.6 0M276.7 84.1a2.3 2.3 0 1 0 4.6 0a2.3 2.3 0 1 0 -4.6 0M277.0 87.3a2.3 2.3 0 1 0 4.6 0a2.3 2.3 0 1 0 -4.6 0M277.3 86.0a2.3 2.3 0 1 0 4.6 0a2.3 2.3 0 1 0 -4.6 0M277.6 84.8a2.3 2.3 0 1 0 4.6 0a2.3 2.3 0 1 0 -4.6 0M277.9 82.4a2.3 2.3 0 1 0 4.6 0a2.3 2.3 0 1 0 -4.6 0M278.2 81.5a2.3 2.3 0 1 0 4.6 0a2.3 2.3 0 1 0 -4.6 0M278.5 82.7a2.3 2.3 0 1 0 4.6 0a2.3 2.3 0 1 0 -4.6 0M278.8 83.9a2.3 2.3 0 1 0 4.6 0a2.3 2.3 0 1 0 -4.6 0M279.1 83.8a2.3 2.3 0 1 0 4.6 0a2.3 2.3 0 1 0 -4.6 0M279.4 81.7a2.3 2.3 0 1 0 4.6 0a2.3 2.3 0 1 0 -4.6 0M279.7 85.2a2.3 2.3 0 1 0 4.6 0a2.3 2.3 0 1 0 -4.6 0M280.0 83.8a2.3 2.3 0 1 0 4.6 0a2.3 2.3 0 1 0 -4.6 0M280.3 82.8a2.3 2.3 0 1 0 4.6 0a2.3 2.3 0 1 0 -4.6 0M280.6 82.6a2.3 2.3 0 1 0 4.6 0a2.3 2.3 0 1 0 -4.6 0M280.9 80.9a2.3 2.3 0 1 0 4.6 0a2.3 2.3 0 1 0 -4.6 0M281.2 83.6a2.3 2.3 0 1 0 4.6 0a2.3 2.3 0 1 0 -4.6 0M281.5 80.9a2.3 2.3 0 1 0 4.6 0a2.3 2.3 0 1 0 -4.6 0M281.8 80.6a2.3 2.3 0 1 0 4.6 0a2.3 2.3 0 1 0 -4.6 0M282.1 81.1a2.3 2.3 0 1 0 4.6 0a2.3 2.3 0 1 0 -4.6 0M282.4 79.9a2.3 2.3 0 1 0 4.6 0a2.3 2.3 0 1 0 -4.6 0M282.7 81.9a2.3 2.3 0 1 0 4.6 0a2.3 2.3 0 1 0 -4.6 0M283.0 80.6a2.3 2.3 0 1 0 4.6 0a2.3 2.3 0 1 0 -4.6 0M283.3 80.3a2.3 2.3 0 1 0 4.6 0a2.3 2.3 0 1 0 -4.6 0M283.6 79.1a2.3 2.3 0 1 0 4.6 0a2.3 2.3 0 1 0 -4.6 0M283.9 77.3a2.3 2.3 0 1 0 4.6 0a2.3 2.3 0 1 0 -4.6 0M284.2 77.1a2.3 2.3 0 1 0 4.6 0a2.3 2.3 0 1 0 -4.6 0M284.5 76.8a2.3 2.3 0 1 0 4.6 0a2.3 2.3 0 1 0 -4.6 0M284.8 76.9a2.3 2.3 0 1 0 4.6 0a2.3 2.3 0 1 0 -4.6 0M285.1 71.4a2.3 2.3 0 1 0 4.6 0a2.3 2.3 0 1 0 -4.6 0M285.4 75.7a2.3 2.3 0 1 0 4.6 0a2.3 2.3 0 1 0 -4.6 0M285.7 76.2a2.3 2.3 0 1 0 4.6 0a2.3 2.3 0 1 0 -4.6 0M286.0 75.9a2.3 2.3 0 1 0 4.6 0a2.3 2.3 0 1 0 -4.6 0M286.3 74.6a2.3 2.3 0 1 0 4.6 0a2.3 2.3 0 1 0 -4.6 0M286.6 71.9a2.3 2.3 0 1 0 4.6 0a2.3 2.3 0 1 0 -4.6 0M286.9 72.3a2.3 2.3 0 1 0 4.6 0a2.3 2.3 0 1 0 -4.6 0M287.2 71.3a2.3 2.3 0 1 0 4.6 0a2.3 2.3 0 1 0 -4.6 0M287.5 69.8a2.3 2.3 0 1 0 4.6 0a2.3 2.3 0 1 0 -4.6 0M287.8 71.7a2.3 2.3 0 1 0 4.6 0a2.3 2.3 0 1 0 -4.6 0M288.1 72.2a2.3 2.3 0 1 0 4.6 0a2.3 2.3 0 1 0 -4.6 0M288.4 71.6a2.3 2.3 0 1 0 4.6 0a2.3 2.3 0 1 0 -4.6 0M288.7 67.7a2.3 2.3 0 1 0 4.6 0a2.3 2.3 0 1 0 -4.6 0M289.0 66.2a2.3 2.3 0 1 0 4.6 0a2.3 2.3 0 1 0 -4.6 0M289.3 65.4a2.3 2.3 0 1 0 4.6 0a2.3 2.3 0 1 0 -4.6 0M289.6 72.4a2.3 2.3 0 1 0 4.6 0a2.3 2.3 0 1 0 -4.6 0M289.9 67.5a2.3 2.3 0 1 0 4.6 0a2.3 2.3 0 1 0 -4.6 0M290.2 67.9a2.3 2.3 0 1 0 4.6 0a2.3 2.3 0 1 0 -4.6 0M290.5 68.8a2.3 2.3 0 1 0 4.6 0a2.3 2.3 0 1 0 -4.6 0M290.8 69.4a2.3 2.3 0 1 0 4.6 0a2.3 2.3 0 1 0 -4.6 0M291.1 64.9a2.3 2.3 0 1 0 4.6 0a2.3 2.3 0 1 0 -4.6 0M291.4 64.1a2.3 2.3 0 1 0 4.6 0a2.3 2.3 0 1 0 -4.6 0M291.7 65.4a2.3 2.3 0 1 0 4.6 0a2.3 2.3 0 1 0 -4.6 0M292.0 65.0a2.3 2.3 0 1 0 4.6 0a2.3 2.3 0 1 0 -4.6 0M292.3 66.1a2.3 2.3 0 1 0 4.6 0a2.3 2.3 0 1 0 -4.6 0M292.6 64.8a2.3 2.3 0 1 0 4.6 0a2.3 2.3 0 1 0 -4.6 0M292.9 63.5a2.3 2.3 0 1 0 4.6 0a2.3 2.3 0 1 0 -4.6 0M293.2 64.2a2.3 2.3 0 1 0 4.6 0a2.3 2.3 0 1 0 -4.6 0M293.5 64.7a2.3 2.3 0 1 0 4.6 0a2.3 2.3 0 1 0 -4.6 0M293.8 65.4a2.3 2.3 0 1 0 4.6 0a2.3 2.3 0 1 0 -4.6 0M294.1 61.1a2.3 2.3 0 1 0 4.6 0a2.3 2.3 0 1 0 -4.6 0M294.4 64.3a2.3 2.3 0 1 0 4.6 0a2.3 2.3 0 1 0 -4.6 0M294.7 65.4a2.3 2.3 0 1 0 4.6 0a2.3 2.3 0 1 0 -4.6 0M295.0 65.6a2.3 2.3 0 1 0 4.6 0a2.3 2.3 0 1 0 -4.6 0M295.3 59.8a2.3 2.3 0 1 0 4.6 0a2.3 2.3 0 1 0 -4.6 0M295.6 60.5a2.3 2.3 0 1 0 4.6 0a2.3 2.3 0 1 0 -4.6 0M295.9 58.3a2.3 2.3 0 1 0 4.6 0a2.3 2.3 0 1 0 -4.6 0M296.2 60.4a2.3 2.3 0 1 0 4.6 0a2.3 2.3 0 1 0 -4.6 0M296.5 58.9a2.3 2.3 0 1 0 4.6 0a2.3 2.3 0 1 0 -4.6 0M296.8 56.9a2.3 2.3 0 1 0 4.6 0a2.3 2.3 0 1 0 -4.6 0M297.1 58.7a2.3 2.3 0 1 0 4.6 0a2.3 2.3 0 1 0 -4.6 0M297.4 60.0a2.3 2.3 0 1 0 4.6 0a2.3 2.3 0 1 0 -4.6 0M297.7 55.1a2.3 2.3 0 1 0 4.6 0a2.3 2.3 0 1 0 -4.6 0M298.0 54.4a2.3 2.3 0 1 0 4.6 0a2.3 2.3 0 1 0 -4.6 0M298.3 56.1a2.3 2.3 0 1 0 4.6 0a2.3 2.3 0 1 0 -4.6 0M298.6 55.2a2.3 2.3 0 1 0 4.6 0a2.3 2.3 0 1 0 -4.6 0M298.9 55.9a2.3 2.3 0 1 0 4.6 0a2.3 2.3 0 1 0 -4.6 0M299.2 53.7a2.3 2.3 0 1 0 4.6 0a2.3 2.3 0 1 0 -4.6 0M299.5 56.8a2.3 2.3 0 1 0 4.6 0a2.3 2.3 0 1 0 -4.6 0M299.8 54.9a2.3 2.3 0 1 0 4.6 0a2.3 2.3 0 1 0 -4.6 0M300.1 56.2a2.3 2.3 0 1 0 4.6 0a2.3 2.3 0 1 0 -4.6 0M300.4 56.1a2.3 2.3 0 1 0 4.6 0a2.3 2.3 0 1 0 -4.6 0M300.7 56.7a2.3 2.3 0 1 0 4.6 0a2.3 2.3 0 1 0 -4.6 0M301.0 54.3a2.3 2.3 0 1 0 4.6 0a2.3 2.3 0 1 0 -4.6 0M301.3 58.6a2.3 2.3 0 1 0 4.6 0a2.3 2.3 0 1 0 -4.6 0M301.6 58.4a2.3 2.3 0 1 0 4.6 0a2.3 2.3 0 1 0 -4.6 0M301.9 56.8a2.3 2.3 0 1 0 4.6 0a2.3 2.3 0 1 0 -4.6 0M302.2 56.1a2.3 2.3 0 1 0 4.6 0a2.3 2.3 0 1 0 -4.6 0M302.5 55.6a2.3 2.3 0 1 0 4.6 0a2.3 2.3 0 1 0 -4.6 0M302.8 54.7a2.3 2.3 0 1 0 4.6 0a2.3 2.3 0 1 0 -4.6 0M303.1 54.4a2.3 2.3 0 1 0 4.6 0a2.3 2.3 0 1 0 -4.6 0M303.4 55.1a2.3 2.3 0 1 0 4.6 0a2.3 2.3 0 1 0 -4.6 0M303.7 55.6a2.3 2.3 0 1 0 4.6 0a2.3 2.3 0 1 0 -4.6 0M304.0 53.5a2.3 2.3 0 1 0 4.6 0a2.3 2.3 0 1 0 -4.6 0M304.3 51.3a2.3 2.3 0 1 0 4.6 0a2.3 2.3 0 1 0 -4.6 0M304.6 50.5a2.3 2.3 0 1 0 4.6 0a2.3 2.3 0 1 0 -4.6 0M304.9 51.3a2.3 2.3 0 1 0 4.6 0a2.3 2.3 0 1 0 -4.6 0M305.2 47.4a2.3 2.3 0 1 0 4.6 0a2.3 2.3 0 1 0 -4.6 0M305.5 47.1a2.3 2.3 0 1 0 4.6 0a2.3 2.3 0 1 0 -4.6 0M305.8 45.2a2.3 2.3 0 1 0 4.6 0a2.3 2.3 0 1 0 -4.6 0M306.1 44.6a2.3 2.3 0 1 0 4.6 0a2.3 2.3 0 1 0 -4.6 0M306.4 45.4a2.3 2.3 0 1 0 4.6 0a2.3 2.3 0 1 0 -4.6 0M306.7 44.9a2.3 2.3 0 1 0 4.6 0a2.3 2.3 0 1 0 -4.6 0M307.0 43.6a2.3 2.3 0 1 0 4.6 0a2.3 2.3 0 1 0 -4.6 0M307.3 42.2a2.3 2.3 0 1 0 4.6 0a2.3 2.3 0 1 0 -4.6 0M307.6 40.0a2.3 2.3 0 1 0 4.6 0a2.3 2.3 0 1 0 -4.6 0M307.9 41.2a2.3 2.3 0 1 0 4.6 0a2.3 2.3 0 1 0 -4.6 0M308.2 39.4a2.3 2.3 0 1 0 4.6 0a2.3 2.3 0 1 0 -4.6 0M308.5 40.5a2.3 2.3 0 1 0 4.6 0a2.3 2.3 0 1 0 -4.6 0M308.8 38.0a2.3 2.3 0 1 0 4.6 0a2.3 2.3 0 1 0 -4.6 0M309.1 38.8a2.3 2.3 0 1 0 4.6 0a2.3 2.3 0 1 0 -4.6 0M309.4 39.8a2.3 2.3 0 1 0 4.6 0a2.3 2.3 0 1 0 -4.6 0M309.7 37.9a2.3 2.3 0 1 0 4.6 0a2.3 2.3 0 1 0 -4.6 0M310.0 38.7a2.3 2.3 0 1 0 4.6 0a2.3 2.3 0 1 0 -4.6 0M310.3 36.4a2.3 2.3 0 1 0 4.6 0a2.3 2.3 0 1 0 -4.6 0M310.6 39.4a2.3 2.3 0 1 0 4.6 0a2.3 2.3 0 1 0 -4.6 0M310.9 39.3a2.3 2.3 0 1 0 4.6 0a2.3 2.3 0 1 0 -4.6 0M311.2 36.6a2.3 2.3 0 1 0 4.6 0a2.3 2.3 0 1 0 -4.6 0M311.5 39.0a2.3 2.3 0 1 0 4.6 0a2.3 2.3 0 1 0 -4.6 0M311.8 38.5a2.3 2.3 0 1 0 4.6 0a2.3 2.3 0 1 0 -4.6 0M312.1 39.5a2.3 2.3 0 1 0 4.6 0a2.3 2.3 0 1 0 -4.6 0M312.4 40.4a2.3 2.3 0 1 0 4.6 0a2.3 2.3 0 1 0 -4.6 0M312.7 39.1a2.3 2.3 0 1 0 4.6 0a2.3 2.3 0 1 0 -4.6 0M313.0 39.3a2.3 2.3 0 1 0 4.6 0a2.3 2.3 0 1 0 -4.6 0M313.3 39.0a2.3 2.3 0 1 0 4.6 0a2.3 2.3 0 1 0 -4.6 0M313.6 40.1a2.3 2.3 0 1 0 4.6 0a2.3 2.3 0 1 0 -4.6 0M313.9 45.0a2.3 2.3 0 1 0 4.6 0a2.3 2.3 0 1 0 -4.6 0M314.2 40.5a2.3 2.3 0 1 0 4.6 0a2.3 2.3 0 1 0 -4.6 0M314.5 42.7a2.3 2.3 0 1 0 4.6 0a2.3 2.3 0 1 0 -4.6 0M314.8 44.1a2.3 2.3 0 1 0 4.6 0a2.3 2.3 0 1 0 -4.6 0M315.1 41.8a2.3 2.3 0 1 0 4.6 0a2.3 2.3 0 1 0 -4.6 0M315.4 40.6a2.3 2.3 0 1 0 4.6 0a2.3 2.3 0 1 0 -4.6 0M315.7 40.4a2.3 2.3 0 1 0 4.6 0a2.3 2.3 0 1 0 -4.6 0M316.0 41.3a2.3 2.3 0 1 0 4.6 0a2.3 2.3 0 1 0 -4.6 0M316.3 41.8a2.3 2.3 0 1 0 4.6 0a2.3 2.3 0 1 0 -4.6 0M316.6 39.3a2.3 2.3 0 1 0 4.6 0a2.3 2.3 0 1 0 -4.6 0M316.9 38.4a2.3 2.3 0 1 0 4.6 0a2.3 2.3 0 1 0 -4.6 0M317.2 34.7a2.3 2.3 0 1 0 4.6 0a2.3 2.3 0 1 0 -4.6 0M317.5 35.7a2.3 2.3 0 1 0 4.6 0a2.3 2.3 0 1 0 -4.6 0M317.8 36.4a2.3 2.3 0 1 0 4.6 0a2.3 2.3 0 1 0 -4.6 0M318.1 31.9a2.3 2.3 0 1 0 4.6 0a2.3 2.3 0 1 0 -4.6 0M318.4 30.1a2.3 2.3 0 1 0 4.6 0a2.3 2.3 0 1 0 -4.6 0M318.7 30.8a2.3 2.3 0 1 0 4.6 0a2.3 2.3 0 1 0 -4.6 0M319.0 32.9a2.3 2.3 0 1 0 4.6 0a2.3 2.3 0 1 0 -4.6 0M319.3 32.8a2.3 2.3 0 1 0 4.6 0a2.3 2.3 0 1 0 -4.6 0M319.6 31.1a2.3 2.3 0 1 0 4.6 0a2.3 2.3 0 1 0 -4.6 0M319.9 29.4a2.3 2.3 0 1 0 4.6 0a2.3 2.3 0 1 0 -4.6 0M320.2 30.9a2.3 2.3 0 1 0 4.6 0a2.3 2.3 0 1 0 -4.6 0M320.5 27.7a2.3 2.3 0 1 0 4.6 0a2.3 2.3 0 1 0 -4.6 0M320.8 29.3a2.3 2.3 0 1 0 4.6 0a2.3 2.3 0 1 0 -4.6 0M321.1 27.1a2.3 2.3 0 1 0 4.6 0a2.3 2.3 0 1 0 -4.6 0M321.4 25.8a2.3 2.3 0 1 0 4.6 0a2.3 2.3 0 1 0 -4.6 0M321.7 27.4a2.3 2.3 0 1 0 4.6 0a2.3 2.3 0 1 0 -4.6 0M322.0 26.3a2.3 2.3 0 1 0 4.6 0a2.3 2.3 0 1 0 -4.6 0M322.3 24.4a2.3 2.3 0 1 0 4.6 0a2.3 2.3 0 1 0 -4.6 0M322.6 26.7a2.3 2.3 0 1 0 4.6 0a2.3 2.3 0 1 0 -4.6 0M322.9 27.3a2.3 2.3 0 1 0 4.6 0a2.3 2.3 0 1 0 -4.6 0M323.2 25.5a2.3 2.3 0 1 0 4.6 0a2.3 2.3 0 1 0 -4.6 0M323.5 23.3a2.3 2.3 0 1 0 4.6 0a2.3 2.3 0 1 0 -4.6 0M323.8 23.1a2.3 2.3 0 1 0 4.6 0a2.3 2.3 0 1 0 -4.6 0M324.1 25.4a2.3 2.3 0 1 0 4.6 0a2.3 2.3 0 1 0 -4.6 0M324.4 25.4a2.3 2.3 0 1 0 4.6 0a2.3 2.3 0 1 0 -4.6 0M324.7 22.3a2.3 2.3 0 1 0 4.6 0a2.3 2.3 0 1 0 -4.6 0M325.0 23.5a2.3 2.3 0 1 0 4.6 0a2.3 2.3 0 1 0 -4.6 0M325.3 24.6a2.3 2.3 0 1 0 4.6 0a2.3 2.3 0 1 0 -4.6 0M325.6 24.2a2.3 2.3 0 1 0 4.6 0a2.3 2.3 0 1 0 -4.6 0M325.9 23.6a2.3 2.3 0 1 0 4.6 0a2.3 2.3 0 1 0 -4.6 0M326.2 24.2a2.3 2.3 0 1 0 4.6 0a2.3 2.3 0 1 0 -4.6 0M326.5 22.4a2.3 2.3 0 1 0 4.6 0a2.3 2.3 0 1 0 -4.6 0M326.8 26.1a2.3 2.3 0 1 0 4.6 0a2.3 2.3 0 1 0 -4.6 0M327.1 23.1a2.3 2.3 0 1 0 4.6 0a2.3 2.3 0 1 0 -4.6 0M327.4 28.1a2.3 2.3 0 1 0 4.6 0a2.3 2.3 0 1 0 -4.6 0M327.7 25.7a2.3 2.3 0 1 0 4.6 0a2.3 2.3 0 1 0 -4.6 0M328.0 25.0a2.3 2.3 0 1 0 4.6 0a2.3 2.3 0 1 0 -4.6 0M328.3 26.7a2.3 2.3 0 1 0 4.6 0a2.3 2.3 0 1 0 -4.6 0M328.6 27.0a2.3 2.3 0 1 0 4.6 0a2.3 2.3 0 1 0 -4.6 0M328.9 28.8a2.3 2.3 0 1 0 4.6 0a2.3 2.3 0 1 0 -4.6 0M329.2 29.6a2.3 2.3 0 1 0 4.6 0a2.3 2.3 0 1 0 -4.6 0M329.5 32.1a2.3 2.3 0 1 0 4.6 0a2.3 2.3 0 1 0 -4.6 0M329.8 31.4a2.3 2.3 0 1 0 4.6 0a2.3 2.3 0 1 0 -4.6 0M330.1 31.5a2.3 2.3 0 1 0 4.6 0a2.3 2.3 0 1 0 -4.6 0M330.4 31.2a2.3 2.3 0 1 0 4.6 0a2.3 2.3 0 1 0 -4.6 0M330.7 30.0a2.3 2.3 0 1 0 4.6 0a2.3 2.3 0 1 0 -4.6 0M331.0 28.4a2.3 2.3 0 1 0 4.6 0a2.3 2.3 0 1 0 -4.6 0M331.3 28.6a2.3 2.3 0 1 0 4.6 0a2.3 2.3 0 1 0 -4.6 0M331.6 29.9a2.3 2.3 0 1 0 4.6 0a2.3 2.3 0 1 0 -4.6 0M331.9 29.4a2.3 2.3 0 1 0 4.6 0a2.3 2.3 0 1 0 -4.6 0M332.2 32.5a2.3 2.3 0 1 0 4.6 0a2.3 2.3 0 1 0 -4.6 0M332.5 28.8a2.3 2.3 0 1 0 4.6 0a2.3 2.3 0 1 0 -4.6 0M332.8 29.1a2.3 2.3 0 1 0 4.6 0a2.3 2.3 0 1 0 -4.6 0M333.1 30.2a2.3 2.3 0 1 0 4.6 0a2.3 2.3 0 1 0 -4.6 0M333.4 31.2a2.3 2.3 0 1 0 4.6 0a2.3 2.3 0 1 0 -4.6 0M333.7 33.1a2.3 2.3 0 1 0 4.6 0a2.3 2.3 0 1 0 -4.6 0M334.0 30.2a2.3 2.3 0 1 0 4.6 0a2.3 2.3 0 1 0 -4.6 0M334.3 32.5a2.3 2.3 0 1 0 4.6 0a2.3 2.3 0 1 0 -4.6 0M334.6 32.1a2.3 2.3 0 1 0 4.6 0a2.3 2.3 0 1 0 -4.6 0M334.9 30.2a2.3 2.3 0 1 0 4.6 0a2.3 2.3 0 1 0 -4.6 0M335.2 33.9a2.3 2.3 0 1 0 4.6 0a2.3 2.3 0 1 0 -4.6 0M335.5 31.0a2.3 2.3 0 1 0 4.6 0a2.3 2.3 0 1 0 -4.6 0M335.8 32.2a2.3 2.3 0 1 0 4.6 0a2.3 2.3 0 1 0 -4.6 0M336.1 31.9a2.3 2.3 0 1 0 4.6 0a2.3 2.3 0 1 0 -4.6 0M336.4 29.4a2.3 2.3 0 1 0 4.6 0a2.3 2.3 0 1 0 -4.6 0M336.7 32.7a2.3 2.3 0 1 0 4.6 0a2.3 2.3 0 1 0 -4.6 0M337.0 33.0a2.3 2.3 0 1 0 4.6 0a2.3 2.3 0 1 0 -4.6 0M337.3 31.9a2.3 2.3 0 1 0 4.6 0a2.3 2.3 0 1 0 -4.6 0M337.6 33.3a2.3 2.3 0 1 0 4.6 0a2.3 2.3 0 1 0 -4.6 0M337.9 33.2a2.3 2.3 0 1 0 4.6 0a2.3 2.3 0 1 0 -4.6 0M338.2 27.6a2.3 2.3 0 1 0 4.6 0a2.3 2.3 0 1 0 -4.6 0M338.5 31.9a2.3 2.3 0 1 0 4.6 0a2.3 2.3 0 1 0 -4.6 0M338.8 27.7a2.3 2.3 0 1 0 4.6 0a2.3 2.3 0 1 0 -4.6 0M339.1 28.9a2.3 2.3 0 1 0 4.6 0a2.3 2.3 0 1 0 -4.6 0M339.4 27.0a2.3 2.3 0 1 0 4.6 0a2.3 2.3 0 1 0 -4.6 0M339.7 24.8a2.3 2.3 0 1 0 4.6 0a2.3 2.3 0 1 0 -4.6 0M340.0 25.1a2.3 2.3 0 1 0 4.6 0a2.3 2.3 0 1 0 -4.6 0M340.3 26.6a2.3 2.3 0 1 0 4.6 0a2.3 2.3 0 1 0 -4.6 0M340.6 27.2a2.3 2.3 0 1 0 4.6 0a2.3 2.3 0 1 0 -4.6 0M340.9 26.6a2.3 2.3 0 1 0 4.6 0a2.3 2.3 0 1 0 -4.6 0M341.2 25.5a2.3 2.3 0 1 0 4.6 0a2.3 2.3 0 1 0 -4.6 0M341.5 25.8a2.3 2.3 0 1 0 4.6 0a2.3 2.3 0 1 0 -4.6 0M341.8 26.8a2.3 2.3 0 1 0 4.6 0a2.3 2.3 0 1 0 -4.6 0M342.1 23.6a2.3 2.3 0 1 0 4.6 0a2.3 2.3 0 1 0 -4.6 0M342.4 26.4a2.3 2.3 0 1 0 4.6 0a2.3 2.3 0 1 0 -4.6 0M342.7 25.8a2.3 2.3 0 1 0 4.6 0a2.3 2.3 0 1 0 -4.6 0M343.0 24.6a2.3 2.3 0 1 0 4.6 0a2.3 2.3 0 1 0 -4.6 0M343.3 25.8a2.3 2.3 0 1 0 4.6 0a2.3 2.3 0 1 0 -4.6 0M343.6 29.0a2.3 2.3 0 1 0 4.6 0a2.3 2.3 0 1 0 -4.6 0M343.9 29.5a2.3 2.3 0 1 0 4.6 0a2.3 2.3 0 1 0 -4.6 0M344.2 26.6a2.3 2.3 0 1 0 4.6 0a2.3 2.3 0 1 0 -4.6 0M344.5 25.6a2.3 2.3 0 1 0 4.6 0a2.3 2.3 0 1 0 -4.6 0M344.8 28.6a2.3 2.3 0 1 0 4.6 0a2.3 2.3 0 1 0 -4.6 0M345.1 26.7a2.3 2.3 0 1 0 4.6 0a2.3 2.3 0 1 0 -4.6 0M345.4 29.1a2.3 2.3 0 1 0 4.6 0a2.3 2.3 0 1 0 -4.6 0M345.7 28.5a2.3 2.3 0 1 0 4.6 0a2.3 2.3 0 1 0 -4.6 0M346.0 30.2a2.3 2.3 0 1 0 4.6 0a2.3 2.3 0 1 0 -4.6 0M346.3 27.6a2.3 2.3 0 1 0 4.6 0a2.3 2.3 0 1 0 -4.6 0M346.6 28.9a2.3 2.3 0 1 0 4.6 0a2.3 2.3 0 1 0 -4.6 0M346.9 28.1a2.3 2.3 0 1 0 4.6 0a2.3 2.3 0 1 0 -4.6 0M347.2 30.3a2.3 2.3 0 1 0 4.6 0a2.3 2.3 0 1 0 -4.6 0M347.5 27.1a2.3 2.3 0 1 0 4.6 0a2.3 2.3 0 1 0 -4.6 0M347.8 28.0a2.3 2.3 0 1 0 4.6 0a2.3 2.3 0 1 0 -4.6 0M348.1 29.2a2.3 2.3 0 1 0 4.6 0a2.3 2.3 0 1 0 -4.6 0M348.4 30.6a2.3 2.3 0 1 0 4.6 0a2.3 2.3 0 1 0 -4.6 0M348.7 30.5a2.3 2.3 0 1 0 4.6 0a2.3 2.3 0 1 0 -4.6 0M349.0 26.7a2.3 2.3 0 1 0 4.6 0a2.3 2.3 0 1 0 -4.6 0M349.3 26.7a2.3 2.3 0 1 0 4.6 0a2.3 2.3 0 1 0 -4.6 0M349.6 26.8a2.3 2.3 0 1 0 4.6 0a2.3 2.3 0 1 0 -4.6 0M349.9 25.2a2.3 2.3 0 1 0 4.6 0a2.3 2.3 0 1 0 -4.6 0M350.2 25.3a2.3 2.3 0 1 0 4.6 0a2.3 2.3 0 1 0 -4.6 0M350.5 25.8a2.3 2.3 0 1 0 4.6 0a2.3 2.3 0 1 0 -4.6 0M350.8 24.1a2.3 2.3 0 1 0 4.6 0a2.3 2.3 0 1 0 -4.6 0M351.1 25.7a2.3 2.3 0 1 0 4.6 0a2.3 2.3 0 1 0 -4.6 0M351.4 24.4a2.3 2.3 0 1 0 4.6 0a2.3 2.3 0 1 0 -4.6 0M351.7 27.4a2.3 2.3 0 1 0 4.6 0a2.3 2.3 0 1 0 -4.6 0M352.0 23.3a2.3 2.3 0 1 0 4.6 0a2.3 2.3 0 1 0 -4.6 0M352.3 25.9a2.3 2.3 0 1 0 4.6 0a2.3 2.3 0 1 0 -4.6 0M352.6 26.7a2.3 2.3 0 1 0 4.6 0a2.3 2.3 0 1 0 -4.6 0M352.9 25.0a2.3 2.3 0 1 0 4.6 0a2.3 2.3 0 1 0 -4.6 0M353.2 24.4a2.3 2.3 0 1 0 4.6 0a2.3 2.3 0 1 0 -4.6 0M353.5 24.4a2.3 2.3 0 1 0 4.6 0a2.3 2.3 0 1 0 -4.6 0M353.8 22.7a2.3 2.3 0 1 0 4.6 0a2.3 2.3 0 1 0 -4.6 0M354.1 23.8a2.3 2.3 0 1 0 4.6 0a2.3 2.3 0 1 0 -4.6 0M354.4 26.0a2.3 2.3 0 1 0 4.6 0a2.3 2.3 0 1 0 -4.6 0M354.7 26.3a2.3 2.3 0 1 0 4.6 0a2.3 2.3 0 1 0 -4.6 0M355.0 24.4a2.3 2.3 0 1 0 4.6 0a2.3 2.3 0 1 0 -4.6 0M355.3 22.3a2.3 2.3 0 1 0 4.6 0a2.3 2.3 0 1 0 -4.6 0M355.6 25.7a2.3 2.3 0 1 0 4.6 0a2.3 2.3 0 1 0 -4.6 0M355.9 24.9a2.3 2.3 0 1 0 4.6 0a2.3 2.3 0 1 0 -4.6 0M356.2 28.0a2.3 2.3 0 1 0 4.6 0a2.3 2.3 0 1 0 -4.6 0M356.5 26.0a2.3 2.3 0 1 0 4.6 0a2.3 2.3 0 1 0 -4.6 0M356.8 28.6a2.3 2.3 0 1 0 4.6 0a2.3 2.3 0 1 0 -4.6 0M357.1 29.3a2.3 2.3 0 1 0 4.6 0a2.3 2.3 0 1 0 -4.6 0M357.4 29.4a2.3 2.3 0 1 0 4.6 0a2.3 2.3 0 1 0 -4.6 0M357.7 27.7a2.3 2.3 0 1 0 4.6 0a2.3 2.3 0 1 0 -4.6 0M358.0 30.5a2.3 2.3 0 1 0 4.6 0a2.3 2.3 0 1 0 -4.6 0M358.3 28.2a2.3 2.3 0 1 0 4.6 0a2.3 2.3 0 1 0 -4.6 0M358.6 27.4a2.3 2.3 0 1 0 4.6 0a2.3 2.3 0 1 0 -4.6 0M358.9 28.0a2.3 2.3 0 1 0 4.6 0a2.3 2.3 0 1 0 -4.6 0M359.2 30.3a2.3 2.3 0 1 0 4.6 0a2.3 2.3 0 1 0 -4.6 0M359.5 30.5a2.3 2.3 0 1 0 4.6 0a2.3 2.3 0 1 0 -4.6 0M359.8 31.6a2.3 2.3 0 1 0 4.6 0a2.3 2.3 0 1 0 -4.6 0M360.1 29.3a2.3 2.3 0 1 0 4.6 0a2.3 2.3 0 1 0 -4.6 0M360.4 27.9a2.3 2.3 0 1 0 4.6 0a2.3 2.3 0 1 0 -4.6 0M360.7 29.8a2.3 2.3 0 1 0 4.6 0a2.3 2.3 0 1 0 -4.6 0M361.0 29.4a2.3 2.3 0 1 0 4.6 0a2.3 2.3 0 1 0 -4.6 0M361.3 30.8a2.3 2.3 0 1 0 4.6 0a2.3 2.3 0 1 0 -4.6 0M361.6 27.2a2.3 2.3 0 1 0 4.6 0a2.3 2.3 0 1 0 -4.6 0M361.9 26.3a2.3 2.3 0 1 0 4.6 0a2.3 2.3 0 1 0 -4.6 0M362.2 28.5a2.3 2.3 0 1 0 4.6 0a2.3 2.3 0 1 0 -4.6 0M362.5 26.2a2.3 2.3 0 1 0 4.6 0a2.3 2.3 0 1 0 -4.6 0M362.8 28.8a2.3 2.3 0 1 0 4.6 0a2.3 2.3 0 1 0 -4.6 0M363.1 29.7a2.3 2.3 0 1 0 4.6 0a2.3 2.3 0 1 0 -4.6 0M363.4 25.6a2.3 2.3 0 1 0 4.6 0a2.3 2.3 0 1 0 -4.6 0M363.7 26.1a2.3 2.3 0 1 0 4.6 0a2.3 2.3 0 1 0 -4.6 0M364.0 27.5a2.3 2.3 0 1 0 4.6 0a2.3 2.3 0 1 0 -4.6 0M364.3 30.5a2.3 2.3 0 1 0 4.6 0a2.3 2.3 0 1 0 -4.6 0M364.6 26.5a2.3 2.3 0 1 0 4.6 0a2.3 2.3 0 1 0 -4.6 0M364.9 30.2a2.3 2.3 0 1 0 4.6 0a2.3 2.3 0 1 0 -4.6 0M365.2 29.1a2.3 2.3 0 1 0 4.6 0a2.3 2.3 0 1 0 -4.6 0M365.5 27.7a2.3 2.3 0 1 0 4.6 0a2.3 2.3 0 1 0 -4.6 0M365.8 29.2a2.3 2.3 0 1 0 4.6 0a2.3 2.3 0 1 0 -4.6 0M366.1 28.9a2.3 2.3 0 1 0 4.6 0a2.3 2.3 0 1 0 -4.6 0M366.4 25.6a2.3 2.3 0 1 0 4.6 0a2.3 2.3 0 1 0 -4.6 0M366.7 26.2a2.3 2.3 0 1 0 4.6 0a2.3 2.3 0 1 0 -4.6 0M367.0 26.4a2.3 2.3 0 1 0 4.6 0a2.3 2.3 0 1 0 -4.6 0M367.3 29.3a2.3 2.3 0 1 0 4.6 0a2.3 2.3 0 1 0 -4.6 0M367.6 32.2a2.3 2.3 0 1 0 4.6 0a2.3 2.3 0 1 0 -4.6 0M367.9 29.3a2.3 2.3 0 1 0 4.6 0a2.3 2.3 0 1 0 -4.6 0M368.2 30.2a2.3 2.3 0 1 0 4.6 0a2.3 2.3 0 1 0 -4.6 0M368.5 33.2a2.3 2.3 0 1 0 4.6 0a2.3 2.3 0 1 0 -4.6 0M368.8 31.8a2.3 2.3 0 1 0 4.6 0a2.3 2.3 0 1 0 -4.6 0M369.1 33.6a2.3 2.3 0 1 0 4.6 0a2.3 2.3 0 1 0 -4.6 0M369.4 34.9a2.3 2.3 0 1 0 4.6 0a2.3 2.3 0 1 0 -4.6 0M369.7 33.0a2.3 2.3 0 1 0 4.6 0a2.3 2.3 0 1 0 -4.6 0M370.0 34.0a2.3 2.3 0 1 0 4.6 0a2.3 2.3 0 1 0 -4.6 0M370.3 31.4a2.3 2.3 0 1 0 4.6 0a2.3 2.3 0 1 0 -4.6 0M370.6 34.5a2.3 2.3 0 1 0 4.6 0a2.3 2.3 0 1 0 -4.6 0M370.9 36.0a2.3 2.3 0 1 0 4.6 0a2.3 2.3 0 1 0 -4.6 0M371.2 33.0a2.3 2.3 0 1 0 4.6 0a2.3 2.3 0 1 0 -4.6 0M371.5 37.4a2.3 2.3 0 1 0 4.6 0a2.3 2.3 0 1 0 -4.6 0M371.8 34.3a2.3 2.3 0 1 0 4.6 0a2.3 2.3 0 1 0 -4.6 0M372.1 32.0a2.3 2.3 0 1 0 4.6 0a2.3 2.3 0 1 0 -4.6 0M372.4 34.9a2.3 2.3 0 1 0 4.6 0a2.3 2.3 0 1 0 -4.6 0M372.7 34.3a2.3 2.3 0 1 0 4.6 0a2.3 2.3 0 1 0 -4.6 0M373.0 33.1a2.3 2.3 0 1 0 4.6 0a2.3 2.3 0 1 0 -4.6 0M373.3 32.6a2.3 2.3 0 1 0 4.6 0a2.3 2.3 0 1 0 -4.6 0M373.6 35.7a2.3 2.3 0 1 0 4.6 0a2.3 2.3 0 1 0 -4.6 0M373.9 32.2a2.3 2.3 0 1 0 4.6 0a2.3 2.3 0 1 0 -4.6 0M374.2 33.9a2.3 2.3 0 1 0 4.6 0a2.3 2.3 0 1 0 -4.6 0M374.5 30.2a2.3 2.3 0 1 0 4.6 0a2.3 2.3 0 1 0 -4.6 0M374.8 30.7a2.3 2.3 0 1 0 4.6 0a2.3 2.3 0 1 0 -4.6 0M375.1 29.8a2.3 2.3 0 1 0 4.6 0a2.3 2.3 0 1 0 -4.6 0M375.4 29.9a2.3 2.3 0 1 0 4.6 0a2.3 2.3 0 1 0 -4.6 0M375.7 31.5a2.3 2.3 0 1 0 4.6 0a2.3 2.3 0 1 0 -4.6 0M376.0 33.5a2.3 2.3 0 1 0 4.6 0a2.3 2.3 0 1 0 -4.6 0M376.3 30.8a2.3 2.3 0 1 0 4.6 0a2.3 2.3 0 1 0 -4.6 0M376.6 29.4a2.3 2.3 0 1 0 4.6 0a2.3 2.3 0 1 0 -4.6 0M376.9 30.2a2.3 2.3 0 1 0 4.6 0a2.3 2.3 0 1 0 -4.6 0M377.2 30.6a2.3 2.3 0 1 0 4.6 0a2.3 2.3 0 1 0 -4.6 0M377.5 27.7a2.3 2.3 0 1 0 4.6 0a2.3 2.3 0 1 0 -4.6 0M377.8 31.0a2.3 2.3 0 1 0 4.6 0a2.3 2.3 0 1 0 -4.6 0M378.1 29.3a2.3 2.3 0 1 0 4.6 0a2.3 2.3 0 1 0 -4.6 0M378.4 29.1a2.3 2.3 0 1 0 4.6 0a2.3 2.3 0 1 0 -4.6 0M378.7 28.5a2.3 2.3 0 1 0 4.6 0a2.3 2.3 0 1 0 -4.6 0M379.0 29.0a2.3 2.3 0 1 0 4.6 0a2.3 2.3 0 1 0 -4.6 0M379.3 31.8a2.3 2.3 0 1 0 4.6 0a2.3 2.3 0 1 0 -4.6 0M379.6 29.6a2.3 2.3 0 1 0 4.6 0a2.3 2.3 0 1 0 -4.6 0M379.9 29.7a2.3 2.3 0 1 0 4.6 0a2.3 2.3 0 1 0 -4.6 0M380.2 30.5a2.3 2.3 0 1 0 4.6 0a2.3 2.3 0 1 0 -4.6 0M380.5 30.9a2.3 2.3 0 1 0 4.6 0a2.3 2.3 0 1 0 -4.6 0M380.8 28.9a2.3 2.3 0 1 0 4.6 0a2.3 2.3 0 1 0 -4.6 0M381.1 27.1a2.3 2.3 0 1 0 4.6 0a2.3 2.3 0 1 0 -4.6 0M381.4 28.4a2.3 2.3 0 1 0 4.6 0a2.3 2.3 0 1 0 -4.6 0M381.7 25.5a2.3 2.3 0 1 0 4.6 0a2.3 2.3 0 1 0 -4.6 0M382.0 30.4a2.3 2.3 0 1 0 4.6 0a2.3 2.3 0 1 0 -4.6 0M382.3 29.7a2.3 2.3 0 1 0 4.6 0a2.3 2.3 0 1 0 -4.6 0M382.6 28.6a2.3 2.3 0 1 0 4.6 0a2.3 2.3 0 1 0 -4.6 0M382.9 29.5a2.3 2.3 0 1 0 4.6 0a2.3 2.3 0 1 0 -4.6 0M383.2 27.1a2.3 2.3 0 1 0 4.6 0a2.3 2.3 0 1 0 -4.6 0M383.5 26.8a2.3 2.3 0 1 0 4.6 0a2.3 2.3 0 1 0 -4.6 0M383.8 29.0a2.3 2.3 0 1 0 4.6 0a2.3 2.3 0 1 0 -4.6 0M384.1 27.3a2.3 2.3 0 1 0 4.6 0a2.3 2.3 0 1 0 -4.6 0M384.4 29.1a2.3 2.3 0 1 0 4.6 0a2.3 2.3 0 1 0 -4.6 0M384.7 32.0a2.3 2.3 0 1 0 4.6 0a2.3 2.3 0 1 0 -4.6 0M385.0 29.9a2.3 2.3 0 1 0 4.6 0a2.3 2.3 0 1 0 -4.6 0M385.3 28.8a2.3 2.3 0 1 0 4.6 0a2.3 2.3 0 1 0 -4.6 0M385.6 28.7a2.3 2.3 0 1 0 4.6 0a2.3 2.3 0 1 0 -4.6 0M385.9 30.3a2.3 2.3 0 1 0 4.6 0a2.3 2.3 0 1 0 -4.6 0M386.2 29.6a2.3 2.3 0 1 0 4.6 0a2.3 2.3 0 1 0 -4.6 0M386.5 29.5a2.3 2.3 0 1 0 4.6 0a2.3 2.3 0 1 0 -4.6 0M386.8 27.2a2.3 2.3 0 1 0 4.6 0a2.3 2.3 0 1 0 -4.6 0M387.1 29.1a2.3 2.3 0 1 0 4.6 0a2.3 2.3 0 1 0 -4.6 0M387.4 29.3a2.3 2.3 0 1 0 4.6 0a2.3 2.3 0 1 0 -4.6 0M387.7 29.7a2.3 2.3 0 1 0 4.6 0a2.3 2.3 0 1 0 -4.6 0M388.0 28.8a2.3 2.3 0 1 0 4.6 0a2.3 2.3 0 1 0 -4.6 0M388.3 29.7a2.3 2.3 0 1 0 4.6 0a2.3 2.3 0 1 0 -4.6 0M388.6 26.1a2.3 2.3 0 1 0 4.6 0a2.3 2.3 0 1 0 -4.6 0M388.9 28.0a2.3 2.3 0 1 0 4.6 0a2.3 2.3 0 1 0 -4.6 0M389.2 22.1a2.3 2.3 0 1 0 4.6 0a2.3 2.3 0 1 0 -4.6 0M389.5 23.2a2.3 2.3 0 1 0 4.6 0a2.3 2.3 0 1 0 -4.6 0M389.8 22.8a2.3 2.3 0 1 0 4.6 0a2.3 2.3 0 1 0 -4.6 0M390.1 25.4a2.3 2.3 0 1 0 4.6 0a2.3 2.3 0 1 0 -4.6 0M390.4 26.3a2.3 2.3 0 1 0 4.6 0a2.3 2.3 0 1 0 -4.6 0M390.7 27.4a2.3 2.3 0 1 0 4.6 0a2.3 2.3 0 1 0 -4.6 0M391.0 28.3a2.3 2.3 0 1 0 4.6 0a2.3 2.3 0 1 0 -4.6 0M391.3 25.2a2.3 2.3 0 1 0 4.6 0a2.3 2.3 0 1 0 -4.6 0M391.6 25.0a2.3 2.3 0 1 0 4.6 0a2.3 2.3 0 1 0 -4.6 0M391.9 26.7a2.3 2.3 0 1 0 4.6 0a2.3 2.3 0 1 0 -4.6 0M392.2 27.7a2.3 2.3 0 1 0 4.6 0a2.3 2.3 0 1 0 -4.6 0M392.5 27.6a2.3 2.3 0 1 0 4.6 0a2.3 2.3 0 1 0 -4.6 0M392.8 26.5a2.3 2.3 0 1 0 4.6 0a2.3 2.3 0 1 0 -4.6 0M393.1 28.3a2.3 2.3 0 1 0 4.6 0a2.3 2.3 0 1 0 -4.6 0M393.4 26.7a2.3 2.3 0 1 0 4.6 0a2.3 2.3 0 1 0 -4.6 0M393.7 28.8a2.3 2.3 0 1 0 4.6 0a2.3 2.3 0 1 0 -4.6 0M394.0 25.0a2.3 2.3 0 1 0 4.6 0a2.3 2.3 0 1 0 -4.6 0M394.3 26.5a2.3 2.3 0 1 0 4.6 0a2.3 2.3 0 1 0 -4.6 0M394.6 26.7a2.3 2.3 0 1 0 4.6 0a2.3 2.3 0 1 0 -4.6 0M394.9 27.8a2.3 2.3 0 1 0 4.6 0a2.3 2.3 0 1 0 -4.6 0M395.2 27.3a2.3 2.3 0 1 0 4.6 0a2.3 2.3 0 1 0 -4.6 0M395.5 25.3a2.3 2.3 0 1 0 4.6 0a2.3 2.3 0 1 0 -4.6 0M395.8 27.2a2.3 2.3 0 1 0 4.6 0a2.3 2.3 0 1 0 -4.6 0M396.1 25.1a2.3 2.3 0 1 0 4.6 0a2.3 2.3 0 1 0 -4.6 0M396.4 26.8a2.3 2.3 0 1 0 4.6 0a2.3 2.3 0 1 0 -4.6 0M396.7 24.4a2.3 2.3 0 1 0 4.6 0a2.3 2.3 0 1 0 -4.6 0M397.0 25.2a2.3 2.3 0 1 0 4.6 0a2.3 2.3 0 1 0 -4.6 0M397.3 26.7a2.3 2.3 0 1 0 4.6 0a2.3 2.3 0 1 0 -4.6 0M397.6 25.8a2.3 2.3 0 1 0 4.6 0a2.3 2.3 0 1 0 -4.6 0M397.9 26.8a2.3 2.3 0 1 0 4.6 0a2.3 2.3 0 1 0 -4.6 0M398.2 27.5a2.3 2.3 0 1 0 4.6 0a2.3 2.3 0 1 0 -4.6 0M398.5 27.7a2.3 2.3 0 1 0 4.6 0a2.3 2.3 0 1 0 -4.6 0M398.8 25.4a2.3 2.3 0 1 0 4.6 0a2.3 2.3 0 1 0 -4.6 0M399.1 29.3a2.3 2.3 0 1 0 4.6 0a2.3 2.3 0 1 0 -4.6 0M399.4 26.6a2.3 2.3 0 1 0 4.6 0a2.3 2.3 0 1 0 -4.6 0M399.7 28.1a2.3 2.3 0 1 0 4.6 0a2.3 2.3 0 1 0 -4.6 0M400.0 24.1a2.3 2.3 0 1 0 4.6 0a2.3 2.3 0 1 0 -4.6 0M400.3 28.2a2.3 2.3 0 1 0 4.6 0a2.3 2.3 0 1 0 -4.6 0M400.6 27.0a2.3 2.3 0 1 0 4.6 0a2.3 2.3 0 1 0 -4.6 0M400.9 24.9a2.3 2.3 0 1 0 4.6 0a2.3 2.3 0 1 0 -4.6 0M401.2 26.3a2.3 2.3 0 1 0 4.6 0a2.3 2.3 0 1 0 -4.6 0M401.5 29.5a2.3 2.3 0 1 0 4.6 0a2.3 2.3 0 1 0 -4.6 0M401.8 28.4a2.3 2.3 0 1 0 4.6 0a2.3 2.3 0 1 0 -4.6 0M402.1 29.8a2.3 2.3 0 1 0 4.6 0a2.3 2.3 0 1 0 -4.6 0M402.4 28.6a2.3 2.3 0 1 0 4.6 0a2.3 2.3 0 1 0 -4.6 0M402.7 27.4a2.3 2.3 0 1 0 4.6 0a2.3 2.3 0 1 0 -4.6 0M403.0 26.8a2.3 2.3 0 1 0 4.6 0a2.3 2.3 0 1 0 -4.6 0M403.3 28.7a2.3 2.3 0 1 0 4.6 0a2.3 2.3 0 1 0 -4.6 0M403.6 29.9a2.3 2.3 0 1 0 4.6 0a2.3 2.3 0 1 0 -4.6 0M403.9 30.0a2.3 2.3 0 1 0 4.6 0a2.3 2.3 0 1 0 -4.6 0M404.2 26.5a2.3 2.3 0 1 0 4.6 0a2.3 2.3 0 1 0 -4.6 0M404.5 26.1a2.3 2.3 0 1 0 4.6 0a2.3 2.3 0 1 0 -4.6 0M404.8 27.7a2.3 2.3 0 1 0 4.6 0a2.3 2.3 0 1 0 -4.6 0M405.1 26.5a2.3 2.3 0 1 0 4.6 0a2.3 2.3 0 1 0 -4.6 0M405.4 26.6a2.3 2.3 0 1 0 4.6 0a2.3 2.3 0 1 0 -4.6 0M405.7 25.5a2.3 2.3 0 1 0 4.6 0a2.3 2.3 0 1 0 -4.6 0M406.0 29.3a2.3 2.3 0 1 0 4.6 0a2.3 2.3 0 1 0 -4.6 0M406.3 26.5a2.3 2.3 0 1 0 4.6 0a2.3 2.3 0 1 0 -4.6 0M406.6 25.9a2.3 2.3 0 1 0 4.6 0a2.3 2.3 0 1 0 -4.6 0M406.9 25.8a2.3 2.3 0 1 0 4.6 0a2.3 2.3 0 1 0 -4.6 0M407.2 27.1a2.3 2.3 0 1 0 4.6 0a2.3 2.3 0 1 0 -4.6 0M407.5 26.4a2.3 2.3 0 1 0 4.6 0a2.3 2.3 0 1 0 -4.6 0M407.8 28.0a2.3 2.3 0 1 0 4.6 0a2.3 2.3 0 1 0 -4.6 0M408.1 27.1a2.3 2.3 0 1 0 4.6 0a2.3 2.3 0 1 0 -4.6 0M408.4 23.6a2.3 2.3 0 1 0 4.6 0a2.3 2.3 0 1 0 -4.6 0M408.7 26.8a2.3 2.3 0 1 0 4.6 0a2.3 2.3 0 1 0 -4.6 0M409.0 27.0a2.3 2.3 0 1 0 4.6 0a2.3 2.3 0 1 0 -4.6 0M409.3 26.8a2.3 2.3 0 1 0 4.6 0a2.3 2.3 0 1 0 -4.6 0M409.6 27.6a2.3 2.3 0 1 0 4.6 0a2.3 2.3 0 1 0 -4.6 0M409.9 29.3a2.3 2.3 0 1 0 4.6 0a2.3 2.3 0 1 0 -4.6 0M410.2 30.1a2.3 2.3 0 1 0 4.6 0a2.3 2.3 0 1 0 -4.6 0M410.5 31.0a2.3 2.3 0 1 0 4.6 0a2.3 2.3 0 1 0 -4.6 0M410.8 29.2a2.3 2.3 0 1 0 4.6 0a2.3 2.3 0 1 0 -4.6 0M411.1 32.5a2.3 2.3 0 1 0 4.6 0a2.3 2.3 0 1 0 -4.6 0M411.4 31.2a2.3 2.3 0 1 0 4.6 0a2.3 2.3 0 1 0 -4.6 0M411.7 30.3a2.3 2.3 0 1 0 4.6 0a2.3 2.3 0 1 0 -4.6 0M412.0 25.9a2.3 2.3 0 1 0 4.6 0a2.3 2.3 0 1 0 -4.6 0M412.3 28.7a2.3 2.3 0 1 0 4.6 0a2.3 2.3 0 1 0 -4.6 0M412.6 28.5a2.3 2.3 0 1 0 4.6 0a2.3 2.3 0 1 0 -4.6 0M412.9 27.9a2.3 2.3 0 1 0 4.6 0a2.3 2.3 0 1 0 -4.6 0M413.2 28.9a2.3 2.3 0 1 0 4.6 0a2.3 2.3 0 1 0 -4.6 0M413.5 32.6a2.3 2.3 0 1 0 4.6 0a2.3 2.3 0 1 0 -4.6 0M413.8 33.7a2.3 2.3 0 1 0 4.6 0a2.3 2.3 0 1 0 -4.6 0M414.1 30.1a2.3 2.3 0 1 0 4.6 0a2.3 2.3 0 1 0 -4.6 0M414.4 33.0a2.3 2.3 0 1 0 4.6 0a2.3 2.3 0 1 0 -4.6 0M414.7 34.7a2.3 2.3 0 1 0 4.6 0a2.3 2.3 0 1 0 -4.6 0M415.0 35.7a2.3 2.3 0 1 0 4.6 0a2.3 2.3 0 1 0 -4.6 0M415.3 35.7a2.3 2.3 0 1 0 4.6 0a2.3 2.3 0 1 0 -4.6 0M415.6 36.8a2.3 2.3 0 1 0 4.6 0a2.3 2.3 0 1 0 -4.6 0M415.9 33.2a2.3 2.3 0 1 0 4.6 0a2.3 2.3 0 1 0 -4.6 0M416.2 35.5a2.3 2.3 0 1 0 4.6 0a2.3 2.3 0 1 0 -4.6 0M416.5 36.5a2.3 2.3 0 1 0 4.6 0a2.3 2.3 0 1 0 -4.6 0M416.8 37.0a2.3 2.3 0 1 0 4.6 0a2.3 2.3 0 1 0 -4.6 0M417.1 37.0a2.3 2.3 0 1 0 4.6 0a2.3 2.3 0 1 0 -4.6 0M417.4 37.2a2.3 2.3 0 1 0 4.6 0a2.3 2.3 0 1 0 -4.6 0M417.7 36.8a2.3 2.3 0 1 0 4.6 0a2.3 2.3 0 1 0 -4.6 0M418.0 36.6a2.3 2.3 0 1 0 4.6 0a2.3 2.3 0 1 0 -4.6 0M418.3 38.0a2.3 2.3 0 1 0 4.6 0a2.3 2.3 0 1 0 -4.6 0M418.6 37.3a2.3 2.3 0 1 0 4.6 0a2.3 2.3 0 1 0 -4.6 0M418.9 37.0a2.3 2.3 0 1 0 4.6 0a2.3 2.3 0 1 0 -4.6 0M419.2 38.8a2.3 2.3 0 1 0 4.6 0a2.3 2.3 0 1 0 -4.6 0M419.5 37.6a2.3 2.3 0 1 0 4.6 0a2.3 2.3 0 1 0 -4.6 0M419.8 37.9a2.3 2.3 0 1 0 4.6 0a2.3 2.3 0 1 0 -4.6 0M420.1 40.6a2.3 2.3 0 1 0 4.6 0a2.3 2.3 0 1 0 -4.6 0M420.4 39.4a2.3 2.3 0 1 0 4.6 0a2.3 2.3 0 1 0 -4.6 0M420.7 41.4a2.3 2.3 0 1 0 4.6 0a2.3 2.3 0 1 0 -4.6 0M421.0 42.1a2.3 2.3 0 1 0 4.6 0a2.3 2.3 0 1 0 -4.6 0M421.3 42.3a2.3 2.3 0 1 0 4.6 0a2.3 2.3 0 1 0 -4.6 0M421.6 43.3a2.3 2.3 0 1 0 4.6 0a2.3 2.3 0 1 0 -4.6 0M421.9 38.7a2.3 2.3 0 1 0 4.6 0a2.3 2.3 0 1 0 -4.6 0M422.2 41.4a2.3 2.3 0 1 0 4.6 0a2.3 2.3 0 1 0 -4.6 0M422.5 39.8a2.3 2.3 0 1 0 4.6 0a2.3 2.3 0 1 0 -4.6 0M422.8 44.0a2.3 2.3 0 1 0 4.6 0a2.3 2.3 0 1 0 -4.6 0M423.1 41.4a2.3 2.3 0 1 0 4.6 0a2.3 2.3 0 1 0 -4.6 0M423.4 43.0a2.3 2.3 0 1 0 4.6 0a2.3 2.3 0 1 0 -4.6 0M423.7 42.1a2.3 2.3 0 1 0 4.6 0a2.3 2.3 0 1 0 -4.6 0M424.0 41.1a2.3 2.3 0 1 0 4.6 0a2.3 2.3 0 1 0 -4.6 0M424.3 44.6a2.3 2.3 0 1 0 4.6 0a2.3 2.3 0 1 0 -4.6 0M424.6 40.7a2.3 2.3 0 1 0 4.6 0a2.3 2.3 0 1 0 -4.6 0M424.9 39.9a2.3 2.3 0 1 0 4.6 0a2.3 2.3 0 1 0 -4.6 0M425.2 39.9a2.3 2.3 0 1 0 4.6 0a2.3 2.3 0 1 0 -4.6 0M425.5 40.0a2.3 2.3 0 1 0 4.6 0a2.3 2.3 0 1 0 -4.6 0M425.8 41.6a2.3 2.3 0 1 0 4.6 0a2.3 2.3 0 1 0 -4.6 0M426.1 41.2a2.3 2.3 0 1 0 4.6 0a2.3 2.3 0 1 0 -4.6 0M426.4 42.8a2.3 2.3 0 1 0 4.6 0a2.3 2.3 0 1 0 -4.6 0M426.7 45.2a2.3 2.3 0 1 0 4.6 0a2.3 2.3 0 1 0 -4.6 0M427.0 46.1a2.3 2.3 0 1 0 4.6 0a2.3 2.3 0 1 0 -4.6 0M427.3 43.6a2.3 2.3 0 1 0 4.6 0a2.3 2.3 0 1 0 -4.6 0M427.6 43.8a2.3 2.3 0 1 0 4.6 0a2.3 2.3 0 1 0 -4.6 0M427.9 43.7a2.3 2.3 0 1 0 4.6 0a2.3 2.3 0 1 0 -4.6 0M428.2 44.7a2.3 2.3 0 1 0 4.6 0a2.3 2.3 0 1 0 -4.6 0M428.5 45.0a2.3 2.3 0 1 0 4.6 0a2.3 2.3 0 1 0 -4.6 0M428.8 44.5a2.3 2.3 0 1 0 4.6 0a2.3 2.3 0 1 0 -4.6 0M429.1 41.5a2.3 2.3 0 1 0 4.6 0a2.3 2.3 0 1 0 -4.6 0M429.4 44.5a2.3 2.3 0 1 0 4.6 0a2.3 2.3 0 1 0 -4.6 0M429.7 41.7a2.3 2.3 0 1 0 4.6 0a2.3 2.3 0 1 0 -4.6 0M430.0 44.3a2.3 2.3 0 1 0 4.6 0a2.3 2.3 0 1 0 -4.6 0M430.3 45.0a2.3 2.3 0 1 0 4.6 0a2.3 2.3 0 1 0 -4.6 0M430.6 41.9a2.3 2.3 0 1 0 4.6 0a2.3 2.3 0 1 0 -4.6 0M430.9 39.9a2.3 2.3 0 1 0 4.6 0a2.3 2.3 0 1 0 -4.6 0M431.2 40.8a2.3 2.3 0 1 0 4.6 0a2.3 2.3 0 1 0 -4.6 0M431.5 40.0a2.3 2.3 0 1 0 4.6 0a2.3 2.3 0 1 0 -4.6 0M431.8 39.3a2.3 2.3 0 1 0 4.6 0a2.3 2.3 0 1 0 -4.6 0M432.1 40.1a2.3 2.3 0 1 0 4.6 0a2.3 2.3 0 1 0 -4.6 0M432.4 37.2a2.3 2.3 0 1 0 4.6 0a2.3 2.3 0 1 0 -4.6 0M432.7 35.8a2.3 2.3 0 1 0 4.6 0a2.3 2.3 0 1 0 -4.6 0M433.0 36.2a2.3 2.3 0 1 0 4.6 0a2.3 2.3 0 1 0 -4.6 0M433.3 35.1a2.3 2.3 0 1 0 4.6 0a2.3 2.3 0 1 0 -4.6 0M433.6 36.4a2.3 2.3 0 1 0 4.6 0a2.3 2.3 0 1 0 -4.6 0M433.9 32.2a2.3 2.3 0 1 0 4.6 0a2.3 2.3 0 1 0 -4.6 0" fill="#6aa8d4"/>
<path d="M265.9 86.9a1.1 1.1 0 1 0 2.2 0a1.1 1.1 0 1 0 -2.2 0M266.3 87.4a1.1 1.1 0 1 0 2.2 0a1.1 1.1 0 1 0 -2.2 0M266.8 84.5a1.1 1.1 0 1 0 2.2 0a1.1 1.1 0 1 0 -2.2 0M267.2 86.4a1.1 1.1 0 1 0 2.2 0a1.1 1.1 0 1 0 -2.2 0M267.7 85.4a1.1 1.1 0 1 0 2.2 0a1.1 1.1 0 1 0 -2.2 0M268.1 83.7a1.1 1.1 0 1 0 2.2 0a1.1 1.1 0 1 0 -2.2 0M268.6 85.4a1.1 1.1 0 1 0 2.2 0a1.1 1.1 0 1 0 -2.2 0M269.0 84.3a1.1 1.1 0 1 0 2.2 0a1.1 1.1 0 1 0 -2.2 0M269.5 83.0a1.1 1.1 0 1 0 2.2 0a1.1 1.1 0 1 0 -2.2 0M269.9 84.1a1.1 1.1 0 1 0 2.2 0a1.1 1.1 0 1 0 -2.2 0M270.4 83.9a1.1 1.1 0 1 0 2.2 0a1.1 1.1 0 1 0 -2.2 0M270.8 81.4a1.1 1.1 0 1 0 2.2 0a1.1 1.1 0 1 0 -2.2 0M271.3 80.0a1.1 1.1 0 1 0 2.2 0a1.1 1.1 0 1 0 -2.2 0M271.7 81.7a1.1 1.1 0 1 0 2.2 0a1.1 1.1 0 1 0 -2.2 0M272.2 79.0a1.1 1.1 0 1 0 2.2 0a1.1 1.1 0 1 0 -2.2 0M272.6 80.0a1.1 1.1 0 1 0 2.2 0a1.1 1.1 0 1 0 -2.2 0M273.1 78.7a1.1 1.1 0 1 0 2.2 0a1.1 1.1 0 1 0 -2.2 0M273.5 77.2a1.1 1.1 0 1 0 2.2 0a1.1 1.1 0 1 0 -2.2 0M274.0 73.9a1.1 1.1 0 1 0 2.2 0a1.1 1.1 0 1 0 -2.2 0M274.4 71.2a1.1 1.1 0 1 0 2.2 0a1.1 1.1 0 1 0 -2.2 0M274.9 69.6a1.1 1.1 0 1 0 2.2 0a1.1 1.1 0 1 0 -2.2 0M275.3 72.5a1.1 1.1 0 1 0 2.2 0a1.1 1.1 0 1 0 -2.2 0M275.8 72.0a1.1 1.1 0 1 0 2.2 0a1.1 1.1 0 1 0 -2.2 0M276.2 69.7a1.1 1.1 0 1 0 2.2 0a1.1 1.1 0 1 0 -2.2 0M276.7 71.5a1.1 1.1 0 1 0 2.2 0a1.1 1.1 0 1 0 -2.2 0M277.1 68.7a1.1 1.1 0 1 0 2.2 0a1.1 1.1 0 1 0 -2.2 0M277.6 65.5a1.1 1.1 0 1 0 2.2 0a1.1 1.1 0 1 0 -2.2 0M278.0 64.8a1.1 1.1 0 1 0 2.2 0a1.1 1.1 0 1 0 -2.2 0M278.5 65.7a1.1 1.1 0 1 0 2.2 0a1.1 1.1 0 1 0 -2.2 0M278.9 67.2a1.1 1.1 0 1 0 2.2 0a1.1 1.1 0 1 0 -2.2 0M279.4 65.1a1.1 1.1 0 1 0 2.2 0a1.1 1.1 0 1 0 -2.2 0M279.8 65.5a1.1 1.1 0 1 0 2.2 0a1.1 1.1 0 1 0 -2.2 0M280.3 68.9a1.1 1.1 0 1 0 2.2 0a1.1 1.1 0 1 0 -2.2 0M280.7 69.5a1.1 1.1 0 1 0 2.2 0a1.1 1.1 0 1 0 -2.2 0M281.2 67.3a1.1 1.1 0 1 0 2.2 0a1.1 1.1 0 1 0 -2.2 0M281.6 68.6a1.1 1.1 0 1 0 2.2 0a1.1 1.1 0 1 0 -2.2 0M282.1 73.8a1.1 1.1 0 1 0 2.2 0a1.1 1.1 0 1 0 -2.2 0M282.5 70.9a1.1 1.1 0 1 0 2.2 0a1.1 1.1 0 1 0 -2.2 0M283.0 72.9a1.1 1.1 0 1 0 2.2 0a1.1 1.1 0 1 0 -2.2 0M283.4 70.9a1.1 1.1 0 1 0 2.2 0a1.1 1.1 0 1 0 -2.2 0M283.9 75.6a1.1 1.1 0 1 0 2.2 0a1.1 1.1 0 1 0 -2.2 0M284.3 79.3a1.1 1.1 0 1 0 2.2 0a1.1 1.1 0 1 0 -2.2 0M284.8 82.4a1.1 1.1 0 1 0 2.2 0a1.1 1.1 0 1 0 -2.2 0M285.2 84.0a1.1 1.1 0 1 0 2.2 0a1.1 1.1 0 1 0 -2.2 0M285.7 85.6a1.1 1.1 0 1 0 2.2 0a1.1 1.1 0 1 0 -2.2 0M286.1 87.2a1.1 1.1 0 1 0 2.2 0a1.1 1.1 0 1 0 -2.2 0M286.6 84.3a1.1 1.1 0 1 0 2.2 0a1.1 1.1 0 1 0 -2.2 0M287.0 85.2a1.1 1.1 0 1 0 2.2 0a1.1 1.1 0 1 0 -2.2 0M287.5 85.2a1.1 1.1 0 1 0 2.2 0a1.1 1.1 0 1 0 -2.2 0M287.9 81.7a1.1 1.1 0 1 0 2.2 0a1.1 1.1 0 1 0 -2.2 0M288.4 82.6a1.1 1.1 0 1 0 2.2 0a1.1 1.1 0 1 0 -2.2 0M288.8 84.0a1.1 1.1 0 1 0 2.2 0a1.1 1.1 0 1 0 -2.2 0M289.3 82.6a1.1 1.1 0 1 0 2.2 0a1.1 1.1 0 1 0 -2.2 0M289.7 86.3a1.1 1.1 0 1 0 2.2 0a1.1 1.1 0 1 0 -2.2 0M290.2 84.4a1.1 1.1 0 1 0 2.2 0a1.1 1.1 0 1 0 -2.2 0M290.6 83.1a1.1 1.1 0 1 0 2.2 0a1.1 1.1 0 1 0 -2.2 0M291.1 85.0a1.1 1.1 0 1 0 2.2 0a1.1 1.1 0 1 0 -2.2 0M291.5 81.3a1.1 1.1 0 1 0 2.2 0a1.1 1.1 0 1 0 -2.2 0M292.0 82.5a1.1 1.1 0 1 0 2.2 0a1.1 1.1 0 1 0 -2.2 0M292.4 83.4a1.1 1.1 0 1 0 2.2 0a1.1 1.1 0 1 0 -2.2 0M292.9 87.2a1.1 1.1 0 1 0 2.2 0a1.1 1.1 0 1 0 -2.2 0M293.3 85.2a1.1 1.1 0 1 0 2.2 0a1.1 1.1 0 1 0 -2.2 0M293.8 84.9a1.1 1.1 0 1 0 2.2 0a1.1 1.1 0 1 0 -2.2 0M294.2 86.1a1.1 1.1 0 1 0 2.2 0a1.1 1.1 0 1 0 -2.2 0M294.7 83.4a1.1 1.1 0 1 0 2.2 0a1.1 1.1 0 1 0 -2.2 0M295.1 86.3a1.1 1.1 0 1 0 2.2 0a1.1 1.1 0 1 0 -2.2 0M295.6 84.9a1.1 1.1 0 1 0 2.2 0a1.1 1.1 0 1 0 -2.2 0M296.0 84.8a1.1 1.1 0 1 0 2.2 0a1.1 1.1 0 1 0 -2.2 0M296.5 84.7a1.1 1.1 0 1 0 2.2 0a1.1 1.1 0 1 0 -2.2 0M296.9 84.9a1.1 1.1 0 1 0 2.2 0a1.1 1.1 0 1 0 -2.2 0M297.4 87.0a1.1 1.1 0 1 0 2.2 0a1.1 1.1 0 1 0 -2.2 0M297.8 89.0a1.1 1.1 0 1 0 2.2 0a1.1 1.1 0 1 0 -2.2 0M298.3 91.5a1.1 1.1 0 1 0 2.2 0a1.1 1.1 0 1 0 -2.2 0M298.7 93.3a1.1 1.1 0 1 0 2.2 0a1.1 1.1 0 1 0 -2.2 0M299.2 94.2a1.1 1.1 0 1 0 2.2 0a1.1 1.1 0 1 0 -2.2 0M299.6 93.8a1.1 1.1 0 1 0 2.2 0a1.1 1.1 0 1 0 -2.2 0M300.1 97.0a1.1 1.1 0 1 0 2.2 0a1.1 1.1 0 1 0 -2.2 0M300.5 95.7a1.1 1.1 0 1 0 2.2 0a1.1 1.1 0 1 0 -2.2 0M301.0 98.4a1.1 1.1 0 1 0 2.2 0a1.1 1.1 0 1 0 -2.2 0M301.4 99.7a1.1 1.1 0 1 0 2.2 0a1.1 1.1 0 1 0 -2.2 0M301.9 100.3a1.1 1.1 0 1 0 2.2 0a1.1 1.1 0 1 0 -2.2 0M302.3 96.8a1.1 1.1 0 1 0 2.2 0a1.1 1.1 0 1 0 -2.2 0M302.8 95.1a1.1 1.1 0 1 0 2.2 0a1.1 1.1 0 1 0 -2.2 0M303.2 92.0a1.1 1.1 0 1 0 2.2 0a1.1 1.1 0 1 0 -2.2 0M303.7 90.3a1.1 1.1 0 1 0 2.2 0a1.1 1.1 0 1 0 -2.2 0M304.1 89.8a1.1 1.1 0 1 0 2.2 0a1.1 1.1 0 1 0 -2.2 0M304.6 89.0a1.1 1.1 0 1 0 2.2 0a1.1 1.1 0 1 0 -2.2 0M305.0 90.5a1.1 1.1 0 1 0 2.2 0a1.1 1.1 0 1 0 -2.2 0M305.5 89.8a1.1 1.1 0 1 0 2.2 0a1.1 1.1 0 1 0 -2.2 0M305.9 88.2a1.1 1.1 0 1 0 2.2 0a1.1 1.1 0 1 0 -2.2 0M306.4 89.9a1.1 1.1 0 1 0 2.2 0a1.1 1.1 0 1 0 -2.2 0M306.8 85.1a1.1 1.1 0 1 0 2.2 0a1.1 1.1 0 1 0 -2.2 0M307.3 86.6a1.1 1.1 0 1 0 2.2 0a1.1 1.1 0 1 0 -2.2 0M307.7 83.9a1.1 1.1 0 1 0 2.2 0a1.1 1.1 0 1 0 -2.2 0M308.2 83.2a1.1 1.1 0 1 0 2.2 0a1.1 1.1 0 1 0 -2.2 0M308.6 82.1a1.1 1.1 0 1 0 2.2 0a1.1 1.1 0 1 0 -2.2 0M309.1 79.3a1.1 1.1 0 1 0 2.2 0a1.1 1.1 0 1 0 -2.2 0M309.5 78.1a1.1 1.1 0 1 0 2.2 0a1.1 1.1 0 1 0 -2.2 0M310.0 80.6a1.1 1.1 0 1 0 2.2 0a1.1 1.1 0 1 0 -2.2 0M310.4 80.3a1.1 1.1 0 1 0 2.2 0a1.1 1.1 0 1 0 -2.2 0M310.9 74.4a1.1 1.1 0 1 0 2.2 0a1.1 1.1 0 1 0 -2.2 0M311.3 77.0a1.1 1.1 0 1 0 2.2 0a1.1 1.1 0 1 0 -2.2 0M311.8 73.3a1.1 1.1 0 1 0 2.2 0a1.1 1.1 0 1 0 -2.2 0M312.2 71.6a1.1 1.1 0 1 0 2.2 0a1.1 1.1 0 1 0 -2.2 0M312.7 69.6a1.1 1.1 0 1 0 2.2 0a1.1 1.1 0 1 0 -2.2 0M313.1 68.1a1.1 1.1 0 1 0 2.2 0a1.1 1.1 0 1 0 -2.2 0M313.6 70.4a1.1 1.1 0 1 0 2.2 0a1.1 1.1 0 1 0 -2.2 0M314.0 71.6a1.1 1.1 0 1 0 2.2 0a1.1 1.1 0 1 0 -2.2 0M314.5 69.0a1.1 1.1 0 1 0 2.2 0a1.1 1.1 0 1 0 -2.2 0M314.9 66.9a1.1 1.1 0 1 0 2.2 0a1.1 1.1 0 1 0 -2.2 0M315.4 68.8a1.1 1.1 0 1 0 2.2 0a1.1 1.1 0 1 0 -2.2 0M315.8 69.6a1.1 1.1 0 1 0 2.2 0a1.1 1.1 0 1 0 -2.2 0M316.3 63.9a1.1 1.1 0 1 0 2.2 0a1.1 1.1 0 1 0 -2.2 0M316.7 64.2a1.1 1.1 0 1 0 2.2 0a1.1 1.1 0 1 0 -2.2 0M317.2 67.5a1.1 1.1 0 1 0 2.2 0a1.1 1.1 0 1 0 -2.2 0M317.6 65.1a1.1 1.1 0 1 0 2.2 0a1.1 1.1 0 1 0 -2.2 0M318.1 66.7a1.1 1.1 0 1 0 2.2 0a1.1 1.1 0 1 0 -2.2 0M318.5 62.2a1.1 1.1 0 1 0 2.2 0a1.1 1.1 0 1 0 -2.2 0M319.0 63.6a1.1 1.1 0 1 0 2.2 0a1.1 1.1 0 1 0 -2.2 0M319.4 62.4a1.1 1.1 0 1 0 2.2 0a1.1 1.1 0 1 0 -2.2 0M319.9 63.6a1.1 1.1 0 1 0 2.2 0a1.1 1.1 0 1 0 -2.2 0M320.3 59.3a1.1 1.1 0 1 0 2.2 0a1.1 1.1 0 1 0 -2.2 0M320.8 61.5a1.1 1.1 0 1 0 2.2 0a1.1 1.1 0 1 0 -2.2 0M321.2 61.4a1.1 1.1 0 1 0 2.2 0a1.1 1.1 0 1 0 -2.2 0M321.7 58.6a1.1 1.1 0 1 0 2.2 0a1.1 1.1 0 1 0 -2.2 0M322.1 58.3a1.1 1.1 0 1 0 2.2 0a1.1 1.1 0 1 0 -2.2 0M322.6 58.0a1.1 1.1 0 1 0 2.2 0a1.1 1.1 0 1 0 -2.2 0M323.0 59.2a1.1 1.1 0 1 0 2.2 0a1.1 1.1 0 1 0 -2.2 0M323.5 58.1a1.1 1.1 0 1 0 2.2 0a1.1 1.1 0 1 0 -2.2 0M323.9 58.3a1.1 1.1 0 1 0 2.2 0a1.1 1.1 0 1 0 -2.2 0M324.4 54.3a1.1 1.1 0 1 0 2.2 0a1.1 1.1 0 1 0 -2.2 0M324.8 55.7a1.1 1.1 0 1 0 2.2 0a1.1 1.1 0 1 0 -2.2 0M325.3 49.9a1.1 1.1 0 1 0 2.2 0a1.1 1.1 0 1 0 -2.2 0M325.7 52.4a1.1 1.1 0 1 0 2.2 0a1.1 1.1 0 1 0 -2.2 0M326.2 49.6a1.1 1.1 0 1 0 2.2 0a1.1 1.1 0 1 0 -2.2 0M326.6 48.9a1.1 1.1 0 1 0 2.2 0a1.1 1.1 0 1 0 -2.2 0M327.1 46.8a1.1 1.1 0 1 0 2.2 0a1.1 1.1 0 1 0 -2.2 0M327.5 44.7a1.1 1.1 0 1 0 2.2 0a1.1 1.1 0 1 0 -2.2 0M328.0 47.1a1.1 1.1 0 1 0 2.2 0a1.1 1.1 0 1 0 -2.2 0M328.4 42.6a1.1 1.1 0 1 0 2.2 0a1.1 1.1 0 1 0 -2.2 0M328.9 43.4a1.1 1.1 0 1 0 2.2 0a1.1 1.1 0 1 0 -2.2 0M329.3 39.3a1.1 1.1 0 1 0 2.2 0a1.1 1.1 0 1 0 -2.2 0M329.8 37.2a1.1 1.1 0 1 0 2.2 0a1.1 1.1 0 1 0 -2.2 0M330.2 37.0a1.1 1.1 0 1 0 2.2 0a1.1 1.1 0 1 0 -2.2 0M330.7 40.3a1.1 1.1 0 1 0 2.2 0a1.1 1.1 0 1 0 -2.2 0M331.1 37.0a1.1 1.1 0 1 0 2.2 0a1.1 1.1 0 1 0 -2.2 0M331.6 38.7a1.1 1.1 0 1 0 2.2 0a1.1 1.1 0 1 0 -2.2 0M332.0 37.4a1.1 1.1 0 1 0 2.2 0a1.1 1.1 0 1 0 -2.2 0M332.5 36.1a1.1 1.1 0 1 0 2.2 0a1.1 1.1 0 1 0 -2.2 0M332.9 34.1a1.1 1.1 0 1 0 2.2 0a1.1 1.1 0 1 0 -2.2 0M333.4 36.2a1.1 1.1 0 1 0 2.2 0a1.1 1.1 0 1 0 -2.2 0M333.8 34.9a1.1 1.1 0 1 0 2.2 0a1.1 1.1 0 1 0 -2.2 0M334.3 35.4a1.1 1.1 0 1 0 2.2 0a1.1 1.1 0 1 0 -2.2 0M334.7 37.9a1.1 1.1 0 1 0 2.2 0a1.1 1.1 0 1 0 -2.2 0M335.2 38.6a1.1 1.1 0 1 0 2.2 0a1.1 1.1 0 1 0 -2.2 0M335.6 41.7a1.1 1.1 0 1 0 2.2 0a1.1 1.1 0 1 0 -2.2 0M336.1 41.3a1.1 1.1 0 1 0 2.2 0a1.1 1.1 0 1 0 -2.2 0M336.5 41.8a1.1 1.1 0 1 0 2.2 0a1.1 1.1 0 1 0 -2.2 0M337.0 42.4a1.1 1.1 0 1 0 2.2 0a1.1 1.1 0 1 0 -2.2 0M337.4 43.6a1.1 1.1 0 1 0 2.2 0a1.1 1.1 0 1 0 -2.2 0M337.9 45.3a1.1 1.1 0 1 0 2.2 0a1.1 1.1 0 1 0 -2.2 0M338.3 46.8a1.1 1.1 0 1 0 2.2 0a1.1 1.1 0 1 0 -2.2 0M338.8 42.2a1.1 1.1 0 1 0 2.2 0a1.1 1.1 0 1 0 -2.2 0M339.2 40.6a1.1 1.1 0 1 0 2.2 0a1.1 1.1 0 1 0 -2.2 0M339.7 41.1a1.1 1.1 0 1 0 2.2 0a1.1 1.1 0 1 0 -2.2 0M340.1 39.4a1.1 1.1 0 1 0 2.2 0a1.1 1.1 0 1 0 -2.2 0M340.6 40.7a1.1 1.1 0 1 0 2.2 0a1.1 1.1 0 1 0 -2.2 0M341.0 38.2a1.1 1.1 0 1 0 2.2 0a1.1 1.1 0 1 0 -2.2 0M341.5 35.8a1.1 1.1 0 1 0 2.2 0a1.1 1.1 0 1 0 -2.2 0M341.9 38.0a1.1 1.1 0 1 0 2.2 0a1.1 1.1 0 1 0 -2.2 0M342.4 37.2a1.1 1.1 0 1 0 2.2 0a1.1 1.1 0 1 0 -2.2 0M342.8 37.1a1.1 1.1 0 1 0 2.2 0a1.1 1.1 0 1 0 -2.2 0M343.3 35.1a1.1 1.1 0 1 0 2.2 0a1.1 1.1 0 1 0 -2.2 0M343.7 34.0a1.1 1.1 0 1 0 2.2 0a1.1 1.1 0 1 0 -2.2 0M344.2 31.7a1.1 1.1 0 1 0 2.2 0a1.1 1.1 0 1 0 -2.2 0M344.6 35.2a1.1 1.1 0 1 0 2.2 0a1.1 1.1 0 1 0 -2.2 0M345.1 32.2a1.1 1.1 0 1 0 2.2 0a1.1 1.1 0 1 0 -2.2 0M345.5 32.7a1.1 1.1 0 1 0 2.2 0a1.1 1.1 0 1 0 -2.2 0M346.0 31.1a1.1 1.1 0 1 0 2.2 0a1.1 1.1 0 1 0 -2.2 0M346.4 30.9a1.1 1.1 0 1 0 2.2 0a1.1 1.1 0 1 0 -2.2 0M346.9 35.7a1.1 1.1 0 1 0 2.2 0a1.1 1.1 0 1 0 -2.2 0M347.3 35.8a1.1 1.1 0 1 0 2.2 0a1.1 1.1 0 1 0 -2.2 0M347.8 37.1a1.1 1.1 0 1 0 2.2 0a1.1 1.1 0 1 0 -2.2 0M348.2 39.4a1.1 1.1 0 1 0 2.2 0a1.1 1.1 0 1 0 -2.2 0M348.7 37.6a1.1 1.1 0 1 0 2.2 0a1.1 1.1 0 1 0 -2.2 0M349.1 37.5a1.1 1.1 0 1 0 2.2 0a1.1 1.1 0 1 0 -2.2 0M349.6 42.7a1.1 1.1 0 1 0 2.2 0a1.1 1.1 0 1 0 -2.2 0M350.0 42.8a1.1 1.1 0 1 0 2.2 0a1.1 1.1 0 1 0 -2.2 0M350.5 41.9a1.1 1.1 0 1 0 2.2 0a1.1 1.1 0 1 0 -2.2 0M350.9 42.5a1.1 1.1 0 1 0 2.2 0a1.1 1.1 0 1 0 -2.2 0M351.4 44.9a1.1 1.1 0 1 0 2.2 0a1.1 1.1 0 1 0 -2.2 0M351.8 47.0a1.1 1.1 0 1 0 2.2 0a1.1 1.1 0 1 0 -2.2 0M352.3 48.7a1.1 1.1 0 1 0 2.2 0a1.1 1.1 0 1 0 -2.2 0M352.7 46.7a1.1 1.1 0 1 0 2.2 0a1.1 1.1 0 1 0 -2.2 0M353.2 46.5a1.1 1.1 0 1 0 2.2 0a1.1 1.1 0 1 0 -2.2 0M353.6 49.1a1.1 1.1 0 1 0 2.2 0a1.1 1.1 0 1 0 -2.2 0M354.1 49.0a1.1 1.1 0 1 0 2.2 0a1.1 1.1 0 1 0 -2.2 0M354.5 47.2a1.1 1.1 0 1 0 2.2 0a1.1 1.1 0 1 0 -2.2 0M355.0 47.4a1.1 1.1 0 1 0 2.2 0a1.1 1.1 0 1 0 -2.2 0M355.4 45.9a1.1 1.1 0 1 0 2.2 0a1.1 1.1 0 1 0 -2.2 0M355.9 45.4a1.1 1.1 0 1 0 2.2 0a1.1 1.1 0 1 0 -2.2 0M356.3 47.1a1.1 1.1 0 1 0 2.2 0a1.1 1.1 0 1 0 -2.2 0M356.8 48.6a1.1 1.1 0 1 0 2.2 0a1.1 1.1 0 1 0 -2.2 0M357.2 48.5a1.1 1.1 0 1 0 2.2 0a1.1 1.1 0 1 0 -2.2 0M357.7 49.0a1.1 1.1 0 1 0 2.2 0a1.1 1.1 0 1 0 -2.2 0M358.1 45.2a1.1 1.1 0 1 0 2.2 0a1.1 1.1 0 1 0 -2.2 0M358.6 46.4a1.1 1.1 0 1 0 2.2 0a1.1 1.1 0 1 0 -2.2 0M359.0 48.0a1.1 1.1 0 1 0 2.2 0a1.1 1.1 0 1 0 -2.2 0M359.5 46.1a1.1 1.1 0 1 0 2.2 0a1.1 1.1 0 1 0 -2.2 0M359.9 50.1a1.1 1.1 0 1 0 2.2 0a1.1 1.1 0 1 0 -2.2 0M360.4 49.9a1.1 1.1 0 1 0 2.2 0a1.1 1.1 0 1 0 -2.2 0M360.8 49.2a1.1 1.1 0 1 0 2.2 0a1.1 1.1 0 1 0 -2.2 0M361.3 46.7a1.1 1.1 0 1 0 2.2 0a1.1 1.1 0 1 0 -2.2 0M361.7 50.4a1.1 1.1 0 1 0 2.2 0a1.1 1.1 0 1 0 -2.2 0M362.2 48.1a1.1 1.1 0 1 0 2.2 0a1.1 1.1 0 1 0 -2.2 0M362.6 50.0a1.1 1.1 0 1 0 2.2 0a1.1 1.1 0 1 0 -2.2 0M363.1 48.7a1.1 1.1 0 1 0 2.2 0a1.1 1.1 0 1 0 -2.2 0M363.5 52.3a1.1 1.1 0 1 0 2.2 0a1.1 1.1 0 1 0 -2.2 0M364.0 49.9a1.1 1.1 0 1 0 2.2 0a1.1 1.1 0 1 0 -2.2 0M364.4 50.9a1.1 1.1 0 1 0 2.2 0a1.1 1.1 0 1 0 -2.2 0M364.9 54.0a1.1 1.1 0 1 0 2.2 0a1.1 1.1 0 1 0 -2.2 0M365.3 54.8a1.1 1.1 0 1 0 2.2 0a1.1 1.1 0 1 0 -2.2 0M365.8 55.9a1.1 1.1 0 1 0 2.2 0a1.1 1.1 0 1 0 -2.2 0M366.2 55.5a1.1 1.1 0 1 0 2.2 0a1.1 1.1 0 1 0 -2.2 0M366.7 56.6a1.1 1.1 0 1 0 2.2 0a1.1 1.1 0 1 0 -2.2 0M367.1 56.9a1.1 1.1 0 1 0 2.2 0a1.1 1.1 0 1 0 -2.2 0M367.6 59.0a1.1 1.1 0 1 0 2.2 0a1.1 1.1 0 1 0 -2.2 0M368.0 56.1a1.1 1.1 0 1 0 2.2 0a1.1 1.1 0 1 0 -2.2 0M368.5 56.4a1.1 1.1 0 1 0 2.2 0a1.1 1.1 0 1 0 -2.2 0M368.9 55.1a1.1 1.1 0 1 0 2.2 0a1.1 1.1 0 1 0 -2.2 0M369.4 55.1a1.1 1.1 0 1 0 2.2 0a1.1 1.1 0 1 0 -2.2 0M369.8 53.9a1.1 1.1 0 1 0 2.2 0a1.1 1.1 0 1 0 -2.2 0M370.3 51.0a1.1 1.1 0 1 0 2.2 0a1.1 1.1 0 1 0 -2.2 0M370.7 52.4a1.1 1.1 0 1 0 2.2 0a1.1 1.1 0 1 0 -2.2 0M371.2 52.6a1.1 1.1 0 1 0 2.2 0a1.1 1.1 0 1 0 -2.2 0M371.6 51.4a1.1 1.1 0 1 0 2.2 0a1.1 1.1 0 1 0 -2.2 0M372.1 52.0a1.1 1.1 0 1 0 2.2 0a1.1 1.1 0 1 0 -2.2 0M372.5 50.3a1.1 1.1 0 1 0 2.2 0a1.1 1.1 0 1 0 -2.2 0M373.0 52.2a1.1 1.1 0 1 0 2.2 0a1.1 1.1 0 1 0 -2.2 0M373.4 53.0a1.1 1.1 0 1 0 2.2 0a1.1 1.1 0 1 0 -2.2 0M373.9 51.4a1.1 1.1 0 1 0 2.2 0a1.1 1.1 0 1 0 -2.2 0M374.3 50.8a1.1 1.1 0 1 0 2.2 0a1.1 1.1 0 1 0 -2.2 0M374.8 52.2a1.1 1.1 0 1 0 2.2 0a1.1 1.1 0 1 0 -2.2 0M375.2 50.8a1.1 1.1 0 1 0 2.2 0a1.1 1.1 0 1 0 -2.2 0M375.7 52.0a1.1 1.1 0 1 0 2.2 0a1.1 1.1 0 1 0 -2.2 0M376.1 53.3a1.1 1.1 0 1 0 2.2 0a1.1 1.1 0 1 0 -2.2 0M376.6 52.0a1.1 1.1 0 1 0 2.2 0a1.1 1.1 0 1 0 -2.2 0M377.0 51.6a1.1 1.1 0 1 0 2.2 0a1.1 1.1 0 1 0 -2.2 0M377.5 50.7a1.1 1.1 0 1 0 2.2 0a1.1 1.1 0 1 0 -2.2 0M377.9 51.4a1.1 1.1 0 1 0 2.2 0a1.1 1.1 0 1 0 -2.2 0M378.4 52.6a1.1 1.1 0 1 0 2.2 0a1.1 1.1 0 1 0 -2.2 0M378.8 53.6a1.1 1.1 0 1 0 2.2 0a1.1 1.1 0 1 0 -2.2 0M379.3 52.2a1.1 1.1 0 1 0 2.2 0a1.1 1.1 0 1 0 -2.2 0M379.7 51.5a1.1 1.1 0 1 0 2.2 0a1.1 1.1 0 1 0 -2.2 0M380.2 52.8a1.1 1.1 0 1 0 2.2 0a1.1 1.1 0 1 0 -2.2 0M380.6 50.7a1.1 1.1 0 1 0 2.2 0a1.1 1.1 0 1 0 -2.2 0M381.1 52.7a1.1 1.1 0 1 0 2.2 0a1.1 1.1 0 1 0 -2.2 0M381.5 52.2a1.1 1.1 0 1 0 2.2 0a1.1 1.1 0 1 0 -2.2 0M382.0 54.0a1.1 1.1 0 1 0 2.2 0a1.1 1.1 0 1 0 -2.2 0M382.4 54.5a1.1 1.1 0 1 0 2.2 0a1.1 1.1 0 1 0 -2.2 0M382.9 53.4a1.1 1.1 0 1 0 2.2 0a1.1 1.1 0 1 0 -2.2 0M383.3 52.7a1.1 1.1 0 1 0 2.2 0a1.1 1.1 0 1 0 -2.2 0M383.8 50.3a1.1 1.1 0 1 0 2.2 0a1.1 1.1 0 1 0 -2.2 0M384.2 54.7a1.1 1.1 0 1 0 2.2 0a1.1 1.1 0 1 0 -2.2 0M384.7 53.4a1.1 1.1 0 1 0 2.2 0a1.1 1.1 0 1 0 -2.2 0M385.1 51.9a1.1 1.1 0 1 0 2.2 0a1.1 1.1 0 1 0 -2.2 0M385.6 48.9a1.1 1.1 0 1 0 2.2 0a1.1 1.1 0 1 0 -2.2 0M386.0 52.8a1.1 1.1 0 1 0 2.2 0a1.1 1.1 0 1 0 -2.2 0M386.5 52.6a1.1 1.1 0 1 0 2.2 0a1.1 1.1 0 1 0 -2.2 0M386.9 50.8a1.1 1.1 0 1 0 2.2 0a1.1 1.1 0 1 0 -2.2 0M387.4 49.9a1.1 1.1 0 1 0 2.2 0a1.1 1.1 0 1 0 -2.2 0M387.8 52.4a1.1 1.1 0 1 0 2.2 0a1.1 1.1 0 1 0 -2.2 0M388.3 49.5a1.1 1.1 0 1 0 2.2 0a1.1 1.1 0 1 0 -2.2 0M388.7 48.7a1.1 1.1 0 1 0 2.2 0a1.1 1.1 0 1 0 -2.2 0M389.2 42.7a1.1 1.1 0 1 0 2.2 0a1.1 1.1 0 1 0 -2.2 0M389.6 41.1a1.1 1.1 0 1 0 2.2 0a1.1 1.1 0 1 0 -2.2 0M390.1 41.0a1.1 1.1 0 1 0 2.2 0a1.1 1.1 0 1 0 -2.2 0M390.5 38.1a1.1 1.1 0 1 0 2.2 0a1.1 1.1 0 1 0 -2.2 0M391.0 36.5a1.1 1.1 0 1 0 2.2 0a1.1 1.1 0 1 0 -2.2 0M391.4 37.9a1.1 1.1 0 1 0 2.2 0a1.1 1.1 0 1 0 -2.2 0M391.9 40.8a1.1 1.1 0 1 0 2.2 0a1.1 1.1 0 1 0 -2.2 0M392.3 38.2a1.1 1.1 0 1 0 2.2 0a1.1 1.1 0 1 0 -2.2 0M392.8 40.6a1.1 1.1 0 1 0 2.2 0a1.1 1.1 0 1 0 -2.2 0M393.2 38.7a1.1 1.1 0 1 0 2.2 0a1.1 1.1 0 1 0 -2.2 0M393.7 36.1a1.1 1.1 0 1 0 2.2 0a1.1 1.1 0 1 0 -2.2 0M394.1 35.7a1.1 1.1 0 1 0 2.2 0a1.1 1.1 0 1 0 -2.2 0M394.6 36.5a1.1 1.1 0 1 0 2.2 0a1.1 1.1 0 1 0 -2.2 0M395.0 40.9a1.1 1.1 0 1 0 2.2 0a1.1 1.1 0 1 0 -2.2 0M395.5 41.0a1.1 1.1 0 1 0 2.2 0a1.1 1.1 0 1 0 -2.2 0M395.9 38.8a1.1 1.1 0 1 0 2.2 0a1.1 1.1 0 1 0 -2.2 0M396.4 38.6a1.1 1.1 0 1 0 2.2 0a1.1 1.1 0 1 0 -2.2 0M396.8 38.0a1.1 1.1 0 1 0 2.2 0a1.1 1.1 0 1 0 -2.2 0M397.3 34.6a1.1 1.1 0 1 0 2.2 0a1.1 1.1 0 1 0 -2.2 0M397.7 33.8a1.1 1.1 0 1 0 2.2 0a1.1 1.1 0 1 0 -2.2 0M398.2 34.8a1.1 1.1 0 1 0 2.2 0a1.1 1.1 0 1 0 -2.2 0M398.6 31.3a1.1 1.1 0 1 0 2.2 0a1.1 1.1 0 1 0 -2.2 0M399.1 28.9a1.1 1.1 0 1 0 2.2 0a1.1 1.1 0 1 0 -2.2 0M399.5 29.8a1.1 1.1 0 1 0 2.2 0a1.1 1.1 0 1 0 -2.2 0M400.0 28.4a1.1 1.1 0 1 0 2.2 0a1.1 1.1 0 1 0 -2.2 0M400.4 27.5a1.1 1.1 0 1 0 2.2 0a1.1 1.1 0 1 0 -2.2 0M400.9 23.3a1.1 1.1 0 1 0 2.2 0a1.1 1.1 0 1 0 -2.2 0M401.3 25.2a1.1 1.1 0 1 0 2.2 0a1.1 1.1 0 1 0 -2.2 0M401.8 21.2a1.1 1.1 0 1 0 2.2 0a1.1 1.1 0 1 0 -2.2 0M402.2 20.2a1.1 1.1 0 1 0 2.2 0a1.1 1.1 0 1 0 -2.2 0M402.7 20.0a1.1 1.1 0 1 0 2.2 0a1.1 1.1 0 1 0 -2.2 0M403.1 23.8a1.1 1.1 0 1 0 2.2 0a1.1 1.1 0 1 0 -2.2 0M403.6 22.1a1.1 1.1 0 1 0 2.2 0a1.1 1.1 0 1 0 -2.2 0M404.0 21.2a1.1 1.1 0 1 0 2.2 0a1.1 1.1 0 1 0 -2.2 0M404.5 22.0a1.1 1.1 0 1 0 2.2 0a1.1 1.1 0 1 0 -2.2 0M404.9 20.3a1.1 1.1 0 1 0 2.2 0a1.1 1.1 0 1 0 -2.2 0M405.4 22.3a1.1 1.1 0 1 0 2.2 0a1.1 1.1 0 1 0 -2.2 0M405.8 22.0a1.1 1.1 0 1 0 2.2 0a1.1 1.1 0 1 0 -2.2 0M406.3 19.7a1.1 1.1 0 1 0 2.2 0a1.1 1.1 0 1 0 -2.2 0M406.7 20.3a1.1 1.1 0 1 0 2.2 0a1.1 1.1 0 1 0 -2.2 0M407.2 19.0a1.1 1.1 0 1 0 2.2 0a1.1 1.1 0 1 0 -2.2 0M407.6 21.1a1.1 1.1 0 1 0 2.2 0a1.1 1.1 0 1 0 -2.2 0M408.1 18.5a1.1 1.1 0 1 0 2.2 0a1.1 1.1 0 1 0 -2.2 0M408.5 17.4a1.1 1.1 0 1 0 2.2 0a1.1 1.1 0 1 0 -2.2 0M409.0 19.3a1.1 1.1 0 1 0 2.2 0a1.1 1.1 0 1 0 -2.2 0M409.4 20.0a1.1 1.1 0 1 0 2.2 0a1.1 1.1 0 1 0 -2.2 0M409.9 20.8a1.1 1.1 0 1 0 2.2 0a1.1 1.1 0 1 0 -2.2 0M410.3 20.0a1.1 1.1 0 1 0 2.2 0a1.1 1.1 0 1 0 -2.2 0M410.8 20.9a1.1 1.1 0 1 0 2.2 0a1.1 1.1 0 1 0 -2.2 0M411.2 20.8a1.1 1.1 0 1 0 2.2 0a1.1 1.1 0 1 0 -2.2 0M411.7 24.7a1.1 1.1 0 1 0 2.2 0a1.1 1.1 0 1 0 -2.2 0M412.1 21.8a1.1 1.1 0 1 0 2.2 0a1.1 1.1 0 1 0 -2.2 0M412.6 23.1a1.1 1.1 0 1 0 2.2 0a1.1 1.1 0 1 0 -2.2 0M413.0 25.1a1.1 1.1 0 1 0 2.2 0a1.1 1.1 0 1 0 -2.2 0M413.5 22.2a1.1 1.1 0 1 0 2.2 0a1.1 1.1 0 1 0 -2.2 0M413.9 23.4a1.1 1.1 0 1 0 2.2 0a1.1 1.1 0 1 0 -2.2 0M414.4 22.7a1.1 1.1 0 1 0 2.2 0a1.1 1.1 0 1 0 -2.2 0M414.8 22.7a1.1 1.1 0 1 0 2.2 0a1.1 1.1 0 1 0 -2.2 0M415.3 23.3a1.1 1.1 0 1 0 2.2 0a1.1 1.1 0 1 0 -2.2 0M415.7 20.4a1.1 1.1 0 1 0 2.2 0a1.1 1.1 0 1 0 -2.2 0M416.2 22.4a1.1 1.1 0 1 0 2.2 0a1.1 1.1 0 1 0 -2.2 0M416.6 20.9a1.1 1.1 0 1 0 2.2 0a1.1 1.1 0 1 0 -2.2 0M417.1 25.0a1.1 1.1 0 1 0 2.2 0a1.1 1.1 0 1 0 -2.2 0M417.5 21.9a1.1 1.1 0 1 0 2.2 0a1.1 1.1 0 1 0 -2.2 0M418.0 24.1a1.1 1.1 0 1 0 2.2 0a1.1 1.1 0 1 0 -2.2 0M418.4 22.9a1.1 1.1 0 1 0 2.2 0a1.1 1.1 0 1 0 -2.2 0M418.9 21.7a1.1 1.1 0 1 0 2.2 0a1.1 1.1 0 1 0 -2.2 0M419.3 23.4a1.1 1.1 0 1 0 2.2 0a1.1 1.1 0 1 0 -2.2 0M419.8 21.5a1.1 1.1 0 1 0 2.2 0a1.1 1.1 0 1 0 -2.2 0M420.2 21.1a1.1 1.1 0 1 0 2.2 0a1.1 1.1 0 1 0 -2.2 0M420.7 23.3a1.1 1.1 0 1 0 2.2 0a1.1 1.1 0 1 0 -2.2 0M421.1 25.5a1.1 1.1 0 1 0 2.2 0a1.1 1.1 0 1 0 -2.2 0M421.6 27.4a1.1 1.1 0 1 0 2.2 0a1.1 1.1 0 1 0 -2.2 0M422.0 28.4a1.1 1.1 0 1 0 2.2 0a1.1 1.1 0 1 0 -2.2 0M422.5 28.2a1.1 1.1 0 1 0 2.2 0a1.1 1.1 0 1 0 -2.2 0M422.9 29.5a1.1 1.1 0 1 0 2.2 0a1.1 1.1 0 1 0 -2.2 0M423.4 31.3a1.1 1.1 0 1 0 2.2 0a1.1 1.1 0 1 0 -2.2 0M423.8 32.7a1.1 1.1 0 1 0 2.2 0a1.1 1.1 0 1 0 -2.2 0M424.3 33.1a1.1 1.1 0 1 0 2.2 0a1.1 1.1 0 1 0 -2.2 0M424.7 35.0a1.1 1.1 0 1 0 2.2 0a1.1 1.1 0 1 0 -2.2 0M425.2 36.0a1.1 1.1 0 1 0 2.2 0a1.1 1.1 0 1 0 -2.2 0M425.6 36.3a1.1 1.1 0 1 0 2.2 0a1.1 1.1 0 1 0 -2.2 0M426.1 33.8a1.1 1.1 0 1 0 2.2 0a1.1 1.1 0 1 0 -2.2 0M426.5 31.2a1.1 1.1 0 1 0 2.2 0a1.1 1.1 0 1 0 -2.2 0M427.0 29.9a1.1 1.1 0 1 0 2.2 0a1.1 1.1 0 1 0 -2.2 0M427.4 31.8a1.1 1.1 0 1 0 2.2 0a1.1 1.1 0 1 0 -2.2 0M427.9 31.8a1.1 1.1 0 1 0 2.2 0a1.1 1.1 0 1 0 -2.2 0M428.3 31.1a1.1 1.1 0 1 0 2.2 0a1.1 1.1 0 1 0 -2.2 0M428.8 32.4a1.1 1.1 0 1 0 2.2 0a1.1 1.1 0 1 0 -2.2 0M429.2 32.0a1.1 1.1 0 1 0 2.2 0a1.1 1.1 0 1 0 -2.2 0M429.7 33.5a1.1 1.1 0 1 0 2.2 0a1.1 1.1 0 1 0 -2.2 0M430.1 30.6a1.1 1.1 0 1 0 2.2 0a1.1 1.1 0 1 0 -2.2 0M430.6 28.6a1.1 1.1 0 1 0 2.2 0a1.1 1.1 0 1 0 -2.2 0M431.0 25.6a1.1 1.1 0 1 0 2.2 0a1.1 1.1 0 1 0 -2.2 0M431.5 26.9a1.1 1.1 0 1 0 2.2 0a1.1 1.1 0 1 0 -2.2 0M431.9 24.3a1.1 1.1 0 1 0 2.2 0a1.1 1.1 0 1 0 -2.2 0M432.4 24.7a1.1 1.1 0 1 0 2.2 0a1.1 1.1 0 1 0 -2.2 0M432.8 26.3a1.1 1.1 0 1 0 2.2 0a1.1 1.1 0 1 0 -2.2 0M433.3 25.0a1.1 1.1 0 1 0 2.2 0a1.1 1.1 0 1 0 -2.2 0M433.7 27.1a1.1 1.1 0 1 0 2.2 0a1.1 1.1 0 1 0 -2.2 0M434.2 26.0a1.1 1.1 0 1 0 2.2 0a1.1 1.1 0 1 0 -2.2 0M434.6 27.7a1.1 1.1 0 1 0 2.2 0a1.1 1.1 0 1 0 -2.2 0M435.1 27.2a1.1 1.1 0 1 0 2.2 0a1.1 1.1 0 1 0 -2.2 0M435.5 28.8a1.1 1.1 0 1 0 2.2 0a1.1 1.1 0 1 0 -2.2 0M436.0 25.6a1.1 1.1 0 1 0 2.2 0a1.1 1.1 0 1 0 -2.2 0M436.4 29.9a1.1 1.1 0 1 0 2.2 0a1.1 1.1 0 1 0 -2.2 0M436.9 27.4a1.1 1.1 0 1 0 2.2 0a1.1 1.1 0 1 0 -2.2 0" fill="none" stroke="#e8842a" stroke-width="0.60"/>
</g>
<rect x="266.5" y="1.2" width="190.9" height="153.1" fill="none" stroke="#2a2a2a" stroke-width="1.35"/>
<path d="M266.5 17.6h-3M266.5 68.8h-3M266.5 120.0h-3M266.5 43.2h-2M266.5 94.4h-2M266.5 145.6h-2" stroke="#2a2a2a" stroke-width="1.3" fill="none"/>
<text x="260.9" y="21.4" font-size="13.4" fill="#1a1a1a" text-anchor="end" font-weight="normal" >36</text>
<text x="260.9" y="72.6" font-size="13.4" fill="#1a1a1a" text-anchor="end" font-weight="normal" >24</text>
<text x="260.9" y="123.8" font-size="13.4" fill="#1a1a1a" text-anchor="end" font-weight="normal" >12</text>
<path d="M266.5 154.3v3M308.9 154.3v3M351.3 154.3v3M393.8 154.3v3M436.2 154.3v3M287.7 154.3v2M330.1 154.3v2M372.6 154.3v2M415.0 154.3v2M457.4 154.3v2" stroke="#2a2a2a" stroke-width="1.3" fill="none"/>
<text x="266.5" y="169.7" font-size="13.4" fill="#1a1a1a" text-anchor="middle" font-weight="normal" >0</text>
<text x="308.9" y="169.7" font-size="13.4" fill="#1a1a1a" text-anchor="middle" font-weight="normal" >20</text>
<text x="351.3" y="169.7" font-size="13.4" fill="#1a1a1a" text-anchor="middle" font-weight="normal" >40</text>
<text x="393.8" y="169.7" font-size="13.4" fill="#1a1a1a" text-anchor="middle" font-weight="normal" >60</text>
<text x="436.2" y="169.7" font-size="13.4" fill="#1a1a1a" text-anchor="middle" font-weight="normal" >80</text>
<text x="361.9" y="185.1" font-size="13.2" fill="#1a1a1a" text-anchor="middle" font-weight="normal" >Time (ns)</text>
<text x="241.1" y="77.0" font-size="13.2" fill="#1a1a1a" text-anchor="middle" font-weight="normal" transform="rotate(-90 241.1 77.0)">Z (nm)</text>
<text x="272.0" y="18.0" font-size="22.0" fill="#000" text-anchor="start" font-weight="bold" >b</text>
<circle cx="273.8" cy="125.7" r="1.4" fill="none" stroke="#8c8c8c" stroke-width="0.8"/>
<circle cx="356.3" cy="125.7" r="1.5" fill="#c8c8c8"/>
<text x="280.6" y="128.5" font-size="8.2" font-weight="bold" fill="#8c8c8c">COF-TFB/K<tspan dy="-3.3" font-size="5.2">+</tspan></text>
<text x="363.2" y="128.5" font-size="8.2" font-weight="bold" fill="#c8c8c8">COF-TFB/Mg<tspan dy="-3.3" font-size="5.2">2+</tspan></text>
<circle cx="273.8" cy="136.5" r="1.4" fill="none" stroke="#6aa8d4" stroke-width="0.8"/>
<circle cx="356.3" cy="136.5" r="1.5" fill="#aed6ec"/>
<text x="280.6" y="139.3" font-size="8.2" font-weight="bold" fill="#6aa8d4">COF-TFB-OMe/K<tspan dy="-3.3" font-size="5.2">+</tspan></text>
<text x="363.2" y="139.3" font-size="8.2" font-weight="bold" fill="#aed6ec">COF-TFB-OMe/Mg<tspan dy="-3.3" font-size="5.2">2+</tspan></text>
<circle cx="273.8" cy="147.6" r="1.4" fill="none" stroke="#e8842a" stroke-width="0.8"/>
<circle cx="356.3" cy="147.6" r="1.5" fill="#f5bd88"/>
<text x="280.6" y="150.4" font-size="8.2" font-weight="bold" fill="#e8842a">COF-TFB-OH/K<tspan dy="-3.3" font-size="5.2">+</tspan></text>
<text x="363.2" y="150.4" font-size="8.2" font-weight="bold" fill="#f5bd88">COF-TFB-OH/Mg<tspan dy="-3.3" font-size="5.2">2+</tspan></text>
<defs>
<radialGradient id="gB" cx="0.38" cy="0.35" r="0.7"><stop offset="0" stop-color="#6f6cff"/><stop offset="0.55" stop-color="#2a22e8"/><stop offset="1" stop-color="#1a12a8"/></radialGradient>
<radialGradient id="gP" cx="0.38" cy="0.35" r="0.7"><stop offset="0" stop-color="#c080ff"/><stop offset="0.55" stop-color="#9230e6"/><stop offset="1" stop-color="#6816b0"/></radialGradient>
<radialGradient id="gY" cx="0.38" cy="0.35" r="0.7"><stop offset="0" stop-color="#f2f8b0"/><stop offset="0.55" stop-color="#dce474"/><stop offset="1" stop-color="#b2ba48"/></radialGradient>
<radialGradient id="gW" cx="0.5" cy="0.5" r="0.5"><stop offset="0" stop-color="#d8d8d8"/><stop offset="1" stop-color="#a8a8a8"/></radialGradient>
<linearGradient id="gWall" x1="0" x2="1" y1="0" y2="0"><stop offset="0" stop-color="#dcdcdc"/><stop offset="0.5" stop-color="#a6a6a6"/><stop offset="1" stop-color="#e0e0e0"/></linearGradient>
<pattern id="lat" x="462" y="33" width="17" height="17" patternUnits="userSpaceOnUse"><rect width="17" height="17" fill="#fafefd"/><path d="M0 0L17 17M-8.5 0L8.5 17M8.5 0L25.5 17M17 0L0 17M8.5 0L-8.5 17M25.5 0L8.5 17" stroke="#bfeae5" stroke-width="1.3"/><path d="M0 8.5H17M8.5 0V17" stroke="#c6ede9" stroke-width="1.1"/><path d="M8.5 5.5L11.5 8.5L8.5 11.5L5.5 8.5Z M0 -3L3 0L0 3L-3 0Z M17 -3L20 0L17 3L14 0Z M0 14L3 17L0 20L-3 17Z M17 14L20 17L17 20L14 17Z" fill="#ffffff"/></pattern>
<clipPath id="clipc"><rect x="458" y="0" width="114" height="163"/></clipPath>
<clipPath id="clipd"><rect x="571" y="0" width="114" height="163"/></clipPath>
</defs>
<g clip-path="url(#clipc)">
<rect x="461.8" y="33" width="106.2" height="102.5" fill="url(#lat)"/>
<rect x="459.6" y="0" width="2.2" height="162.5" fill="url(#gWall)"/>
<rect x="568.4" y="0" width="2.4" height="162.5" fill="url(#gWall)"/>
<g transform="translate(464.6 20.3) rotate(0)"><circle cx="-1.25" cy="-0.5" r="1.15" fill="#e2321c"/><circle cx="1.2" cy="-0.7" r="1.15" fill="#e63a1e"/><circle cx="0.1" cy="1.35" r="1.15" fill="#dc2c18"/><circle cx="0.2" cy="-0.1" r="1.05" fill="#ecd034"/><circle cx="-0.3" cy="-1.5" r="0.95" fill="#e4361c"/></g>
<g transform="translate(471.6 20.3) rotate(67)"><circle cx="-1.25" cy="-0.5" r="1.15" fill="#e2321c"/><circle cx="1.2" cy="-0.7" r="1.15" fill="#e63a1e"/><circle cx="0.1" cy="1.35" r="1.15" fill="#dc2c18"/><circle cx="0.2" cy="-0.1" r="1.05" fill="#ecd034"/><circle cx="-0.3" cy="-1.5" r="0.95" fill="#e4361c"/></g>
<g transform="translate(474.8 32.8) rotate(134)"><circle cx="-1.25" cy="-0.5" r="1.15" fill="#e2321c"/><circle cx="1.2" cy="-0.7" r="1.15" fill="#e63a1e"/><circle cx="0.1" cy="1.35" r="1.15" fill="#dc2c18"/><circle cx="0.2" cy="-0.1" r="1.05" fill="#ecd034"/><circle cx="-0.3" cy="-1.5" r="0.95" fill="#e4361c"/></g>
<g transform="translate(475.5 43.0) rotate(201)"><circle cx="-1.25" cy="-0.5" r="1.15" fill="#e2321c"/><circle cx="1.2" cy="-0.7" r="1.15" fill="#e63a1e"/><circle cx="0.1" cy="1.35" r="1.15" fill="#dc2c18"/><circle cx="0.2" cy="-0.1" r="1.05" fill="#ecd034"/><circle cx="-0.3" cy="-1.5" r="0.95" fill="#e4361c"/></g>
<g transform="translate(481.8 25.0) rotate(268)"><circle cx="-1.25" cy="-0.5" r="1.15" fill="#e2321c"/><circle cx="1.2" cy="-0.7" r="1.15" fill="#e63a1e"/><circle cx="0.1" cy="1.35" r="1.15" fill="#dc2c18"/><circle cx="0.2" cy="-0.1" r="1.05" fill="#ecd034"/><circle cx="-0.3" cy="-1.5" r="0.95" fill="#e4361c"/></g>
<g transform="translate(481.0 11.7) rotate(335)"><circle cx="-1.25" cy="-0.5" r="1.15" fill="#e2321c"/><circle cx="1.2" cy="-0.7" r="1.15" fill="#e63a1e"/><circle cx="0.1" cy="1.35" r="1.15" fill="#dc2c18"/><circle cx="0.2" cy="-0.1" r="1.05" fill="#ecd034"/><circle cx="-0.3" cy="-1.5" r="0.95" fill="#e4361c"/></g>
<g transform="translate(481.9 13.0) rotate(42)"><circle cx="-1.25" cy="-0.5" r="1.15" fill="#e2321c"/><circle cx="1.2" cy="-0.7" r="1.15" fill="#e63a1e"/><circle cx="0.1" cy="1.35" r="1.15" fill="#dc2c18"/><circle cx="0.2" cy="-0.1" r="1.05" fill="#ecd034"/><circle cx="-0.3" cy="-1.5" r="0.95" fill="#e4361c"/></g>
<g transform="translate(485.2 5.2) rotate(109)"><circle cx="-1.25" cy="-0.5" r="1.15" fill="#e2321c"/><circle cx="1.2" cy="-0.7" r="1.15" fill="#e63a1e"/><circle cx="0.1" cy="1.35" r="1.15" fill="#dc2c18"/><circle cx="0.2" cy="-0.1" r="1.05" fill="#ecd034"/><circle cx="-0.3" cy="-1.5" r="0.95" fill="#e4361c"/></g>
<g transform="translate(492.4 2.6) rotate(176)"><circle cx="-1.25" cy="-0.5" r="1.15" fill="#e2321c"/><circle cx="1.2" cy="-0.7" r="1.15" fill="#e63a1e"/><circle cx="0.1" cy="1.35" r="1.15" fill="#dc2c18"/><circle cx="0.2" cy="-0.1" r="1.05" fill="#ecd034"/><circle cx="-0.3" cy="-1.5" r="0.95" fill="#e4361c"/></g>
<g transform="translate(496.3 1.3) rotate(243)"><circle cx="-1.25" cy="-0.5" r="1.15" fill="#e2321c"/><circle cx="1.2" cy="-0.7" r="1.15" fill="#e63a1e"/><circle cx="0.1" cy="1.35" r="1.15" fill="#dc2c18"/><circle cx="0.2" cy="-0.1" r="1.05" fill="#ecd034"/><circle cx="-0.3" cy="-1.5" r="0.95" fill="#e4361c"/></g>
<g transform="translate(500.2 4.6) rotate(310)"><circle cx="-1.25" cy="-0.5" r="1.15" fill="#e2321c"/><circle cx="1.2" cy="-0.7" r="1.15" fill="#e63a1e"/><circle cx="0.1" cy="1.35" r="1.15" fill="#dc2c18"/><circle cx="0.2" cy="-0.1" r="1.05" fill="#ecd034"/><circle cx="-0.3" cy="-1.5" r="0.95" fill="#e4361c"/></g>
<g transform="translate(502.8 7.8) rotate(17)"><circle cx="-1.25" cy="-0.5" r="1.15" fill="#e2321c"/><circle cx="1.2" cy="-0.7" r="1.15" fill="#e63a1e"/><circle cx="0.1" cy="1.35" r="1.15" fill="#dc2c18"/><circle cx="0.2" cy="-0.1" r="1.05" fill="#ecd034"/><circle cx="-0.3" cy="-1.5" r="0.95" fill="#e4361c"/></g>
<g transform="translate(508.0 8.5) rotate(84)"><circle cx="-1.25" cy="-0.5" r="1.15" fill="#e2321c"/><circle cx="1.2" cy="-0.7" r="1.15" fill="#e63a1e"/><circle cx="0.1" cy="1.35" r="1.15" fill="#dc2c18"/><circle cx="0.2" cy="-0.1" r="1.05" fill="#ecd034"/><circle cx="-0.3" cy="-1.5" r="0.95" fill="#e4361c"/></g>
<g transform="translate(501.5 11.1) rotate(151)"><circle cx="-1.25" cy="-0.5" r="1.15" fill="#e2321c"/><circle cx="1.2" cy="-0.7" r="1.15" fill="#e63a1e"/><circle cx="0.1" cy="1.35" r="1.15" fill="#dc2c18"/><circle cx="0.2" cy="-0.1" r="1.05" fill="#ecd034"/><circle cx="-0.3" cy="-1.5" r="0.95" fill="#e4361c"/></g>
<g transform="translate(504.1 13.0) rotate(218)"><circle cx="-1.25" cy="-0.5" r="1.15" fill="#e2321c"/><circle cx="1.2" cy="-0.7" r="1.15" fill="#e63a1e"/><circle cx="0.1" cy="1.35" r="1.15" fill="#dc2c18"/><circle cx="0.2" cy="-0.1" r="1.05" fill="#ecd034"/><circle cx="-0.3" cy="-1.5" r="0.95" fill="#e4361c"/></g>
<g transform="translate(511.9 12.4) rotate(285)"><circle cx="-1.25" cy="-0.5" r="1.15" fill="#e2321c"/><circle cx="1.2" cy="-0.7" r="1.15" fill="#e63a1e"/><circle cx="0.1" cy="1.35" r="1.15" fill="#dc2c18"/><circle cx="0.2" cy="-0.1" r="1.05" fill="#ecd034"/><circle cx="-0.3" cy="-1.5" r="0.95" fill="#e4361c"/></g>
<g transform="translate(515.2 13.0) rotate(352)"><circle cx="-1.25" cy="-0.5" r="1.15" fill="#e2321c"/><circle cx="1.2" cy="-0.7" r="1.15" fill="#e63a1e"/><circle cx="0.1" cy="1.35" r="1.15" fill="#dc2c18"/><circle cx="0.2" cy="-0.1" r="1.05" fill="#ecd034"/><circle cx="-0.3" cy="-1.5" r="0.95" fill="#e4361c"/></g>
<g transform="translate(524.3 4.6) rotate(59)"><circle cx="-1.25" cy="-0.5" r="1.15" fill="#e2321c"/><circle cx="1.2" cy="-0.7" r="1.15" fill="#e63a1e"/><circle cx="0.1" cy="1.35" r="1.15" fill="#dc2c18"/><circle cx="0.2" cy="-0.1" r="1.05" fill="#ecd034"/><circle cx="-0.3" cy="-1.5" r="0.95" fill="#e4361c"/></g>
<g transform="translate(526.3 15.7) rotate(126)"><circle cx="-1.25" cy="-0.5" r="1.15" fill="#e2321c"/><circle cx="1.2" cy="-0.7" r="1.15" fill="#e63a1e"/><circle cx="0.1" cy="1.35" r="1.15" fill="#dc2c18"/><circle cx="0.2" cy="-0.1" r="1.05" fill="#ecd034"/><circle cx="-0.3" cy="-1.5" r="0.95" fill="#e4361c"/></g>
<g transform="translate(483.9 24.2) rotate(193)"><circle cx="-1.25" cy="-0.5" r="1.15" fill="#e2321c"/><circle cx="1.2" cy="-0.7" r="1.15" fill="#e63a1e"/><circle cx="0.1" cy="1.35" r="1.15" fill="#dc2c18"/><circle cx="0.2" cy="-0.1" r="1.05" fill="#ecd034"/><circle cx="-0.3" cy="-1.5" r="0.95" fill="#e4361c"/></g>
<g transform="translate(485.8 26.1) rotate(260)"><circle cx="-1.25" cy="-0.5" r="1.15" fill="#e2321c"/><circle cx="1.2" cy="-0.7" r="1.15" fill="#e63a1e"/><circle cx="0.1" cy="1.35" r="1.15" fill="#dc2c18"/><circle cx="0.2" cy="-0.1" r="1.05" fill="#ecd034"/><circle cx="-0.3" cy="-1.5" r="0.95" fill="#e4361c"/></g>
<g transform="translate(483.2 28.1) rotate(327)"><circle cx="-1.25" cy="-0.5" r="1.15" fill="#e2321c"/><circle cx="1.2" cy="-0.7" r="1.15" fill="#e63a1e"/><circle cx="0.1" cy="1.35" r="1.15" fill="#dc2c18"/><circle cx="0.2" cy="-0.1" r="1.05" fill="#ecd034"/><circle cx="-0.3" cy="-1.5" r="0.95" fill="#e4361c"/></g>
<g transform="translate(493.0 26.8) rotate(34)"><circle cx="-1.25" cy="-0.5" r="1.15" fill="#e2321c"/><circle cx="1.2" cy="-0.7" r="1.15" fill="#e63a1e"/><circle cx="0.1" cy="1.35" r="1.15" fill="#dc2c18"/><circle cx="0.2" cy="-0.1" r="1.05" fill="#ecd034"/><circle cx="-0.3" cy="-1.5" r="0.95" fill="#e4361c"/></g>
<g transform="translate(502.8 26.1) rotate(101)"><circle cx="-1.25" cy="-0.5" r="1.15" fill="#e2321c"/><circle cx="1.2" cy="-0.7" r="1.15" fill="#e63a1e"/><circle cx="0.1" cy="1.35" r="1.15" fill="#dc2c18"/><circle cx="0.2" cy="-0.1" r="1.05" fill="#ecd034"/><circle cx="-0.3" cy="-1.5" r="0.95" fill="#e4361c"/></g>
<g transform="translate(509.3 20.9) rotate(168)"><circle cx="-1.25" cy="-0.5" r="1.15" fill="#e2321c"/><circle cx="1.2" cy="-0.7" r="1.15" fill="#e63a1e"/><circle cx="0.1" cy="1.35" r="1.15" fill="#dc2c18"/><circle cx="0.2" cy="-0.1" r="1.05" fill="#ecd034"/><circle cx="-0.3" cy="-1.5" r="0.95" fill="#e4361c"/></g>
<g transform="translate(513.2 20.2) rotate(235)"><circle cx="-1.25" cy="-0.5" r="1.15" fill="#e2321c"/><circle cx="1.2" cy="-0.7" r="1.15" fill="#e63a1e"/><circle cx="0.1" cy="1.35" r="1.15" fill="#dc2c18"/><circle cx="0.2" cy="-0.1" r="1.05" fill="#ecd034"/><circle cx="-0.3" cy="-1.5" r="0.95" fill="#e4361c"/></g>
<g transform="translate(513.9 29.4) rotate(302)"><circle cx="-1.25" cy="-0.5" r="1.15" fill="#e2321c"/><circle cx="1.2" cy="-0.7" r="1.15" fill="#e63a1e"/><circle cx="0.1" cy="1.35" r="1.15" fill="#dc2c18"/><circle cx="0.2" cy="-0.1" r="1.05" fill="#ecd034"/><circle cx="-0.3" cy="-1.5" r="0.95" fill="#e4361c"/></g>
<g transform="translate(516.5 30.0) rotate(9)"><circle cx="-1.25" cy="-0.5" r="1.15" fill="#e2321c"/><circle cx="1.2" cy="-0.7" r="1.15" fill="#e63a1e"/><circle cx="0.1" cy="1.35" r="1.15" fill="#dc2c18"/><circle cx="0.2" cy="-0.1" r="1.05" fill="#ecd034"/><circle cx="-0.3" cy="-1.5" r="0.95" fill="#e4361c"/></g>
<g transform="translate(517.2 32.6) rotate(76)"><circle cx="-1.25" cy="-0.5" r="1.15" fill="#e2321c"/><circle cx="1.2" cy="-0.7" r="1.15" fill="#e63a1e"/><circle cx="0.1" cy="1.35" r="1.15" fill="#dc2c18"/><circle cx="0.2" cy="-0.1" r="1.05" fill="#ecd034"/><circle cx="-0.3" cy="-1.5" r="0.95" fill="#e4361c"/></g>
<g transform="translate(486.5 35.2) rotate(143)"><circle cx="-1.25" cy="-0.5" r="1.15" fill="#e2321c"/><circle cx="1.2" cy="-0.7" r="1.15" fill="#e63a1e"/><circle cx="0.1" cy="1.35" r="1.15" fill="#dc2c18"/><circle cx="0.2" cy="-0.1" r="1.05" fill="#ecd034"/><circle cx="-0.3" cy="-1.5" r="0.95" fill="#e4361c"/></g>
<g transform="translate(493.0 9.8) rotate(210)"><circle cx="-1.25" cy="-0.5" r="1.15" fill="#e2321c"/><circle cx="1.2" cy="-0.7" r="1.15" fill="#e63a1e"/><circle cx="0.1" cy="1.35" r="1.15" fill="#dc2c18"/><circle cx="0.2" cy="-0.1" r="1.05" fill="#ecd034"/><circle cx="-0.3" cy="-1.5" r="0.95" fill="#e4361c"/></g>
<g transform="translate(496.9 11.7) rotate(277)"><circle cx="-1.25" cy="-0.5" r="1.15" fill="#e2321c"/><circle cx="1.2" cy="-0.7" r="1.15" fill="#e63a1e"/><circle cx="0.1" cy="1.35" r="1.15" fill="#dc2c18"/><circle cx="0.2" cy="-0.1" r="1.05" fill="#ecd034"/><circle cx="-0.3" cy="-1.5" r="0.95" fill="#e4361c"/></g>
<g transform="translate(525.3 4.6) rotate(344)"><circle cx="-1.25" cy="-0.5" r="1.15" fill="#e2321c"/><circle cx="1.2" cy="-0.7" r="1.15" fill="#e63a1e"/><circle cx="0.1" cy="1.35" r="1.15" fill="#dc2c18"/><circle cx="0.2" cy="-0.1" r="1.05" fill="#ecd034"/><circle cx="-0.3" cy="-1.5" r="0.95" fill="#e4361c"/></g>
<g transform="translate(531.8 1.3) rotate(51)"><circle cx="-1.25" cy="-0.5" r="1.15" fill="#e2321c"/><circle cx="1.2" cy="-0.7" r="1.15" fill="#e63a1e"/><circle cx="0.1" cy="1.35" r="1.15" fill="#dc2c18"/><circle cx="0.2" cy="-0.1" r="1.05" fill="#ecd034"/><circle cx="-0.3" cy="-1.5" r="0.95" fill="#e4361c"/></g>
<g transform="translate(535.7 2.0) rotate(118)"><circle cx="-1.25" cy="-0.5" r="1.15" fill="#e2321c"/><circle cx="1.2" cy="-0.7" r="1.15" fill="#e63a1e"/><circle cx="0.1" cy="1.35" r="1.15" fill="#dc2c18"/><circle cx="0.2" cy="-0.1" r="1.05" fill="#ecd034"/><circle cx="-0.3" cy="-1.5" r="0.95" fill="#e4361c"/></g>
<g transform="translate(537.7 5.2) rotate(185)"><circle cx="-1.25" cy="-0.5" r="1.15" fill="#e2321c"/><circle cx="1.2" cy="-0.7" r="1.15" fill="#e63a1e"/><circle cx="0.1" cy="1.35" r="1.15" fill="#dc2c18"/><circle cx="0.2" cy="-0.1" r="1.05" fill="#ecd034"/><circle cx="-0.3" cy="-1.5" r="0.95" fill="#e4361c"/></g>
<g transform="translate(544.8 8.5) rotate(252)"><circle cx="-1.25" cy="-0.5" r="1.15" fill="#e2321c"/><circle cx="1.2" cy="-0.7" r="1.15" fill="#e63a1e"/><circle cx="0.1" cy="1.35" r="1.15" fill="#dc2c18"/><circle cx="0.2" cy="-0.1" r="1.05" fill="#ecd034"/><circle cx="-0.3" cy="-1.5" r="0.95" fill="#e4361c"/></g>
<g transform="translate(545.5 11.7) rotate(319)"><circle cx="-1.25" cy="-0.5" r="1.15" fill="#e2321c"/><circle cx="1.2" cy="-0.7" r="1.15" fill="#e63a1e"/><circle cx="0.1" cy="1.35" r="1.15" fill="#dc2c18"/><circle cx="0.2" cy="-0.1" r="1.05" fill="#ecd034"/><circle cx="-0.3" cy="-1.5" r="0.95" fill="#e4361c"/></g>
<g transform="translate(550.1 5.2) rotate(26)"><circle cx="-1.25" cy="-0.5" r="1.15" fill="#e2321c"/><circle cx="1.2" cy="-0.7" r="1.15" fill="#e63a1e"/><circle cx="0.1" cy="1.35" r="1.15" fill="#dc2c18"/><circle cx="0.2" cy="-0.1" r="1.05" fill="#ecd034"/><circle cx="-0.3" cy="-1.5" r="0.95" fill="#e4361c"/></g>
<g transform="translate(555.3 5.9) rotate(93)"><circle cx="-1.25" cy="-0.5" r="1.15" fill="#e2321c"/><circle cx="1.2" cy="-0.7" r="1.15" fill="#e63a1e"/><circle cx="0.1" cy="1.35" r="1.15" fill="#dc2c18"/><circle cx="0.2" cy="-0.1" r="1.05" fill="#ecd034"/><circle cx="-0.3" cy="-1.5" r="0.95" fill="#e4361c"/></g>
<g transform="translate(557.2 7.8) rotate(160)"><circle cx="-1.25" cy="-0.5" r="1.15" fill="#e2321c"/><circle cx="1.2" cy="-0.7" r="1.15" fill="#e63a1e"/><circle cx="0.1" cy="1.35" r="1.15" fill="#dc2c18"/><circle cx="0.2" cy="-0.1" r="1.05" fill="#ecd034"/><circle cx="-0.3" cy="-1.5" r="0.95" fill="#e4361c"/></g>
<g transform="translate(561.2 5.2) rotate(227)"><circle cx="-1.25" cy="-0.5" r="1.15" fill="#e2321c"/><circle cx="1.2" cy="-0.7" r="1.15" fill="#e63a1e"/><circle cx="0.1" cy="1.35" r="1.15" fill="#dc2c18"/><circle cx="0.2" cy="-0.1" r="1.05" fill="#ecd034"/><circle cx="-0.3" cy="-1.5" r="0.95" fill="#e4361c"/></g>
<g transform="translate(562.5 7.2) rotate(294)"><circle cx="-1.25" cy="-0.5" r="1.15" fill="#e2321c"/><circle cx="1.2" cy="-0.7" r="1.15" fill="#e63a1e"/><circle cx="0.1" cy="1.35" r="1.15" fill="#dc2c18"/><circle cx="0.2" cy="-0.1" r="1.05" fill="#ecd034"/><circle cx="-0.3" cy="-1.5" r="0.95" fill="#e4361c"/></g>
<g transform="translate(566.4 5.2) rotate(1)"><circle cx="-1.25" cy="-0.5" r="1.15" fill="#e2321c"/><circle cx="1.2" cy="-0.7" r="1.15" fill="#e63a1e"/><circle cx="0.1" cy="1.35" r="1.15" fill="#dc2c18"/><circle cx="0.2" cy="-0.1" r="1.05" fill="#ecd034"/><circle cx="-0.3" cy="-1.5" r="0.95" fill="#e4361c"/></g>
<g transform="translate(554.6 1.3) rotate(68)"><circle cx="-1.25" cy="-0.5" r="1.15" fill="#e2321c"/><circle cx="1.2" cy="-0.7" r="1.15" fill="#e63a1e"/><circle cx="0.1" cy="1.35" r="1.15" fill="#dc2c18"/><circle cx="0.2" cy="-0.1" r="1.05" fill="#ecd034"/><circle cx="-0.3" cy="-1.5" r="0.95" fill="#e4361c"/></g>
<g transform="translate(539.6 13.0) rotate(135)"><circle cx="-1.25" cy="-0.5" r="1.15" fill="#e2321c"/><circle cx="1.2" cy="-0.7" r="1.15" fill="#e63a1e"/><circle cx="0.1" cy="1.35" r="1.15" fill="#dc2c18"/><circle cx="0.2" cy="-0.1" r="1.05" fill="#ecd034"/><circle cx="-0.3" cy="-1.5" r="0.95" fill="#e4361c"/></g>
<g transform="translate(541.6 15.7) rotate(202)"><circle cx="-1.25" cy="-0.5" r="1.15" fill="#e2321c"/><circle cx="1.2" cy="-0.7" r="1.15" fill="#e63a1e"/><circle cx="0.1" cy="1.35" r="1.15" fill="#dc2c18"/><circle cx="0.2" cy="-0.1" r="1.05" fill="#ecd034"/><circle cx="-0.3" cy="-1.5" r="0.95" fill="#e4361c"/></g>
<g transform="translate(552.7 13.7) rotate(269)"><circle cx="-1.25" cy="-0.5" r="1.15" fill="#e2321c"/><circle cx="1.2" cy="-0.7" r="1.15" fill="#e63a1e"/><circle cx="0.1" cy="1.35" r="1.15" fill="#dc2c18"/><circle cx="0.2" cy="-0.1" r="1.05" fill="#ecd034"/><circle cx="-0.3" cy="-1.5" r="0.95" fill="#e4361c"/></g>
<g transform="translate(555.9 15.0) rotate(336)"><circle cx="-1.25" cy="-0.5" r="1.15" fill="#e2321c"/><circle cx="1.2" cy="-0.7" r="1.15" fill="#e63a1e"/><circle cx="0.1" cy="1.35" r="1.15" fill="#dc2c18"/><circle cx="0.2" cy="-0.1" r="1.05" fill="#ecd034"/><circle cx="-0.3" cy="-1.5" r="0.95" fill="#e4361c"/></g>
<g transform="translate(550.7 20.2) rotate(43)"><circle cx="-1.25" cy="-0.5" r="1.15" fill="#e2321c"/><circle cx="1.2" cy="-0.7" r="1.15" fill="#e63a1e"/><circle cx="0.1" cy="1.35" r="1.15" fill="#dc2c18"/><circle cx="0.2" cy="-0.1" r="1.05" fill="#ecd034"/><circle cx="-0.3" cy="-1.5" r="0.95" fill="#e4361c"/></g>
<g transform="translate(559.2 19.6) rotate(110)"><circle cx="-1.25" cy="-0.5" r="1.15" fill="#e2321c"/><circle cx="1.2" cy="-0.7" r="1.15" fill="#e63a1e"/><circle cx="0.1" cy="1.35" r="1.15" fill="#dc2c18"/><circle cx="0.2" cy="-0.1" r="1.05" fill="#ecd034"/><circle cx="-0.3" cy="-1.5" r="0.95" fill="#e4361c"/></g>
<g transform="translate(565.1 13.7) rotate(177)"><circle cx="-1.25" cy="-0.5" r="1.15" fill="#e2321c"/><circle cx="1.2" cy="-0.7" r="1.15" fill="#e63a1e"/><circle cx="0.1" cy="1.35" r="1.15" fill="#dc2c18"/><circle cx="0.2" cy="-0.1" r="1.05" fill="#ecd034"/><circle cx="-0.3" cy="-1.5" r="0.95" fill="#e4361c"/></g>
<g transform="translate(529.2 17.0) rotate(244)"><circle cx="-1.25" cy="-0.5" r="1.15" fill="#e2321c"/><circle cx="1.2" cy="-0.7" r="1.15" fill="#e63a1e"/><circle cx="0.1" cy="1.35" r="1.15" fill="#dc2c18"/><circle cx="0.2" cy="-0.1" r="1.05" fill="#ecd034"/><circle cx="-0.3" cy="-1.5" r="0.95" fill="#e4361c"/></g>
<g transform="translate(532.4 18.3) rotate(311)"><circle cx="-1.25" cy="-0.5" r="1.15" fill="#e2321c"/><circle cx="1.2" cy="-0.7" r="1.15" fill="#e63a1e"/><circle cx="0.1" cy="1.35" r="1.15" fill="#dc2c18"/><circle cx="0.2" cy="-0.1" r="1.05" fill="#ecd034"/><circle cx="-0.3" cy="-1.5" r="0.95" fill="#e4361c"/></g>
<g transform="translate(533.1 24.2) rotate(18)"><circle cx="-1.25" cy="-0.5" r="1.15" fill="#e2321c"/><circle cx="1.2" cy="-0.7" r="1.15" fill="#e63a1e"/><circle cx="0.1" cy="1.35" r="1.15" fill="#dc2c18"/><circle cx="0.2" cy="-0.1" r="1.05" fill="#ecd034"/><circle cx="-0.3" cy="-1.5" r="0.95" fill="#e4361c"/></g>
<g transform="translate(539.6 25.5) rotate(85)"><circle cx="-1.25" cy="-0.5" r="1.15" fill="#e2321c"/><circle cx="1.2" cy="-0.7" r="1.15" fill="#e63a1e"/><circle cx="0.1" cy="1.35" r="1.15" fill="#dc2c18"/><circle cx="0.2" cy="-0.1" r="1.05" fill="#ecd034"/><circle cx="-0.3" cy="-1.5" r="0.95" fill="#e4361c"/></g>
<g transform="translate(542.9 28.1) rotate(152)"><circle cx="-1.25" cy="-0.5" r="1.15" fill="#e2321c"/><circle cx="1.2" cy="-0.7" r="1.15" fill="#e63a1e"/><circle cx="0.1" cy="1.35" r="1.15" fill="#dc2c18"/><circle cx="0.2" cy="-0.1" r="1.05" fill="#ecd034"/><circle cx="-0.3" cy="-1.5" r="0.95" fill="#e4361c"/></g>
<g transform="translate(564.4 22.8) rotate(219)"><circle cx="-1.25" cy="-0.5" r="1.15" fill="#e2321c"/><circle cx="1.2" cy="-0.7" r="1.15" fill="#e63a1e"/><circle cx="0.1" cy="1.35" r="1.15" fill="#dc2c18"/><circle cx="0.2" cy="-0.1" r="1.05" fill="#ecd034"/><circle cx="-0.3" cy="-1.5" r="0.95" fill="#e4361c"/></g>
<g transform="translate(565.1 28.7) rotate(286)"><circle cx="-1.25" cy="-0.5" r="1.15" fill="#e2321c"/><circle cx="1.2" cy="-0.7" r="1.15" fill="#e63a1e"/><circle cx="0.1" cy="1.35" r="1.15" fill="#dc2c18"/><circle cx="0.2" cy="-0.1" r="1.05" fill="#ecd034"/><circle cx="-0.3" cy="-1.5" r="0.95" fill="#e4361c"/></g>
<g transform="translate(548.1 33.9) rotate(353)"><circle cx="-1.25" cy="-0.5" r="1.15" fill="#e2321c"/><circle cx="1.2" cy="-0.7" r="1.15" fill="#e63a1e"/><circle cx="0.1" cy="1.35" r="1.15" fill="#dc2c18"/><circle cx="0.2" cy="-0.1" r="1.05" fill="#ecd034"/><circle cx="-0.3" cy="-1.5" r="0.95" fill="#e4361c"/></g>
<g transform="translate(547.5 45.0) rotate(60)"><circle cx="-1.25" cy="-0.5" r="1.15" fill="#e2321c"/><circle cx="1.2" cy="-0.7" r="1.15" fill="#e63a1e"/><circle cx="0.1" cy="1.35" r="1.15" fill="#dc2c18"/><circle cx="0.2" cy="-0.1" r="1.05" fill="#ecd034"/><circle cx="-0.3" cy="-1.5" r="0.95" fill="#e4361c"/></g>
<g transform="translate(531.1 49.0) rotate(127)"><circle cx="-1.25" cy="-0.5" r="1.15" fill="#e2321c"/><circle cx="1.2" cy="-0.7" r="1.15" fill="#e63a1e"/><circle cx="0.1" cy="1.35" r="1.15" fill="#dc2c18"/><circle cx="0.2" cy="-0.1" r="1.05" fill="#ecd034"/><circle cx="-0.3" cy="-1.5" r="0.95" fill="#e4361c"/></g>
<g transform="translate(475.5 43.7) rotate(194)"><circle cx="-1.25" cy="-0.5" r="1.15" fill="#e2321c"/><circle cx="1.2" cy="-0.7" r="1.15" fill="#e63a1e"/><circle cx="0.1" cy="1.35" r="1.15" fill="#dc2c18"/><circle cx="0.2" cy="-0.1" r="1.05" fill="#ecd034"/><circle cx="-0.3" cy="-1.5" r="0.95" fill="#e4361c"/></g>
<g transform="translate(499.2 63.3) rotate(261)"><circle cx="-1.25" cy="-0.5" r="1.15" fill="#e2321c"/><circle cx="1.2" cy="-0.7" r="1.15" fill="#e63a1e"/><circle cx="0.1" cy="1.35" r="1.15" fill="#dc2c18"/><circle cx="0.2" cy="-0.1" r="1.05" fill="#ecd034"/><circle cx="-0.3" cy="-1.5" r="0.95" fill="#e4361c"/></g>
<g transform="translate(530.4 50.4) rotate(328)"><circle cx="-1.25" cy="-0.5" r="1.15" fill="#e2321c"/><circle cx="1.2" cy="-0.7" r="1.15" fill="#e63a1e"/><circle cx="0.1" cy="1.35" r="1.15" fill="#dc2c18"/><circle cx="0.2" cy="-0.1" r="1.05" fill="#ecd034"/><circle cx="-0.3" cy="-1.5" r="0.95" fill="#e4361c"/></g>
<g transform="translate(547.0 45.4) rotate(35)"><circle cx="-1.25" cy="-0.5" r="1.15" fill="#e2321c"/><circle cx="1.2" cy="-0.7" r="1.15" fill="#e63a1e"/><circle cx="0.1" cy="1.35" r="1.15" fill="#dc2c18"/><circle cx="0.2" cy="-0.1" r="1.05" fill="#ecd034"/><circle cx="-0.3" cy="-1.5" r="0.95" fill="#e4361c"/></g>
<g transform="translate(498.8 63.0) rotate(102)"><circle cx="-1.25" cy="-0.5" r="1.15" fill="#e2321c"/><circle cx="1.2" cy="-0.7" r="1.15" fill="#e63a1e"/><circle cx="0.1" cy="1.35" r="1.15" fill="#dc2c18"/><circle cx="0.2" cy="-0.1" r="1.05" fill="#ecd034"/><circle cx="-0.3" cy="-1.5" r="0.95" fill="#e4361c"/></g>
<g transform="translate(488.0 3.0) rotate(169)"><circle cx="-1.25" cy="-0.5" r="1.15" fill="#e2321c"/><circle cx="1.2" cy="-0.7" r="1.15" fill="#e63a1e"/><circle cx="0.1" cy="1.35" r="1.15" fill="#dc2c18"/><circle cx="0.2" cy="-0.1" r="1.05" fill="#ecd034"/><circle cx="-0.3" cy="-1.5" r="0.95" fill="#e4361c"/></g>
<g transform="translate(506.0 5.0) rotate(236)"><circle cx="-1.25" cy="-0.5" r="1.15" fill="#e2321c"/><circle cx="1.2" cy="-0.7" r="1.15" fill="#e63a1e"/><circle cx="0.1" cy="1.35" r="1.15" fill="#dc2c18"/><circle cx="0.2" cy="-0.1" r="1.05" fill="#ecd034"/><circle cx="-0.3" cy="-1.5" r="0.95" fill="#e4361c"/></g>
<g transform="translate(519.0 9.0) rotate(303)"><circle cx="-1.25" cy="-0.5" r="1.15" fill="#e2321c"/><circle cx="1.2" cy="-0.7" r="1.15" fill="#e63a1e"/><circle cx="0.1" cy="1.35" r="1.15" fill="#dc2c18"/><circle cx="0.2" cy="-0.1" r="1.05" fill="#ecd034"/><circle cx="-0.3" cy="-1.5" r="0.95" fill="#e4361c"/></g>
<g transform="translate(528.0 12.0) rotate(10)"><circle cx="-1.25" cy="-0.5" r="1.15" fill="#e2321c"/><circle cx="1.2" cy="-0.7" r="1.15" fill="#e63a1e"/><circle cx="0.1" cy="1.35" r="1.15" fill="#dc2c18"/><circle cx="0.2" cy="-0.1" r="1.05" fill="#ecd034"/><circle cx="-0.3" cy="-1.5" r="0.95" fill="#e4361c"/></g>
<g transform="translate(470.0 15.0) rotate(77)"><circle cx="-1.25" cy="-0.5" r="1.15" fill="#e2321c"/><circle cx="1.2" cy="-0.7" r="1.15" fill="#e63a1e"/><circle cx="0.1" cy="1.35" r="1.15" fill="#dc2c18"/><circle cx="0.2" cy="-0.1" r="1.05" fill="#ecd034"/><circle cx="-0.3" cy="-1.5" r="0.95" fill="#e4361c"/></g>
<g transform="translate(507.0 19.0) rotate(144)"><circle cx="-1.25" cy="-0.5" r="1.15" fill="#e2321c"/><circle cx="1.2" cy="-0.7" r="1.15" fill="#e63a1e"/><circle cx="0.1" cy="1.35" r="1.15" fill="#dc2c18"/><circle cx="0.2" cy="-0.1" r="1.05" fill="#ecd034"/><circle cx="-0.3" cy="-1.5" r="0.95" fill="#e4361c"/></g>
<g transform="translate(548.0 18.0) rotate(211)"><circle cx="-1.25" cy="-0.5" r="1.15" fill="#e2321c"/><circle cx="1.2" cy="-0.7" r="1.15" fill="#e63a1e"/><circle cx="0.1" cy="1.35" r="1.15" fill="#dc2c18"/><circle cx="0.2" cy="-0.1" r="1.05" fill="#ecd034"/><circle cx="-0.3" cy="-1.5" r="0.95" fill="#e4361c"/></g>
<g transform="translate(560.0 14.0) rotate(278)"><circle cx="-1.25" cy="-0.5" r="1.15" fill="#e2321c"/><circle cx="1.2" cy="-0.7" r="1.15" fill="#e63a1e"/><circle cx="0.1" cy="1.35" r="1.15" fill="#dc2c18"/><circle cx="0.2" cy="-0.1" r="1.05" fill="#ecd034"/><circle cx="-0.3" cy="-1.5" r="0.95" fill="#e4361c"/></g>
<g transform="translate(536.0 19.0) rotate(345)"><circle cx="-1.25" cy="-0.5" r="1.15" fill="#e2321c"/><circle cx="1.2" cy="-0.7" r="1.15" fill="#e63a1e"/><circle cx="0.1" cy="1.35" r="1.15" fill="#dc2c18"/><circle cx="0.2" cy="-0.1" r="1.05" fill="#ecd034"/><circle cx="-0.3" cy="-1.5" r="0.95" fill="#e4361c"/></g>
<g transform="translate(490.0 30.0) rotate(52)"><circle cx="-1.25" cy="-0.5" r="1.15" fill="#e2321c"/><circle cx="1.2" cy="-0.7" r="1.15" fill="#e63a1e"/><circle cx="0.1" cy="1.35" r="1.15" fill="#dc2c18"/><circle cx="0.2" cy="-0.1" r="1.05" fill="#ecd034"/><circle cx="-0.3" cy="-1.5" r="0.95" fill="#e4361c"/></g>
<g transform="translate(484.0 1.0) rotate(119)"><circle cx="-1.25" cy="-0.5" r="1.15" fill="#e2321c"/><circle cx="1.2" cy="-0.7" r="1.15" fill="#e63a1e"/><circle cx="0.1" cy="1.35" r="1.15" fill="#dc2c18"/><circle cx="0.2" cy="-0.1" r="1.05" fill="#ecd034"/><circle cx="-0.3" cy="-1.5" r="0.95" fill="#e4361c"/></g>
<g transform="translate(499.0 0.5) rotate(186)"><circle cx="-1.25" cy="-0.5" r="1.15" fill="#e2321c"/><circle cx="1.2" cy="-0.7" r="1.15" fill="#e63a1e"/><circle cx="0.1" cy="1.35" r="1.15" fill="#dc2c18"/><circle cx="0.2" cy="-0.1" r="1.05" fill="#ecd034"/><circle cx="-0.3" cy="-1.5" r="0.95" fill="#e4361c"/></g>
<g transform="translate(517.0 0.5) rotate(253)"><circle cx="-1.25" cy="-0.5" r="1.15" fill="#e2321c"/><circle cx="1.2" cy="-0.7" r="1.15" fill="#e63a1e"/><circle cx="0.1" cy="1.35" r="1.15" fill="#dc2c18"/><circle cx="0.2" cy="-0.1" r="1.05" fill="#ecd034"/><circle cx="-0.3" cy="-1.5" r="0.95" fill="#e4361c"/></g>
<g transform="translate(521.0 6.0) rotate(320)"><circle cx="-1.25" cy="-0.5" r="1.15" fill="#e2321c"/><circle cx="1.2" cy="-0.7" r="1.15" fill="#e63a1e"/><circle cx="0.1" cy="1.35" r="1.15" fill="#dc2c18"/><circle cx="0.2" cy="-0.1" r="1.05" fill="#ecd034"/><circle cx="-0.3" cy="-1.5" r="0.95" fill="#e4361c"/></g>
<g transform="translate(540.0 0.5) rotate(27)"><circle cx="-1.25" cy="-0.5" r="1.15" fill="#e2321c"/><circle cx="1.2" cy="-0.7" r="1.15" fill="#e63a1e"/><circle cx="0.1" cy="1.35" r="1.15" fill="#dc2c18"/><circle cx="0.2" cy="-0.1" r="1.05" fill="#ecd034"/><circle cx="-0.3" cy="-1.5" r="0.95" fill="#e4361c"/></g>
<g transform="translate(547.0 1.5) rotate(94)"><circle cx="-1.25" cy="-0.5" r="1.15" fill="#e2321c"/><circle cx="1.2" cy="-0.7" r="1.15" fill="#e63a1e"/><circle cx="0.1" cy="1.35" r="1.15" fill="#dc2c18"/><circle cx="0.2" cy="-0.1" r="1.05" fill="#ecd034"/><circle cx="-0.3" cy="-1.5" r="0.95" fill="#e4361c"/></g>
<g transform="translate(559.0 0.8) rotate(161)"><circle cx="-1.25" cy="-0.5" r="1.15" fill="#e2321c"/><circle cx="1.2" cy="-0.7" r="1.15" fill="#e63a1e"/><circle cx="0.1" cy="1.35" r="1.15" fill="#dc2c18"/><circle cx="0.2" cy="-0.1" r="1.05" fill="#ecd034"/><circle cx="-0.3" cy="-1.5" r="0.95" fill="#e4361c"/></g>
<g transform="translate(566.0 1.0) rotate(228)"><circle cx="-1.25" cy="-0.5" r="1.15" fill="#e2321c"/><circle cx="1.2" cy="-0.7" r="1.15" fill="#e63a1e"/><circle cx="0.1" cy="1.35" r="1.15" fill="#dc2c18"/><circle cx="0.2" cy="-0.1" r="1.05" fill="#ecd034"/><circle cx="-0.3" cy="-1.5" r="0.95" fill="#e4361c"/></g>
<g transform="translate(568.0 10.0) rotate(295)"><circle cx="-1.25" cy="-0.5" r="1.15" fill="#e2321c"/><circle cx="1.2" cy="-0.7" r="1.15" fill="#e63a1e"/><circle cx="0.1" cy="1.35" r="1.15" fill="#dc2c18"/><circle cx="0.2" cy="-0.1" r="1.05" fill="#ecd034"/><circle cx="-0.3" cy="-1.5" r="0.95" fill="#e4361c"/></g>
<g transform="translate(503.0 17.0) rotate(2)"><circle cx="-1.25" cy="-0.5" r="1.15" fill="#e2321c"/><circle cx="1.2" cy="-0.7" r="1.15" fill="#e63a1e"/><circle cx="0.1" cy="1.35" r="1.15" fill="#dc2c18"/><circle cx="0.2" cy="-0.1" r="1.05" fill="#ecd034"/><circle cx="-0.3" cy="-1.5" r="0.95" fill="#e4361c"/></g>
<g transform="translate(497.0 31.0) rotate(69)"><circle cx="-1.25" cy="-0.5" r="1.15" fill="#e2321c"/><circle cx="1.2" cy="-0.7" r="1.15" fill="#e63a1e"/><circle cx="0.1" cy="1.35" r="1.15" fill="#dc2c18"/><circle cx="0.2" cy="-0.1" r="1.05" fill="#ecd034"/><circle cx="-0.3" cy="-1.5" r="0.95" fill="#e4361c"/></g>
<g transform="translate(505.0 28.0) rotate(136)"><circle cx="-1.25" cy="-0.5" r="1.15" fill="#e2321c"/><circle cx="1.2" cy="-0.7" r="1.15" fill="#e63a1e"/><circle cx="0.1" cy="1.35" r="1.15" fill="#dc2c18"/><circle cx="0.2" cy="-0.1" r="1.05" fill="#ecd034"/><circle cx="-0.3" cy="-1.5" r="0.95" fill="#e4361c"/></g>
<g transform="translate(520.0 19.0) rotate(203)"><circle cx="-1.25" cy="-0.5" r="1.15" fill="#e2321c"/><circle cx="1.2" cy="-0.7" r="1.15" fill="#e63a1e"/><circle cx="0.1" cy="1.35" r="1.15" fill="#dc2c18"/><circle cx="0.2" cy="-0.1" r="1.05" fill="#ecd034"/><circle cx="-0.3" cy="-1.5" r="0.95" fill="#e4361c"/></g>
<g transform="translate(530.0 3.0) rotate(270)"><circle cx="-1.25" cy="-0.5" r="1.15" fill="#e2321c"/><circle cx="1.2" cy="-0.7" r="1.15" fill="#e63a1e"/><circle cx="0.1" cy="1.35" r="1.15" fill="#dc2c18"/><circle cx="0.2" cy="-0.1" r="1.05" fill="#ecd034"/><circle cx="-0.3" cy="-1.5" r="0.95" fill="#e4361c"/></g>
<g transform="translate(512.0 9.0) rotate(337)"><circle cx="-1.25" cy="-0.5" r="1.15" fill="#e2321c"/><circle cx="1.2" cy="-0.7" r="1.15" fill="#e63a1e"/><circle cx="0.1" cy="1.35" r="1.15" fill="#dc2c18"/><circle cx="0.2" cy="-0.1" r="1.05" fill="#ecd034"/><circle cx="-0.3" cy="-1.5" r="0.95" fill="#e4361c"/></g>
<g transform="translate(489.0 8.0) rotate(44)"><circle cx="-1.25" cy="-0.5" r="1.15" fill="#e2321c"/><circle cx="1.2" cy="-0.7" r="1.15" fill="#e63a1e"/><circle cx="0.1" cy="1.35" r="1.15" fill="#dc2c18"/><circle cx="0.2" cy="-0.1" r="1.05" fill="#ecd034"/><circle cx="-0.3" cy="-1.5" r="0.95" fill="#e4361c"/></g>
<g transform="translate(476.0 12.0) rotate(111)"><circle cx="-1.25" cy="-0.5" r="1.15" fill="#e2321c"/><circle cx="1.2" cy="-0.7" r="1.15" fill="#e63a1e"/><circle cx="0.1" cy="1.35" r="1.15" fill="#dc2c18"/><circle cx="0.2" cy="-0.1" r="1.05" fill="#ecd034"/><circle cx="-0.3" cy="-1.5" r="0.95" fill="#e4361c"/></g>
<g transform="translate(543.0 14.0) rotate(178)"><circle cx="-1.25" cy="-0.5" r="1.15" fill="#e2321c"/><circle cx="1.2" cy="-0.7" r="1.15" fill="#e63a1e"/><circle cx="0.1" cy="1.35" r="1.15" fill="#dc2c18"/><circle cx="0.2" cy="-0.1" r="1.05" fill="#ecd034"/><circle cx="-0.3" cy="-1.5" r="0.95" fill="#e4361c"/></g>
<g transform="translate(557.0 12.0) rotate(245)"><circle cx="-1.25" cy="-0.5" r="1.15" fill="#e2321c"/><circle cx="1.2" cy="-0.7" r="1.15" fill="#e63a1e"/><circle cx="0.1" cy="1.35" r="1.15" fill="#dc2c18"/><circle cx="0.2" cy="-0.1" r="1.05" fill="#ecd034"/><circle cx="-0.3" cy="-1.5" r="0.95" fill="#e4361c"/></g>
<g transform="translate(537.0 9.0) rotate(312)"><circle cx="-1.25" cy="-0.5" r="1.15" fill="#e2321c"/><circle cx="1.2" cy="-0.7" r="1.15" fill="#e63a1e"/><circle cx="0.1" cy="1.35" r="1.15" fill="#dc2c18"/><circle cx="0.2" cy="-0.1" r="1.05" fill="#ecd034"/><circle cx="-0.3" cy="-1.5" r="0.95" fill="#e4361c"/></g>
<circle cx="466.9" cy="23.4" r="2.15" fill="url(#gB)"/>
<circle cx="470.0" cy="27.3" r="2.15" fill="url(#gB)"/>
<circle cx="476.3" cy="21.9" r="2.15" fill="url(#gB)"/>
<circle cx="479.4" cy="19.5" r="2.15" fill="url(#gB)"/>
<circle cx="476.3" cy="28.9" r="2.15" fill="url(#gB)"/>
<circle cx="479.4" cy="26.6" r="2.15" fill="url(#gB)"/>
<circle cx="481.8" cy="31.3" r="2.15" fill="url(#gB)"/>
<circle cx="471.6" cy="35.2" r="2.15" fill="url(#gB)"/>
<circle cx="470.8" cy="41.4" r="2.15" fill="url(#gB)"/>
<circle cx="477.9" cy="39.8" r="2.15" fill="url(#gB)"/>
<circle cx="465.4" cy="46.1" r="2.15" fill="url(#gB)"/>
<circle cx="481.0" cy="46.1" r="2.15" fill="url(#gB)"/>
<circle cx="482.6" cy="5.2" r="2.15" fill="url(#gB)"/>
<circle cx="494.3" cy="7.2" r="2.15" fill="url(#gB)"/>
<circle cx="506.7" cy="2.6" r="2.15" fill="url(#gB)"/>
<circle cx="512.6" cy="0.7" r="2.15" fill="url(#gB)"/>
<circle cx="514.6" cy="5.9" r="2.15" fill="url(#gB)"/>
<circle cx="517.2" cy="7.2" r="2.15" fill="url(#gB)"/>
<circle cx="520.4" cy="2.6" r="2.15" fill="url(#gB)"/>
<circle cx="510.6" cy="15.7" r="2.15" fill="url(#gB)"/>
<circle cx="522.4" cy="12.4" r="2.15" fill="url(#gB)"/>
<circle cx="487.1" cy="14.4" r="2.15" fill="url(#gB)"/>
<circle cx="491.7" cy="14.4" r="2.15" fill="url(#gB)"/>
<circle cx="498.2" cy="13.7" r="2.15" fill="url(#gB)"/>
<circle cx="490.4" cy="22.2" r="2.15" fill="url(#gB)"/>
<circle cx="494.3" cy="21.5" r="2.15" fill="url(#gB)"/>
<circle cx="495.0" cy="24.2" r="2.15" fill="url(#gB)"/>
<circle cx="510.0" cy="24.8" r="2.15" fill="url(#gB)"/>
<circle cx="512.6" cy="22.8" r="2.15" fill="url(#gB)"/>
<circle cx="518.5" cy="17.0" r="2.15" fill="url(#gB)"/>
<circle cx="521.1" cy="22.2" r="2.15" fill="url(#gB)"/>
<circle cx="525.6" cy="24.2" r="2.15" fill="url(#gB)"/>
<circle cx="481.9" cy="30.7" r="2.15" fill="url(#gB)"/>
<circle cx="518.5" cy="28.1" r="2.15" fill="url(#gB)"/>
<circle cx="524.3" cy="28.7" r="2.15" fill="url(#gB)"/>
<circle cx="483.2" cy="34.6" r="2.15" fill="url(#gB)"/>
<circle cx="485.8" cy="41.8" r="2.15" fill="url(#gB)"/>
<circle cx="483.2" cy="43.1" r="2.15" fill="url(#gB)"/>
<circle cx="498.9" cy="43.1" r="2.15" fill="url(#gB)"/>
<circle cx="499.5" cy="48.3" r="2.15" fill="url(#gB)"/>
<circle cx="527.2" cy="1.3" r="2.15" fill="url(#gB)"/>
<circle cx="522.7" cy="7.2" r="2.15" fill="url(#gB)"/>
<circle cx="527.2" cy="8.5" r="2.15" fill="url(#gB)"/>
<circle cx="531.1" cy="10.4" r="2.15" fill="url(#gB)"/>
<circle cx="535.7" cy="9.8" r="2.15" fill="url(#gB)"/>
<circle cx="544.2" cy="4.6" r="2.15" fill="url(#gB)"/>
<circle cx="551.4" cy="11.1" r="2.15" fill="url(#gB)"/>
<circle cx="548.8" cy="13.7" r="2.15" fill="url(#gB)"/>
<circle cx="558.6" cy="7.8" r="2.15" fill="url(#gB)"/>
<circle cx="522.7" cy="12.4" r="2.15" fill="url(#gB)"/>
<circle cx="523.3" cy="20.9" r="2.15" fill="url(#gB)"/>
<circle cx="527.9" cy="21.5" r="2.15" fill="url(#gB)"/>
<circle cx="525.9" cy="24.2" r="2.15" fill="url(#gB)"/>
<circle cx="528.5" cy="24.8" r="2.15" fill="url(#gB)"/>
<circle cx="535.1" cy="22.8" r="2.15" fill="url(#gB)"/>
<circle cx="538.3" cy="23.5" r="2.15" fill="url(#gB)"/>
<circle cx="542.9" cy="20.9" r="2.15" fill="url(#gB)"/>
<circle cx="546.8" cy="20.9" r="2.15" fill="url(#gB)"/>
<circle cx="552.7" cy="18.9" r="2.15" fill="url(#gB)"/>
<circle cx="560.5" cy="23.5" r="2.15" fill="url(#gB)"/>
<circle cx="524.0" cy="28.7" r="2.15" fill="url(#gB)"/>
<circle cx="534.4" cy="29.4" r="2.15" fill="url(#gB)"/>
<circle cx="537.7" cy="30.7" r="2.15" fill="url(#gB)"/>
<circle cx="543.5" cy="24.8" r="2.15" fill="url(#gB)"/>
<circle cx="547.5" cy="28.1" r="2.15" fill="url(#gB)"/>
<circle cx="552.0" cy="25.5" r="2.15" fill="url(#gB)"/>
<circle cx="555.9" cy="25.5" r="2.15" fill="url(#gB)"/>
<circle cx="554.0" cy="30.0" r="2.15" fill="url(#gB)"/>
<circle cx="557.9" cy="30.7" r="2.15" fill="url(#gB)"/>
<circle cx="560.5" cy="31.3" r="2.15" fill="url(#gB)"/>
<circle cx="562.5" cy="30.7" r="2.15" fill="url(#gB)"/>
<circle cx="563.8" cy="27.4" r="2.15" fill="url(#gB)"/>
<circle cx="543.5" cy="34.6" r="2.15" fill="url(#gB)"/>
<circle cx="563.8" cy="37.9" r="2.15" fill="url(#gB)"/>
<circle cx="530.5" cy="42.4" r="2.15" fill="url(#gB)"/>
<circle cx="567.0" cy="46.3" r="2.15" fill="url(#gB)"/>
<circle cx="551.4" cy="47.6" r="2.15" fill="url(#gB)"/>
<circle cx="465.1" cy="46.7" r="2.15" fill="url(#gB)"/>
<circle cx="470.9" cy="41.7" r="2.15" fill="url(#gB)"/>
<circle cx="471.7" cy="42.9" r="2.15" fill="url(#gB)"/>
<circle cx="478.0" cy="40.8" r="2.15" fill="url(#gB)"/>
<circle cx="481.7" cy="46.7" r="2.15" fill="url(#gB)"/>
<circle cx="483.4" cy="47.5" r="2.15" fill="url(#gB)"/>
<circle cx="483.8" cy="43.3" r="2.15" fill="url(#gB)"/>
<circle cx="486.3" cy="41.7" r="2.15" fill="url(#gB)"/>
<circle cx="492.5" cy="50.4" r="2.15" fill="url(#gB)"/>
<circle cx="498.8" cy="43.3" r="2.15" fill="url(#gB)"/>
<circle cx="500.4" cy="48.3" r="2.15" fill="url(#gB)"/>
<circle cx="503.3" cy="51.2" r="2.15" fill="url(#gB)"/>
<circle cx="530.8" cy="42.3" r="2.15" fill="url(#gB)"/>
<circle cx="538.7" cy="52.9" r="2.15" fill="url(#gB)"/>
<circle cx="548.3" cy="48.3" r="2.15" fill="url(#gB)"/>
<circle cx="552.0" cy="48.7" r="2.15" fill="url(#gB)"/>
<circle cx="549.5" cy="53.7" r="2.15" fill="url(#gB)"/>
<circle cx="481.0" cy="66.3" r="2.15" fill="url(#gB)"/>
<circle cx="490.0" cy="65.0" r="2.15" fill="url(#gB)"/>
<circle cx="491.3" cy="66.6" r="2.15" fill="url(#gB)"/>
<circle cx="513.0" cy="61.3" r="2.15" fill="url(#gB)"/>
<circle cx="510.4" cy="65.8" r="2.15" fill="url(#gB)"/>
<circle cx="515.4" cy="66.3" r="2.15" fill="url(#gB)"/>
<circle cx="521.0" cy="69.5" r="2.15" fill="url(#gB)"/>
<circle cx="545.4" cy="64.2" r="2.15" fill="url(#gB)"/>
<circle cx="543.7" cy="67.5" r="2.15" fill="url(#gB)"/>
<circle cx="559.5" cy="63.0" r="2.15" fill="url(#gB)"/>
<circle cx="562.0" cy="63.3" r="2.15" fill="url(#gB)"/>
<circle cx="564.0" cy="60.5" r="2.15" fill="url(#gB)"/>
<circle cx="549.5" cy="55.0" r="2.15" fill="url(#gB)"/>
<circle cx="473.8" cy="73.3" r="2.15" fill="url(#gB)"/>
<circle cx="474.6" cy="75.5" r="2.15" fill="url(#gB)"/>
<circle cx="497.4" cy="80.3" r="2.15" fill="url(#gB)"/>
<circle cx="499.6" cy="82.5" r="2.15" fill="url(#gB)"/>
<circle cx="510.0" cy="83.0" r="2.15" fill="url(#gB)"/>
<circle cx="559.0" cy="74.3" r="2.15" fill="url(#gB)"/>
<circle cx="566.5" cy="75.5" r="2.15" fill="url(#gB)"/>
<circle cx="557.8" cy="83.6" r="2.15" fill="url(#gB)"/>
<circle cx="487.0" cy="86.3" r="2.15" fill="url(#gB)"/>
<circle cx="475.0" cy="88.3" r="2.15" fill="url(#gB)"/>
<circle cx="526.7" cy="91.6" r="2.15" fill="url(#gB)"/>
<circle cx="536.9" cy="89.3" r="2.15" fill="url(#gB)"/>
<circle cx="477.0" cy="98.3" r="2.15" fill="url(#gB)"/>
<circle cx="534.2" cy="99.6" r="2.15" fill="url(#gB)"/>
<circle cx="498.4" cy="118.3" r="1.35" fill="url(#gB)"/>
<circle cx="534.9" cy="122.6" r="1.35" fill="url(#gB)"/>
<circle cx="506.3" cy="141.3" r="1.35" fill="url(#gB)"/>
<circle cx="468.3" cy="149.9" r="1.35" fill="url(#gB)"/>
<circle cx="528.4" cy="149.3" r="1.35" fill="url(#gB)"/>
<circle cx="559.8" cy="155.8" r="1.35" fill="url(#gB)"/>
</g>
<rect x="458" y="0" width="21.2" height="17.4" fill="#fff"/>
<text x="463.4" y="13.9" font-size="21" font-weight="bold" fill="#000">c</text>
<text x="464.0" y="132.1" font-size="12.6" font-weight="bold" fill="#000">Cl<tspan dy="-5" font-size="8.6">&#8722;</tspan><tspan dy="5">/SO</tspan><tspan dy="3" font-size="8.6">4</tspan><tspan dy="-8.6" font-size="8.6">2&#8722;</tspan></text>
<g clip-path="url(#clipd)">
<rect x="575" y="34.3" width="107" height="103.5" fill="url(#lat)"/>
<rect x="572.0" y="0" width="2.6" height="162.5" fill="url(#gWall)"/>
<rect x="682.0" y="0" width="3" height="162.5" fill="url(#gWall)"/>
<circle cx="595.9" cy="2.9" r="2.05" fill="url(#gY)"/>
<circle cx="599.6" cy="3.7" r="2.05" fill="url(#gY)"/>
<circle cx="604.7" cy="5.8" r="2.05" fill="url(#gY)"/>
<circle cx="606.2" cy="8.0" r="2.05" fill="url(#gY)"/>
<circle cx="609.1" cy="7.3" r="2.05" fill="url(#gY)"/>
<circle cx="610.5" cy="1.5" r="2.05" fill="url(#gY)"/>
<circle cx="613.5" cy="2.2" r="2.05" fill="url(#gY)"/>
<circle cx="623.7" cy="5.8" r="2.05" fill="url(#gY)"/>
<circle cx="626.6" cy="5.1" r="2.05" fill="url(#gY)"/>
<circle cx="619.3" cy="12.4" r="2.05" fill="url(#gY)"/>
<circle cx="621.5" cy="13.9" r="2.05" fill="url(#gY)"/>
<circle cx="594.5" cy="18.3" r="2.05" fill="url(#gY)"/>
<circle cx="604.0" cy="18.3" r="2.05" fill="url(#gY)"/>
<circle cx="608.4" cy="19.0" r="2.05" fill="url(#gY)"/>
<circle cx="601.0" cy="21.9" r="2.05" fill="url(#gY)"/>
<circle cx="605.4" cy="21.2" r="2.05" fill="url(#gY)"/>
<circle cx="594.5" cy="21.2" r="2.05" fill="url(#gY)"/>
<circle cx="581.3" cy="25.6" r="2.05" fill="url(#gY)"/>
<circle cx="582.8" cy="29.2" r="2.05" fill="url(#gY)"/>
<circle cx="590.1" cy="24.9" r="2.05" fill="url(#gY)"/>
<circle cx="599.6" cy="29.2" r="2.05" fill="url(#gY)"/>
<circle cx="612.0" cy="27.8" r="2.05" fill="url(#gY)"/>
<circle cx="617.9" cy="27.8" r="2.05" fill="url(#gY)"/>
<circle cx="603.2" cy="32.2" r="2.05" fill="url(#gY)"/>
<circle cx="589.4" cy="31.4" r="2.05" fill="url(#gY)"/>
<circle cx="620.1" cy="33.6" r="2.05" fill="url(#gY)"/>
<circle cx="576.9" cy="42.4" r="2.05" fill="url(#gY)"/>
<circle cx="587.2" cy="42.4" r="2.05" fill="url(#gY)"/>
<circle cx="587.9" cy="46.8" r="2.05" fill="url(#gY)"/>
<circle cx="586.4" cy="49.0" r="2.05" fill="url(#gY)"/>
<circle cx="599.6" cy="47.5" r="2.05" fill="url(#gY)"/>
<circle cx="612.7" cy="44.6" r="2.05" fill="url(#gY)"/>
<circle cx="620.8" cy="40.9" r="2.05" fill="url(#gY)"/>
<circle cx="609.1" cy="52.6" r="2.05" fill="url(#gY)"/>
<circle cx="617.9" cy="50.4" r="2.05" fill="url(#gY)"/>
<circle cx="638.5" cy="1.5" r="2.05" fill="url(#gY)"/>
<circle cx="645.1" cy="0.7" r="2.05" fill="url(#gY)"/>
<circle cx="648.0" cy="4.4" r="2.05" fill="url(#gY)"/>
<circle cx="640.0" cy="5.8" r="2.05" fill="url(#gY)"/>
<circle cx="635.6" cy="6.6" r="2.05" fill="url(#gY)"/>
<circle cx="635.6" cy="9.5" r="2.05" fill="url(#gY)"/>
<circle cx="630.5" cy="8.8" r="2.05" fill="url(#gY)"/>
<circle cx="648.0" cy="11.0" r="2.05" fill="url(#gY)"/>
<circle cx="659.7" cy="12.4" r="2.05" fill="url(#gY)"/>
<circle cx="663.4" cy="13.9" r="2.05" fill="url(#gY)"/>
<circle cx="655.3" cy="14.6" r="2.05" fill="url(#gY)"/>
<circle cx="650.9" cy="14.6" r="2.05" fill="url(#gY)"/>
<circle cx="667.7" cy="11.7" r="2.05" fill="url(#gY)"/>
<circle cx="671.4" cy="6.6" r="2.05" fill="url(#gY)"/>
<circle cx="672.9" cy="3.7" r="2.05" fill="url(#gY)"/>
<circle cx="680.2" cy="5.8" r="2.05" fill="url(#gY)"/>
<circle cx="676.5" cy="14.6" r="2.05" fill="url(#gY)"/>
<circle cx="669.9" cy="7.3" r="2.05" fill="url(#gY)"/>
<circle cx="658.2" cy="0.7" r="2.05" fill="url(#gY)"/>
<circle cx="631.9" cy="12.4" r="2.05" fill="url(#gY)"/>
<circle cx="638.5" cy="19.0" r="2.05" fill="url(#gY)"/>
<circle cx="649.5" cy="21.2" r="2.05" fill="url(#gY)"/>
<circle cx="650.2" cy="23.4" r="2.05" fill="url(#gY)"/>
<circle cx="657.5" cy="25.6" r="2.05" fill="url(#gY)"/>
<circle cx="660.4" cy="25.6" r="2.05" fill="url(#gY)"/>
<circle cx="659.0" cy="27.8" r="2.05" fill="url(#gY)"/>
<circle cx="656.8" cy="31.4" r="2.05" fill="url(#gY)"/>
<circle cx="662.6" cy="30.7" r="2.05" fill="url(#gY)"/>
<circle cx="675.1" cy="24.1" r="2.05" fill="url(#gY)"/>
<circle cx="676.5" cy="27.8" r="2.05" fill="url(#gY)"/>
<circle cx="679.4" cy="30.7" r="2.05" fill="url(#gY)"/>
<circle cx="675.8" cy="32.2" r="2.05" fill="url(#gY)"/>
<circle cx="634.1" cy="27.0" r="2.05" fill="url(#gY)"/>
<circle cx="641.4" cy="30.0" r="2.05" fill="url(#gY)"/>
<circle cx="642.2" cy="32.9" r="2.05" fill="url(#gY)"/>
<circle cx="648.0" cy="32.2" r="2.05" fill="url(#gY)"/>
<circle cx="639.2" cy="34.4" r="2.05" fill="url(#gY)"/>
<circle cx="643.6" cy="35.8" r="2.05" fill="url(#gY)"/>
<circle cx="635.6" cy="39.5" r="2.05" fill="url(#gY)"/>
<circle cx="634.1" cy="43.9" r="2.05" fill="url(#gY)"/>
<circle cx="642.2" cy="46.1" r="2.05" fill="url(#gY)"/>
<circle cx="647.3" cy="46.8" r="2.05" fill="url(#gY)"/>
<circle cx="657.5" cy="42.4" r="2.05" fill="url(#gY)"/>
<circle cx="663.4" cy="45.3" r="2.05" fill="url(#gY)"/>
<circle cx="669.9" cy="51.2" r="2.05" fill="url(#gY)"/>
<circle cx="677.2" cy="55.6" r="2.05" fill="url(#gY)"/>
<circle cx="678.7" cy="40.2" r="2.05" fill="url(#gY)"/>
<circle cx="679.4" cy="14.6" r="2.05" fill="url(#gY)"/>
<circle cx="681.6" cy="22.7" r="2.05" fill="url(#gY)"/>
<circle cx="586.8" cy="56.3" r="2.05" fill="url(#gY)"/>
<circle cx="636.3" cy="55.0" r="2.05" fill="url(#gY)"/>
<circle cx="633.8" cy="62.0" r="2.05" fill="url(#gY)"/>
<circle cx="657.6" cy="61.4" r="2.05" fill="url(#gY)"/>
<circle cx="670.7" cy="66.0" r="2.05" fill="url(#gY)"/>
<circle cx="677.4" cy="56.3" r="2.05" fill="url(#gY)"/>
<circle cx="609.4" cy="73.5" r="2.05" fill="url(#gY)"/>
<circle cx="653.0" cy="77.3" r="2.05" fill="url(#gY)"/>
<circle cx="680.0" cy="78.2" r="2.05" fill="url(#gY)"/>
<circle cx="653.0" cy="86.9" r="2.05" fill="url(#gY)"/>
<circle cx="649.6" cy="0.8" r="2.05" fill="url(#gY)"/>
<circle cx="617.9" cy="6.7" r="2.05" fill="url(#gY)"/>
<circle cx="658.1" cy="20.3" r="2.05" fill="url(#gY)"/>
<circle cx="671.6" cy="2.6" r="2.05" fill="url(#gY)"/>
<circle cx="630.7" cy="0.9" r="2.05" fill="url(#gY)"/>
<circle cx="613.0" cy="15.2" r="2.05" fill="url(#gY)"/>
<circle cx="596.3" cy="6.0" r="2.05" fill="url(#gY)"/>
<circle cx="650.5" cy="16.3" r="2.05" fill="url(#gY)"/>
<circle cx="613.2" cy="17.7" r="2.05" fill="url(#gY)"/>
<circle cx="664.4" cy="0.2" r="2.05" fill="url(#gY)"/>
<circle cx="664.1" cy="20.9" r="2.05" fill="url(#gY)"/>
<circle cx="623.6" cy="4.7" r="2.05" fill="url(#gY)"/>
<circle cx="677.3" cy="10.1" r="2.05" fill="url(#gY)"/>
<circle cx="602.1" cy="2.9" r="2.05" fill="url(#gY)"/>
<circle cx="667.7" cy="18.1" r="2.05" fill="url(#gY)"/>
<circle cx="664.2" cy="21.9" r="2.05" fill="url(#gY)"/>
<circle cx="640.7" cy="29.2" r="2.05" fill="url(#gY)"/>
<circle cx="626.9" cy="16.6" r="2.05" fill="url(#gY)"/>
<circle cx="666.2" cy="18.6" r="2.05" fill="url(#gY)"/>
<circle cx="669.0" cy="17.3" r="2.05" fill="url(#gY)"/>
<circle cx="655.3" cy="1.4" r="2.05" fill="url(#gY)"/>
<circle cx="613.8" cy="8.7" r="2.05" fill="url(#gY)"/>
<circle cx="600.9" cy="7.0" r="2.05" fill="url(#gY)"/>
<circle cx="602.8" cy="8.3" r="2.05" fill="url(#gY)"/>
<circle cx="649.3" cy="10.9" r="2.05" fill="url(#gY)"/>
<circle cx="626.2" cy="6.3" r="2.05" fill="url(#gY)"/>
<circle cx="617.2" cy="28.1" r="2.05" fill="url(#gY)"/>
<circle cx="650.4" cy="18.3" r="2.05" fill="url(#gY)"/>
<circle cx="608.9" cy="21.9" r="2.05" fill="url(#gY)"/>
<circle cx="608.2" cy="11.4" r="2.05" fill="url(#gY)"/>
<circle cx="680.1" cy="19.2" r="2.05" fill="url(#gY)"/>
<circle cx="642.5" cy="20.5" r="2.05" fill="url(#gY)"/>
<circle cx="667.3" cy="23.3" r="2.05" fill="url(#gY)"/>
<circle cx="613.9" cy="1.0" r="2.05" fill="url(#gY)"/>
<circle cx="621.4" cy="8.0" r="2.05" fill="url(#gY)"/>
<circle cx="612.4" cy="28.3" r="2.05" fill="url(#gY)"/>
<circle cx="670.2" cy="9.4" r="2.05" fill="url(#gY)"/>
<circle cx="651.0" cy="11.9" r="2.05" fill="url(#gY)"/>
<circle cx="673.6" cy="13.8" r="2.05" fill="url(#gY)"/>
<circle cx="617.0" cy="7.4" r="2.05" fill="url(#gY)"/>
<circle cx="642.8" cy="7.9" r="2.05" fill="url(#gY)"/>
<circle cx="644.9" cy="26.9" r="2.05" fill="url(#gY)"/>
<circle cx="628.7" cy="6.6" r="2.05" fill="url(#gY)"/>
<circle cx="680.8" cy="15.3" r="2.05" fill="url(#gY)"/>
<circle cx="601.9" cy="1.4" r="2.05" fill="url(#gY)"/>
<circle cx="589.7" cy="26.0" r="2.05" fill="url(#gY)"/>
<circle cx="590.0" cy="25.9" r="2.05" fill="url(#gY)"/>
<circle cx="576.0" cy="23.2" r="2.05" fill="url(#gY)"/>
<circle cx="576.4" cy="31.1" r="2.05" fill="url(#gY)"/>
<circle cx="591.8" cy="29.8" r="2.05" fill="url(#gY)"/>
<circle cx="581.5" cy="19.8" r="2.05" fill="url(#gY)"/>
<circle cx="591.8" cy="31.3" r="2.05" fill="url(#gY)"/>
<circle cx="577.5" cy="25.3" r="2.05" fill="url(#gY)"/>
<circle cx="577.2" cy="28.9" r="2.05" fill="url(#gY)"/>
<circle cx="589.8" cy="20.7" r="2.05" fill="url(#gY)"/>
<circle cx="598.1" cy="1.5" r="2.1" fill="url(#gP)"/>
<circle cx="595.2" cy="5.8" r="2.1" fill="url(#gP)"/>
<circle cx="601.8" cy="5.8" r="2.1" fill="url(#gP)"/>
<circle cx="596.7" cy="8.8" r="2.1" fill="url(#gP)"/>
<circle cx="614.2" cy="4.4" r="2.1" fill="url(#gP)"/>
<circle cx="617.9" cy="1.5" r="2.1" fill="url(#gP)"/>
<circle cx="618.6" cy="8.8" r="2.1" fill="url(#gP)"/>
<circle cx="613.5" cy="12.4" r="2.1" fill="url(#gP)"/>
<circle cx="614.9" cy="14.6" r="2.1" fill="url(#gP)"/>
<circle cx="597.4" cy="14.6" r="2.1" fill="url(#gP)"/>
<circle cx="599.6" cy="16.1" r="2.1" fill="url(#gP)"/>
<circle cx="624.4" cy="12.4" r="2.1" fill="url(#gP)"/>
<circle cx="628.1" cy="8.8" r="2.1" fill="url(#gP)"/>
<circle cx="623.7" cy="18.3" r="2.1" fill="url(#gP)"/>
<circle cx="588.6" cy="19.0" r="2.1" fill="url(#gP)"/>
<circle cx="587.2" cy="22.7" r="2.1" fill="url(#gP)"/>
<circle cx="578.4" cy="22.7" r="2.1" fill="url(#gP)"/>
<circle cx="585.0" cy="27.0" r="2.1" fill="url(#gP)"/>
<circle cx="594.5" cy="25.6" r="2.1" fill="url(#gP)"/>
<circle cx="590.8" cy="30.0" r="2.1" fill="url(#gP)"/>
<circle cx="607.6" cy="24.9" r="2.1" fill="url(#gP)"/>
<circle cx="609.1" cy="30.7" r="2.1" fill="url(#gP)"/>
<circle cx="613.5" cy="31.4" r="2.1" fill="url(#gP)"/>
<circle cx="616.4" cy="30.7" r="2.1" fill="url(#gP)"/>
<circle cx="621.5" cy="24.9" r="2.1" fill="url(#gP)"/>
<circle cx="624.4" cy="28.5" r="2.1" fill="url(#gP)"/>
<circle cx="624.4" cy="32.9" r="2.1" fill="url(#gP)"/>
<circle cx="576.9" cy="35.1" r="2.1" fill="url(#gP)"/>
<circle cx="581.3" cy="37.3" r="2.1" fill="url(#gP)"/>
<circle cx="586.4" cy="35.8" r="2.1" fill="url(#gP)"/>
<circle cx="603.2" cy="39.5" r="2.1" fill="url(#gP)"/>
<circle cx="608.4" cy="38.7" r="2.1" fill="url(#gP)"/>
<circle cx="609.8" cy="40.2" r="2.1" fill="url(#gP)"/>
<circle cx="620.8" cy="36.5" r="2.1" fill="url(#gP)"/>
<circle cx="625.2" cy="42.4" r="2.1" fill="url(#gP)"/>
<circle cx="582.8" cy="51.9" r="2.1" fill="url(#gP)"/>
<circle cx="595.9" cy="50.4" r="2.1" fill="url(#gP)"/>
<circle cx="609.8" cy="51.9" r="2.1" fill="url(#gP)"/>
<circle cx="612.7" cy="51.2" r="2.1" fill="url(#gP)"/>
<circle cx="598.1" cy="54.8" r="2.1" fill="url(#gP)"/>
<circle cx="631.9" cy="6.6" r="2.1" fill="url(#gP)"/>
<circle cx="643.6" cy="5.8" r="2.1" fill="url(#gP)"/>
<circle cx="652.4" cy="4.4" r="2.1" fill="url(#gP)"/>
<circle cx="656.0" cy="5.8" r="2.1" fill="url(#gP)"/>
<circle cx="660.4" cy="4.4" r="2.1" fill="url(#gP)"/>
<circle cx="664.1" cy="2.9" r="2.1" fill="url(#gP)"/>
<circle cx="661.9" cy="0.7" r="2.1" fill="url(#gP)"/>
<circle cx="672.9" cy="0.7" r="2.1" fill="url(#gP)"/>
<circle cx="676.5" cy="5.8" r="2.1" fill="url(#gP)"/>
<circle cx="675.8" cy="10.2" r="2.1" fill="url(#gP)"/>
<circle cx="640.7" cy="11.0" r="2.1" fill="url(#gP)"/>
<circle cx="642.9" cy="13.9" r="2.1" fill="url(#gP)"/>
<circle cx="640.0" cy="13.9" r="2.1" fill="url(#gP)"/>
<circle cx="645.8" cy="9.5" r="2.1" fill="url(#gP)"/>
<circle cx="648.0" cy="13.9" r="2.1" fill="url(#gP)"/>
<circle cx="653.9" cy="9.5" r="2.1" fill="url(#gP)"/>
<circle cx="656.8" cy="11.0" r="2.1" fill="url(#gP)"/>
<circle cx="669.2" cy="11.0" r="2.1" fill="url(#gP)"/>
<circle cx="672.9" cy="12.4" r="2.1" fill="url(#gP)"/>
<circle cx="631.9" cy="16.8" r="2.1" fill="url(#gP)"/>
<circle cx="635.6" cy="17.5" r="2.1" fill="url(#gP)"/>
<circle cx="630.5" cy="20.5" r="2.1" fill="url(#gP)"/>
<circle cx="643.6" cy="18.3" r="2.1" fill="url(#gP)"/>
<circle cx="642.9" cy="20.5" r="2.1" fill="url(#gP)"/>
<circle cx="654.6" cy="19.0" r="2.1" fill="url(#gP)"/>
<circle cx="659.7" cy="18.3" r="2.1" fill="url(#gP)"/>
<circle cx="662.6" cy="19.0" r="2.1" fill="url(#gP)"/>
<circle cx="666.3" cy="19.0" r="2.1" fill="url(#gP)"/>
<circle cx="660.4" cy="21.2" r="2.1" fill="url(#gP)"/>
<circle cx="669.9" cy="21.2" r="2.1" fill="url(#gP)"/>
<circle cx="677.2" cy="18.3" r="2.1" fill="url(#gP)"/>
<circle cx="680.9" cy="17.5" r="2.1" fill="url(#gP)"/>
<circle cx="652.4" cy="22.7" r="2.1" fill="url(#gP)"/>
<circle cx="645.1" cy="24.9" r="2.1" fill="url(#gP)"/>
<circle cx="647.3" cy="24.9" r="2.1" fill="url(#gP)"/>
<circle cx="637.8" cy="27.0" r="2.1" fill="url(#gP)"/>
<circle cx="643.6" cy="27.8" r="2.1" fill="url(#gP)"/>
<circle cx="655.3" cy="24.9" r="2.1" fill="url(#gP)"/>
<circle cx="653.1" cy="29.2" r="2.1" fill="url(#gP)"/>
<circle cx="668.5" cy="26.3" r="2.1" fill="url(#gP)"/>
<circle cx="670.7" cy="27.8" r="2.1" fill="url(#gP)"/>
<circle cx="669.2" cy="30.0" r="2.1" fill="url(#gP)"/>
<circle cx="680.2" cy="27.8" r="2.1" fill="url(#gP)"/>
<circle cx="629.7" cy="30.7" r="2.1" fill="url(#gP)"/>
<circle cx="637.0" cy="31.4" r="2.1" fill="url(#gP)"/>
<circle cx="645.8" cy="31.4" r="2.1" fill="url(#gP)"/>
<circle cx="650.9" cy="35.1" r="2.1" fill="url(#gP)"/>
<circle cx="678.7" cy="35.1" r="2.1" fill="url(#gP)"/>
<circle cx="659.7" cy="43.9" r="2.1" fill="url(#gP)"/>
<circle cx="630.5" cy="50.4" r="2.1" fill="url(#gP)"/>
<circle cx="672.9" cy="51.2" r="2.1" fill="url(#gP)"/>
<circle cx="576.4" cy="55.8" r="2.1" fill="url(#gP)"/>
<circle cx="617.0" cy="55.0" r="2.1" fill="url(#gP)"/>
<circle cx="628.4" cy="56.3" r="2.1" fill="url(#gP)"/>
<circle cx="642.5" cy="58.7" r="2.1" fill="url(#gP)"/>
<circle cx="649.7" cy="63.4" r="2.1" fill="url(#gP)"/>
<circle cx="652.3" cy="61.7" r="2.1" fill="url(#gP)"/>
<circle cx="676.6" cy="63.0" r="2.1" fill="url(#gP)"/>
<circle cx="576.7" cy="66.8" r="2.1" fill="url(#gP)"/>
<circle cx="581.4" cy="68.4" r="2.1" fill="url(#gP)"/>
<circle cx="598.2" cy="68.4" r="2.1" fill="url(#gP)"/>
<circle cx="609.0" cy="65.0" r="2.1" fill="url(#gP)"/>
<circle cx="618.3" cy="64.6" r="2.1" fill="url(#gP)"/>
<circle cx="618.3" cy="71.0" r="2.1" fill="url(#gP)"/>
<circle cx="629.6" cy="69.8" r="2.1" fill="url(#gP)"/>
<circle cx="639.7" cy="71.8" r="2.1" fill="url(#gP)"/>
<circle cx="578.4" cy="76.3" r="2.1" fill="url(#gP)"/>
<circle cx="580.9" cy="84.4" r="2.1" fill="url(#gP)"/>
<circle cx="589.0" cy="83.2" r="2.1" fill="url(#gP)"/>
<circle cx="632.6" cy="85.2" r="2.1" fill="url(#gP)"/>
<circle cx="656.5" cy="83.5" r="2.1" fill="url(#gP)"/>
<circle cx="659.3" cy="88.2" r="2.1" fill="url(#gP)"/>
<circle cx="661.8" cy="90.6" r="2.1" fill="url(#gP)"/>
<circle cx="679.5" cy="89.7" r="2.1" fill="url(#gP)"/>
<circle cx="605.6" cy="94.0" r="2.1" fill="url(#gP)"/>
<circle cx="638.0" cy="93.3" r="2.1" fill="url(#gP)"/>
<circle cx="647.6" cy="96.6" r="2.1" fill="url(#gP)"/>
<circle cx="617.5" cy="102.3" r="2.1" fill="url(#gP)"/>
<circle cx="603.5" cy="18.8" r="2.1" fill="url(#gP)"/>
<circle cx="662.9" cy="12.7" r="2.1" fill="url(#gP)"/>
<circle cx="599.5" cy="11.4" r="2.1" fill="url(#gP)"/>
<circle cx="680.7" cy="15.9" r="2.1" fill="url(#gP)"/>
<circle cx="678.5" cy="25.8" r="2.1" fill="url(#gP)"/>
<circle cx="595.0" cy="21.6" r="2.1" fill="url(#gP)"/>
<circle cx="653.3" cy="16.1" r="2.1" fill="url(#gP)"/>
<circle cx="617.2" cy="19.2" r="2.1" fill="url(#gP)"/>
<circle cx="603.7" cy="13.0" r="2.1" fill="url(#gP)"/>
<circle cx="633.5" cy="28.6" r="2.1" fill="url(#gP)"/>
<circle cx="670.2" cy="7.9" r="2.1" fill="url(#gP)"/>
<circle cx="637.6" cy="5.4" r="2.1" fill="url(#gP)"/>
<circle cx="673.4" cy="26.1" r="2.1" fill="url(#gP)"/>
<circle cx="620.0" cy="19.2" r="2.1" fill="url(#gP)"/>
<circle cx="647.0" cy="4.6" r="2.1" fill="url(#gP)"/>
<circle cx="595.2" cy="117.7" r="1.4" fill="url(#gP)"/>
<circle cx="651.8" cy="157.2" r="1.4" fill="url(#gP)"/>
</g>
<rect x="573.6" y="0" width="19" height="18" fill="#fff"/>
<text x="577.0" y="16.4" font-size="21" font-weight="bold" fill="#000">d</text>
<text x="579.0" y="133.4" font-size="12.5" font-weight="bold" fill="#000">K<tspan dy="-4.6" font-size="8.6">+</tspan><tspan dy="4.6">/Mg</tspan><tspan dy="-4.6" font-size="8.6">2+</tspan></text>
<defs><clipPath id="clip_e"><rect x="37" y="196.3" width="189.2" height="152.3"/></clipPath><clipPath id="clip_f"><rect x="268.2" y="196.6" width="187" height="150.2"/></clipPath><clipPath id="clip_g"><rect x="495.8" y="196.3" width="187.4" height="150.1"/></clipPath></defs>
<g clip-path="url(#clip_e)">
<polyline points="36.2,349.4 39.4,347.2 42.6,345.0 45.7,342.8 48.9,340.7 52.1,338.5 55.3,336.3 58.5,334.1 61.6,331.9 64.8,329.7 68.0,327.5 71.2,325.4 74.4,323.2 77.5,321.0 80.7,318.8 83.9,316.6 87.1,314.4 90.3,312.2 93.4,310.1 96.6,307.9 99.8,305.7 103.0,303.5 106.2,301.3 109.3,299.1 112.5,297.0 115.7,294.8 118.9,292.6 122.1,290.4 125.2,288.2 128.4,286.0 131.6,283.8 134.8,281.7 138.0,279.5 141.1,277.3 144.3,275.1 147.5,272.9 150.7,270.7 153.9,268.5 157.0,266.4 160.2,264.2 163.4,262.0 166.6,259.8 169.8,257.6 172.9,255.4 176.1,253.2 179.3,251.1 182.5,248.9 185.7,246.7 188.8,244.5 192.0,242.3 195.2,240.1 198.4,237.9 201.6,235.8 204.7,233.6 207.9,231.4 211.1,229.2 214.3,227.0 217.5,224.8 220.6,222.6 223.8,220.5 227.0,218.3" fill="none" stroke="#b6a4e4" stroke-width="1.0" stroke-dasharray="1 1.3"/>
<polyline points="36.2,349.4 39.4,347.4 42.6,345.5 45.7,343.5 48.9,341.6 52.1,339.6 55.3,337.7 58.5,335.7 61.6,333.7 64.8,331.8 68.0,329.8 71.2,327.9 74.4,325.9 77.5,324.0 80.7,322.0 83.9,320.0 87.1,318.1 90.3,316.1 93.4,314.2 96.6,312.2 99.8,310.3 103.0,308.3 106.2,306.4 109.3,304.4 112.5,302.4 115.7,300.5 118.9,298.5 122.1,296.6 125.2,294.6 128.4,292.7 131.6,290.7 134.8,288.7 138.0,286.8 141.1,284.8 144.3,282.9 147.5,280.9 150.7,279.0 153.9,277.0 157.0,275.0 160.2,273.1 163.4,271.1 166.6,269.2 169.8,267.2 172.9,265.3 176.1,263.3 179.3,261.3 182.5,259.4 185.7,257.4 188.8,255.5 192.0,253.5 195.2,251.6 198.4,249.6 201.6,247.6 204.7,245.7 207.9,243.7 211.1,241.8 214.3,239.8 217.5,237.9 220.6,235.9 223.8,233.9 227.0,232.0" fill="none" stroke="#8cc4e8" stroke-width="1.0" stroke-dasharray="1 1.3"/>
<polyline points="36.2,349.4 39.4,348.4 42.6,347.5 45.7,346.5 48.9,345.6 52.1,344.6 55.3,343.7 58.5,342.7 61.6,341.7 64.8,340.8 68.0,339.8 71.2,338.9 74.4,337.9 77.5,337.0 80.7,336.0 83.9,335.0 87.1,334.1 90.3,333.1 93.4,332.2 96.6,331.2 99.8,330.3 103.0,329.3 106.2,328.3 109.3,327.4 112.5,326.4 115.7,325.5 118.9,324.5 122.1,323.6 125.2,322.6 128.4,321.6 131.6,320.7 134.8,319.7 138.0,318.8 141.1,317.8 144.3,316.9 147.5,315.9 150.7,314.9 153.9,314.0 157.0,313.0 160.2,312.1 163.4,311.1 166.6,310.2 169.8,309.2 172.9,308.2 176.1,307.3 179.3,306.3 182.5,305.4 185.7,304.4 188.8,303.5 192.0,302.5 195.2,301.6 198.4,300.6 201.6,299.6 204.7,298.7 207.9,297.7 211.1,296.8 214.3,295.8 217.5,294.9 220.6,293.9 223.8,292.9 227.0,292.0" fill="none" stroke="#e8b08a" stroke-width="1.0" stroke-dasharray="1 1.3"/>
<polyline points="36.2,349.4 39.4,348.3 42.6,347.6 45.7,346.9 48.9,346.2 52.1,345.6 55.3,345.0 58.5,344.4 61.6,343.8 64.8,343.3 68.0,342.8 71.2,342.2 74.4,341.7 77.5,341.2 80.7,340.7 83.9,340.2 87.1,339.7 90.3,339.2 93.4,338.8 96.6,338.3 99.8,337.8 103.0,337.4 106.2,336.9 109.3,336.5 112.5,336.0 115.7,335.6 118.9,335.1 122.1,334.7 125.2,334.3 128.4,333.8 131.6,333.4 134.8,333.0 138.0,332.6 141.1,332.1 144.3,331.7 147.5,331.3 150.7,330.9 153.9,330.5 157.0,330.1 160.2,329.7 163.4,329.3 166.6,328.9 169.8,328.5 172.9,328.1 176.1,327.7 179.3,327.3 182.5,326.9 185.7,326.5 188.8,326.1 192.0,325.7 195.2,325.3 198.4,324.9 201.6,324.6 204.7,324.2 207.9,323.8 211.1,323.4 214.3,323.0 217.5,322.7 220.6,322.3 223.8,321.9 227.0,321.5" fill="none" stroke="#d9a6b8" stroke-width="1.1"/>
<polyline points="36.2,349.4 39.4,348.6 42.6,348.0 45.7,347.5 48.9,346.9 52.1,346.4 55.3,346.0 58.5,345.5 61.6,345.0 64.8,344.6 68.0,344.2 71.2,343.7 74.4,343.3 77.5,342.9 80.7,342.5 83.9,342.1 87.1,341.7 90.3,341.3 93.4,340.9 96.6,340.6 99.8,340.2 103.0,339.8 106.2,339.4 109.3,339.1 112.5,338.7 115.7,338.3 118.9,338.0 122.1,337.6 125.2,337.2 128.4,336.9 131.6,336.5 134.8,336.2 138.0,335.8 141.1,335.5 144.3,335.1 147.5,334.8 150.7,334.5 153.9,334.1 157.0,333.8 160.2,333.4 163.4,333.1 166.6,332.8 169.8,332.4 172.9,332.1 176.1,331.8 179.3,331.5 182.5,331.1 185.7,330.8 188.8,330.5 192.0,330.2 195.2,329.8 198.4,329.5 201.6,329.2 204.7,328.9 207.9,328.6 211.1,328.3 214.3,327.9 217.5,327.6 220.6,327.3 223.8,327.0 227.0,326.7" fill="none" stroke="#ecdc70" stroke-width="1.1"/>
<polyline points="36.2,349.4 39.4,347.9 42.6,346.6 45.7,345.5 48.9,344.4 52.1,343.3 55.3,342.3 58.5,341.3 61.6,340.4 64.8,339.4 68.0,338.5 71.2,337.5 74.4,336.6 77.5,335.7 80.7,334.8 83.9,334.0 87.1,333.1 90.3,332.2 93.4,331.4 96.6,330.5 99.8,329.7 103.0,328.9 106.2,328.0 109.3,327.2 112.5,326.4 115.7,325.6 118.9,324.8 122.1,324.0 125.2,323.2 128.4,322.4 131.6,321.6 134.8,320.8 138.0,320.0 141.1,319.2 144.3,318.5 147.5,317.7 150.7,316.9 153.9,316.2 157.0,315.4 160.2,314.6 163.4,313.9 166.6,313.1 169.8,312.4 172.9,311.6 176.1,310.9 179.3,310.1 182.5,309.4 185.7,308.7 188.8,307.9 192.0,307.2 195.2,306.5 198.4,305.7 201.6,305.0 204.7,304.3 207.9,303.6 211.1,302.8 214.3,302.1 217.5,301.4 220.6,300.7 223.8,300.0 227.0,299.3" fill="none" stroke="#3b7cc2" stroke-width="1.2"/>
<polyline points="36.2,349.4 39.4,347.7 42.6,346.4 45.7,345.2 48.9,344.0 52.1,342.9 55.3,341.9 58.5,340.8 61.6,339.8 64.8,338.8 68.0,337.9 71.2,336.9 74.4,336.0 77.5,335.1 80.7,334.2 83.9,333.3 87.1,332.4 90.3,331.5 93.4,330.6 96.6,329.8 99.8,328.9 103.0,328.1 106.2,327.2 109.3,326.4 112.5,325.6 115.7,324.7 118.9,323.9 122.1,323.1 125.2,322.3 128.4,321.5 131.6,320.7 134.8,319.9 138.0,319.1 141.1,318.4 144.3,317.6 147.5,316.8 150.7,316.0 153.9,315.3 157.0,314.5 160.2,313.7 163.4,313.0 166.6,312.2 169.8,311.5 172.9,310.7 176.1,310.0 179.3,309.2 182.5,308.5 185.7,307.8 188.8,307.0 192.0,306.3 195.2,305.6 198.4,304.8 201.6,304.1 204.7,303.4 207.9,302.7 211.1,302.0 214.3,301.2 217.5,300.5 220.6,299.8 223.8,299.1 227.0,298.4" fill="none" stroke="#6a44b4" stroke-width="1.2"/>
</g>
<rect x="36.2" y="195.5" width="190.8" height="153.9" fill="none" stroke="#2a2a2a" stroke-width="1.35"/>
<path d="M36.2 349.4h-3M36.2 315.1h-3M36.2 280.8h-3M36.2 246.6h-3M36.2 212.3h-3M36.2 332.3h-2M36.2 298.0h-2M36.2 263.7h-2M36.2 229.4h-2M36.2 349.4v3M87.1 349.4v3M138.0 349.4v3M188.8 349.4v3M61.6 349.4v2M112.5 349.4v2M163.4 349.4v2M214.3 349.4v2" stroke="#2a2a2a" stroke-width="1.3" fill="none"/>
<text x="30.2" y="353.5" font-size="13.2" text-anchor="end" fill="#1a1a1a">0</text>
<text x="30.2" y="319.2" font-size="13.2" text-anchor="end" fill="#1a1a1a">4</text>
<text x="30.2" y="284.9" font-size="13.2" text-anchor="end" fill="#1a1a1a">8</text>
<text x="30.2" y="250.7" font-size="13.2" text-anchor="end" fill="#1a1a1a">12</text>
<text x="30.2" y="216.4" font-size="13.2" text-anchor="end" fill="#1a1a1a">16</text>
<text x="36.2" y="364.2" font-size="13.2" text-anchor="middle" fill="#1a1a1a">0.0</text>
<text x="87.1" y="364.2" font-size="13.2" text-anchor="middle" fill="#1a1a1a">0.4</text>
<text x="138.0" y="364.2" font-size="13.2" text-anchor="middle" fill="#1a1a1a">0.8</text>
<text x="188.8" y="364.2" font-size="13.2" text-anchor="middle" fill="#1a1a1a">1.2</text>
<text x="131.6" y="380.2" font-size="13.2" text-anchor="middle" fill="#1a1a1a">Time (ns)</text>
<text x="12.0" y="271.9" font-size="13.2" text-anchor="middle" fill="#1a1a1a" transform="rotate(-90 12.0 271.9)">MSD (nm<tspan dy="-5" font-size="9">2</tspan><tspan dy="5">)</tspan></text>
<text x="40.8" y="214.7" font-size="22" font-weight="bold" fill="#000">e</text>
<path d="M81.8 206.5h8.6" stroke="#3b7cc2" stroke-width="1.3"/>
<path d="M95.0 206.5h8.2" stroke="#8cc4e8" stroke-width="1.1" stroke-dasharray="1 1.2"/>
<text x="107.2" y="209.4" font-size="8" font-weight="bold" fill="#3b7cc2">Cl<tspan dy="-3" font-size="5.5">&#8722;</tspan></text>
<path d="M81.8 217.1h8.6" stroke="#d9a6b8" stroke-width="1.3"/>
<path d="M95.0 217.1h8.2" stroke="#e8b0a0" stroke-width="1.1" stroke-dasharray="1 1.2"/>
<text x="107.2" y="220.0" font-size="8" font-weight="bold" fill="#d9a6b8">SO<tspan dy="1.2" font-size="5">4</tspan><tspan dy="-4.2" font-size="5.5">2&#8722;</tspan></text>
<path d="M81.8 227.7h8.6" stroke="#6a44b4" stroke-width="1.3"/>
<path d="M95.0 227.7h8.2" stroke="#b6a4e4" stroke-width="1.1" stroke-dasharray="1 1.2"/>
<text x="107.2" y="230.6" font-size="8" font-weight="bold" fill="#6a44b4">K<tspan dy="-3" font-size="5.5">+</tspan></text>
<path d="M81.8 238.3h8.6" stroke="#ecdc70" stroke-width="1.3"/>
<path d="M95.0 238.3h8.2" stroke="#f0e49a" stroke-width="1.1" stroke-dasharray="1 1.2"/>
<text x="107.2" y="241.2" font-size="8" font-weight="bold" fill="#ecdc70">Mg<tspan dy="-3" font-size="5.5">2+</tspan></text>
<g clip-path="url(#clip_f)">
<polyline points="267.4,347.6 270.5,345.5 273.7,343.3 276.8,341.2 280.0,339.0 283.1,336.9 286.3,334.7 289.4,332.6 292.5,330.4 295.7,328.3 298.8,326.1 302.0,324.0 305.1,321.8 308.3,319.7 311.4,317.5 314.5,315.4 317.7,313.2 320.8,311.1 324.0,309.0 327.1,306.8 330.3,304.7 333.4,302.5 336.6,300.4 339.7,298.2 342.8,296.1 346.0,293.9 349.1,291.8 352.3,289.6 355.4,287.5 358.6,285.3 361.7,283.2 364.8,281.0 368.0,278.9 371.1,276.7 374.3,274.6 377.4,272.5 380.6,270.3 383.7,268.2 386.8,266.0 390.0,263.9 393.1,261.7 396.3,259.6 399.4,257.4 402.6,255.3 405.7,253.1 408.9,251.0 412.0,248.8 415.1,246.7 418.3,244.5 421.4,242.4 424.6,240.2 427.7,238.1 430.9,236.0 434.0,233.8 437.1,231.7 440.3,229.5 443.4,227.4 446.6,225.2 449.7,223.1 452.9,220.9 456.0,218.8" fill="none" stroke="#b6a4e4" stroke-width="1.0" stroke-dasharray="1 1.3"/>
<polyline points="267.4,347.6 270.5,345.7 273.7,343.8 276.8,341.8 280.0,339.9 283.1,338.0 286.3,336.1 289.4,334.1 292.5,332.2 295.7,330.3 298.8,328.4 302.0,326.5 305.1,324.5 308.3,322.6 311.4,320.7 314.5,318.8 317.7,316.8 320.8,314.9 324.0,313.0 327.1,311.1 330.3,309.1 333.4,307.2 336.6,305.3 339.7,303.4 342.8,301.5 346.0,299.5 349.1,297.6 352.3,295.7 355.4,293.8 358.6,291.8 361.7,289.9 364.8,288.0 368.0,286.1 371.1,284.2 374.3,282.2 377.4,280.3 380.6,278.4 383.7,276.5 386.8,274.5 390.0,272.6 393.1,270.7 396.3,268.8 399.4,266.9 402.6,264.9 405.7,263.0 408.9,261.1 412.0,259.2 415.1,257.2 418.3,255.3 421.4,253.4 424.6,251.5 427.7,249.5 430.9,247.6 434.0,245.7 437.1,243.8 440.3,241.9 443.4,239.9 446.6,238.0 449.7,236.1 452.9,234.2 456.0,232.2" fill="none" stroke="#8cc4e8" stroke-width="1.0" stroke-dasharray="1 1.3"/>
<polyline points="267.4,347.6 270.5,346.7 273.7,345.7 276.8,344.8 280.0,343.8 283.1,342.9 286.3,342.0 289.4,341.0 292.5,340.1 295.7,339.1 298.8,338.2 302.0,337.3 305.1,336.3 308.3,335.4 311.4,334.4 314.5,333.5 317.7,332.6 320.8,331.6 324.0,330.7 327.1,329.7 330.3,328.8 333.4,327.9 336.6,326.9 339.7,326.0 342.8,325.0 346.0,324.1 349.1,323.2 352.3,322.2 355.4,321.3 358.6,320.3 361.7,319.4 364.8,318.5 368.0,317.5 371.1,316.6 374.3,315.6 377.4,314.7 380.6,313.8 383.7,312.8 386.8,311.9 390.0,310.9 393.1,310.0 396.3,309.1 399.4,308.1 402.6,307.2 405.7,306.2 408.9,305.3 412.0,304.3 415.1,303.4 418.3,302.5 421.4,301.5 424.6,300.6 427.7,299.6 430.9,298.7 434.0,297.8 437.1,296.8 440.3,295.9 443.4,294.9 446.6,294.0 449.7,293.1 452.9,292.1 456.0,291.2" fill="none" stroke="#e8b08a" stroke-width="1.0" stroke-dasharray="1 1.3"/>
<polyline points="267.4,347.6 270.5,347.2 273.7,346.9 276.8,346.5 280.0,346.2 283.1,345.8 286.3,345.5 289.4,345.1 292.5,344.8 295.7,344.5 298.8,344.1 302.0,343.8 305.1,343.4 308.3,343.1 311.4,342.7 314.5,342.4 317.7,342.1 320.8,341.7 324.0,341.4 327.1,341.1 330.3,340.7 333.4,340.4 336.6,340.0 339.7,339.7 342.8,339.4 346.0,339.0 349.1,338.7 352.3,338.4 355.4,338.0 358.6,337.7 361.7,337.4 364.8,337.0 368.0,336.7 371.1,336.4 374.3,336.0 377.4,335.7 380.6,335.4 383.7,335.0 386.8,334.7 390.0,334.4 393.1,334.0 396.3,333.7 399.4,333.4 402.6,333.0 405.7,332.7 408.9,332.4 412.0,332.0 415.1,331.7 418.3,331.4 421.4,331.0 424.6,330.7 427.7,330.4 430.9,330.0 434.0,329.7 437.1,329.4 440.3,329.0 443.4,328.7 446.6,328.4 449.7,328.1 452.9,327.7 456.0,327.4" fill="none" stroke="#d9a6b8" stroke-width="1.1"/>
<polyline points="267.4,347.6 270.5,347.3 273.7,346.9 276.8,346.6 280.0,346.3 283.1,345.9 286.3,345.6 289.4,345.3 292.5,345.0 295.7,344.6 298.8,344.3 302.0,344.0 305.1,343.7 308.3,343.4 311.4,343.0 314.5,342.7 317.7,342.4 320.8,342.1 324.0,341.8 327.1,341.5 330.3,341.1 333.4,340.8 336.6,340.5 339.7,340.2 342.8,339.9 346.0,339.6 349.1,339.3 352.3,338.9 355.4,338.6 358.6,338.3 361.7,338.0 364.8,337.7 368.0,337.4 371.1,337.1 374.3,336.7 377.4,336.4 380.6,336.1 383.7,335.8 386.8,335.5 390.0,335.2 393.1,334.9 396.3,334.6 399.4,334.2 402.6,333.9 405.7,333.6 408.9,333.3 412.0,333.0 415.1,332.7 418.3,332.4 421.4,332.1 424.6,331.8 427.7,331.4 430.9,331.1 434.0,330.8 437.1,330.5 440.3,330.2 443.4,329.9 446.6,329.6 449.7,329.3 452.9,329.0 456.0,328.7" fill="none" stroke="#ecdc70" stroke-width="1.1"/>
<polyline points="267.4,347.6 270.5,345.2 273.7,343.3 276.8,341.5 280.0,339.8 283.1,338.1 286.3,336.5 289.4,334.9 292.5,333.4 295.7,331.9 298.8,330.4 302.0,328.9 305.1,327.5 308.3,326.0 311.4,324.6 314.5,323.2 317.7,321.8 320.8,320.4 324.0,319.0 327.1,317.7 330.3,316.3 333.4,315.0 336.6,313.7 339.7,312.3 342.8,311.0 346.0,309.7 349.1,308.4 352.3,307.1 355.4,305.8 358.6,304.6 361.7,303.3 364.8,302.0 368.0,300.8 371.1,299.5 374.3,298.3 377.4,297.0 380.6,295.8 383.7,294.5 386.8,293.3 390.0,292.1 393.1,290.9 396.3,289.6 399.4,288.4 402.6,287.2 405.7,286.0 408.9,284.8 412.0,283.6 415.1,282.4 418.3,281.2 421.4,280.0 424.6,278.9 427.7,277.7 430.9,276.5 434.0,275.3 437.1,274.2 440.3,273.0 443.4,271.8 446.6,270.7 449.7,269.5 452.9,268.3 456.0,267.2" fill="none" stroke="#6a44b4" stroke-width="1.2"/>
<polyline points="267.4,347.6 270.5,346.7 273.7,345.5 276.8,344.1 280.0,342.7 283.1,341.1 286.3,339.5 289.4,337.8 292.5,336.1 295.7,334.3 298.8,332.5 302.0,330.6 305.1,328.7 308.3,326.8 311.4,324.8 314.5,322.8 317.7,320.7 320.8,318.7 324.0,316.6 327.1,314.5 330.3,312.3 333.4,310.2 336.6,308.0 339.7,305.8 342.8,303.6 346.0,301.3 349.1,299.0 352.3,296.7 355.4,294.4 358.6,292.1 361.7,289.8 364.8,287.4 368.0,285.0 371.1,282.6 374.3,280.2 377.4,277.8 380.6,275.4 383.7,272.9 386.8,270.4 390.0,267.9 393.1,265.5 396.3,262.9 399.4,260.4 402.6,257.9 405.7,255.3 408.9,252.8 412.0,250.2 415.1,247.6 418.3,245.0 421.4,242.4 424.6,239.7 427.7,237.1 430.9,234.5 434.0,231.8 437.1,229.1 440.3,226.4 443.4,223.8 446.6,221.1 449.7,218.3 452.9,215.6 456.0,212.9" fill="none" stroke="#3b7cc2" stroke-width="1.3"/>
</g>
<rect x="267.4" y="196.0" width="188.6" height="151.6" fill="none" stroke="#2a2a2a" stroke-width="1.35"/>
<path d="M267.4 347.6h-3M267.4 313.9h-3M267.4 280.2h-3M267.4 246.6h-3M267.4 212.9h-3M267.4 330.8h-2M267.4 297.1h-2M267.4 263.4h-2M267.4 229.7h-2M267.4 347.6v3M317.7 347.6v3M368.0 347.6v3M418.3 347.6v3M292.5 347.6v2M342.8 347.6v2M393.1 347.6v2M443.4 347.6v2" stroke="#2a2a2a" stroke-width="1.3" fill="none"/>
<text x="261.8" y="351.7" font-size="13.2" text-anchor="end" fill="#1a1a1a">0</text>
<text x="261.8" y="318.0" font-size="13.2" text-anchor="end" fill="#1a1a1a">4</text>
<text x="261.8" y="284.3" font-size="13.2" text-anchor="end" fill="#1a1a1a">8</text>
<text x="261.8" y="250.7" font-size="13.2" text-anchor="end" fill="#1a1a1a">12</text>
<text x="261.8" y="217.0" font-size="13.2" text-anchor="end" fill="#1a1a1a">16</text>
<text x="267.4" y="362.4" font-size="13.2" text-anchor="middle" fill="#1a1a1a">0.0</text>
<text x="317.7" y="362.4" font-size="13.2" text-anchor="middle" fill="#1a1a1a">0.4</text>
<text x="368.0" y="362.4" font-size="13.2" text-anchor="middle" fill="#1a1a1a">0.8</text>
<text x="418.3" y="362.4" font-size="13.2" text-anchor="middle" fill="#1a1a1a">1.2</text>
<text x="361.7" y="378.4" font-size="13.2" text-anchor="middle" fill="#1a1a1a">Time (ns)</text>
<text x="243.2" y="271.3" font-size="13.2" text-anchor="middle" fill="#1a1a1a" transform="rotate(-90 243.2 271.3)">MSD (nm<tspan dy="-5" font-size="9">2</tspan><tspan dy="5">)</tspan></text>
<text x="274.9" y="217.0" font-size="22" font-weight="bold" fill="#000">f</text>
<path d="M313.9 204.4h8.6" stroke="#3b7cc2" stroke-width="1.3"/>
<path d="M325.3 204.4h8.2" stroke="#8cc4e8" stroke-width="1.1" stroke-dasharray="1 1.2"/>
<text x="337.4" y="207.3" font-size="8" font-weight="bold" fill="#3b7cc2">Cl<tspan dy="-3" font-size="5.5">&#8722;</tspan></text>
<path d="M313.9 216.0h8.6" stroke="#d9a6b8" stroke-width="1.3"/>
<path d="M325.3 216.0h8.2" stroke="#e8b0a0" stroke-width="1.1" stroke-dasharray="1 1.2"/>
<text x="337.4" y="218.9" font-size="8" font-weight="bold" fill="#d9a6b8">SO<tspan dy="1.2" font-size="5">4</tspan><tspan dy="-4.2" font-size="5.5">2&#8722;</tspan></text>
<path d="M313.9 227.5h8.6" stroke="#6a44b4" stroke-width="1.3"/>
<path d="M325.3 227.5h8.2" stroke="#b6a4e4" stroke-width="1.1" stroke-dasharray="1 1.2"/>
<text x="337.4" y="230.4" font-size="8" font-weight="bold" fill="#6a44b4">K<tspan dy="-3" font-size="5.5">+</tspan></text>
<path d="M313.9 239.1h8.6" stroke="#ecdc70" stroke-width="1.3"/>
<path d="M325.3 239.1h8.2" stroke="#f0e49a" stroke-width="1.1" stroke-dasharray="1 1.2"/>
<text x="337.4" y="242.0" font-size="8" font-weight="bold" fill="#ecdc70">Mg<tspan dy="-3" font-size="5.5">2+</tspan></text>
<g clip-path="url(#clip_g)">
<polyline points="495.0,347.2 498.1,345.1 501.3,342.9 504.4,340.8 507.6,338.6 510.8,336.5 513.9,334.3 517.0,332.2 520.2,330.0 523.4,327.9 526.5,325.7 529.6,323.6 532.8,321.4 536.0,319.3 539.1,317.1 542.2,315.0 545.4,312.8 548.5,310.7 551.7,308.5 554.9,306.4 558.0,304.2 561.1,302.1 564.3,299.9 567.5,297.8 570.6,295.6 573.8,293.5 576.9,291.3 580.0,289.2 583.2,287.0 586.4,284.9 589.5,282.7 592.6,280.6 595.8,278.4 599.0,276.3 602.1,274.1 605.2,272.0 608.4,269.8 611.5,267.7 614.7,265.5 617.9,263.4 621.0,261.2 624.1,259.1 627.3,256.9 630.5,254.8 633.6,252.6 636.8,250.5 639.9,248.3 643.0,246.2 646.2,244.0 649.4,241.9 652.5,239.7 655.6,237.6 658.8,235.4 662.0,233.3 665.1,231.1 668.2,229.0 671.4,226.8 674.5,224.7 677.7,222.5 680.9,220.4 684.0,218.2" fill="none" stroke="#b6a4e4" stroke-width="1.0" stroke-dasharray="1 1.3"/>
<polyline points="495.0,347.2 498.1,345.3 501.3,343.4 504.4,341.4 507.6,339.5 510.8,337.6 513.9,335.7 517.0,333.7 520.2,331.8 523.4,329.9 526.5,328.0 529.6,326.0 532.8,324.1 536.0,322.2 539.1,320.3 542.2,318.3 545.4,316.4 548.5,314.5 551.7,312.6 554.9,310.6 558.0,308.7 561.1,306.8 564.3,304.9 567.5,302.9 570.6,301.0 573.8,299.1 576.9,297.2 580.0,295.2 583.2,293.3 586.4,291.4 589.5,289.5 592.6,287.5 595.8,285.6 599.0,283.7 602.1,281.8 605.2,279.8 608.4,277.9 611.5,276.0 614.7,274.1 617.9,272.1 621.0,270.2 624.1,268.3 627.3,266.4 630.5,264.4 633.6,262.5 636.8,260.6 639.9,258.7 643.0,256.7 646.2,254.8 649.4,252.9 652.5,251.0 655.6,249.0 658.8,247.1 662.0,245.2 665.1,243.3 668.2,241.3 671.4,239.4 674.5,237.5 677.7,235.6 680.9,233.6 684.0,231.7" fill="none" stroke="#8cc4e8" stroke-width="1.0" stroke-dasharray="1 1.3"/>
<polyline points="495.0,347.2 498.1,346.3 501.3,345.3 504.4,344.4 507.6,343.4 510.8,342.5 513.9,341.6 517.0,340.6 520.2,339.7 523.4,338.7 526.5,337.8 529.6,336.8 532.8,335.9 536.0,335.0 539.1,334.0 542.2,333.1 545.4,332.1 548.5,331.2 551.7,330.3 554.9,329.3 558.0,328.4 561.1,327.4 564.3,326.5 567.5,325.5 570.6,324.6 573.8,323.7 576.9,322.7 580.0,321.8 583.2,320.8 586.4,319.9 589.5,319.0 592.6,318.0 595.8,317.1 599.0,316.1 602.1,315.2 605.2,314.3 608.4,313.3 611.5,312.4 614.7,311.4 617.9,310.5 621.0,309.5 624.1,308.6 627.3,307.7 630.5,306.7 633.6,305.8 636.8,304.8 639.9,303.9 643.0,303.0 646.2,302.0 649.4,301.1 652.5,300.1 655.6,299.2 658.8,298.2 662.0,297.3 665.1,296.4 668.2,295.4 671.4,294.5 674.5,293.5 677.7,292.6 680.9,291.7 684.0,290.7" fill="none" stroke="#e8b08a" stroke-width="1.0" stroke-dasharray="1 1.3"/>
<polyline points="495.0,347.2 498.1,346.8 501.3,346.4 504.4,346.0 507.6,345.6 510.8,345.2 513.9,344.8 517.0,344.4 520.2,344.0 523.4,343.6 526.5,343.2 529.6,342.8 532.8,342.4 536.0,342.0 539.1,341.7 542.2,341.3 545.4,340.9 548.5,340.5 551.7,340.1 554.9,339.7 558.0,339.4 561.1,339.0 564.3,338.6 567.5,338.2 570.6,337.8 573.8,337.5 576.9,337.1 580.0,336.7 583.2,336.3 586.4,336.0 589.5,335.6 592.6,335.2 595.8,334.8 599.0,334.5 602.1,334.1 605.2,333.7 608.4,333.3 611.5,333.0 614.7,332.6 617.9,332.2 621.0,331.8 624.1,331.5 627.3,331.1 630.5,330.7 633.6,330.4 636.8,330.0 639.9,329.6 643.0,329.2 646.2,328.9 649.4,328.5 652.5,328.1 655.6,327.8 658.8,327.4 662.0,327.0 665.1,326.7 668.2,326.3 671.4,325.9 674.5,325.5 677.7,325.2 680.9,324.8 684.0,324.4" fill="none" stroke="#d9a6b8" stroke-width="1.1"/>
<polyline points="495.0,347.2 498.1,346.8 501.3,346.4 504.4,346.0 507.6,345.6 510.8,345.2 513.9,344.8 517.0,344.5 520.2,344.1 523.4,343.7 526.5,343.3 529.6,342.9 532.8,342.6 536.0,342.2 539.1,341.8 542.2,341.4 545.4,341.1 548.5,340.7 551.7,340.3 554.9,340.0 558.0,339.6 561.1,339.2 564.3,338.9 567.5,338.5 570.6,338.1 573.8,337.8 576.9,337.4 580.0,337.0 583.2,336.7 586.4,336.3 589.5,335.9 592.6,335.6 595.8,335.2 599.0,334.8 602.1,334.5 605.2,334.1 608.4,333.7 611.5,333.4 614.7,333.0 617.9,332.7 621.0,332.3 624.1,331.9 627.3,331.6 630.5,331.2 633.6,330.9 636.8,330.5 639.9,330.1 643.0,329.8 646.2,329.4 649.4,329.1 652.5,328.7 655.6,328.3 658.8,328.0 662.0,327.6 665.1,327.3 668.2,326.9 671.4,326.5 674.5,326.2 677.7,325.8 680.9,325.5 684.0,325.1" fill="none" stroke="#ecdc70" stroke-width="1.1"/>
<polyline points="495.0,347.2 498.1,345.0 501.3,343.5 504.4,342.3 507.6,341.1 510.8,340.1 513.9,339.1 517.0,338.1 520.2,337.2 523.4,336.3 526.5,335.5 529.6,334.6 532.8,333.8 536.0,333.0 539.1,332.3 542.2,331.5 545.4,330.8 548.5,330.0 551.7,329.3 554.9,328.6 558.0,327.9 561.1,327.2 564.3,326.5 567.5,325.9 570.6,325.2 573.8,324.5 576.9,323.9 580.0,323.2 583.2,322.6 586.4,322.0 589.5,321.4 592.6,320.7 595.8,320.1 599.0,319.5 602.1,318.9 605.2,318.3 608.4,317.7 611.5,317.1 614.7,316.6 617.9,316.0 621.0,315.4 624.1,314.8 627.3,314.3 630.5,313.7 633.6,313.1 636.8,312.6 639.9,312.0 643.0,311.5 646.2,310.9 649.4,310.4 652.5,309.9 655.6,309.3 658.8,308.8 662.0,308.3 665.1,307.7 668.2,307.2 671.4,306.7 674.5,306.2 677.7,305.7 680.9,305.1 684.0,304.6" fill="none" stroke="#3b7cc2" stroke-width="1.2"/>
<polyline points="495.0,347.2 498.1,346.0 501.3,344.9 504.4,343.9 507.6,342.9 510.8,341.8 513.9,340.9 517.0,339.9 520.2,338.9 523.4,338.0 526.5,337.0 529.6,336.1 532.8,335.1 536.0,334.2 539.1,333.3 542.2,332.3 545.4,331.4 548.5,330.5 551.7,329.6 554.9,328.7 558.0,327.8 561.1,326.9 564.3,326.0 567.5,325.1 570.6,324.2 573.8,323.3 576.9,322.4 580.0,321.5 583.2,320.6 586.4,319.8 589.5,318.9 592.6,318.0 595.8,317.1 599.0,316.3 602.1,315.4 605.2,314.5 608.4,313.7 611.5,312.8 614.7,311.9 617.9,311.1 621.0,310.2 624.1,309.3 627.3,308.5 630.5,307.6 633.6,306.8 636.8,305.9 639.9,305.1 643.0,304.2 646.2,303.4 649.4,302.5 652.5,301.7 655.6,300.8 658.8,300.0 662.0,299.1 665.1,298.3 668.2,297.4 671.4,296.6 674.5,295.8 677.7,294.9 680.9,294.1 684.0,293.2" fill="none" stroke="#6a44b4" stroke-width="1.3"/>
</g>
<rect x="495.0" y="195.5" width="189.0" height="151.7" fill="none" stroke="#2a2a2a" stroke-width="1.35"/>
<path d="M495.0 347.2h-3M495.0 313.5h-3M495.0 279.8h-3M495.0 246.0h-3M495.0 212.3h-3M495.0 330.3h-2M495.0 296.6h-2M495.0 262.9h-2M495.0 229.2h-2M495.0 347.2v3M545.4 347.2v3M595.8 347.2v3M646.2 347.2v3M520.2 347.2v2M570.6 347.2v2M621.0 347.2v2M671.4 347.2v2" stroke="#2a2a2a" stroke-width="1.3" fill="none"/>
<text x="489.8" y="351.3" font-size="13.2" text-anchor="end" fill="#1a1a1a">0</text>
<text x="489.8" y="317.6" font-size="13.2" text-anchor="end" fill="#1a1a1a">4</text>
<text x="489.8" y="283.9" font-size="13.2" text-anchor="end" fill="#1a1a1a">8</text>
<text x="489.8" y="250.1" font-size="13.2" text-anchor="end" fill="#1a1a1a">12</text>
<text x="489.8" y="216.4" font-size="13.2" text-anchor="end" fill="#1a1a1a">16</text>
<text x="495.0" y="362.0" font-size="13.2" text-anchor="middle" fill="#1a1a1a">0.0</text>
<text x="545.4" y="362.0" font-size="13.2" text-anchor="middle" fill="#1a1a1a">0.4</text>
<text x="595.8" y="362.0" font-size="13.2" text-anchor="middle" fill="#1a1a1a">0.8</text>
<text x="646.2" y="362.0" font-size="13.2" text-anchor="middle" fill="#1a1a1a">1.2</text>
<text x="589.5" y="378.0" font-size="13.2" text-anchor="middle" fill="#1a1a1a">Time (ns)</text>
<text x="470.8" y="270.9" font-size="13.2" text-anchor="middle" fill="#1a1a1a" transform="rotate(-90 470.8 270.9)">MSD (nm<tspan dy="-5" font-size="9">2</tspan><tspan dy="5">)</tspan></text>
<text x="504.2" y="212.0" font-size="22" font-weight="bold" fill="#000">g</text>
<path d="M543.5 203.1h8.6" stroke="#3b7cc2" stroke-width="1.3"/>
<path d="M555.8 203.1h8.2" stroke="#8cc4e8" stroke-width="1.1" stroke-dasharray="1 1.2"/>
<text x="566.9" y="206.0" font-size="8" font-weight="bold" fill="#3b7cc2">Cl<tspan dy="-3" font-size="5.5">&#8722;</tspan></text>
<path d="M543.5 213.9h8.6" stroke="#d9a6b8" stroke-width="1.3"/>
<path d="M555.8 213.9h8.2" stroke="#e8b0a0" stroke-width="1.1" stroke-dasharray="1 1.2"/>
<text x="566.9" y="216.8" font-size="8" font-weight="bold" fill="#d9a6b8">SO<tspan dy="1.2" font-size="5">4</tspan><tspan dy="-4.2" font-size="5.5">2&#8722;</tspan></text>
<path d="M543.5 224.7h8.6" stroke="#6a44b4" stroke-width="1.3"/>
<path d="M555.8 224.7h8.2" stroke="#b6a4e4" stroke-width="1.1" stroke-dasharray="1 1.2"/>
<text x="566.9" y="227.6" font-size="8" font-weight="bold" fill="#6a44b4">K<tspan dy="-3" font-size="5.5">+</tspan></text>
<path d="M543.5 235.5h8.6" stroke="#ecdc70" stroke-width="1.3"/>
<path d="M555.8 235.5h8.2" stroke="#f0e49a" stroke-width="1.1" stroke-dasharray="1 1.2"/>
<text x="566.9" y="238.4" font-size="8" font-weight="bold" fill="#ecdc70">Mg<tspan dy="-3" font-size="5.5">2+</tspan></text>
</svg>
</body></html>
